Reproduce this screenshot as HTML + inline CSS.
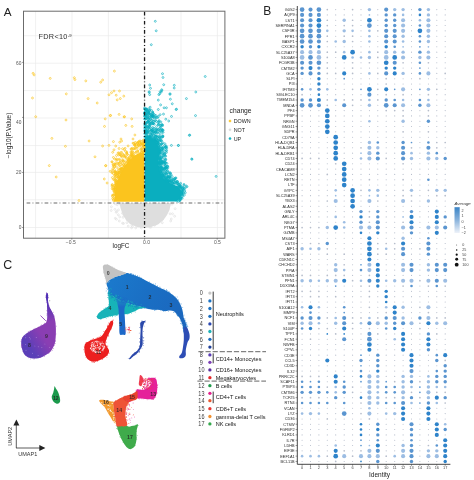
<!DOCTYPE html>
<html><head><meta charset="utf-8"><style>
html,body{margin:0;padding:0;background:#fff;width:474px;height:480px;overflow:hidden}
svg{display:block;filter:blur(0.3px)}
text{font-family:"Liberation Sans", sans-serif}
</style></head><body>
<svg width="474" height="480" viewBox="0 0 474 480" font-family='"Liberation Sans", sans-serif'><g id="A">
<line x1="35.6" y1="11.2" x2="35.6" y2="238.2" stroke="#ebebeb" stroke-width="0.7"/>
<line x1="72.0" y1="11.2" x2="72.0" y2="238.2" stroke="#ebebeb" stroke-width="0.7"/>
<line x1="108.4" y1="11.2" x2="108.4" y2="238.2" stroke="#ebebeb" stroke-width="0.7"/>
<line x1="144.5" y1="11.2" x2="144.5" y2="238.2" stroke="#ebebeb" stroke-width="0.7"/>
<line x1="181.0" y1="11.2" x2="181.0" y2="238.2" stroke="#ebebeb" stroke-width="0.7"/>
<line x1="217.4" y1="11.2" x2="217.4" y2="238.2" stroke="#ebebeb" stroke-width="0.7"/>
<line x1="23.5" y1="35.7" x2="224.9" y2="35.7" stroke="#ebebeb" stroke-width="0.7"/>
<line x1="23.5" y1="63.2" x2="224.9" y2="63.2" stroke="#ebebeb" stroke-width="0.7"/>
<line x1="23.5" y1="90.6" x2="224.9" y2="90.6" stroke="#ebebeb" stroke-width="0.7"/>
<line x1="23.5" y1="118.0" x2="224.9" y2="118.0" stroke="#ebebeb" stroke-width="0.7"/>
<line x1="23.5" y1="145.6" x2="224.9" y2="145.6" stroke="#ebebeb" stroke-width="0.7"/>
<line x1="23.5" y1="172.4" x2="224.9" y2="172.4" stroke="#ebebeb" stroke-width="0.7"/>
<line x1="23.5" y1="199.8" x2="224.9" y2="199.8" stroke="#ebebeb" stroke-width="0.7"/>
<line x1="23.5" y1="227.5" x2="224.9" y2="227.5" stroke="#ebebeb" stroke-width="0.7"/>
<path d="M119.5,203.0 L171.0,203.0 L169.5,210.0 L167.0,215.0 L163.5,220.0 L158.0,224.5 L151.0,227.0 L144.0,227.8 L137.0,227.0 L130.0,224.0 L126.0,220.0 L122.5,214.0 L120.5,208.0 Z" fill="#dedede"/>
<path d="M114.0,201.8 L115.0,192.0 L117.0,182.0 L120.0,174.0 L124.0,167.0 L128.5,161.0 L133.0,156.5 L138.0,153.5 L144.2,152.0 L144.2,201.8 Z" fill="#fbc41e"/>
<path d="M144.6,201.6 L144.6,136.0 L148.0,136.5 L152.5,139.0 L156.0,142.0 L159.0,148.0 L159.0,156.0 L158.5,163.0 L159.5,170.0 L162.0,176.0 L166.0,181.0 L172.0,184.0 L177.0,186.0 L180.5,189.0 L181.5,194.0 L180.0,199.0 L176.0,201.6 Z" fill="#0aaebf"/>
<circle cx="142.1" cy="218.7" r="0.95" fill="none" stroke="#dedede" stroke-width="0.65"/>
<circle cx="146.1" cy="219.4" r="0.95" fill="none" stroke="#dedede" stroke-width="0.65"/>
<circle cx="123.1" cy="217.3" r="0.95" fill="none" stroke="#dedede" stroke-width="0.65"/>
<circle cx="154.7" cy="225.2" r="0.95" fill="none" stroke="#dedede" stroke-width="0.65"/>
<circle cx="116.7" cy="211.5" r="0.95" fill="none" stroke="#dedede" stroke-width="0.65"/>
<circle cx="159.2" cy="204.2" r="0.95" fill="none" stroke="#dedede" stroke-width="0.65"/>
<circle cx="156.4" cy="220.2" r="0.95" fill="none" stroke="#dedede" stroke-width="0.65"/>
<circle cx="121.2" cy="203.4" r="0.95" fill="none" stroke="#dedede" stroke-width="0.65"/>
<circle cx="147.5" cy="204.7" r="0.95" fill="none" stroke="#dedede" stroke-width="0.65"/>
<circle cx="123.5" cy="209.8" r="0.95" fill="none" stroke="#dedede" stroke-width="0.65"/>
<circle cx="141.3" cy="226.6" r="0.95" fill="none" stroke="#dedede" stroke-width="0.65"/>
<circle cx="146.9" cy="220.9" r="0.95" fill="none" stroke="#dedede" stroke-width="0.65"/>
<circle cx="145.5" cy="221.5" r="0.95" fill="none" stroke="#dedede" stroke-width="0.65"/>
<circle cx="142.5" cy="210.8" r="0.95" fill="none" stroke="#dedede" stroke-width="0.65"/>
<circle cx="132.4" cy="209.4" r="0.95" fill="none" stroke="#dedede" stroke-width="0.65"/>
<circle cx="130.5" cy="205.0" r="0.95" fill="none" stroke="#dedede" stroke-width="0.65"/>
<circle cx="164.4" cy="214.2" r="0.95" fill="none" stroke="#dedede" stroke-width="0.65"/>
<circle cx="170.1" cy="213.8" r="0.95" fill="none" stroke="#dedede" stroke-width="0.65"/>
<circle cx="174.6" cy="216.2" r="0.95" fill="none" stroke="#dedede" stroke-width="0.65"/>
<circle cx="165.3" cy="210.6" r="0.95" fill="none" stroke="#dedede" stroke-width="0.65"/>
<circle cx="116.2" cy="212.3" r="0.95" fill="none" stroke="#dedede" stroke-width="0.65"/>
<circle cx="118.4" cy="209.9" r="0.95" fill="none" stroke="#dedede" stroke-width="0.65"/>
<circle cx="117.2" cy="204.7" r="0.95" fill="none" stroke="#dedede" stroke-width="0.65"/>
<circle cx="166.6" cy="208.0" r="0.95" fill="none" stroke="#dedede" stroke-width="0.65"/>
<circle cx="149.7" cy="215.5" r="0.95" fill="none" stroke="#dedede" stroke-width="0.65"/>
<circle cx="123.5" cy="223.5" r="0.95" fill="none" stroke="#dedede" stroke-width="0.65"/>
<circle cx="119.3" cy="221.0" r="0.95" fill="none" stroke="#dedede" stroke-width="0.65"/>
<circle cx="118.3" cy="214.8" r="0.95" fill="none" stroke="#dedede" stroke-width="0.65"/>
<circle cx="125.1" cy="210.6" r="0.95" fill="none" stroke="#dedede" stroke-width="0.65"/>
<circle cx="131.6" cy="227.8" r="0.95" fill="none" stroke="#dedede" stroke-width="0.65"/>
<circle cx="125.0" cy="214.0" r="0.95" fill="none" stroke="#dedede" stroke-width="0.65"/>
<circle cx="170.7" cy="221.0" r="0.95" fill="none" stroke="#dedede" stroke-width="0.65"/>
<circle cx="125.1" cy="210.2" r="0.95" fill="none" stroke="#dedede" stroke-width="0.65"/>
<circle cx="164.9" cy="212.2" r="0.95" fill="none" stroke="#dedede" stroke-width="0.65"/>
<circle cx="131.0" cy="205.1" r="0.95" fill="none" stroke="#dedede" stroke-width="0.65"/>
<circle cx="116.4" cy="219.3" r="0.95" fill="none" stroke="#dedede" stroke-width="0.65"/>
<circle cx="127.3" cy="219.8" r="0.95" fill="none" stroke="#dedede" stroke-width="0.65"/>
<circle cx="136.4" cy="215.7" r="0.95" fill="none" stroke="#dedede" stroke-width="0.65"/>
<circle cx="150.8" cy="227.3" r="0.95" fill="none" stroke="#dedede" stroke-width="0.65"/>
<circle cx="123.0" cy="207.3" r="0.95" fill="none" stroke="#dedede" stroke-width="0.65"/>
<circle cx="127.7" cy="208.3" r="0.95" fill="none" stroke="#dedede" stroke-width="0.65"/>
<circle cx="139.9" cy="205.9" r="0.95" fill="none" stroke="#dedede" stroke-width="0.65"/>
<circle cx="126.9" cy="222.7" r="0.95" fill="none" stroke="#dedede" stroke-width="0.65"/>
<circle cx="128.2" cy="226.1" r="0.95" fill="none" stroke="#dedede" stroke-width="0.65"/>
<circle cx="152.3" cy="211.2" r="0.95" fill="none" stroke="#dedede" stroke-width="0.65"/>
<circle cx="122.5" cy="223.2" r="0.95" fill="none" stroke="#dedede" stroke-width="0.65"/>
<circle cx="114.9" cy="209.4" r="0.95" fill="none" stroke="#dedede" stroke-width="0.65"/>
<circle cx="149.7" cy="226.9" r="0.95" fill="none" stroke="#dedede" stroke-width="0.65"/>
<circle cx="153.6" cy="210.8" r="0.95" fill="none" stroke="#dedede" stroke-width="0.65"/>
<circle cx="175.1" cy="208.7" r="0.95" fill="none" stroke="#dedede" stroke-width="0.65"/>
<circle cx="111.2" cy="210.5" r="0.95" fill="none" stroke="#dedede" stroke-width="0.65"/>
<circle cx="141.6" cy="204.7" r="0.95" fill="none" stroke="#dedede" stroke-width="0.65"/>
<circle cx="122.5" cy="213.3" r="0.95" fill="none" stroke="#dedede" stroke-width="0.65"/>
<circle cx="150.6" cy="206.7" r="0.95" fill="none" stroke="#dedede" stroke-width="0.65"/>
<circle cx="135.7" cy="227.9" r="0.95" fill="none" stroke="#dedede" stroke-width="0.65"/>
<circle cx="159.1" cy="219.4" r="0.95" fill="none" stroke="#dedede" stroke-width="0.65"/>
<circle cx="120.0" cy="204.0" r="0.95" fill="none" stroke="#dedede" stroke-width="0.65"/>
<circle cx="144.2" cy="223.5" r="0.95" fill="none" stroke="#dedede" stroke-width="0.65"/>
<circle cx="115.3" cy="218.3" r="0.95" fill="none" stroke="#dedede" stroke-width="0.65"/>
<circle cx="162.3" cy="222.7" r="0.95" fill="none" stroke="#dedede" stroke-width="0.65"/>
<circle cx="135.0" cy="222.2" r="0.95" fill="none" stroke="#dedede" stroke-width="0.65"/>
<circle cx="139.6" cy="225.1" r="0.95" fill="none" stroke="#dedede" stroke-width="0.65"/>
<circle cx="171.3" cy="219.0" r="0.95" fill="none" stroke="#dedede" stroke-width="0.65"/>
<circle cx="154.4" cy="213.7" r="0.95" fill="none" stroke="#dedede" stroke-width="0.65"/>
<circle cx="151.4" cy="220.0" r="0.95" fill="none" stroke="#dedede" stroke-width="0.65"/>
<circle cx="161.7" cy="213.9" r="0.95" fill="none" stroke="#dedede" stroke-width="0.65"/>
<circle cx="162.2" cy="219.3" r="0.95" fill="none" stroke="#dedede" stroke-width="0.65"/>
<circle cx="141.3" cy="226.5" r="0.95" fill="none" stroke="#dedede" stroke-width="0.65"/>
<circle cx="144.1" cy="209.4" r="0.95" fill="none" stroke="#dedede" stroke-width="0.65"/>
<circle cx="159.6" cy="216.9" r="0.95" fill="none" stroke="#dedede" stroke-width="0.65"/>
<circle cx="128.2" cy="203.3" r="0.95" fill="none" stroke="#dedede" stroke-width="0.65"/>
<circle cx="131.4" cy="222.0" r="0.95" fill="none" stroke="#dedede" stroke-width="0.65"/>
<circle cx="124.4" cy="207.7" r="0.95" fill="none" stroke="#dedede" stroke-width="0.65"/>
<circle cx="141.4" cy="228.0" r="0.95" fill="none" stroke="#dedede" stroke-width="0.65"/>
<circle cx="133.2" cy="221.6" r="0.95" fill="none" stroke="#dedede" stroke-width="0.65"/>
<circle cx="124.1" cy="215.1" r="0.95" fill="none" stroke="#dedede" stroke-width="0.65"/>
<circle cx="172.5" cy="213.8" r="0.95" fill="none" stroke="#dedede" stroke-width="0.65"/>
<circle cx="151.4" cy="211.9" r="0.95" fill="none" stroke="#dedede" stroke-width="0.65"/>
<circle cx="119.7" cy="216.9" r="0.95" fill="none" stroke="#dedede" stroke-width="0.65"/>
<circle cx="129.7" cy="207.7" r="0.95" fill="none" stroke="#dedede" stroke-width="0.65"/>
<circle cx="142.0" cy="210.7" r="0.95" fill="none" stroke="#dedede" stroke-width="0.65"/>
<circle cx="125.2" cy="214.6" r="0.95" fill="none" stroke="#dedede" stroke-width="0.65"/>
<circle cx="154.4" cy="216.8" r="0.95" fill="none" stroke="#dedede" stroke-width="0.65"/>
<circle cx="132.4" cy="226.5" r="0.95" fill="none" stroke="#dedede" stroke-width="0.65"/>
<circle cx="115.3" cy="203.9" r="0.95" fill="none" stroke="#dedede" stroke-width="0.65"/>
<circle cx="172.0" cy="204.2" r="0.95" fill="none" stroke="#dedede" stroke-width="0.65"/>
<circle cx="160.3" cy="219.0" r="0.95" fill="none" stroke="#dedede" stroke-width="0.65"/>
<circle cx="131.9" cy="225.2" r="0.95" fill="none" stroke="#dedede" stroke-width="0.65"/>
<circle cx="111.4" cy="206.8" r="0.95" fill="none" stroke="#dedede" stroke-width="0.65"/>
<circle cx="142.3" cy="203.7" r="0.95" fill="none" stroke="#dedede" stroke-width="0.65"/>
<circle cx="115.1" cy="191.0" r="0.95" fill="none" stroke="#fbc41e" stroke-width="0.65"/>
<circle cx="141.4" cy="142.9" r="0.95" fill="none" stroke="#fbc41e" stroke-width="0.65"/>
<circle cx="115.5" cy="182.1" r="0.95" fill="none" stroke="#fbc41e" stroke-width="0.65"/>
<circle cx="137.7" cy="151.0" r="0.95" fill="none" stroke="#fbc41e" stroke-width="0.65"/>
<circle cx="116.1" cy="183.9" r="0.95" fill="none" stroke="#fbc41e" stroke-width="0.65"/>
<circle cx="123.6" cy="161.3" r="0.95" fill="none" stroke="#fbc41e" stroke-width="0.65"/>
<circle cx="114.9" cy="164.2" r="0.95" fill="none" stroke="#fbc41e" stroke-width="0.65"/>
<circle cx="134.9" cy="145.4" r="0.95" fill="none" stroke="#fbc41e" stroke-width="0.65"/>
<circle cx="135.2" cy="148.0" r="0.95" fill="none" stroke="#fbc41e" stroke-width="0.65"/>
<circle cx="122.5" cy="168.5" r="0.95" fill="none" stroke="#fbc41e" stroke-width="0.65"/>
<circle cx="118.0" cy="153.1" r="0.95" fill="none" stroke="#fbc41e" stroke-width="0.65"/>
<circle cx="112.2" cy="188.6" r="0.95" fill="none" stroke="#fbc41e" stroke-width="0.65"/>
<circle cx="138.6" cy="145.1" r="0.95" fill="none" stroke="#fbc41e" stroke-width="0.65"/>
<circle cx="143.6" cy="143.9" r="0.95" fill="none" stroke="#fbc41e" stroke-width="0.65"/>
<circle cx="128.4" cy="160.6" r="0.95" fill="none" stroke="#fbc41e" stroke-width="0.65"/>
<circle cx="131.4" cy="149.1" r="0.95" fill="none" stroke="#fbc41e" stroke-width="0.65"/>
<circle cx="114.2" cy="198.4" r="0.95" fill="none" stroke="#fbc41e" stroke-width="0.65"/>
<circle cx="115.9" cy="172.4" r="0.95" fill="none" stroke="#fbc41e" stroke-width="0.65"/>
<circle cx="113.3" cy="179.3" r="0.95" fill="none" stroke="#fbc41e" stroke-width="0.65"/>
<circle cx="118.4" cy="174.4" r="0.95" fill="none" stroke="#fbc41e" stroke-width="0.65"/>
<circle cx="118.8" cy="152.8" r="0.95" fill="none" stroke="#fbc41e" stroke-width="0.65"/>
<circle cx="120.5" cy="172.2" r="0.95" fill="none" stroke="#fbc41e" stroke-width="0.65"/>
<circle cx="117.1" cy="173.0" r="0.95" fill="none" stroke="#fbc41e" stroke-width="0.65"/>
<circle cx="115.2" cy="171.7" r="0.95" fill="none" stroke="#fbc41e" stroke-width="0.65"/>
<circle cx="115.8" cy="174.6" r="0.95" fill="none" stroke="#fbc41e" stroke-width="0.65"/>
<circle cx="141.3" cy="144.1" r="0.95" fill="none" stroke="#fbc41e" stroke-width="0.65"/>
<circle cx="132.5" cy="156.6" r="0.95" fill="none" stroke="#fbc41e" stroke-width="0.65"/>
<circle cx="114.5" cy="166.7" r="0.95" fill="none" stroke="#fbc41e" stroke-width="0.65"/>
<circle cx="122.2" cy="169.3" r="0.95" fill="none" stroke="#fbc41e" stroke-width="0.65"/>
<circle cx="144.2" cy="148.0" r="0.95" fill="none" stroke="#fbc41e" stroke-width="0.65"/>
<circle cx="130.9" cy="151.9" r="0.95" fill="none" stroke="#fbc41e" stroke-width="0.65"/>
<circle cx="123.0" cy="159.8" r="0.95" fill="none" stroke="#fbc41e" stroke-width="0.65"/>
<circle cx="143.8" cy="146.5" r="0.95" fill="none" stroke="#fbc41e" stroke-width="0.65"/>
<circle cx="121.0" cy="171.4" r="0.95" fill="none" stroke="#fbc41e" stroke-width="0.65"/>
<circle cx="119.3" cy="172.6" r="0.95" fill="none" stroke="#fbc41e" stroke-width="0.65"/>
<circle cx="124.7" cy="165.4" r="0.95" fill="none" stroke="#fbc41e" stroke-width="0.65"/>
<circle cx="131.1" cy="152.6" r="0.95" fill="none" stroke="#fbc41e" stroke-width="0.65"/>
<circle cx="123.0" cy="154.3" r="0.95" fill="none" stroke="#fbc41e" stroke-width="0.65"/>
<circle cx="129.1" cy="159.4" r="0.95" fill="none" stroke="#fbc41e" stroke-width="0.65"/>
<circle cx="132.2" cy="148.2" r="0.95" fill="none" stroke="#fbc41e" stroke-width="0.65"/>
<circle cx="121.2" cy="156.0" r="0.95" fill="none" stroke="#fbc41e" stroke-width="0.65"/>
<circle cx="124.5" cy="165.9" r="0.95" fill="none" stroke="#fbc41e" stroke-width="0.65"/>
<circle cx="125.7" cy="164.8" r="0.95" fill="none" stroke="#fbc41e" stroke-width="0.65"/>
<circle cx="121.6" cy="152.4" r="0.95" fill="none" stroke="#fbc41e" stroke-width="0.65"/>
<circle cx="113.5" cy="199.6" r="0.95" fill="none" stroke="#fbc41e" stroke-width="0.65"/>
<circle cx="116.9" cy="182.2" r="0.95" fill="none" stroke="#fbc41e" stroke-width="0.65"/>
<circle cx="137.8" cy="146.5" r="0.95" fill="none" stroke="#fbc41e" stroke-width="0.65"/>
<circle cx="121.0" cy="171.7" r="0.95" fill="none" stroke="#fbc41e" stroke-width="0.65"/>
<circle cx="125.5" cy="151.3" r="0.95" fill="none" stroke="#fbc41e" stroke-width="0.65"/>
<circle cx="128.1" cy="145.9" r="0.95" fill="none" stroke="#fbc41e" stroke-width="0.65"/>
<circle cx="121.7" cy="168.4" r="0.95" fill="none" stroke="#fbc41e" stroke-width="0.65"/>
<circle cx="120.7" cy="168.7" r="0.95" fill="none" stroke="#fbc41e" stroke-width="0.65"/>
<circle cx="115.2" cy="177.0" r="0.95" fill="none" stroke="#fbc41e" stroke-width="0.65"/>
<circle cx="114.2" cy="191.9" r="0.95" fill="none" stroke="#fbc41e" stroke-width="0.65"/>
<circle cx="136.3" cy="152.0" r="0.95" fill="none" stroke="#fbc41e" stroke-width="0.65"/>
<circle cx="121.8" cy="164.9" r="0.95" fill="none" stroke="#fbc41e" stroke-width="0.65"/>
<circle cx="123.6" cy="155.9" r="0.95" fill="none" stroke="#fbc41e" stroke-width="0.65"/>
<circle cx="115.3" cy="164.9" r="0.95" fill="none" stroke="#fbc41e" stroke-width="0.65"/>
<circle cx="115.8" cy="184.4" r="0.95" fill="none" stroke="#fbc41e" stroke-width="0.65"/>
<circle cx="121.3" cy="168.8" r="0.95" fill="none" stroke="#fbc41e" stroke-width="0.65"/>
<circle cx="127.1" cy="154.3" r="0.95" fill="none" stroke="#fbc41e" stroke-width="0.65"/>
<circle cx="123.1" cy="160.8" r="0.95" fill="none" stroke="#fbc41e" stroke-width="0.65"/>
<circle cx="112.1" cy="172.8" r="0.95" fill="none" stroke="#fbc41e" stroke-width="0.65"/>
<circle cx="139.0" cy="141.4" r="0.95" fill="none" stroke="#fbc41e" stroke-width="0.65"/>
<circle cx="134.1" cy="155.8" r="0.95" fill="none" stroke="#fbc41e" stroke-width="0.65"/>
<circle cx="143.7" cy="152.0" r="0.95" fill="none" stroke="#fbc41e" stroke-width="0.65"/>
<circle cx="128.5" cy="155.4" r="0.95" fill="none" stroke="#fbc41e" stroke-width="0.65"/>
<circle cx="134.7" cy="144.7" r="0.95" fill="none" stroke="#fbc41e" stroke-width="0.65"/>
<circle cx="143.8" cy="142.8" r="0.95" fill="none" stroke="#fbc41e" stroke-width="0.65"/>
<circle cx="119.9" cy="169.0" r="0.95" fill="none" stroke="#fbc41e" stroke-width="0.65"/>
<circle cx="112.4" cy="177.6" r="0.95" fill="none" stroke="#fbc41e" stroke-width="0.65"/>
<circle cx="120.0" cy="165.9" r="0.95" fill="none" stroke="#fbc41e" stroke-width="0.65"/>
<circle cx="120.6" cy="162.5" r="0.95" fill="none" stroke="#fbc41e" stroke-width="0.65"/>
<circle cx="115.5" cy="174.5" r="0.95" fill="none" stroke="#fbc41e" stroke-width="0.65"/>
<circle cx="130.0" cy="158.2" r="0.95" fill="none" stroke="#fbc41e" stroke-width="0.65"/>
<circle cx="137.3" cy="142.6" r="0.95" fill="none" stroke="#fbc41e" stroke-width="0.65"/>
<circle cx="118.2" cy="164.0" r="0.95" fill="none" stroke="#fbc41e" stroke-width="0.65"/>
<circle cx="133.0" cy="143.1" r="0.95" fill="none" stroke="#fbc41e" stroke-width="0.65"/>
<circle cx="140.9" cy="144.5" r="0.95" fill="none" stroke="#fbc41e" stroke-width="0.65"/>
<circle cx="118.6" cy="155.0" r="0.95" fill="none" stroke="#fbc41e" stroke-width="0.65"/>
<circle cx="115.8" cy="177.1" r="0.95" fill="none" stroke="#fbc41e" stroke-width="0.65"/>
<circle cx="123.4" cy="168.0" r="0.95" fill="none" stroke="#fbc41e" stroke-width="0.65"/>
<circle cx="118.8" cy="172.5" r="0.95" fill="none" stroke="#fbc41e" stroke-width="0.65"/>
<circle cx="116.8" cy="181.1" r="0.95" fill="none" stroke="#fbc41e" stroke-width="0.65"/>
<circle cx="114.6" cy="175.8" r="0.95" fill="none" stroke="#fbc41e" stroke-width="0.65"/>
<circle cx="120.2" cy="154.7" r="0.95" fill="none" stroke="#fbc41e" stroke-width="0.65"/>
<circle cx="120.2" cy="162.1" r="0.95" fill="none" stroke="#fbc41e" stroke-width="0.65"/>
<circle cx="116.3" cy="174.7" r="0.95" fill="none" stroke="#fbc41e" stroke-width="0.65"/>
<circle cx="115.8" cy="186.3" r="0.95" fill="none" stroke="#fbc41e" stroke-width="0.65"/>
<circle cx="114.8" cy="194.0" r="0.95" fill="none" stroke="#fbc41e" stroke-width="0.65"/>
<circle cx="125.6" cy="156.7" r="0.95" fill="none" stroke="#fbc41e" stroke-width="0.65"/>
<circle cx="144.0" cy="146.3" r="0.95" fill="none" stroke="#fbc41e" stroke-width="0.65"/>
<circle cx="138.5" cy="145.3" r="0.95" fill="none" stroke="#fbc41e" stroke-width="0.65"/>
<circle cx="116.5" cy="178.8" r="0.95" fill="none" stroke="#fbc41e" stroke-width="0.65"/>
<circle cx="126.8" cy="153.0" r="0.95" fill="none" stroke="#fbc41e" stroke-width="0.65"/>
<circle cx="115.0" cy="191.6" r="0.95" fill="none" stroke="#fbc41e" stroke-width="0.65"/>
<circle cx="115.0" cy="187.3" r="0.95" fill="none" stroke="#fbc41e" stroke-width="0.65"/>
<circle cx="131.1" cy="155.9" r="0.95" fill="none" stroke="#fbc41e" stroke-width="0.65"/>
<circle cx="120.1" cy="160.0" r="0.95" fill="none" stroke="#fbc41e" stroke-width="0.65"/>
<circle cx="115.9" cy="162.7" r="0.95" fill="none" stroke="#fbc41e" stroke-width="0.65"/>
<circle cx="138.5" cy="144.8" r="0.95" fill="none" stroke="#fbc41e" stroke-width="0.65"/>
<circle cx="121.2" cy="169.8" r="0.95" fill="none" stroke="#fbc41e" stroke-width="0.65"/>
<circle cx="115.6" cy="187.7" r="0.95" fill="none" stroke="#fbc41e" stroke-width="0.65"/>
<circle cx="116.8" cy="180.7" r="0.95" fill="none" stroke="#fbc41e" stroke-width="0.65"/>
<circle cx="129.5" cy="157.4" r="0.95" fill="none" stroke="#fbc41e" stroke-width="0.65"/>
<circle cx="116.4" cy="184.6" r="0.95" fill="none" stroke="#fbc41e" stroke-width="0.65"/>
<circle cx="115.0" cy="189.4" r="0.95" fill="none" stroke="#fbc41e" stroke-width="0.65"/>
<circle cx="115.1" cy="164.6" r="0.95" fill="none" stroke="#fbc41e" stroke-width="0.65"/>
<circle cx="132.0" cy="155.3" r="0.95" fill="none" stroke="#fbc41e" stroke-width="0.65"/>
<circle cx="124.8" cy="162.3" r="0.95" fill="none" stroke="#fbc41e" stroke-width="0.65"/>
<circle cx="126.8" cy="152.0" r="0.95" fill="none" stroke="#fbc41e" stroke-width="0.65"/>
<circle cx="115.0" cy="174.6" r="0.95" fill="none" stroke="#fbc41e" stroke-width="0.65"/>
<circle cx="141.2" cy="141.4" r="0.95" fill="none" stroke="#fbc41e" stroke-width="0.65"/>
<circle cx="135.0" cy="143.9" r="0.95" fill="none" stroke="#fbc41e" stroke-width="0.65"/>
<circle cx="134.7" cy="145.2" r="0.95" fill="none" stroke="#fbc41e" stroke-width="0.65"/>
<circle cx="113.3" cy="195.3" r="0.95" fill="none" stroke="#fbc41e" stroke-width="0.65"/>
<circle cx="133.9" cy="148.8" r="0.95" fill="none" stroke="#fbc41e" stroke-width="0.65"/>
<circle cx="123.7" cy="155.1" r="0.95" fill="none" stroke="#fbc41e" stroke-width="0.65"/>
<circle cx="113.5" cy="164.3" r="0.95" fill="none" stroke="#fbc41e" stroke-width="0.65"/>
<circle cx="119.2" cy="165.3" r="0.95" fill="none" stroke="#fbc41e" stroke-width="0.65"/>
<circle cx="115.0" cy="172.2" r="0.95" fill="none" stroke="#fbc41e" stroke-width="0.65"/>
<circle cx="124.4" cy="165.9" r="0.95" fill="none" stroke="#fbc41e" stroke-width="0.65"/>
<circle cx="126.1" cy="163.1" r="0.95" fill="none" stroke="#fbc41e" stroke-width="0.65"/>
<circle cx="113.2" cy="166.1" r="0.95" fill="none" stroke="#fbc41e" stroke-width="0.65"/>
<circle cx="143.9" cy="143.6" r="0.95" fill="none" stroke="#fbc41e" stroke-width="0.65"/>
<circle cx="138.0" cy="151.0" r="0.95" fill="none" stroke="#fbc41e" stroke-width="0.65"/>
<circle cx="143.7" cy="142.2" r="0.95" fill="none" stroke="#fbc41e" stroke-width="0.65"/>
<circle cx="126.7" cy="153.4" r="0.95" fill="none" stroke="#fbc41e" stroke-width="0.65"/>
<circle cx="118.7" cy="176.6" r="0.95" fill="none" stroke="#fbc41e" stroke-width="0.65"/>
<circle cx="122.1" cy="157.3" r="0.95" fill="none" stroke="#fbc41e" stroke-width="0.65"/>
<circle cx="119.1" cy="159.2" r="0.95" fill="none" stroke="#fbc41e" stroke-width="0.65"/>
<circle cx="114.3" cy="169.5" r="0.95" fill="none" stroke="#fbc41e" stroke-width="0.65"/>
<circle cx="122.4" cy="169.7" r="0.95" fill="none" stroke="#fbc41e" stroke-width="0.65"/>
<circle cx="122.3" cy="163.7" r="0.95" fill="none" stroke="#fbc41e" stroke-width="0.65"/>
<circle cx="124.7" cy="156.9" r="0.95" fill="none" stroke="#fbc41e" stroke-width="0.65"/>
<circle cx="131.1" cy="154.6" r="0.95" fill="none" stroke="#fbc41e" stroke-width="0.65"/>
<circle cx="119.3" cy="162.9" r="0.95" fill="none" stroke="#fbc41e" stroke-width="0.65"/>
<circle cx="118.5" cy="177.3" r="0.95" fill="none" stroke="#fbc41e" stroke-width="0.65"/>
<circle cx="117.4" cy="159.8" r="0.95" fill="none" stroke="#fbc41e" stroke-width="0.65"/>
<circle cx="112.3" cy="171.7" r="0.95" fill="none" stroke="#fbc41e" stroke-width="0.65"/>
<circle cx="132.6" cy="156.4" r="0.95" fill="none" stroke="#fbc41e" stroke-width="0.65"/>
<circle cx="112.8" cy="187.4" r="0.95" fill="none" stroke="#fbc41e" stroke-width="0.65"/>
<circle cx="135.2" cy="145.1" r="0.95" fill="none" stroke="#fbc41e" stroke-width="0.65"/>
<circle cx="139.7" cy="146.0" r="0.95" fill="none" stroke="#fbc41e" stroke-width="0.65"/>
<circle cx="112.5" cy="196.4" r="0.95" fill="none" stroke="#fbc41e" stroke-width="0.65"/>
<circle cx="133.5" cy="152.8" r="0.95" fill="none" stroke="#fbc41e" stroke-width="0.65"/>
<circle cx="141.3" cy="149.7" r="0.95" fill="none" stroke="#fbc41e" stroke-width="0.65"/>
<circle cx="128.5" cy="159.1" r="0.95" fill="none" stroke="#fbc41e" stroke-width="0.65"/>
<circle cx="121.3" cy="168.7" r="0.95" fill="none" stroke="#fbc41e" stroke-width="0.65"/>
<circle cx="115.9" cy="182.3" r="0.95" fill="none" stroke="#fbc41e" stroke-width="0.65"/>
<circle cx="140.0" cy="140.8" r="0.95" fill="none" stroke="#fbc41e" stroke-width="0.65"/>
<circle cx="131.4" cy="154.6" r="0.95" fill="none" stroke="#fbc41e" stroke-width="0.65"/>
<circle cx="113.9" cy="189.2" r="0.95" fill="none" stroke="#fbc41e" stroke-width="0.65"/>
<circle cx="126.2" cy="157.9" r="0.95" fill="none" stroke="#fbc41e" stroke-width="0.65"/>
<circle cx="128.1" cy="158.3" r="0.95" fill="none" stroke="#fbc41e" stroke-width="0.65"/>
<circle cx="117.1" cy="181.0" r="0.95" fill="none" stroke="#fbc41e" stroke-width="0.65"/>
<circle cx="112.0" cy="185.0" r="0.95" fill="none" stroke="#fbc41e" stroke-width="0.65"/>
<circle cx="128.9" cy="160.4" r="0.95" fill="none" stroke="#fbc41e" stroke-width="0.65"/>
<circle cx="133.3" cy="148.7" r="0.95" fill="none" stroke="#fbc41e" stroke-width="0.65"/>
<circle cx="115.7" cy="183.6" r="0.95" fill="none" stroke="#fbc41e" stroke-width="0.65"/>
<circle cx="143.6" cy="145.5" r="0.95" fill="none" stroke="#fbc41e" stroke-width="0.65"/>
<circle cx="144.0" cy="147.6" r="0.95" fill="none" stroke="#fbc41e" stroke-width="0.65"/>
<circle cx="115.7" cy="171.5" r="0.95" fill="none" stroke="#fbc41e" stroke-width="0.65"/>
<circle cx="129.1" cy="160.4" r="0.95" fill="none" stroke="#fbc41e" stroke-width="0.65"/>
<circle cx="113.1" cy="164.6" r="0.95" fill="none" stroke="#fbc41e" stroke-width="0.65"/>
<circle cx="117.8" cy="177.4" r="0.95" fill="none" stroke="#fbc41e" stroke-width="0.65"/>
<circle cx="128.2" cy="161.0" r="0.95" fill="none" stroke="#fbc41e" stroke-width="0.65"/>
<circle cx="117.7" cy="163.2" r="0.95" fill="none" stroke="#fbc41e" stroke-width="0.65"/>
<circle cx="124.4" cy="149.7" r="0.95" fill="none" stroke="#fbc41e" stroke-width="0.65"/>
<circle cx="117.8" cy="173.7" r="0.95" fill="none" stroke="#fbc41e" stroke-width="0.65"/>
<circle cx="122.6" cy="148.7" r="0.95" fill="none" stroke="#fbc41e" stroke-width="0.65"/>
<circle cx="114.7" cy="171.7" r="0.95" fill="none" stroke="#fbc41e" stroke-width="0.65"/>
<circle cx="132.6" cy="152.1" r="0.95" fill="none" stroke="#fbc41e" stroke-width="0.65"/>
<circle cx="141.5" cy="152.2" r="0.95" fill="none" stroke="#fbc41e" stroke-width="0.65"/>
<circle cx="126.7" cy="160.2" r="0.95" fill="none" stroke="#fbc41e" stroke-width="0.65"/>
<circle cx="112.9" cy="168.5" r="0.95" fill="none" stroke="#fbc41e" stroke-width="0.65"/>
<circle cx="137.0" cy="148.3" r="0.95" fill="none" stroke="#fbc41e" stroke-width="0.65"/>
<circle cx="119.1" cy="174.5" r="0.95" fill="none" stroke="#fbc41e" stroke-width="0.65"/>
<circle cx="142.0" cy="147.5" r="0.95" fill="none" stroke="#fbc41e" stroke-width="0.65"/>
<circle cx="113.6" cy="195.2" r="0.95" fill="none" stroke="#fbc41e" stroke-width="0.65"/>
<circle cx="113.9" cy="191.1" r="0.95" fill="none" stroke="#fbc41e" stroke-width="0.65"/>
<circle cx="143.5" cy="144.7" r="0.95" fill="none" stroke="#fbc41e" stroke-width="0.65"/>
<circle cx="114.7" cy="180.5" r="0.95" fill="none" stroke="#fbc41e" stroke-width="0.65"/>
<circle cx="114.4" cy="185.4" r="0.95" fill="none" stroke="#fbc41e" stroke-width="0.65"/>
<circle cx="115.3" cy="189.4" r="0.95" fill="none" stroke="#fbc41e" stroke-width="0.65"/>
<circle cx="121.1" cy="168.8" r="0.95" fill="none" stroke="#fbc41e" stroke-width="0.65"/>
<circle cx="117.3" cy="175.0" r="0.95" fill="none" stroke="#fbc41e" stroke-width="0.65"/>
<circle cx="131.1" cy="156.2" r="0.95" fill="none" stroke="#fbc41e" stroke-width="0.65"/>
<circle cx="114.9" cy="179.5" r="0.95" fill="none" stroke="#fbc41e" stroke-width="0.65"/>
<circle cx="135.2" cy="148.9" r="0.95" fill="none" stroke="#fbc41e" stroke-width="0.65"/>
<circle cx="118.4" cy="168.9" r="0.95" fill="none" stroke="#fbc41e" stroke-width="0.65"/>
<circle cx="114.4" cy="166.7" r="0.95" fill="none" stroke="#fbc41e" stroke-width="0.65"/>
<circle cx="119.0" cy="172.3" r="0.95" fill="none" stroke="#fbc41e" stroke-width="0.65"/>
<circle cx="133.5" cy="143.4" r="0.95" fill="none" stroke="#fbc41e" stroke-width="0.65"/>
<circle cx="114.3" cy="186.2" r="0.95" fill="none" stroke="#fbc41e" stroke-width="0.65"/>
<circle cx="140.7" cy="144.3" r="0.95" fill="none" stroke="#fbc41e" stroke-width="0.65"/>
<circle cx="121.7" cy="170.9" r="0.95" fill="none" stroke="#fbc41e" stroke-width="0.65"/>
<circle cx="132.3" cy="154.7" r="0.95" fill="none" stroke="#fbc41e" stroke-width="0.65"/>
<circle cx="119.7" cy="154.5" r="0.95" fill="none" stroke="#fbc41e" stroke-width="0.65"/>
<circle cx="113.1" cy="189.5" r="0.95" fill="none" stroke="#fbc41e" stroke-width="0.65"/>
<circle cx="143.8" cy="146.1" r="0.95" fill="none" stroke="#fbc41e" stroke-width="0.65"/>
<circle cx="143.5" cy="140.0" r="0.95" fill="none" stroke="#fbc41e" stroke-width="0.65"/>
<circle cx="116.5" cy="160.0" r="0.95" fill="none" stroke="#fbc41e" stroke-width="0.65"/>
<circle cx="127.7" cy="161.9" r="0.95" fill="none" stroke="#fbc41e" stroke-width="0.65"/>
<circle cx="116.3" cy="158.9" r="0.95" fill="none" stroke="#fbc41e" stroke-width="0.65"/>
<circle cx="120.7" cy="152.7" r="0.95" fill="none" stroke="#fbc41e" stroke-width="0.65"/>
<circle cx="112.5" cy="195.2" r="0.95" fill="none" stroke="#fbc41e" stroke-width="0.65"/>
<circle cx="127.3" cy="161.8" r="0.95" fill="none" stroke="#fbc41e" stroke-width="0.65"/>
<circle cx="141.2" cy="152.4" r="0.95" fill="none" stroke="#fbc41e" stroke-width="0.65"/>
<circle cx="114.7" cy="194.1" r="0.95" fill="none" stroke="#fbc41e" stroke-width="0.65"/>
<circle cx="112.4" cy="184.6" r="0.95" fill="none" stroke="#fbc41e" stroke-width="0.65"/>
<circle cx="125.1" cy="148.3" r="0.95" fill="none" stroke="#fbc41e" stroke-width="0.65"/>
<circle cx="123.0" cy="167.4" r="0.95" fill="none" stroke="#fbc41e" stroke-width="0.65"/>
<circle cx="129.7" cy="158.9" r="0.95" fill="none" stroke="#fbc41e" stroke-width="0.65"/>
<circle cx="132.1" cy="151.1" r="0.95" fill="none" stroke="#fbc41e" stroke-width="0.65"/>
<circle cx="118.3" cy="176.3" r="0.95" fill="none" stroke="#fbc41e" stroke-width="0.65"/>
<circle cx="132.3" cy="157.0" r="0.95" fill="none" stroke="#fbc41e" stroke-width="0.65"/>
<circle cx="120.8" cy="172.5" r="0.95" fill="none" stroke="#fbc41e" stroke-width="0.65"/>
<circle cx="118.3" cy="176.9" r="0.95" fill="none" stroke="#fbc41e" stroke-width="0.65"/>
<circle cx="115.1" cy="189.4" r="0.95" fill="none" stroke="#fbc41e" stroke-width="0.65"/>
<circle cx="115.6" cy="186.5" r="0.95" fill="none" stroke="#fbc41e" stroke-width="0.65"/>
<circle cx="113.5" cy="173.7" r="0.95" fill="none" stroke="#fbc41e" stroke-width="0.65"/>
<circle cx="113.6" cy="200.7" r="0.95" fill="none" stroke="#fbc41e" stroke-width="0.65"/>
<circle cx="112.1" cy="186.2" r="0.95" fill="none" stroke="#fbc41e" stroke-width="0.65"/>
<circle cx="118.5" cy="170.7" r="0.95" fill="none" stroke="#fbc41e" stroke-width="0.65"/>
<circle cx="114.9" cy="179.7" r="0.95" fill="none" stroke="#fbc41e" stroke-width="0.65"/>
<circle cx="112.7" cy="198.5" r="0.95" fill="none" stroke="#fbc41e" stroke-width="0.65"/>
<circle cx="142.4" cy="150.2" r="0.95" fill="none" stroke="#fbc41e" stroke-width="0.65"/>
<circle cx="116.5" cy="167.1" r="0.95" fill="none" stroke="#fbc41e" stroke-width="0.65"/>
<circle cx="114.5" cy="188.7" r="0.95" fill="none" stroke="#fbc41e" stroke-width="0.65"/>
<circle cx="131.9" cy="153.6" r="0.95" fill="none" stroke="#fbc41e" stroke-width="0.65"/>
<circle cx="138.4" cy="142.2" r="0.95" fill="none" stroke="#fbc41e" stroke-width="0.65"/>
<circle cx="144.2" cy="151.1" r="0.95" fill="none" stroke="#fbc41e" stroke-width="0.65"/>
<circle cx="119.8" cy="170.5" r="0.95" fill="none" stroke="#fbc41e" stroke-width="0.65"/>
<circle cx="133.4" cy="156.2" r="0.95" fill="none" stroke="#fbc41e" stroke-width="0.65"/>
<circle cx="133.7" cy="154.6" r="0.95" fill="none" stroke="#fbc41e" stroke-width="0.65"/>
<circle cx="139.4" cy="142.6" r="0.95" fill="none" stroke="#fbc41e" stroke-width="0.65"/>
<circle cx="117.6" cy="172.3" r="0.95" fill="none" stroke="#fbc41e" stroke-width="0.65"/>
<circle cx="143.5" cy="145.4" r="0.95" fill="none" stroke="#fbc41e" stroke-width="0.65"/>
<circle cx="125.1" cy="155.7" r="0.95" fill="none" stroke="#fbc41e" stroke-width="0.65"/>
<circle cx="142.0" cy="143.8" r="0.95" fill="none" stroke="#fbc41e" stroke-width="0.65"/>
<circle cx="138.7" cy="153.3" r="0.95" fill="none" stroke="#fbc41e" stroke-width="0.65"/>
<circle cx="112.5" cy="170.1" r="0.95" fill="none" stroke="#fbc41e" stroke-width="0.65"/>
<circle cx="131.0" cy="148.9" r="0.95" fill="none" stroke="#fbc41e" stroke-width="0.65"/>
<circle cx="135.3" cy="142.4" r="0.95" fill="none" stroke="#fbc41e" stroke-width="0.65"/>
<circle cx="141.7" cy="148.7" r="0.95" fill="none" stroke="#fbc41e" stroke-width="0.65"/>
<circle cx="124.6" cy="166.1" r="0.95" fill="none" stroke="#fbc41e" stroke-width="0.65"/>
<circle cx="116.0" cy="185.1" r="0.95" fill="none" stroke="#fbc41e" stroke-width="0.65"/>
<circle cx="118.0" cy="173.9" r="0.95" fill="none" stroke="#fbc41e" stroke-width="0.65"/>
<circle cx="122.4" cy="160.7" r="0.95" fill="none" stroke="#fbc41e" stroke-width="0.65"/>
<circle cx="139.1" cy="142.4" r="0.95" fill="none" stroke="#fbc41e" stroke-width="0.65"/>
<circle cx="137.2" cy="143.6" r="0.95" fill="none" stroke="#fbc41e" stroke-width="0.65"/>
<circle cx="123.8" cy="164.2" r="0.95" fill="none" stroke="#fbc41e" stroke-width="0.65"/>
<circle cx="115.1" cy="188.1" r="0.95" fill="none" stroke="#fbc41e" stroke-width="0.65"/>
<circle cx="143.2" cy="151.3" r="0.95" fill="none" stroke="#fbc41e" stroke-width="0.65"/>
<circle cx="135.8" cy="152.5" r="0.95" fill="none" stroke="#fbc41e" stroke-width="0.65"/>
<circle cx="114.5" cy="159.0" r="0.95" fill="none" stroke="#fbc41e" stroke-width="0.65"/>
<circle cx="141.6" cy="152.6" r="0.95" fill="none" stroke="#fbc41e" stroke-width="0.65"/>
<circle cx="116.4" cy="182.5" r="0.95" fill="none" stroke="#fbc41e" stroke-width="0.65"/>
<circle cx="143.4" cy="141.1" r="0.95" fill="none" stroke="#fbc41e" stroke-width="0.65"/>
<circle cx="171.4" cy="182.8" r="0.95" fill="none" stroke="#0aaebf" stroke-width="0.65"/>
<circle cx="150.2" cy="137.3" r="0.95" fill="none" stroke="#0aaebf" stroke-width="0.65"/>
<circle cx="161.3" cy="170.0" r="0.95" fill="none" stroke="#0aaebf" stroke-width="0.65"/>
<circle cx="159.3" cy="151.6" r="0.95" fill="none" stroke="#0aaebf" stroke-width="0.65"/>
<circle cx="162.8" cy="175.0" r="0.95" fill="none" stroke="#0aaebf" stroke-width="0.65"/>
<circle cx="158.8" cy="163.8" r="0.95" fill="none" stroke="#0aaebf" stroke-width="0.65"/>
<circle cx="174.5" cy="182.3" r="0.95" fill="none" stroke="#0aaebf" stroke-width="0.65"/>
<circle cx="165.5" cy="179.6" r="0.95" fill="none" stroke="#0aaebf" stroke-width="0.65"/>
<circle cx="165.0" cy="162.5" r="0.95" fill="none" stroke="#0aaebf" stroke-width="0.65"/>
<circle cx="160.1" cy="150.8" r="0.95" fill="none" stroke="#0aaebf" stroke-width="0.65"/>
<circle cx="159.0" cy="150.1" r="0.95" fill="none" stroke="#0aaebf" stroke-width="0.65"/>
<circle cx="170.0" cy="177.3" r="0.95" fill="none" stroke="#0aaebf" stroke-width="0.65"/>
<circle cx="183.1" cy="192.9" r="0.95" fill="none" stroke="#0aaebf" stroke-width="0.65"/>
<circle cx="157.5" cy="141.9" r="0.95" fill="none" stroke="#0aaebf" stroke-width="0.65"/>
<circle cx="153.8" cy="139.9" r="0.95" fill="none" stroke="#0aaebf" stroke-width="0.65"/>
<circle cx="159.6" cy="168.6" r="0.95" fill="none" stroke="#0aaebf" stroke-width="0.65"/>
<circle cx="158.9" cy="162.4" r="0.95" fill="none" stroke="#0aaebf" stroke-width="0.65"/>
<circle cx="165.0" cy="179.6" r="0.95" fill="none" stroke="#0aaebf" stroke-width="0.65"/>
<circle cx="159.1" cy="158.4" r="0.95" fill="none" stroke="#0aaebf" stroke-width="0.65"/>
<circle cx="164.6" cy="174.2" r="0.95" fill="none" stroke="#0aaebf" stroke-width="0.65"/>
<circle cx="169.7" cy="181.9" r="0.95" fill="none" stroke="#0aaebf" stroke-width="0.65"/>
<circle cx="160.3" cy="159.9" r="0.95" fill="none" stroke="#0aaebf" stroke-width="0.65"/>
<circle cx="156.4" cy="139.6" r="0.95" fill="none" stroke="#0aaebf" stroke-width="0.65"/>
<circle cx="159.8" cy="166.7" r="0.95" fill="none" stroke="#0aaebf" stroke-width="0.65"/>
<circle cx="161.1" cy="137.5" r="0.95" fill="none" stroke="#0aaebf" stroke-width="0.65"/>
<circle cx="165.5" cy="173.1" r="0.95" fill="none" stroke="#0aaebf" stroke-width="0.65"/>
<circle cx="162.3" cy="148.2" r="0.95" fill="none" stroke="#0aaebf" stroke-width="0.65"/>
<circle cx="180.9" cy="186.5" r="0.95" fill="none" stroke="#0aaebf" stroke-width="0.65"/>
<circle cx="159.3" cy="162.9" r="0.95" fill="none" stroke="#0aaebf" stroke-width="0.65"/>
<circle cx="153.8" cy="138.5" r="0.95" fill="none" stroke="#0aaebf" stroke-width="0.65"/>
<circle cx="165.7" cy="156.2" r="0.95" fill="none" stroke="#0aaebf" stroke-width="0.65"/>
<circle cx="158.5" cy="145.8" r="0.95" fill="none" stroke="#0aaebf" stroke-width="0.65"/>
<circle cx="165.6" cy="180.6" r="0.95" fill="none" stroke="#0aaebf" stroke-width="0.65"/>
<circle cx="160.9" cy="171.6" r="0.95" fill="none" stroke="#0aaebf" stroke-width="0.65"/>
<circle cx="162.4" cy="168.3" r="0.95" fill="none" stroke="#0aaebf" stroke-width="0.65"/>
<circle cx="170.0" cy="176.9" r="0.95" fill="none" stroke="#0aaebf" stroke-width="0.65"/>
<circle cx="177.2" cy="181.5" r="0.95" fill="none" stroke="#0aaebf" stroke-width="0.65"/>
<circle cx="183.0" cy="190.0" r="0.95" fill="none" stroke="#0aaebf" stroke-width="0.65"/>
<circle cx="160.8" cy="168.1" r="0.95" fill="none" stroke="#0aaebf" stroke-width="0.65"/>
<circle cx="160.7" cy="171.0" r="0.95" fill="none" stroke="#0aaebf" stroke-width="0.65"/>
<circle cx="161.1" cy="157.3" r="0.95" fill="none" stroke="#0aaebf" stroke-width="0.65"/>
<circle cx="157.2" cy="144.3" r="0.95" fill="none" stroke="#0aaebf" stroke-width="0.65"/>
<circle cx="156.5" cy="142.7" r="0.95" fill="none" stroke="#0aaebf" stroke-width="0.65"/>
<circle cx="166.2" cy="167.5" r="0.95" fill="none" stroke="#0aaebf" stroke-width="0.65"/>
<circle cx="181.6" cy="193.0" r="0.95" fill="none" stroke="#0aaebf" stroke-width="0.65"/>
<circle cx="163.3" cy="157.4" r="0.95" fill="none" stroke="#0aaebf" stroke-width="0.65"/>
<circle cx="166.1" cy="173.2" r="0.95" fill="none" stroke="#0aaebf" stroke-width="0.65"/>
<circle cx="169.5" cy="176.8" r="0.95" fill="none" stroke="#0aaebf" stroke-width="0.65"/>
<circle cx="161.3" cy="144.2" r="0.95" fill="none" stroke="#0aaebf" stroke-width="0.65"/>
<circle cx="159.0" cy="151.1" r="0.95" fill="none" stroke="#0aaebf" stroke-width="0.65"/>
<circle cx="180.2" cy="199.6" r="0.95" fill="none" stroke="#0aaebf" stroke-width="0.65"/>
<circle cx="160.2" cy="163.5" r="0.95" fill="none" stroke="#0aaebf" stroke-width="0.65"/>
<circle cx="151.0" cy="139.2" r="0.95" fill="none" stroke="#0aaebf" stroke-width="0.65"/>
<circle cx="158.2" cy="138.8" r="0.95" fill="none" stroke="#0aaebf" stroke-width="0.65"/>
<circle cx="177.1" cy="201.1" r="0.95" fill="none" stroke="#0aaebf" stroke-width="0.65"/>
<circle cx="152.3" cy="137.7" r="0.95" fill="none" stroke="#0aaebf" stroke-width="0.65"/>
<circle cx="164.0" cy="160.5" r="0.95" fill="none" stroke="#0aaebf" stroke-width="0.65"/>
<circle cx="181.8" cy="190.9" r="0.95" fill="none" stroke="#0aaebf" stroke-width="0.65"/>
<circle cx="172.1" cy="176.5" r="0.95" fill="none" stroke="#0aaebf" stroke-width="0.65"/>
<circle cx="160.5" cy="171.8" r="0.95" fill="none" stroke="#0aaebf" stroke-width="0.65"/>
<circle cx="165.9" cy="147.5" r="0.95" fill="none" stroke="#0aaebf" stroke-width="0.65"/>
<circle cx="159.2" cy="152.5" r="0.95" fill="none" stroke="#0aaebf" stroke-width="0.65"/>
<circle cx="161.5" cy="157.2" r="0.95" fill="none" stroke="#0aaebf" stroke-width="0.65"/>
<circle cx="158.5" cy="145.4" r="0.95" fill="none" stroke="#0aaebf" stroke-width="0.65"/>
<circle cx="160.2" cy="150.9" r="0.95" fill="none" stroke="#0aaebf" stroke-width="0.65"/>
<circle cx="159.1" cy="153.0" r="0.95" fill="none" stroke="#0aaebf" stroke-width="0.65"/>
<circle cx="157.2" cy="141.1" r="0.95" fill="none" stroke="#0aaebf" stroke-width="0.65"/>
<circle cx="178.6" cy="201.3" r="0.95" fill="none" stroke="#0aaebf" stroke-width="0.65"/>
<circle cx="165.4" cy="167.7" r="0.95" fill="none" stroke="#0aaebf" stroke-width="0.65"/>
<circle cx="161.4" cy="161.9" r="0.95" fill="none" stroke="#0aaebf" stroke-width="0.65"/>
<circle cx="165.5" cy="179.0" r="0.95" fill="none" stroke="#0aaebf" stroke-width="0.65"/>
<circle cx="159.1" cy="147.5" r="0.95" fill="none" stroke="#0aaebf" stroke-width="0.65"/>
<circle cx="158.3" cy="143.8" r="0.95" fill="none" stroke="#0aaebf" stroke-width="0.65"/>
<circle cx="178.0" cy="185.4" r="0.95" fill="none" stroke="#0aaebf" stroke-width="0.65"/>
<circle cx="162.8" cy="136.7" r="0.95" fill="none" stroke="#0aaebf" stroke-width="0.65"/>
<circle cx="158.4" cy="136.7" r="0.95" fill="none" stroke="#0aaebf" stroke-width="0.65"/>
<circle cx="179.9" cy="200.6" r="0.95" fill="none" stroke="#0aaebf" stroke-width="0.65"/>
<circle cx="148.7" cy="137.5" r="0.95" fill="none" stroke="#0aaebf" stroke-width="0.65"/>
<circle cx="162.4" cy="161.4" r="0.95" fill="none" stroke="#0aaebf" stroke-width="0.65"/>
<circle cx="183.2" cy="189.1" r="0.95" fill="none" stroke="#0aaebf" stroke-width="0.65"/>
<circle cx="165.2" cy="159.2" r="0.95" fill="none" stroke="#0aaebf" stroke-width="0.65"/>
<circle cx="159.9" cy="157.1" r="0.95" fill="none" stroke="#0aaebf" stroke-width="0.65"/>
<circle cx="179.0" cy="184.6" r="0.95" fill="none" stroke="#0aaebf" stroke-width="0.65"/>
<circle cx="160.7" cy="171.8" r="0.95" fill="none" stroke="#0aaebf" stroke-width="0.65"/>
<circle cx="157.8" cy="142.9" r="0.95" fill="none" stroke="#0aaebf" stroke-width="0.65"/>
<circle cx="161.2" cy="164.2" r="0.95" fill="none" stroke="#0aaebf" stroke-width="0.65"/>
<circle cx="161.3" cy="162.4" r="0.95" fill="none" stroke="#0aaebf" stroke-width="0.65"/>
<circle cx="183.9" cy="185.4" r="0.95" fill="none" stroke="#0aaebf" stroke-width="0.65"/>
<circle cx="163.1" cy="150.4" r="0.95" fill="none" stroke="#0aaebf" stroke-width="0.65"/>
<circle cx="162.8" cy="147.6" r="0.95" fill="none" stroke="#0aaebf" stroke-width="0.65"/>
<circle cx="166.8" cy="148.0" r="0.95" fill="none" stroke="#0aaebf" stroke-width="0.65"/>
<circle cx="159.3" cy="145.7" r="0.95" fill="none" stroke="#0aaebf" stroke-width="0.65"/>
<circle cx="168.1" cy="178.2" r="0.95" fill="none" stroke="#0aaebf" stroke-width="0.65"/>
<circle cx="166.6" cy="177.2" r="0.95" fill="none" stroke="#0aaebf" stroke-width="0.65"/>
<circle cx="171.6" cy="181.2" r="0.95" fill="none" stroke="#0aaebf" stroke-width="0.65"/>
<circle cx="159.2" cy="163.5" r="0.95" fill="none" stroke="#0aaebf" stroke-width="0.65"/>
<circle cx="164.7" cy="175.3" r="0.95" fill="none" stroke="#0aaebf" stroke-width="0.65"/>
<circle cx="152.3" cy="138.1" r="0.95" fill="none" stroke="#0aaebf" stroke-width="0.65"/>
<circle cx="170.2" cy="174.9" r="0.95" fill="none" stroke="#0aaebf" stroke-width="0.65"/>
<circle cx="166.2" cy="146.0" r="0.95" fill="none" stroke="#0aaebf" stroke-width="0.65"/>
<circle cx="178.4" cy="184.3" r="0.95" fill="none" stroke="#0aaebf" stroke-width="0.65"/>
<circle cx="185.3" cy="192.8" r="0.95" fill="none" stroke="#0aaebf" stroke-width="0.65"/>
<circle cx="166.0" cy="168.2" r="0.95" fill="none" stroke="#0aaebf" stroke-width="0.65"/>
<circle cx="159.2" cy="140.2" r="0.95" fill="none" stroke="#0aaebf" stroke-width="0.65"/>
<circle cx="165.7" cy="165.7" r="0.95" fill="none" stroke="#0aaebf" stroke-width="0.65"/>
<circle cx="162.6" cy="148.8" r="0.95" fill="none" stroke="#0aaebf" stroke-width="0.65"/>
<circle cx="160.9" cy="140.8" r="0.95" fill="none" stroke="#0aaebf" stroke-width="0.65"/>
<circle cx="165.4" cy="168.1" r="0.95" fill="none" stroke="#0aaebf" stroke-width="0.65"/>
<circle cx="180.6" cy="188.2" r="0.95" fill="none" stroke="#0aaebf" stroke-width="0.65"/>
<circle cx="157.6" cy="142.6" r="0.95" fill="none" stroke="#0aaebf" stroke-width="0.65"/>
<circle cx="158.4" cy="143.7" r="0.95" fill="none" stroke="#0aaebf" stroke-width="0.65"/>
<circle cx="184.3" cy="195.1" r="0.95" fill="none" stroke="#0aaebf" stroke-width="0.65"/>
<circle cx="165.2" cy="149.5" r="0.95" fill="none" stroke="#0aaebf" stroke-width="0.65"/>
<circle cx="176.2" cy="183.7" r="0.95" fill="none" stroke="#0aaebf" stroke-width="0.65"/>
<circle cx="159.9" cy="164.2" r="0.95" fill="none" stroke="#0aaebf" stroke-width="0.65"/>
<circle cx="167.3" cy="181.5" r="0.95" fill="none" stroke="#0aaebf" stroke-width="0.65"/>
<circle cx="167.2" cy="181.4" r="0.95" fill="none" stroke="#0aaebf" stroke-width="0.65"/>
<circle cx="162.5" cy="176.0" r="0.95" fill="none" stroke="#0aaebf" stroke-width="0.65"/>
<circle cx="173.8" cy="184.2" r="0.95" fill="none" stroke="#0aaebf" stroke-width="0.65"/>
<circle cx="162.2" cy="162.7" r="0.95" fill="none" stroke="#0aaebf" stroke-width="0.65"/>
<circle cx="161.0" cy="162.8" r="0.95" fill="none" stroke="#0aaebf" stroke-width="0.65"/>
<circle cx="172.2" cy="182.1" r="0.95" fill="none" stroke="#0aaebf" stroke-width="0.65"/>
<circle cx="175.1" cy="180.3" r="0.95" fill="none" stroke="#0aaebf" stroke-width="0.65"/>
<circle cx="161.8" cy="175.4" r="0.95" fill="none" stroke="#0aaebf" stroke-width="0.65"/>
<circle cx="160.5" cy="163.5" r="0.95" fill="none" stroke="#0aaebf" stroke-width="0.65"/>
<circle cx="167.9" cy="181.5" r="0.95" fill="none" stroke="#0aaebf" stroke-width="0.65"/>
<circle cx="165.5" cy="163.0" r="0.95" fill="none" stroke="#0aaebf" stroke-width="0.65"/>
<circle cx="160.1" cy="152.5" r="0.95" fill="none" stroke="#0aaebf" stroke-width="0.65"/>
<circle cx="161.6" cy="174.7" r="0.95" fill="none" stroke="#0aaebf" stroke-width="0.65"/>
<circle cx="181.8" cy="194.7" r="0.95" fill="none" stroke="#0aaebf" stroke-width="0.65"/>
<circle cx="173.9" cy="179.8" r="0.95" fill="none" stroke="#0aaebf" stroke-width="0.65"/>
<circle cx="181.2" cy="198.2" r="0.95" fill="none" stroke="#0aaebf" stroke-width="0.65"/>
<circle cx="161.3" cy="166.7" r="0.95" fill="none" stroke="#0aaebf" stroke-width="0.65"/>
<circle cx="174.5" cy="178.6" r="0.95" fill="none" stroke="#0aaebf" stroke-width="0.65"/>
<circle cx="155.2" cy="140.4" r="0.95" fill="none" stroke="#0aaebf" stroke-width="0.65"/>
<circle cx="174.8" cy="179.0" r="0.95" fill="none" stroke="#0aaebf" stroke-width="0.65"/>
<circle cx="159.2" cy="149.7" r="0.95" fill="none" stroke="#0aaebf" stroke-width="0.65"/>
<circle cx="159.5" cy="141.5" r="0.95" fill="none" stroke="#0aaebf" stroke-width="0.65"/>
<circle cx="163.5" cy="176.8" r="0.95" fill="none" stroke="#0aaebf" stroke-width="0.65"/>
<circle cx="179.9" cy="186.8" r="0.95" fill="none" stroke="#0aaebf" stroke-width="0.65"/>
<circle cx="162.5" cy="137.0" r="0.95" fill="none" stroke="#0aaebf" stroke-width="0.65"/>
<circle cx="181.8" cy="194.7" r="0.95" fill="none" stroke="#0aaebf" stroke-width="0.65"/>
<circle cx="160.1" cy="171.1" r="0.95" fill="none" stroke="#0aaebf" stroke-width="0.65"/>
<circle cx="181.0" cy="187.7" r="0.95" fill="none" stroke="#0aaebf" stroke-width="0.65"/>
<circle cx="157.3" cy="144.2" r="0.95" fill="none" stroke="#0aaebf" stroke-width="0.65"/>
<circle cx="156.6" cy="141.8" r="0.95" fill="none" stroke="#0aaebf" stroke-width="0.65"/>
<circle cx="179.6" cy="186.9" r="0.95" fill="none" stroke="#0aaebf" stroke-width="0.65"/>
<circle cx="154.5" cy="139.6" r="0.95" fill="none" stroke="#0aaebf" stroke-width="0.65"/>
<circle cx="167.8" cy="172.6" r="0.95" fill="none" stroke="#0aaebf" stroke-width="0.65"/>
<circle cx="163.6" cy="170.4" r="0.95" fill="none" stroke="#0aaebf" stroke-width="0.65"/>
<circle cx="158.8" cy="163.1" r="0.95" fill="none" stroke="#0aaebf" stroke-width="0.65"/>
<circle cx="172.7" cy="182.7" r="0.95" fill="none" stroke="#0aaebf" stroke-width="0.65"/>
<circle cx="150.0" cy="137.9" r="0.95" fill="none" stroke="#0aaebf" stroke-width="0.65"/>
<circle cx="182.0" cy="191.5" r="0.95" fill="none" stroke="#0aaebf" stroke-width="0.65"/>
<circle cx="154.6" cy="141.1" r="0.95" fill="none" stroke="#0aaebf" stroke-width="0.65"/>
<circle cx="166.6" cy="168.0" r="0.95" fill="none" stroke="#0aaebf" stroke-width="0.65"/>
<circle cx="163.4" cy="161.8" r="0.95" fill="none" stroke="#0aaebf" stroke-width="0.65"/>
<circle cx="160.6" cy="152.9" r="0.95" fill="none" stroke="#0aaebf" stroke-width="0.65"/>
<circle cx="161.1" cy="167.2" r="0.95" fill="none" stroke="#0aaebf" stroke-width="0.65"/>
<circle cx="165.3" cy="165.5" r="0.95" fill="none" stroke="#0aaebf" stroke-width="0.65"/>
<circle cx="156.5" cy="140.0" r="0.95" fill="none" stroke="#0aaebf" stroke-width="0.65"/>
<circle cx="158.7" cy="162.2" r="0.95" fill="none" stroke="#0aaebf" stroke-width="0.65"/>
<circle cx="160.8" cy="160.4" r="0.95" fill="none" stroke="#0aaebf" stroke-width="0.65"/>
<circle cx="161.0" cy="167.9" r="0.95" fill="none" stroke="#0aaebf" stroke-width="0.65"/>
<circle cx="180.4" cy="199.3" r="0.95" fill="none" stroke="#0aaebf" stroke-width="0.65"/>
<circle cx="162.8" cy="175.2" r="0.95" fill="none" stroke="#0aaebf" stroke-width="0.65"/>
<circle cx="163.2" cy="175.9" r="0.95" fill="none" stroke="#0aaebf" stroke-width="0.65"/>
<circle cx="164.9" cy="168.6" r="0.95" fill="none" stroke="#0aaebf" stroke-width="0.65"/>
<circle cx="152.3" cy="139.5" r="0.95" fill="none" stroke="#0aaebf" stroke-width="0.65"/>
<circle cx="162.7" cy="162.4" r="0.95" fill="none" stroke="#0aaebf" stroke-width="0.65"/>
<circle cx="181.5" cy="190.5" r="0.95" fill="none" stroke="#0aaebf" stroke-width="0.65"/>
<circle cx="170.1" cy="178.1" r="0.95" fill="none" stroke="#0aaebf" stroke-width="0.65"/>
<circle cx="155.4" cy="139.1" r="0.95" fill="none" stroke="#0aaebf" stroke-width="0.65"/>
<circle cx="157.5" cy="137.5" r="0.95" fill="none" stroke="#0aaebf" stroke-width="0.65"/>
<circle cx="166.8" cy="174.0" r="0.95" fill="none" stroke="#0aaebf" stroke-width="0.65"/>
<circle cx="166.9" cy="163.4" r="0.95" fill="none" stroke="#0aaebf" stroke-width="0.65"/>
<circle cx="182.7" cy="196.0" r="0.95" fill="none" stroke="#0aaebf" stroke-width="0.65"/>
<circle cx="160.5" cy="160.7" r="0.95" fill="none" stroke="#0aaebf" stroke-width="0.65"/>
<circle cx="161.9" cy="143.7" r="0.95" fill="none" stroke="#0aaebf" stroke-width="0.65"/>
<circle cx="161.6" cy="140.7" r="0.95" fill="none" stroke="#0aaebf" stroke-width="0.65"/>
<circle cx="165.1" cy="179.6" r="0.95" fill="none" stroke="#0aaebf" stroke-width="0.65"/>
<circle cx="164.9" cy="143.8" r="0.95" fill="none" stroke="#0aaebf" stroke-width="0.65"/>
<circle cx="161.5" cy="149.8" r="0.95" fill="none" stroke="#0aaebf" stroke-width="0.65"/>
<circle cx="184.8" cy="191.0" r="0.95" fill="none" stroke="#0aaebf" stroke-width="0.65"/>
<circle cx="161.1" cy="166.9" r="0.95" fill="none" stroke="#0aaebf" stroke-width="0.65"/>
<circle cx="173.3" cy="181.2" r="0.95" fill="none" stroke="#0aaebf" stroke-width="0.65"/>
<circle cx="158.9" cy="146.9" r="0.95" fill="none" stroke="#0aaebf" stroke-width="0.65"/>
<circle cx="160.0" cy="158.7" r="0.95" fill="none" stroke="#0aaebf" stroke-width="0.65"/>
<circle cx="163.3" cy="174.7" r="0.95" fill="none" stroke="#0aaebf" stroke-width="0.65"/>
<circle cx="160.8" cy="159.5" r="0.95" fill="none" stroke="#0aaebf" stroke-width="0.65"/>
<circle cx="168.3" cy="181.7" r="0.95" fill="none" stroke="#0aaebf" stroke-width="0.65"/>
<circle cx="172.6" cy="183.8" r="0.95" fill="none" stroke="#0aaebf" stroke-width="0.65"/>
<circle cx="154.7" cy="140.2" r="0.95" fill="none" stroke="#0aaebf" stroke-width="0.65"/>
<circle cx="174.2" cy="182.9" r="0.95" fill="none" stroke="#0aaebf" stroke-width="0.65"/>
<circle cx="164.7" cy="167.9" r="0.95" fill="none" stroke="#0aaebf" stroke-width="0.65"/>
<circle cx="162.9" cy="142.7" r="0.95" fill="none" stroke="#0aaebf" stroke-width="0.65"/>
<circle cx="154.5" cy="138.3" r="0.95" fill="none" stroke="#0aaebf" stroke-width="0.65"/>
<circle cx="160.7" cy="172.1" r="0.95" fill="none" stroke="#0aaebf" stroke-width="0.65"/>
<circle cx="184.2" cy="188.8" r="0.95" fill="none" stroke="#0aaebf" stroke-width="0.65"/>
<circle cx="161.5" cy="150.3" r="0.95" fill="none" stroke="#0aaebf" stroke-width="0.65"/>
<circle cx="168.1" cy="175.9" r="0.95" fill="none" stroke="#0aaebf" stroke-width="0.65"/>
<circle cx="178.0" cy="183.1" r="0.95" fill="none" stroke="#0aaebf" stroke-width="0.65"/>
<circle cx="172.1" cy="183.6" r="0.95" fill="none" stroke="#0aaebf" stroke-width="0.65"/>
<circle cx="148.6" cy="137.3" r="0.95" fill="none" stroke="#0aaebf" stroke-width="0.65"/>
<circle cx="159.2" cy="155.2" r="0.95" fill="none" stroke="#0aaebf" stroke-width="0.65"/>
<circle cx="160.1" cy="167.8" r="0.95" fill="none" stroke="#0aaebf" stroke-width="0.65"/>
<circle cx="164.7" cy="154.2" r="0.95" fill="none" stroke="#0aaebf" stroke-width="0.65"/>
<circle cx="163.3" cy="171.6" r="0.95" fill="none" stroke="#0aaebf" stroke-width="0.65"/>
<circle cx="177.9" cy="186.8" r="0.95" fill="none" stroke="#0aaebf" stroke-width="0.65"/>
<circle cx="180.5" cy="187.6" r="0.95" fill="none" stroke="#0aaebf" stroke-width="0.65"/>
<circle cx="161.5" cy="173.1" r="0.95" fill="none" stroke="#0aaebf" stroke-width="0.65"/>
<circle cx="182.2" cy="198.2" r="0.95" fill="none" stroke="#0aaebf" stroke-width="0.65"/>
<circle cx="173.2" cy="179.0" r="0.95" fill="none" stroke="#0aaebf" stroke-width="0.65"/>
<circle cx="156.5" cy="142.7" r="0.95" fill="none" stroke="#0aaebf" stroke-width="0.65"/>
<circle cx="183.2" cy="193.1" r="0.95" fill="none" stroke="#0aaebf" stroke-width="0.65"/>
<circle cx="157.3" cy="140.4" r="0.95" fill="none" stroke="#0aaebf" stroke-width="0.65"/>
<circle cx="162.6" cy="170.1" r="0.95" fill="none" stroke="#0aaebf" stroke-width="0.65"/>
<circle cx="160.2" cy="148.1" r="0.95" fill="none" stroke="#0aaebf" stroke-width="0.65"/>
<circle cx="164.3" cy="168.7" r="0.95" fill="none" stroke="#0aaebf" stroke-width="0.65"/>
<circle cx="158.6" cy="163.3" r="0.95" fill="none" stroke="#0aaebf" stroke-width="0.65"/>
<circle cx="167.9" cy="167.9" r="0.95" fill="none" stroke="#0aaebf" stroke-width="0.65"/>
<circle cx="161.8" cy="172.8" r="0.95" fill="none" stroke="#0aaebf" stroke-width="0.65"/>
<circle cx="153.7" cy="137.3" r="0.95" fill="none" stroke="#0aaebf" stroke-width="0.65"/>
<circle cx="170.5" cy="180.9" r="0.95" fill="none" stroke="#0aaebf" stroke-width="0.65"/>
<circle cx="181.3" cy="197.1" r="0.95" fill="none" stroke="#0aaebf" stroke-width="0.65"/>
<circle cx="180.1" cy="198.8" r="0.95" fill="none" stroke="#0aaebf" stroke-width="0.65"/>
<circle cx="159.5" cy="137.6" r="0.95" fill="none" stroke="#0aaebf" stroke-width="0.65"/>
<circle cx="170.3" cy="181.1" r="0.95" fill="none" stroke="#0aaebf" stroke-width="0.65"/>
<circle cx="157.4" cy="136.0" r="0.95" fill="none" stroke="#0aaebf" stroke-width="0.65"/>
<circle cx="159.8" cy="162.7" r="0.95" fill="none" stroke="#0aaebf" stroke-width="0.65"/>
<circle cx="148.1" cy="137.0" r="0.95" fill="none" stroke="#0aaebf" stroke-width="0.65"/>
<circle cx="162.7" cy="174.4" r="0.95" fill="none" stroke="#0aaebf" stroke-width="0.65"/>
<circle cx="166.2" cy="180.2" r="0.95" fill="none" stroke="#0aaebf" stroke-width="0.65"/>
<circle cx="181.6" cy="193.8" r="0.95" fill="none" stroke="#0aaebf" stroke-width="0.65"/>
<circle cx="163.8" cy="152.6" r="0.95" fill="none" stroke="#0aaebf" stroke-width="0.65"/>
<circle cx="162.3" cy="157.8" r="0.95" fill="none" stroke="#0aaebf" stroke-width="0.65"/>
<circle cx="159.6" cy="153.0" r="0.95" fill="none" stroke="#0aaebf" stroke-width="0.65"/>
<circle cx="181.7" cy="193.4" r="0.95" fill="none" stroke="#0aaebf" stroke-width="0.65"/>
<circle cx="163.0" cy="155.7" r="0.95" fill="none" stroke="#0aaebf" stroke-width="0.65"/>
<circle cx="168.9" cy="180.2" r="0.95" fill="none" stroke="#0aaebf" stroke-width="0.65"/>
<circle cx="155.2" cy="141.1" r="0.95" fill="none" stroke="#0aaebf" stroke-width="0.65"/>
<circle cx="166.6" cy="150.3" r="0.95" fill="none" stroke="#0aaebf" stroke-width="0.65"/>
<circle cx="165.4" cy="160.3" r="0.95" fill="none" stroke="#0aaebf" stroke-width="0.65"/>
<circle cx="183.1" cy="187.2" r="0.95" fill="none" stroke="#0aaebf" stroke-width="0.65"/>
<circle cx="161.8" cy="160.9" r="0.95" fill="none" stroke="#0aaebf" stroke-width="0.65"/>
<circle cx="180.0" cy="184.6" r="0.95" fill="none" stroke="#0aaebf" stroke-width="0.65"/>
<circle cx="149.5" cy="136.9" r="0.95" fill="none" stroke="#0aaebf" stroke-width="0.65"/>
<circle cx="153.1" cy="140.3" r="0.95" fill="none" stroke="#0aaebf" stroke-width="0.65"/>
<circle cx="180.4" cy="197.9" r="0.95" fill="none" stroke="#0aaebf" stroke-width="0.65"/>
<circle cx="171.7" cy="180.4" r="0.95" fill="none" stroke="#0aaebf" stroke-width="0.65"/>
<circle cx="159.5" cy="160.4" r="0.95" fill="none" stroke="#0aaebf" stroke-width="0.65"/>
<circle cx="180.6" cy="197.5" r="0.95" fill="none" stroke="#0aaebf" stroke-width="0.65"/>
<circle cx="159.7" cy="158.8" r="0.95" fill="none" stroke="#0aaebf" stroke-width="0.65"/>
<circle cx="161.5" cy="148.0" r="0.95" fill="none" stroke="#0aaebf" stroke-width="0.65"/>
<circle cx="166.0" cy="171.4" r="0.95" fill="none" stroke="#0aaebf" stroke-width="0.65"/>
<circle cx="154.8" cy="141.3" r="0.95" fill="none" stroke="#0aaebf" stroke-width="0.65"/>
<circle cx="161.2" cy="146.5" r="0.95" fill="none" stroke="#0aaebf" stroke-width="0.65"/>
<circle cx="167.1" cy="166.5" r="0.95" fill="none" stroke="#0aaebf" stroke-width="0.65"/>
<circle cx="179.8" cy="200.1" r="0.95" fill="none" stroke="#0aaebf" stroke-width="0.65"/>
<circle cx="158.9" cy="162.2" r="0.95" fill="none" stroke="#0aaebf" stroke-width="0.65"/>
<circle cx="159.5" cy="149.9" r="0.95" fill="none" stroke="#0aaebf" stroke-width="0.65"/>
<circle cx="182.7" cy="188.3" r="0.95" fill="none" stroke="#0aaebf" stroke-width="0.65"/>
<circle cx="159.0" cy="166.5" r="0.95" fill="none" stroke="#0aaebf" stroke-width="0.65"/>
<circle cx="159.6" cy="155.9" r="0.95" fill="none" stroke="#0aaebf" stroke-width="0.65"/>
<circle cx="165.0" cy="176.5" r="0.95" fill="none" stroke="#0aaebf" stroke-width="0.65"/>
<circle cx="164.3" cy="176.9" r="0.95" fill="none" stroke="#0aaebf" stroke-width="0.65"/>
<circle cx="160.7" cy="163.3" r="0.95" fill="none" stroke="#0aaebf" stroke-width="0.65"/>
<circle cx="166.3" cy="146.7" r="0.95" fill="none" stroke="#0aaebf" stroke-width="0.65"/>
<circle cx="163.0" cy="154.9" r="0.95" fill="none" stroke="#0aaebf" stroke-width="0.65"/>
<circle cx="159.3" cy="151.4" r="0.95" fill="none" stroke="#0aaebf" stroke-width="0.65"/>
<circle cx="157.5" cy="142.3" r="0.95" fill="none" stroke="#0aaebf" stroke-width="0.65"/>
<circle cx="169.0" cy="172.6" r="0.95" fill="none" stroke="#0aaebf" stroke-width="0.65"/>
<circle cx="159.5" cy="169.7" r="0.95" fill="none" stroke="#0aaebf" stroke-width="0.65"/>
<circle cx="162.7" cy="168.5" r="0.95" fill="none" stroke="#0aaebf" stroke-width="0.65"/>
<circle cx="163.2" cy="177.4" r="0.95" fill="none" stroke="#0aaebf" stroke-width="0.65"/>
<circle cx="163.5" cy="168.6" r="0.95" fill="none" stroke="#0aaebf" stroke-width="0.65"/>
<circle cx="164.7" cy="165.0" r="0.95" fill="none" stroke="#0aaebf" stroke-width="0.65"/>
<circle cx="185.0" cy="188.3" r="0.95" fill="none" stroke="#0aaebf" stroke-width="0.65"/>
<circle cx="162.6" cy="169.0" r="0.95" fill="none" stroke="#0aaebf" stroke-width="0.65"/>
<circle cx="165.9" cy="167.6" r="0.95" fill="none" stroke="#0aaebf" stroke-width="0.65"/>
<circle cx="159.8" cy="168.9" r="0.95" fill="none" stroke="#0aaebf" stroke-width="0.65"/>
<circle cx="165.0" cy="155.9" r="0.95" fill="none" stroke="#0aaebf" stroke-width="0.65"/>
<circle cx="149.9" cy="137.5" r="0.95" fill="none" stroke="#0aaebf" stroke-width="0.65"/>
<circle cx="168.8" cy="178.2" r="0.95" fill="none" stroke="#0aaebf" stroke-width="0.65"/>
<circle cx="181.5" cy="193.1" r="0.95" fill="none" stroke="#0aaebf" stroke-width="0.65"/>
<circle cx="177.5" cy="181.5" r="0.95" fill="none" stroke="#0aaebf" stroke-width="0.65"/>
<circle cx="168.4" cy="176.8" r="0.95" fill="none" stroke="#0aaebf" stroke-width="0.65"/>
<circle cx="159.8" cy="139.8" r="0.95" fill="none" stroke="#0aaebf" stroke-width="0.65"/>
<circle cx="165.3" cy="177.9" r="0.95" fill="none" stroke="#0aaebf" stroke-width="0.65"/>
<circle cx="159.1" cy="159.1" r="0.95" fill="none" stroke="#0aaebf" stroke-width="0.65"/>
<circle cx="182.5" cy="188.1" r="0.95" fill="none" stroke="#0aaebf" stroke-width="0.65"/>
<circle cx="160.4" cy="169.8" r="0.95" fill="none" stroke="#0aaebf" stroke-width="0.65"/>
<circle cx="163.0" cy="148.3" r="0.95" fill="none" stroke="#0aaebf" stroke-width="0.65"/>
<circle cx="178.6" cy="186.7" r="0.95" fill="none" stroke="#0aaebf" stroke-width="0.65"/>
<circle cx="159.6" cy="170.2" r="0.95" fill="none" stroke="#0aaebf" stroke-width="0.65"/>
<circle cx="159.8" cy="167.0" r="0.95" fill="none" stroke="#0aaebf" stroke-width="0.65"/>
<circle cx="159.6" cy="149.1" r="0.95" fill="none" stroke="#0aaebf" stroke-width="0.65"/>
<circle cx="158.9" cy="157.5" r="0.95" fill="none" stroke="#0aaebf" stroke-width="0.65"/>
<circle cx="165.8" cy="159.3" r="0.95" fill="none" stroke="#0aaebf" stroke-width="0.65"/>
<circle cx="165.6" cy="177.9" r="0.95" fill="none" stroke="#0aaebf" stroke-width="0.65"/>
<circle cx="166.0" cy="151.4" r="0.95" fill="none" stroke="#0aaebf" stroke-width="0.65"/>
<circle cx="161.4" cy="144.0" r="0.95" fill="none" stroke="#0aaebf" stroke-width="0.65"/>
<circle cx="180.5" cy="185.9" r="0.95" fill="none" stroke="#0aaebf" stroke-width="0.65"/>
<circle cx="166.4" cy="152.5" r="0.95" fill="none" stroke="#0aaebf" stroke-width="0.65"/>
<circle cx="165.6" cy="170.6" r="0.95" fill="none" stroke="#0aaebf" stroke-width="0.65"/>
<circle cx="156.1" cy="139.7" r="0.95" fill="none" stroke="#0aaebf" stroke-width="0.65"/>
<circle cx="177.5" cy="183.6" r="0.95" fill="none" stroke="#0aaebf" stroke-width="0.65"/>
<circle cx="166.5" cy="178.4" r="0.95" fill="none" stroke="#0aaebf" stroke-width="0.65"/>
<circle cx="161.0" cy="164.3" r="0.95" fill="none" stroke="#0aaebf" stroke-width="0.65"/>
<circle cx="152.8" cy="139.7" r="0.95" fill="none" stroke="#0aaebf" stroke-width="0.65"/>
<circle cx="167.2" cy="181.5" r="0.95" fill="none" stroke="#0aaebf" stroke-width="0.65"/>
<circle cx="163.7" cy="163.9" r="0.95" fill="none" stroke="#0aaebf" stroke-width="0.65"/>
<circle cx="162.7" cy="162.4" r="0.95" fill="none" stroke="#0aaebf" stroke-width="0.65"/>
<circle cx="167.7" cy="176.3" r="0.95" fill="none" stroke="#0aaebf" stroke-width="0.65"/>
<circle cx="159.5" cy="144.4" r="0.95" fill="none" stroke="#0aaebf" stroke-width="0.65"/>
<circle cx="149.9" cy="137.1" r="0.95" fill="none" stroke="#0aaebf" stroke-width="0.65"/>
<circle cx="167.3" cy="166.7" r="0.95" fill="none" stroke="#0aaebf" stroke-width="0.65"/>
<circle cx="171.0" cy="174.5" r="0.95" fill="none" stroke="#0aaebf" stroke-width="0.65"/>
<circle cx="157.5" cy="143.9" r="0.95" fill="none" stroke="#0aaebf" stroke-width="0.65"/>
<circle cx="165.3" cy="162.9" r="0.95" fill="none" stroke="#0aaebf" stroke-width="0.65"/>
<circle cx="170.5" cy="182.4" r="0.95" fill="none" stroke="#0aaebf" stroke-width="0.65"/>
<circle cx="159.8" cy="164.6" r="0.95" fill="none" stroke="#0aaebf" stroke-width="0.65"/>
<circle cx="163.9" cy="176.9" r="0.95" fill="none" stroke="#0aaebf" stroke-width="0.65"/>
<circle cx="179.7" cy="186.6" r="0.95" fill="none" stroke="#0aaebf" stroke-width="0.65"/>
<circle cx="163.4" cy="162.3" r="0.95" fill="none" stroke="#0aaebf" stroke-width="0.65"/>
<circle cx="170.0" cy="179.8" r="0.95" fill="none" stroke="#0aaebf" stroke-width="0.65"/>
<circle cx="157.5" cy="137.1" r="0.95" fill="none" stroke="#0aaebf" stroke-width="0.65"/>
<circle cx="159.5" cy="153.0" r="0.95" fill="none" stroke="#0aaebf" stroke-width="0.65"/>
<circle cx="160.9" cy="139.9" r="0.95" fill="none" stroke="#0aaebf" stroke-width="0.65"/>
<circle cx="182.8" cy="190.8" r="0.95" fill="none" stroke="#0aaebf" stroke-width="0.65"/>
<circle cx="175.5" cy="182.6" r="0.95" fill="none" stroke="#0aaebf" stroke-width="0.65"/>
<circle cx="166.4" cy="173.9" r="0.95" fill="none" stroke="#0aaebf" stroke-width="0.65"/>
<circle cx="170.2" cy="172.8" r="0.95" fill="none" stroke="#0aaebf" stroke-width="0.65"/>
<circle cx="163.6" cy="173.1" r="0.95" fill="none" stroke="#0aaebf" stroke-width="0.65"/>
<circle cx="165.1" cy="146.9" r="0.95" fill="none" stroke="#0aaebf" stroke-width="0.65"/>
<circle cx="172.0" cy="179.4" r="0.95" fill="none" stroke="#0aaebf" stroke-width="0.65"/>
<circle cx="162.1" cy="163.5" r="0.95" fill="none" stroke="#0aaebf" stroke-width="0.65"/>
<circle cx="167.8" cy="166.2" r="0.95" fill="none" stroke="#0aaebf" stroke-width="0.65"/>
<circle cx="159.6" cy="140.9" r="0.95" fill="none" stroke="#0aaebf" stroke-width="0.65"/>
<circle cx="168.3" cy="181.2" r="0.95" fill="none" stroke="#0aaebf" stroke-width="0.65"/>
<circle cx="161.4" cy="153.9" r="0.95" fill="none" stroke="#0aaebf" stroke-width="0.65"/>
<circle cx="155.4" cy="137.6" r="0.95" fill="none" stroke="#0aaebf" stroke-width="0.65"/>
<circle cx="164.4" cy="145.7" r="0.95" fill="none" stroke="#0aaebf" stroke-width="0.65"/>
<circle cx="158.9" cy="147.7" r="0.95" fill="none" stroke="#0aaebf" stroke-width="0.65"/>
<circle cx="162.8" cy="153.3" r="0.95" fill="none" stroke="#0aaebf" stroke-width="0.65"/>
<circle cx="160.4" cy="137.8" r="0.95" fill="none" stroke="#0aaebf" stroke-width="0.65"/>
<circle cx="176.1" cy="181.8" r="0.95" fill="none" stroke="#0aaebf" stroke-width="0.65"/>
<circle cx="160.0" cy="150.3" r="0.95" fill="none" stroke="#0aaebf" stroke-width="0.65"/>
<circle cx="170.4" cy="173.3" r="0.95" fill="none" stroke="#0aaebf" stroke-width="0.65"/>
<circle cx="162.2" cy="150.6" r="0.95" fill="none" stroke="#0aaebf" stroke-width="0.65"/>
<circle cx="160.5" cy="158.4" r="0.95" fill="none" stroke="#0aaebf" stroke-width="0.65"/>
<circle cx="167.2" cy="180.3" r="0.95" fill="none" stroke="#0aaebf" stroke-width="0.65"/>
<circle cx="177.0" cy="182.3" r="0.95" fill="none" stroke="#0aaebf" stroke-width="0.65"/>
<circle cx="182.0" cy="193.1" r="0.95" fill="none" stroke="#0aaebf" stroke-width="0.65"/>
<circle cx="150.6" cy="139.1" r="0.95" fill="none" stroke="#0aaebf" stroke-width="0.65"/>
<circle cx="161.3" cy="174.2" r="0.95" fill="none" stroke="#0aaebf" stroke-width="0.65"/>
<circle cx="152.4" cy="140.1" r="0.95" fill="none" stroke="#0aaebf" stroke-width="0.65"/>
<circle cx="168.3" cy="181.7" r="0.95" fill="none" stroke="#0aaebf" stroke-width="0.65"/>
<circle cx="166.4" cy="179.7" r="0.95" fill="none" stroke="#0aaebf" stroke-width="0.65"/>
<circle cx="162.2" cy="166.6" r="0.95" fill="none" stroke="#0aaebf" stroke-width="0.65"/>
<circle cx="159.4" cy="159.3" r="0.95" fill="none" stroke="#0aaebf" stroke-width="0.65"/>
<circle cx="159.0" cy="155.1" r="0.95" fill="none" stroke="#0aaebf" stroke-width="0.65"/>
<circle cx="164.4" cy="153.6" r="0.95" fill="none" stroke="#0aaebf" stroke-width="0.65"/>
<circle cx="160.1" cy="166.7" r="0.95" fill="none" stroke="#0aaebf" stroke-width="0.65"/>
<circle cx="167.9" cy="176.8" r="0.95" fill="none" stroke="#0aaebf" stroke-width="0.65"/>
<circle cx="161.0" cy="168.8" r="0.95" fill="none" stroke="#0aaebf" stroke-width="0.65"/>
<circle cx="162.3" cy="169.0" r="0.95" fill="none" stroke="#0aaebf" stroke-width="0.65"/>
<circle cx="167.7" cy="170.9" r="0.95" fill="none" stroke="#0aaebf" stroke-width="0.65"/>
<circle cx="159.9" cy="150.7" r="0.95" fill="none" stroke="#0aaebf" stroke-width="0.65"/>
<circle cx="155.2" cy="138.1" r="0.95" fill="none" stroke="#0aaebf" stroke-width="0.65"/>
<circle cx="164.6" cy="154.7" r="0.95" fill="none" stroke="#0aaebf" stroke-width="0.65"/>
<circle cx="169.3" cy="181.3" r="0.95" fill="none" stroke="#0aaebf" stroke-width="0.65"/>
<circle cx="165.2" cy="162.0" r="0.95" fill="none" stroke="#0aaebf" stroke-width="0.65"/>
<circle cx="181.3" cy="190.7" r="0.95" fill="none" stroke="#0aaebf" stroke-width="0.65"/>
<circle cx="166.7" cy="169.7" r="0.95" fill="none" stroke="#0aaebf" stroke-width="0.65"/>
<circle cx="149.5" cy="136.9" r="0.95" fill="none" stroke="#0aaebf" stroke-width="0.65"/>
<circle cx="167.2" cy="177.9" r="0.95" fill="none" stroke="#0aaebf" stroke-width="0.65"/>
<circle cx="179.9" cy="185.9" r="0.95" fill="none" stroke="#0aaebf" stroke-width="0.65"/>
<circle cx="165.4" cy="147.3" r="0.95" fill="none" stroke="#0aaebf" stroke-width="0.65"/>
<circle cx="167.9" cy="180.2" r="0.95" fill="none" stroke="#0aaebf" stroke-width="0.65"/>
<circle cx="153.1" cy="123.8" r="0.95" fill="none" stroke="#0aaebf" stroke-width="0.65"/>
<circle cx="147.2" cy="126.3" r="0.95" fill="none" stroke="#0aaebf" stroke-width="0.65"/>
<circle cx="145.2" cy="127.0" r="0.95" fill="none" stroke="#0aaebf" stroke-width="0.65"/>
<circle cx="162.6" cy="130.1" r="0.95" fill="none" stroke="#0aaebf" stroke-width="0.65"/>
<circle cx="154.3" cy="124.2" r="0.95" fill="none" stroke="#0aaebf" stroke-width="0.65"/>
<circle cx="152.3" cy="115.6" r="0.95" fill="none" stroke="#0aaebf" stroke-width="0.65"/>
<circle cx="144.8" cy="130.0" r="0.95" fill="none" stroke="#0aaebf" stroke-width="0.65"/>
<circle cx="147.0" cy="131.1" r="0.95" fill="none" stroke="#0aaebf" stroke-width="0.65"/>
<circle cx="146.9" cy="108.9" r="0.95" fill="none" stroke="#0aaebf" stroke-width="0.65"/>
<circle cx="148.1" cy="135.8" r="0.95" fill="none" stroke="#0aaebf" stroke-width="0.65"/>
<circle cx="155.4" cy="132.0" r="0.95" fill="none" stroke="#0aaebf" stroke-width="0.65"/>
<circle cx="144.9" cy="125.8" r="0.95" fill="none" stroke="#0aaebf" stroke-width="0.65"/>
<circle cx="158.3" cy="124.3" r="0.95" fill="none" stroke="#0aaebf" stroke-width="0.65"/>
<circle cx="145.9" cy="115.3" r="0.95" fill="none" stroke="#0aaebf" stroke-width="0.65"/>
<circle cx="147.2" cy="122.4" r="0.95" fill="none" stroke="#0aaebf" stroke-width="0.65"/>
<circle cx="151.9" cy="116.1" r="0.95" fill="none" stroke="#0aaebf" stroke-width="0.65"/>
<circle cx="145.7" cy="109.9" r="0.95" fill="none" stroke="#0aaebf" stroke-width="0.65"/>
<circle cx="152.4" cy="116.4" r="0.95" fill="none" stroke="#0aaebf" stroke-width="0.65"/>
<circle cx="155.7" cy="136.4" r="0.95" fill="none" stroke="#0aaebf" stroke-width="0.65"/>
<circle cx="150.5" cy="119.1" r="0.95" fill="none" stroke="#0aaebf" stroke-width="0.65"/>
<circle cx="146.6" cy="109.7" r="0.95" fill="none" stroke="#0aaebf" stroke-width="0.65"/>
<circle cx="144.8" cy="123.4" r="0.95" fill="none" stroke="#0aaebf" stroke-width="0.65"/>
<circle cx="149.4" cy="136.5" r="0.95" fill="none" stroke="#0aaebf" stroke-width="0.65"/>
<circle cx="152.6" cy="112.3" r="0.95" fill="none" stroke="#0aaebf" stroke-width="0.65"/>
<circle cx="148.6" cy="113.2" r="0.95" fill="none" stroke="#0aaebf" stroke-width="0.65"/>
<circle cx="147.6" cy="130.2" r="0.95" fill="none" stroke="#0aaebf" stroke-width="0.65"/>
<circle cx="145.0" cy="113.5" r="0.95" fill="none" stroke="#0aaebf" stroke-width="0.65"/>
<circle cx="146.9" cy="133.1" r="0.95" fill="none" stroke="#0aaebf" stroke-width="0.65"/>
<circle cx="153.3" cy="121.6" r="0.95" fill="none" stroke="#0aaebf" stroke-width="0.65"/>
<circle cx="157.1" cy="129.6" r="0.95" fill="none" stroke="#0aaebf" stroke-width="0.65"/>
<circle cx="144.7" cy="112.3" r="0.95" fill="none" stroke="#0aaebf" stroke-width="0.65"/>
<circle cx="144.9" cy="119.0" r="0.95" fill="none" stroke="#0aaebf" stroke-width="0.65"/>
<circle cx="162.0" cy="132.5" r="0.95" fill="none" stroke="#0aaebf" stroke-width="0.65"/>
<circle cx="145.8" cy="109.1" r="0.95" fill="none" stroke="#0aaebf" stroke-width="0.65"/>
<circle cx="145.8" cy="113.5" r="0.95" fill="none" stroke="#0aaebf" stroke-width="0.65"/>
<circle cx="146.4" cy="126.6" r="0.95" fill="none" stroke="#0aaebf" stroke-width="0.65"/>
<circle cx="146.1" cy="123.5" r="0.95" fill="none" stroke="#0aaebf" stroke-width="0.65"/>
<circle cx="149.8" cy="124.5" r="0.95" fill="none" stroke="#0aaebf" stroke-width="0.65"/>
<circle cx="153.3" cy="121.8" r="0.95" fill="none" stroke="#0aaebf" stroke-width="0.65"/>
<circle cx="144.6" cy="113.6" r="0.95" fill="none" stroke="#0aaebf" stroke-width="0.65"/>
<circle cx="150.4" cy="133.7" r="0.95" fill="none" stroke="#0aaebf" stroke-width="0.65"/>
<circle cx="145.8" cy="123.7" r="0.95" fill="none" stroke="#0aaebf" stroke-width="0.65"/>
<circle cx="148.7" cy="119.1" r="0.95" fill="none" stroke="#0aaebf" stroke-width="0.65"/>
<circle cx="144.9" cy="128.5" r="0.95" fill="none" stroke="#0aaebf" stroke-width="0.65"/>
<circle cx="153.0" cy="116.3" r="0.95" fill="none" stroke="#0aaebf" stroke-width="0.65"/>
<circle cx="161.9" cy="130.7" r="0.95" fill="none" stroke="#0aaebf" stroke-width="0.65"/>
<circle cx="152.6" cy="113.4" r="0.95" fill="none" stroke="#0aaebf" stroke-width="0.65"/>
<circle cx="163.2" cy="130.2" r="0.95" fill="none" stroke="#0aaebf" stroke-width="0.65"/>
<circle cx="149.7" cy="129.5" r="0.95" fill="none" stroke="#0aaebf" stroke-width="0.65"/>
<circle cx="160.4" cy="125.6" r="0.95" fill="none" stroke="#0aaebf" stroke-width="0.65"/>
<circle cx="162.3" cy="124.7" r="0.95" fill="none" stroke="#0aaebf" stroke-width="0.65"/>
<circle cx="163.1" cy="132.3" r="0.95" fill="none" stroke="#0aaebf" stroke-width="0.65"/>
<circle cx="148.8" cy="112.2" r="0.95" fill="none" stroke="#0aaebf" stroke-width="0.65"/>
<circle cx="151.0" cy="116.1" r="0.95" fill="none" stroke="#0aaebf" stroke-width="0.65"/>
<circle cx="152.8" cy="113.6" r="0.95" fill="none" stroke="#0aaebf" stroke-width="0.65"/>
<circle cx="150.1" cy="136.6" r="0.95" fill="none" stroke="#0aaebf" stroke-width="0.65"/>
<circle cx="159.8" cy="128.1" r="0.95" fill="none" stroke="#0aaebf" stroke-width="0.65"/>
<circle cx="147.1" cy="113.8" r="0.95" fill="none" stroke="#0aaebf" stroke-width="0.65"/>
<circle cx="144.6" cy="108.0" r="0.95" fill="none" stroke="#0aaebf" stroke-width="0.65"/>
<circle cx="157.8" cy="117.5" r="0.95" fill="none" stroke="#0aaebf" stroke-width="0.65"/>
<circle cx="156.6" cy="126.5" r="0.95" fill="none" stroke="#0aaebf" stroke-width="0.65"/>
<circle cx="151.8" cy="114.7" r="0.95" fill="none" stroke="#0aaebf" stroke-width="0.65"/>
<circle cx="151.0" cy="132.8" r="0.95" fill="none" stroke="#0aaebf" stroke-width="0.65"/>
<circle cx="147.5" cy="117.2" r="0.95" fill="none" stroke="#0aaebf" stroke-width="0.65"/>
<circle cx="156.2" cy="129.5" r="0.95" fill="none" stroke="#0aaebf" stroke-width="0.65"/>
<circle cx="155.4" cy="136.0" r="0.95" fill="none" stroke="#0aaebf" stroke-width="0.65"/>
<circle cx="147.6" cy="112.7" r="0.95" fill="none" stroke="#0aaebf" stroke-width="0.65"/>
<circle cx="149.4" cy="113.3" r="0.95" fill="none" stroke="#0aaebf" stroke-width="0.65"/>
<circle cx="145.1" cy="127.6" r="0.95" fill="none" stroke="#0aaebf" stroke-width="0.65"/>
<circle cx="147.4" cy="110.9" r="0.95" fill="none" stroke="#0aaebf" stroke-width="0.65"/>
<circle cx="153.5" cy="131.9" r="0.95" fill="none" stroke="#0aaebf" stroke-width="0.65"/>
<circle cx="145.7" cy="132.8" r="0.95" fill="none" stroke="#0aaebf" stroke-width="0.65"/>
<circle cx="147.3" cy="126.6" r="0.95" fill="none" stroke="#0aaebf" stroke-width="0.65"/>
<circle cx="144.8" cy="108.9" r="0.95" fill="none" stroke="#0aaebf" stroke-width="0.65"/>
<circle cx="153.5" cy="123.4" r="0.95" fill="none" stroke="#0aaebf" stroke-width="0.65"/>
<circle cx="145.8" cy="131.9" r="0.95" fill="none" stroke="#0aaebf" stroke-width="0.65"/>
<circle cx="160.5" cy="127.5" r="0.95" fill="none" stroke="#0aaebf" stroke-width="0.65"/>
<circle cx="159.0" cy="124.1" r="0.95" fill="none" stroke="#0aaebf" stroke-width="0.65"/>
<circle cx="148.3" cy="127.6" r="0.95" fill="none" stroke="#0aaebf" stroke-width="0.65"/>
<circle cx="151.7" cy="130.5" r="0.95" fill="none" stroke="#0aaebf" stroke-width="0.65"/>
<circle cx="149.5" cy="115.6" r="0.95" fill="none" stroke="#0aaebf" stroke-width="0.65"/>
<circle cx="145.8" cy="122.8" r="0.95" fill="none" stroke="#0aaebf" stroke-width="0.65"/>
<circle cx="162.6" cy="125.6" r="0.95" fill="none" stroke="#0aaebf" stroke-width="0.65"/>
<circle cx="151.5" cy="131.0" r="0.95" fill="none" stroke="#0aaebf" stroke-width="0.65"/>
<circle cx="149.6" cy="122.7" r="0.95" fill="none" stroke="#0aaebf" stroke-width="0.65"/>
<circle cx="150.6" cy="134.7" r="0.95" fill="none" stroke="#0aaebf" stroke-width="0.65"/>
<circle cx="160.9" cy="121.9" r="0.95" fill="none" stroke="#0aaebf" stroke-width="0.65"/>
<circle cx="144.8" cy="109.3" r="0.95" fill="none" stroke="#0aaebf" stroke-width="0.65"/>
<circle cx="146.2" cy="127.7" r="0.95" fill="none" stroke="#0aaebf" stroke-width="0.65"/>
<circle cx="155.5" cy="120.3" r="0.95" fill="none" stroke="#0aaebf" stroke-width="0.65"/>
<circle cx="148.9" cy="120.9" r="0.95" fill="none" stroke="#0aaebf" stroke-width="0.65"/>
<circle cx="144.7" cy="133.8" r="0.95" fill="none" stroke="#0aaebf" stroke-width="0.65"/>
<circle cx="146.0" cy="133.7" r="0.95" fill="none" stroke="#0aaebf" stroke-width="0.65"/>
<circle cx="156.0" cy="129.7" r="0.95" fill="none" stroke="#0aaebf" stroke-width="0.65"/>
<circle cx="150.1" cy="114.2" r="0.95" fill="none" stroke="#0aaebf" stroke-width="0.65"/>
<circle cx="154.4" cy="117.7" r="0.95" fill="none" stroke="#0aaebf" stroke-width="0.65"/>
<circle cx="149.2" cy="111.2" r="0.95" fill="none" stroke="#0aaebf" stroke-width="0.65"/>
<circle cx="156.5" cy="121.6" r="0.95" fill="none" stroke="#0aaebf" stroke-width="0.65"/>
<circle cx="150.0" cy="114.0" r="0.95" fill="none" stroke="#0aaebf" stroke-width="0.65"/>
<circle cx="159.1" cy="121.6" r="0.95" fill="none" stroke="#0aaebf" stroke-width="0.65"/>
<circle cx="145.0" cy="114.0" r="0.95" fill="none" stroke="#0aaebf" stroke-width="0.65"/>
<circle cx="155.3" cy="134.8" r="0.95" fill="none" stroke="#0aaebf" stroke-width="0.65"/>
<circle cx="156.1" cy="117.3" r="0.95" fill="none" stroke="#0aaebf" stroke-width="0.65"/>
<circle cx="152.5" cy="131.1" r="0.95" fill="none" stroke="#0aaebf" stroke-width="0.65"/>
<circle cx="152.8" cy="112.1" r="0.95" fill="none" stroke="#0aaebf" stroke-width="0.65"/>
<circle cx="153.7" cy="133.1" r="0.95" fill="none" stroke="#0aaebf" stroke-width="0.65"/>
<circle cx="153.5" cy="117.2" r="0.95" fill="none" stroke="#0aaebf" stroke-width="0.65"/>
<circle cx="150.8" cy="130.0" r="0.95" fill="none" stroke="#0aaebf" stroke-width="0.65"/>
<circle cx="151.5" cy="128.2" r="0.95" fill="none" stroke="#0aaebf" stroke-width="0.65"/>
<circle cx="145.4" cy="111.4" r="0.95" fill="none" stroke="#0aaebf" stroke-width="0.65"/>
<circle cx="155.6" cy="132.0" r="0.95" fill="none" stroke="#0aaebf" stroke-width="0.65"/>
<circle cx="146.1" cy="118.6" r="0.95" fill="none" stroke="#0aaebf" stroke-width="0.65"/>
<circle cx="146.0" cy="136.3" r="0.95" fill="none" stroke="#0aaebf" stroke-width="0.65"/>
<circle cx="154.6" cy="128.4" r="0.95" fill="none" stroke="#0aaebf" stroke-width="0.65"/>
<circle cx="160.7" cy="130.3" r="0.95" fill="none" stroke="#0aaebf" stroke-width="0.65"/>
<circle cx="156.1" cy="136.1" r="0.95" fill="none" stroke="#0aaebf" stroke-width="0.65"/>
<circle cx="148.5" cy="118.9" r="0.95" fill="none" stroke="#0aaebf" stroke-width="0.65"/>
<circle cx="149.4" cy="126.8" r="0.95" fill="none" stroke="#0aaebf" stroke-width="0.65"/>
<circle cx="156.3" cy="132.6" r="0.95" fill="none" stroke="#0aaebf" stroke-width="0.65"/>
<circle cx="155.6" cy="132.5" r="0.95" fill="none" stroke="#0aaebf" stroke-width="0.65"/>
<circle cx="145.2" cy="115.3" r="0.95" fill="none" stroke="#0aaebf" stroke-width="0.65"/>
<circle cx="148.7" cy="131.2" r="0.95" fill="none" stroke="#0aaebf" stroke-width="0.65"/>
<circle cx="145.8" cy="119.0" r="0.95" fill="none" stroke="#0aaebf" stroke-width="0.65"/>
<circle cx="145.3" cy="126.5" r="0.95" fill="none" stroke="#0aaebf" stroke-width="0.65"/>
<circle cx="146.3" cy="115.4" r="0.95" fill="none" stroke="#0aaebf" stroke-width="0.65"/>
<circle cx="152.0" cy="133.5" r="0.95" fill="none" stroke="#0aaebf" stroke-width="0.65"/>
<circle cx="148.0" cy="113.8" r="0.95" fill="none" stroke="#0aaebf" stroke-width="0.65"/>
<circle cx="144.7" cy="116.1" r="0.95" fill="none" stroke="#0aaebf" stroke-width="0.65"/>
<circle cx="148.9" cy="126.5" r="0.95" fill="none" stroke="#0aaebf" stroke-width="0.65"/>
<circle cx="145.0" cy="113.6" r="0.95" fill="none" stroke="#0aaebf" stroke-width="0.65"/>
<circle cx="144.7" cy="131.0" r="0.95" fill="none" stroke="#0aaebf" stroke-width="0.65"/>
<circle cx="148.2" cy="121.1" r="0.95" fill="none" stroke="#0aaebf" stroke-width="0.65"/>
<circle cx="146.2" cy="109.0" r="0.95" fill="none" stroke="#0aaebf" stroke-width="0.65"/>
<circle cx="162.8" cy="136.2" r="0.95" fill="none" stroke="#0aaebf" stroke-width="0.65"/>
<circle cx="145.9" cy="133.2" r="0.95" fill="none" stroke="#0aaebf" stroke-width="0.65"/>
<circle cx="153.6" cy="131.4" r="0.95" fill="none" stroke="#0aaebf" stroke-width="0.65"/>
<circle cx="147.0" cy="110.8" r="0.95" fill="none" stroke="#0aaebf" stroke-width="0.65"/>
<circle cx="161.4" cy="124.8" r="0.95" fill="none" stroke="#0aaebf" stroke-width="0.65"/>
<circle cx="151.8" cy="130.0" r="0.95" fill="none" stroke="#0aaebf" stroke-width="0.65"/>
<circle cx="146.3" cy="130.6" r="0.95" fill="none" stroke="#0aaebf" stroke-width="0.65"/>
<circle cx="151.8" cy="123.4" r="0.95" fill="none" stroke="#0aaebf" stroke-width="0.65"/>
<circle cx="153.7" cy="128.7" r="0.95" fill="none" stroke="#0aaebf" stroke-width="0.65"/>
<circle cx="145.5" cy="130.9" r="0.95" fill="none" stroke="#0aaebf" stroke-width="0.65"/>
<circle cx="145.4" cy="112.2" r="0.95" fill="none" stroke="#0aaebf" stroke-width="0.65"/>
<circle cx="151.5" cy="135.8" r="0.95" fill="none" stroke="#0aaebf" stroke-width="0.65"/>
<circle cx="147.7" cy="121.5" r="0.95" fill="none" stroke="#0aaebf" stroke-width="0.65"/>
<circle cx="160.0" cy="130.6" r="0.95" fill="none" stroke="#0aaebf" stroke-width="0.65"/>
<circle cx="153.4" cy="131.3" r="0.95" fill="none" stroke="#0aaebf" stroke-width="0.65"/>
<circle cx="149.6" cy="110.0" r="0.95" fill="none" stroke="#0aaebf" stroke-width="0.65"/>
<circle cx="150.3" cy="125.1" r="0.95" fill="none" stroke="#0aaebf" stroke-width="0.65"/>
<circle cx="150.8" cy="123.1" r="0.95" fill="none" stroke="#0aaebf" stroke-width="0.65"/>
<circle cx="145.2" cy="115.5" r="0.95" fill="none" stroke="#0aaebf" stroke-width="0.65"/>
<circle cx="148.4" cy="112.0" r="0.95" fill="none" stroke="#0aaebf" stroke-width="0.65"/>
<circle cx="162.1" cy="124.9" r="0.95" fill="none" stroke="#0aaebf" stroke-width="0.65"/>
<circle cx="146.4" cy="132.2" r="0.95" fill="none" stroke="#0aaebf" stroke-width="0.65"/>
<circle cx="146.7" cy="132.0" r="0.95" fill="none" stroke="#0aaebf" stroke-width="0.65"/>
<circle cx="162.1" cy="129.9" r="0.95" fill="none" stroke="#0aaebf" stroke-width="0.65"/>
<circle cx="145.6" cy="114.1" r="0.95" fill="none" stroke="#0aaebf" stroke-width="0.65"/>
<circle cx="154.3" cy="114.7" r="0.95" fill="none" stroke="#0aaebf" stroke-width="0.65"/>
<circle cx="148.8" cy="121.7" r="0.95" fill="none" stroke="#0aaebf" stroke-width="0.65"/>
<circle cx="151.9" cy="115.0" r="0.95" fill="none" stroke="#0aaebf" stroke-width="0.65"/>
<circle cx="151.5" cy="130.5" r="0.95" fill="none" stroke="#0aaebf" stroke-width="0.65"/>
<circle cx="150.4" cy="121.6" r="0.95" fill="none" stroke="#0aaebf" stroke-width="0.65"/>
<circle cx="149.0" cy="127.9" r="0.95" fill="none" stroke="#0aaebf" stroke-width="0.65"/>
<circle cx="144.9" cy="124.4" r="0.95" fill="none" stroke="#0aaebf" stroke-width="0.65"/>
<circle cx="144.8" cy="119.2" r="0.95" fill="none" stroke="#0aaebf" stroke-width="0.65"/>
<circle cx="151.4" cy="110.3" r="0.95" fill="none" stroke="#0aaebf" stroke-width="0.65"/>
<circle cx="149.0" cy="132.3" r="0.95" fill="none" stroke="#0aaebf" stroke-width="0.65"/>
<circle cx="145.7" cy="118.7" r="0.95" fill="none" stroke="#0aaebf" stroke-width="0.65"/>
<circle cx="149.7" cy="125.1" r="0.95" fill="none" stroke="#0aaebf" stroke-width="0.65"/>
<circle cx="144.6" cy="113.1" r="0.95" fill="none" stroke="#0aaebf" stroke-width="0.65"/>
<circle cx="157.2" cy="130.2" r="0.95" fill="none" stroke="#0aaebf" stroke-width="0.65"/>
<circle cx="146.8" cy="130.9" r="0.95" fill="none" stroke="#0aaebf" stroke-width="0.65"/>
<circle cx="153.4" cy="117.1" r="0.95" fill="none" stroke="#0aaebf" stroke-width="0.65"/>
<circle cx="147.9" cy="116.8" r="0.95" fill="none" stroke="#0aaebf" stroke-width="0.65"/>
<circle cx="147.4" cy="121.7" r="0.95" fill="none" stroke="#0aaebf" stroke-width="0.65"/>
<circle cx="154.6" cy="131.5" r="0.95" fill="none" stroke="#0aaebf" stroke-width="0.65"/>
<circle cx="146.6" cy="135.8" r="0.95" fill="none" stroke="#0aaebf" stroke-width="0.65"/>
<circle cx="159.9" cy="136.8" r="0.95" fill="none" stroke="#0aaebf" stroke-width="0.65"/>
<circle cx="147.5" cy="111.5" r="0.95" fill="none" stroke="#0aaebf" stroke-width="0.65"/>
<circle cx="147.1" cy="132.3" r="0.95" fill="none" stroke="#0aaebf" stroke-width="0.65"/>
<circle cx="152.9" cy="134.0" r="0.95" fill="none" stroke="#0aaebf" stroke-width="0.65"/>
<circle cx="145.9" cy="109.5" r="0.95" fill="none" stroke="#0aaebf" stroke-width="0.65"/>
<circle cx="152.5" cy="120.1" r="0.95" fill="none" stroke="#0aaebf" stroke-width="0.65"/>
<circle cx="147.7" cy="131.8" r="0.95" fill="none" stroke="#0aaebf" stroke-width="0.65"/>
<circle cx="147.4" cy="129.2" r="0.95" fill="none" stroke="#0aaebf" stroke-width="0.65"/>
<circle cx="146.8" cy="109.8" r="0.95" fill="none" stroke="#0aaebf" stroke-width="0.65"/>
<circle cx="152.8" cy="123.8" r="0.95" fill="none" stroke="#0aaebf" stroke-width="0.65"/>
<circle cx="152.0" cy="116.4" r="0.95" fill="none" stroke="#0aaebf" stroke-width="0.65"/>
<circle cx="148.4" cy="117.7" r="0.95" fill="none" stroke="#0aaebf" stroke-width="0.65"/>
<circle cx="147.1" cy="115.8" r="0.95" fill="none" stroke="#0aaebf" stroke-width="0.65"/>
<circle cx="144.7" cy="116.6" r="0.95" fill="none" stroke="#0aaebf" stroke-width="0.65"/>
<circle cx="158.4" cy="121.9" r="0.95" fill="none" stroke="#0aaebf" stroke-width="0.65"/>
<circle cx="150.7" cy="118.4" r="0.95" fill="none" stroke="#0aaebf" stroke-width="0.65"/>
<circle cx="149.0" cy="108.7" r="0.95" fill="none" stroke="#0aaebf" stroke-width="0.65"/>
<circle cx="149.0" cy="124.1" r="0.95" fill="none" stroke="#0aaebf" stroke-width="0.65"/>
<circle cx="158.7" cy="129.8" r="0.95" fill="none" stroke="#0aaebf" stroke-width="0.65"/>
<circle cx="157.4" cy="132.2" r="0.95" fill="none" stroke="#0aaebf" stroke-width="0.65"/>
<circle cx="152.8" cy="127.5" r="0.95" fill="none" stroke="#0aaebf" stroke-width="0.65"/>
<circle cx="158.3" cy="124.8" r="0.95" fill="none" stroke="#0aaebf" stroke-width="0.65"/>
<circle cx="158.1" cy="132.9" r="0.95" fill="none" stroke="#0aaebf" stroke-width="0.65"/>
<circle cx="160.8" cy="125.9" r="0.95" fill="none" stroke="#0aaebf" stroke-width="0.65"/>
<circle cx="146.4" cy="109.4" r="0.95" fill="none" stroke="#0aaebf" stroke-width="0.65"/>
<circle cx="154.1" cy="135.5" r="0.95" fill="none" stroke="#0aaebf" stroke-width="0.65"/>
<circle cx="148.2" cy="122.2" r="0.95" fill="none" stroke="#0aaebf" stroke-width="0.65"/>
<circle cx="147.4" cy="133.6" r="0.95" fill="none" stroke="#0aaebf" stroke-width="0.65"/>
<circle cx="158.3" cy="129.3" r="0.95" fill="none" stroke="#0aaebf" stroke-width="0.65"/>
<circle cx="152.3" cy="116.0" r="0.95" fill="none" stroke="#0aaebf" stroke-width="0.65"/>
<circle cx="161.9" cy="129.2" r="0.95" fill="none" stroke="#0aaebf" stroke-width="0.65"/>
<circle cx="151.2" cy="123.3" r="0.95" fill="none" stroke="#0aaebf" stroke-width="0.65"/>
<circle cx="156.2" cy="117.8" r="0.95" fill="none" stroke="#0aaebf" stroke-width="0.65"/>
<circle cx="151.6" cy="135.1" r="0.95" fill="none" stroke="#0aaebf" stroke-width="0.65"/>
<circle cx="145.3" cy="115.9" r="0.95" fill="none" stroke="#0aaebf" stroke-width="0.65"/>
<circle cx="149.7" cy="117.7" r="0.95" fill="none" stroke="#0aaebf" stroke-width="0.65"/>
<circle cx="159.1" cy="120.6" r="0.95" fill="none" stroke="#0aaebf" stroke-width="0.65"/>
<circle cx="160.3" cy="135.0" r="0.95" fill="none" stroke="#0aaebf" stroke-width="0.65"/>
<circle cx="148.6" cy="114.6" r="0.95" fill="none" stroke="#0aaebf" stroke-width="0.65"/>
<circle cx="149.3" cy="126.7" r="0.95" fill="none" stroke="#0aaebf" stroke-width="0.65"/>
<circle cx="144.7" cy="136.8" r="0.95" fill="none" stroke="#0aaebf" stroke-width="0.65"/>
<circle cx="149.7" cy="110.6" r="0.95" fill="none" stroke="#0aaebf" stroke-width="0.65"/>
<circle cx="147.6" cy="132.4" r="0.95" fill="none" stroke="#0aaebf" stroke-width="0.65"/>
<circle cx="154.4" cy="115.0" r="0.95" fill="none" stroke="#0aaebf" stroke-width="0.65"/>
<circle cx="155.9" cy="115.6" r="0.95" fill="none" stroke="#0aaebf" stroke-width="0.65"/>
<circle cx="152.2" cy="136.2" r="0.95" fill="none" stroke="#0aaebf" stroke-width="0.65"/>
<circle cx="152.5" cy="129.7" r="0.95" fill="none" stroke="#0aaebf" stroke-width="0.65"/>
<circle cx="151.6" cy="115.9" r="0.95" fill="none" stroke="#0aaebf" stroke-width="0.65"/>
<circle cx="145.7" cy="117.4" r="0.95" fill="none" stroke="#0aaebf" stroke-width="0.65"/>
<circle cx="147.5" cy="136.2" r="0.95" fill="none" stroke="#0aaebf" stroke-width="0.65"/>
<circle cx="162.8" cy="135.8" r="0.95" fill="none" stroke="#0aaebf" stroke-width="0.65"/>
<circle cx="159.7" cy="132.4" r="0.95" fill="none" stroke="#0aaebf" stroke-width="0.65"/>
<circle cx="33.1" cy="73.3" r="0.95" fill="none" stroke="#fbc41e" stroke-width="0.65"/>
<circle cx="34.1" cy="74.9" r="0.95" fill="none" stroke="#fbc41e" stroke-width="0.65"/>
<circle cx="50.2" cy="78.4" r="0.95" fill="none" stroke="#fbc41e" stroke-width="0.65"/>
<circle cx="74.3" cy="77.7" r="0.95" fill="none" stroke="#fbc41e" stroke-width="0.65"/>
<circle cx="74.9" cy="79.6" r="0.95" fill="none" stroke="#fbc41e" stroke-width="0.65"/>
<circle cx="66.3" cy="93.9" r="0.95" fill="none" stroke="#fbc41e" stroke-width="0.65"/>
<circle cx="32.5" cy="98.0" r="0.95" fill="none" stroke="#fbc41e" stroke-width="0.65"/>
<circle cx="35.7" cy="116.7" r="0.95" fill="none" stroke="#fbc41e" stroke-width="0.65"/>
<circle cx="66.0" cy="120.0" r="0.95" fill="none" stroke="#fbc41e" stroke-width="0.65"/>
<circle cx="114.4" cy="71.1" r="0.95" fill="none" stroke="#fbc41e" stroke-width="0.65"/>
<circle cx="85.8" cy="80.9" r="0.95" fill="none" stroke="#fbc41e" stroke-width="0.65"/>
<circle cx="100.7" cy="82.2" r="0.95" fill="none" stroke="#fbc41e" stroke-width="0.65"/>
<circle cx="102.6" cy="80.0" r="0.95" fill="none" stroke="#fbc41e" stroke-width="0.65"/>
<circle cx="109.0" cy="94.8" r="0.95" fill="none" stroke="#fbc41e" stroke-width="0.65"/>
<circle cx="111.5" cy="92.7" r="0.95" fill="none" stroke="#fbc41e" stroke-width="0.65"/>
<circle cx="114.0" cy="91.0" r="0.95" fill="none" stroke="#fbc41e" stroke-width="0.65"/>
<circle cx="119.5" cy="91.0" r="0.95" fill="none" stroke="#fbc41e" stroke-width="0.65"/>
<circle cx="116.2" cy="95.2" r="0.95" fill="none" stroke="#fbc41e" stroke-width="0.65"/>
<circle cx="117.2" cy="99.9" r="0.95" fill="none" stroke="#fbc41e" stroke-width="0.65"/>
<circle cx="120.3" cy="98.6" r="0.95" fill="none" stroke="#fbc41e" stroke-width="0.65"/>
<circle cx="123.8" cy="96.1" r="0.95" fill="none" stroke="#fbc41e" stroke-width="0.65"/>
<circle cx="88.1" cy="98.6" r="0.95" fill="none" stroke="#fbc41e" stroke-width="0.65"/>
<circle cx="97.2" cy="103.0" r="0.95" fill="none" stroke="#fbc41e" stroke-width="0.65"/>
<circle cx="110.6" cy="115.4" r="0.95" fill="none" stroke="#fbc41e" stroke-width="0.65"/>
<circle cx="119.1" cy="114.4" r="0.95" fill="none" stroke="#fbc41e" stroke-width="0.65"/>
<circle cx="124.5" cy="116.7" r="0.95" fill="none" stroke="#fbc41e" stroke-width="0.65"/>
<circle cx="131.7" cy="118.9" r="0.95" fill="none" stroke="#fbc41e" stroke-width="0.65"/>
<circle cx="105.2" cy="118.9" r="0.95" fill="none" stroke="#fbc41e" stroke-width="0.65"/>
<circle cx="51.9" cy="138.4" r="0.95" fill="none" stroke="#fbc41e" stroke-width="0.65"/>
<circle cx="65.4" cy="146.3" r="0.95" fill="none" stroke="#fbc41e" stroke-width="0.65"/>
<circle cx="49.3" cy="165.6" r="0.95" fill="none" stroke="#fbc41e" stroke-width="0.65"/>
<circle cx="56.2" cy="177.0" r="0.95" fill="none" stroke="#fbc41e" stroke-width="0.65"/>
<circle cx="110.2" cy="115.6" r="0.95" fill="none" stroke="#fbc41e" stroke-width="0.65"/>
<circle cx="124.1" cy="116.9" r="0.95" fill="none" stroke="#fbc41e" stroke-width="0.65"/>
<circle cx="104.5" cy="126.4" r="0.95" fill="none" stroke="#fbc41e" stroke-width="0.65"/>
<circle cx="125.8" cy="125.4" r="0.95" fill="none" stroke="#fbc41e" stroke-width="0.65"/>
<circle cx="132.1" cy="126.4" r="0.95" fill="none" stroke="#fbc41e" stroke-width="0.65"/>
<circle cx="134.9" cy="135.0" r="0.95" fill="none" stroke="#fbc41e" stroke-width="0.65"/>
<circle cx="89.1" cy="141.0" r="0.95" fill="none" stroke="#fbc41e" stroke-width="0.65"/>
<circle cx="121.0" cy="139.0" r="0.95" fill="none" stroke="#fbc41e" stroke-width="0.65"/>
<circle cx="121.6" cy="141.0" r="0.95" fill="none" stroke="#fbc41e" stroke-width="0.65"/>
<circle cx="119.7" cy="142.2" r="0.95" fill="none" stroke="#fbc41e" stroke-width="0.65"/>
<circle cx="133.0" cy="139.0" r="0.95" fill="none" stroke="#fbc41e" stroke-width="0.65"/>
<circle cx="113.4" cy="141.6" r="0.95" fill="none" stroke="#fbc41e" stroke-width="0.65"/>
<circle cx="102.6" cy="146.0" r="0.95" fill="none" stroke="#fbc41e" stroke-width="0.65"/>
<circle cx="109.0" cy="145.4" r="0.95" fill="none" stroke="#fbc41e" stroke-width="0.65"/>
<circle cx="115.7" cy="146.0" r="0.95" fill="none" stroke="#fbc41e" stroke-width="0.65"/>
<circle cx="137.4" cy="143.5" r="0.95" fill="none" stroke="#fbc41e" stroke-width="0.65"/>
<circle cx="140.6" cy="149.2" r="0.95" fill="none" stroke="#fbc41e" stroke-width="0.65"/>
<circle cx="136.2" cy="146.6" r="0.95" fill="none" stroke="#fbc41e" stroke-width="0.65"/>
<circle cx="119.1" cy="148.5" r="0.95" fill="none" stroke="#fbc41e" stroke-width="0.65"/>
<circle cx="114.0" cy="149.8" r="0.95" fill="none" stroke="#fbc41e" stroke-width="0.65"/>
<circle cx="112.7" cy="152.3" r="0.95" fill="none" stroke="#fbc41e" stroke-width="0.65"/>
<circle cx="95.0" cy="156.8" r="0.95" fill="none" stroke="#fbc41e" stroke-width="0.65"/>
<circle cx="113.4" cy="157.4" r="0.95" fill="none" stroke="#fbc41e" stroke-width="0.65"/>
<circle cx="116.5" cy="155.5" r="0.95" fill="none" stroke="#fbc41e" stroke-width="0.65"/>
<circle cx="121.0" cy="155.5" r="0.95" fill="none" stroke="#fbc41e" stroke-width="0.65"/>
<circle cx="112.1" cy="161.8" r="0.95" fill="none" stroke="#fbc41e" stroke-width="0.65"/>
<circle cx="105.8" cy="165.6" r="0.95" fill="none" stroke="#fbc41e" stroke-width="0.65"/>
<circle cx="110.2" cy="171.3" r="0.95" fill="none" stroke="#fbc41e" stroke-width="0.65"/>
<circle cx="111.9" cy="161.9" r="0.95" fill="none" stroke="#fbc41e" stroke-width="0.65"/>
<circle cx="105.6" cy="165.7" r="0.95" fill="none" stroke="#fbc41e" stroke-width="0.65"/>
<circle cx="104.3" cy="179.0" r="0.95" fill="none" stroke="#fbc41e" stroke-width="0.65"/>
<circle cx="107.1" cy="183.0" r="0.95" fill="none" stroke="#fbc41e" stroke-width="0.65"/>
<circle cx="79.0" cy="200.5" r="0.95" fill="none" stroke="#fbc41e" stroke-width="0.65"/>
<circle cx="205.2" cy="76.5" r="0.95" fill="none" stroke="#0aaebf" stroke-width="0.65"/>
<circle cx="155.3" cy="21.3" r="0.95" fill="none" stroke="#0aaebf" stroke-width="0.65"/>
<circle cx="156.2" cy="30.8" r="0.95" fill="none" stroke="#0aaebf" stroke-width="0.65"/>
<circle cx="151.3" cy="44.7" r="0.95" fill="none" stroke="#0aaebf" stroke-width="0.65"/>
<circle cx="162.5" cy="73.7" r="0.95" fill="none" stroke="#0aaebf" stroke-width="0.65"/>
<circle cx="163.0" cy="77.5" r="0.95" fill="none" stroke="#0aaebf" stroke-width="0.65"/>
<circle cx="163.7" cy="84.7" r="0.95" fill="none" stroke="#0aaebf" stroke-width="0.65"/>
<circle cx="174.3" cy="85.3" r="0.95" fill="none" stroke="#0aaebf" stroke-width="0.65"/>
<circle cx="174.2" cy="88.0" r="0.95" fill="none" stroke="#0aaebf" stroke-width="0.65"/>
<circle cx="149.7" cy="85.0" r="0.95" fill="none" stroke="#0aaebf" stroke-width="0.65"/>
<circle cx="150.5" cy="88.3" r="0.95" fill="none" stroke="#0aaebf" stroke-width="0.65"/>
<circle cx="161.7" cy="89.7" r="0.95" fill="none" stroke="#0aaebf" stroke-width="0.65"/>
<circle cx="161.2" cy="92.0" r="0.95" fill="none" stroke="#0aaebf" stroke-width="0.65"/>
<circle cx="159.7" cy="93.7" r="0.95" fill="none" stroke="#0aaebf" stroke-width="0.65"/>
<circle cx="170.0" cy="93.7" r="0.95" fill="none" stroke="#0aaebf" stroke-width="0.65"/>
<circle cx="195.8" cy="92.0" r="0.95" fill="none" stroke="#0aaebf" stroke-width="0.65"/>
<circle cx="149.2" cy="92.5" r="0.95" fill="none" stroke="#0aaebf" stroke-width="0.65"/>
<circle cx="149.2" cy="91.7" r="0.95" fill="none" stroke="#0aaebf" stroke-width="0.65"/>
<circle cx="149.7" cy="94.6" r="0.95" fill="none" stroke="#0aaebf" stroke-width="0.65"/>
<circle cx="160.1" cy="91.7" r="0.95" fill="none" stroke="#0aaebf" stroke-width="0.65"/>
<circle cx="161.8" cy="90.6" r="0.95" fill="none" stroke="#0aaebf" stroke-width="0.65"/>
<circle cx="158.9" cy="94.6" r="0.95" fill="none" stroke="#0aaebf" stroke-width="0.65"/>
<circle cx="170.0" cy="94.4" r="0.95" fill="none" stroke="#0aaebf" stroke-width="0.65"/>
<circle cx="170.4" cy="99.2" r="0.95" fill="none" stroke="#0aaebf" stroke-width="0.65"/>
<circle cx="158.3" cy="100.1" r="0.95" fill="none" stroke="#0aaebf" stroke-width="0.65"/>
<circle cx="172.3" cy="103.8" r="0.95" fill="none" stroke="#0aaebf" stroke-width="0.65"/>
<circle cx="186.4" cy="98.6" r="0.95" fill="none" stroke="#0aaebf" stroke-width="0.65"/>
<circle cx="160.6" cy="104.9" r="0.95" fill="none" stroke="#0aaebf" stroke-width="0.65"/>
<circle cx="150.1" cy="107.2" r="0.95" fill="none" stroke="#0aaebf" stroke-width="0.65"/>
<circle cx="164.1" cy="107.8" r="0.95" fill="none" stroke="#0aaebf" stroke-width="0.65"/>
<circle cx="166.4" cy="107.8" r="0.95" fill="none" stroke="#0aaebf" stroke-width="0.65"/>
<circle cx="158.3" cy="109.5" r="0.95" fill="none" stroke="#0aaebf" stroke-width="0.65"/>
<circle cx="176.1" cy="109.5" r="0.95" fill="none" stroke="#0aaebf" stroke-width="0.65"/>
<circle cx="163.5" cy="114.1" r="0.95" fill="none" stroke="#0aaebf" stroke-width="0.65"/>
<circle cx="171.5" cy="116.4" r="0.95" fill="none" stroke="#0aaebf" stroke-width="0.65"/>
<circle cx="158.3" cy="116.4" r="0.95" fill="none" stroke="#0aaebf" stroke-width="0.65"/>
<circle cx="160.1" cy="114.7" r="0.95" fill="none" stroke="#0aaebf" stroke-width="0.65"/>
<circle cx="147.5" cy="118.1" r="0.95" fill="none" stroke="#0aaebf" stroke-width="0.65"/>
<circle cx="151.5" cy="120.4" r="0.95" fill="none" stroke="#0aaebf" stroke-width="0.65"/>
<circle cx="154.9" cy="121.0" r="0.95" fill="none" stroke="#0aaebf" stroke-width="0.65"/>
<circle cx="165.8" cy="119.2" r="0.95" fill="none" stroke="#0aaebf" stroke-width="0.65"/>
<circle cx="168.7" cy="121.0" r="0.95" fill="none" stroke="#0aaebf" stroke-width="0.65"/>
<circle cx="189.3" cy="135.3" r="0.95" fill="none" stroke="#0aaebf" stroke-width="0.65"/>
<circle cx="176.5" cy="109.2" r="0.95" fill="none" stroke="#0aaebf" stroke-width="0.65"/>
<circle cx="195.5" cy="115.6" r="0.95" fill="none" stroke="#0aaebf" stroke-width="0.65"/>
<circle cx="189.8" cy="135.1" r="0.95" fill="none" stroke="#0aaebf" stroke-width="0.65"/>
<circle cx="178.3" cy="145.5" r="0.95" fill="none" stroke="#0aaebf" stroke-width="0.65"/>
<circle cx="192.0" cy="159.2" r="0.95" fill="none" stroke="#0aaebf" stroke-width="0.65"/>
<circle cx="216.1" cy="176.4" r="0.95" fill="none" stroke="#0aaebf" stroke-width="0.65"/>
<circle cx="176.0" cy="178.0" r="0.95" fill="none" stroke="#0aaebf" stroke-width="0.65"/>
<circle cx="187.0" cy="186.7" r="0.95" fill="none" stroke="#0aaebf" stroke-width="0.65"/>
<circle cx="184.0" cy="184.4" r="0.95" fill="none" stroke="#0aaebf" stroke-width="0.65"/>
<circle cx="180.6" cy="183.3" r="0.95" fill="none" stroke="#0aaebf" stroke-width="0.65"/>
<circle cx="171.4" cy="145.4" r="0.95" fill="none" stroke="#0aaebf" stroke-width="0.65"/>
<circle cx="178.5" cy="145.4" r="0.95" fill="none" stroke="#0aaebf" stroke-width="0.65"/>
<circle cx="186.3" cy="186.0" r="0.95" fill="none" stroke="#0aaebf" stroke-width="0.65"/>
<circle cx="191.7" cy="159.0" r="0.95" fill="none" stroke="#0aaebf" stroke-width="0.65"/>
<circle cx="175.5" cy="178.0" r="0.95" fill="none" stroke="#0aaebf" stroke-width="0.65"/>
<line x1="26.6" y1="203" x2="224.9" y2="203" stroke="#6a6a6a" stroke-width="1.1" stroke-dasharray="3.7,2.2,0.9,2.2"/>
<line x1="144.55" y1="11.8" x2="144.55" y2="238.2" stroke="#1a1a1a" stroke-width="1.3" stroke-dasharray="3.7,2.3,0.8,2.3"/>
<rect x="23.5" y="11.2" width="201.4" height="227.0" fill="none" stroke="#6b6b6b" stroke-width="1"/>
<line x1="22.0" y1="227.5" x2="23.5" y2="227.5" stroke="#444" stroke-width="0.5"/>
<line x1="22.0" y1="172.46" x2="23.5" y2="172.46" stroke="#444" stroke-width="0.5"/>
<line x1="22.0" y1="117.42000000000002" x2="23.5" y2="117.42000000000002" stroke="#444" stroke-width="0.5"/>
<line x1="22.0" y1="62.380000000000024" x2="23.5" y2="62.380000000000024" stroke="#444" stroke-width="0.5"/>
<text x="21.4" y="65.3" font-size="4.8" fill="#555" text-anchor="end">60</text>
<text x="21.4" y="124.10000000000001" font-size="4.8" fill="#555" text-anchor="end">40</text>
<text x="21.4" y="173.89999999999998" font-size="4.8" fill="#555" text-anchor="end">20</text>
<text x="21.4" y="229.2" font-size="4.8" fill="#555" text-anchor="end">0</text>
<line x1="71.8" y1="238.2" x2="71.8" y2="239.7" stroke="#444" stroke-width="0.5"/>
<text x="70.8" y="243.5" font-size="5.0" fill="#555" text-anchor="middle">−0.5</text>
<line x1="144.6" y1="238.2" x2="144.6" y2="239.7" stroke="#444" stroke-width="0.5"/>
<text x="146.6" y="243.5" font-size="5.0" fill="#555" text-anchor="middle">0.0</text>
<line x1="217.2" y1="238.2" x2="217.2" y2="239.7" stroke="#444" stroke-width="0.5"/>
<text x="217.4" y="243.5" font-size="5.0" fill="#555" text-anchor="middle">0.5</text>
<text x="121" y="248.2" font-size="6.3" fill="#222" text-anchor="middle">logFC</text>
<text transform="translate(10.9,135.4) rotate(-90)" font-size="6.5" fill="#222" text-anchor="middle">−log10(P.Value)</text>
<text x="38.4" y="39.3" font-size="7.3" fill="#333" textLength="29" lengthAdjust="spacing">FDR&lt;10</text>
<text x="67.9" y="36.6" font-size="4.2" fill="#333">-9</text>
<text x="229.6" y="112.6" font-size="6.7" fill="#222">change</text>
<circle cx="230" cy="121" r="1.0" fill="#fbc41e" stroke="#fbc41e" stroke-width="0.6"/>
<text x="233.7" y="122.9" font-size="5.4" fill="#222">DOWN</text>
<circle cx="230" cy="129.8" r="1.0" fill="#d8d8d8" stroke="#d8d8d8" stroke-width="0.6"/>
<text x="233.7" y="131.70000000000002" font-size="5.4" fill="#222">NOT</text>
<circle cx="230" cy="138.6" r="1.0" fill="#0aaebf" stroke="#0aaebf" stroke-width="0.6"/>
<text x="233.7" y="140.5" font-size="5.4" fill="#222">UP</text>
</g>
<text x="3.8" y="15.6" font-size="11.7" fill="#222">A</text>
<text x="263.2" y="14.8" font-size="12" fill="#222">B</text>
<text x="3.3" y="268.6" font-size="12.4" fill="#222">C</text>
<g id="B">
<text transform="translate(294.6,11.05) scale(0.92,1)" font-size="4.2" fill="#262626" text-anchor="end">G0S2</text>
<line x1="295.6" y1="9.60" x2="297.3" y2="9.60" stroke="#333" stroke-width="0.5"/>
<circle cx="302.1" cy="9.60" r="2.35" fill="#5a95d0"/>
<circle cx="310.5" cy="9.60" r="2.05" fill="#5a95d0"/>
<circle cx="318.9" cy="9.60" r="2.35" fill="#5a95d0"/>
<circle cx="327.3" cy="9.60" r="0.85" fill="#b6bdcb"/>
<circle cx="335.7" cy="9.60" r="0.55" fill="#b6bdcb"/>
<circle cx="344.2" cy="9.60" r="0.55" fill="#b6bdcb"/>
<circle cx="352.6" cy="9.60" r="0.85" fill="#b6bdcb"/>
<circle cx="361.0" cy="9.60" r="0.55" fill="#b6bdcb"/>
<circle cx="369.4" cy="9.60" r="1.7" fill="#9cbde3"/>
<circle cx="377.8" cy="9.60" r="0.55" fill="#b6bdcb"/>
<circle cx="386.2" cy="9.60" r="2.05" fill="#5a95d0"/>
<circle cx="394.7" cy="9.60" r="1.7" fill="#9cbde3"/>
<circle cx="403.1" cy="9.60" r="1.7" fill="#9cbde3"/>
<circle cx="411.5" cy="9.60" r="0.55" fill="#b6bdcb"/>
<circle cx="419.9" cy="9.60" r="1.7" fill="#5a95d0"/>
<circle cx="428.4" cy="9.60" r="1.7" fill="#9cbde3"/>
<circle cx="436.8" cy="9.60" r="0.55" fill="#b6bdcb"/>
<circle cx="445.2" cy="9.60" r="0.55" fill="#b6bdcb"/>
<text transform="translate(294.6,16.37) scale(0.92,1)" font-size="4.2" fill="#262626" text-anchor="end">AQP9</text>
<line x1="295.6" y1="14.92" x2="297.3" y2="14.92" stroke="#333" stroke-width="0.5"/>
<circle cx="302.1" cy="14.92" r="2.05" fill="#5a95d0"/>
<circle cx="310.5" cy="14.92" r="2.05" fill="#5a95d0"/>
<circle cx="318.9" cy="14.92" r="2.05" fill="#5a95d0"/>
<circle cx="327.3" cy="14.92" r="0.55" fill="#b6bdcb"/>
<circle cx="335.7" cy="14.92" r="0.55" fill="#b6bdcb"/>
<circle cx="344.2" cy="14.92" r="0.55" fill="#b6bdcb"/>
<circle cx="352.6" cy="14.92" r="0.55" fill="#b6bdcb"/>
<circle cx="361.0" cy="14.92" r="0.55" fill="#b6bdcb"/>
<circle cx="369.4" cy="14.92" r="0.85" fill="#9cbde3"/>
<circle cx="377.8" cy="14.92" r="0.55" fill="#b6bdcb"/>
<circle cx="386.2" cy="14.92" r="1.7" fill="#5a95d0"/>
<circle cx="394.7" cy="14.92" r="1.7" fill="#5a95d0"/>
<circle cx="403.1" cy="14.92" r="1.3" fill="#9cbde3"/>
<circle cx="411.5" cy="14.92" r="0.55" fill="#b6bdcb"/>
<circle cx="419.9" cy="14.92" r="1.3" fill="#2e83ca"/>
<circle cx="428.4" cy="14.92" r="1.7" fill="#9cbde3"/>
<circle cx="436.8" cy="14.92" r="0.55" fill="#b6bdcb"/>
<circle cx="445.2" cy="14.92" r="0.55" fill="#b6bdcb"/>
<text transform="translate(294.6,21.68) scale(0.92,1)" font-size="4.2" fill="#262626" text-anchor="end">LST1</text>
<line x1="295.6" y1="20.23" x2="297.3" y2="20.23" stroke="#333" stroke-width="0.5"/>
<circle cx="302.1" cy="20.23" r="2.05" fill="#5a95d0"/>
<circle cx="310.5" cy="20.23" r="2.05" fill="#5a95d0"/>
<circle cx="318.9" cy="20.23" r="2.35" fill="#2e83ca"/>
<circle cx="327.3" cy="20.23" r="0.85" fill="#b6bdcb"/>
<circle cx="335.7" cy="20.23" r="0.55" fill="#b6bdcb"/>
<circle cx="344.2" cy="20.23" r="1.7" fill="#9cbde3"/>
<circle cx="352.6" cy="20.23" r="0.85" fill="#b6bdcb"/>
<circle cx="361.0" cy="20.23" r="0.55" fill="#b6bdcb"/>
<circle cx="369.4" cy="20.23" r="2.35" fill="#2e83ca"/>
<circle cx="377.8" cy="20.23" r="0.55" fill="#b6bdcb"/>
<circle cx="386.2" cy="20.23" r="1.7" fill="#5a95d0"/>
<circle cx="394.7" cy="20.23" r="1.7" fill="#5a95d0"/>
<circle cx="403.1" cy="20.23" r="2.05" fill="#9cbde3"/>
<circle cx="411.5" cy="20.23" r="0.55" fill="#b6bdcb"/>
<circle cx="419.9" cy="20.23" r="1.3" fill="#9cbde3"/>
<circle cx="428.4" cy="20.23" r="2.05" fill="#9cbde3"/>
<circle cx="436.8" cy="20.23" r="0.55" fill="#b6bdcb"/>
<circle cx="445.2" cy="20.23" r="0.55" fill="#b6bdcb"/>
<text transform="translate(294.6,27.00) scale(0.92,1)" font-size="4.2" fill="#262626" text-anchor="end">SERPINA1</text>
<line x1="295.6" y1="25.55" x2="297.3" y2="25.55" stroke="#333" stroke-width="0.5"/>
<circle cx="302.1" cy="25.55" r="2.05" fill="#5a95d0"/>
<circle cx="310.5" cy="25.55" r="2.05" fill="#5a95d0"/>
<circle cx="318.9" cy="25.55" r="2.35" fill="#2e83ca"/>
<circle cx="327.3" cy="25.55" r="0.85" fill="#b6bdcb"/>
<circle cx="335.7" cy="25.55" r="0.55" fill="#b6bdcb"/>
<circle cx="344.2" cy="25.55" r="0.85" fill="#b6bdcb"/>
<circle cx="352.6" cy="25.55" r="0.85" fill="#b6bdcb"/>
<circle cx="361.0" cy="25.55" r="0.55" fill="#b6bdcb"/>
<circle cx="369.4" cy="25.55" r="2.35" fill="#5a95d0"/>
<circle cx="377.8" cy="25.55" r="0.55" fill="#b6bdcb"/>
<circle cx="386.2" cy="25.55" r="1.7" fill="#5a95d0"/>
<circle cx="394.7" cy="25.55" r="1.7" fill="#5a95d0"/>
<circle cx="403.1" cy="25.55" r="2.05" fill="#9cbde3"/>
<circle cx="411.5" cy="25.55" r="0.55" fill="#b6bdcb"/>
<circle cx="419.9" cy="25.55" r="1.3" fill="#5a95d0"/>
<circle cx="428.4" cy="25.55" r="2.05" fill="#9cbde3"/>
<circle cx="436.8" cy="25.55" r="0.55" fill="#b6bdcb"/>
<circle cx="445.2" cy="25.55" r="0.55" fill="#b6bdcb"/>
<text transform="translate(294.6,32.31) scale(0.92,1)" font-size="4.2" fill="#262626" text-anchor="end">CSF3R</text>
<line x1="295.6" y1="30.86" x2="297.3" y2="30.86" stroke="#333" stroke-width="0.5"/>
<circle cx="302.1" cy="30.86" r="2.35" fill="#5a95d0"/>
<circle cx="310.5" cy="30.86" r="2.35" fill="#5a95d0"/>
<circle cx="318.9" cy="30.86" r="2.35" fill="#5a95d0"/>
<circle cx="327.3" cy="30.86" r="1.3" fill="#9cbde3"/>
<circle cx="335.7" cy="30.86" r="0.55" fill="#b6bdcb"/>
<circle cx="344.2" cy="30.86" r="1.7" fill="#9cbde3"/>
<circle cx="352.6" cy="30.86" r="1.3" fill="#9cbde3"/>
<circle cx="361.0" cy="30.86" r="0.55" fill="#b6bdcb"/>
<circle cx="369.4" cy="30.86" r="1.3" fill="#9cbde3"/>
<circle cx="377.8" cy="30.86" r="0.85" fill="#b6bdcb"/>
<circle cx="386.2" cy="30.86" r="2.05" fill="#5a95d0"/>
<circle cx="394.7" cy="30.86" r="2.05" fill="#5a95d0"/>
<circle cx="403.1" cy="30.86" r="2.05" fill="#9cbde3"/>
<circle cx="411.5" cy="30.86" r="0.55" fill="#b6bdcb"/>
<circle cx="419.9" cy="30.86" r="2.35" fill="#2e83ca"/>
<circle cx="428.4" cy="30.86" r="2.05" fill="#9cbde3"/>
<circle cx="436.8" cy="30.86" r="0.55" fill="#b6bdcb"/>
<circle cx="445.2" cy="30.86" r="0.55" fill="#b6bdcb"/>
<text transform="translate(294.6,37.63) scale(0.92,1)" font-size="4.2" fill="#262626" text-anchor="end">FPR1</text>
<line x1="295.6" y1="36.18" x2="297.3" y2="36.18" stroke="#333" stroke-width="0.5"/>
<circle cx="302.1" cy="36.18" r="2.35" fill="#5a95d0"/>
<circle cx="310.5" cy="36.18" r="2.35" fill="#5a95d0"/>
<circle cx="318.9" cy="36.18" r="2.35" fill="#5a95d0"/>
<circle cx="327.3" cy="36.18" r="0.85" fill="#b6bdcb"/>
<circle cx="335.7" cy="36.18" r="0.55" fill="#b6bdcb"/>
<circle cx="344.2" cy="36.18" r="0.85" fill="#b6bdcb"/>
<circle cx="352.6" cy="36.18" r="0.85" fill="#b6bdcb"/>
<circle cx="361.0" cy="36.18" r="0.55" fill="#b6bdcb"/>
<circle cx="369.4" cy="36.18" r="1.3" fill="#9cbde3"/>
<circle cx="377.8" cy="36.18" r="0.55" fill="#b6bdcb"/>
<circle cx="386.2" cy="36.18" r="2.05" fill="#5a95d0"/>
<circle cx="394.7" cy="36.18" r="2.05" fill="#5a95d0"/>
<circle cx="403.1" cy="36.18" r="1.7" fill="#9cbde3"/>
<circle cx="411.5" cy="36.18" r="0.55" fill="#b6bdcb"/>
<circle cx="419.9" cy="36.18" r="1.3" fill="#5a95d0"/>
<circle cx="428.4" cy="36.18" r="1.7" fill="#9cbde3"/>
<circle cx="436.8" cy="36.18" r="0.55" fill="#b6bdcb"/>
<circle cx="445.2" cy="36.18" r="0.55" fill="#b6bdcb"/>
<text transform="translate(294.6,42.95) scale(0.92,1)" font-size="4.2" fill="#262626" text-anchor="end">BASP1</text>
<line x1="295.6" y1="41.50" x2="297.3" y2="41.50" stroke="#333" stroke-width="0.5"/>
<circle cx="302.1" cy="41.50" r="2.35" fill="#5a95d0"/>
<circle cx="310.5" cy="41.50" r="2.35" fill="#5a95d0"/>
<circle cx="318.9" cy="41.50" r="2.05" fill="#5a95d0"/>
<circle cx="327.3" cy="41.50" r="0.85" fill="#b6bdcb"/>
<circle cx="335.7" cy="41.50" r="1.3" fill="#9cbde3"/>
<circle cx="344.2" cy="41.50" r="1.7" fill="#9cbde3"/>
<circle cx="352.6" cy="41.50" r="0.85" fill="#b6bdcb"/>
<circle cx="361.0" cy="41.50" r="0.55" fill="#b6bdcb"/>
<circle cx="369.4" cy="41.50" r="1.3" fill="#9cbde3"/>
<circle cx="377.8" cy="41.50" r="0.55" fill="#b6bdcb"/>
<circle cx="386.2" cy="41.50" r="2.05" fill="#5a95d0"/>
<circle cx="394.7" cy="41.50" r="2.05" fill="#5a95d0"/>
<circle cx="403.1" cy="41.50" r="1.3" fill="#9cbde3"/>
<circle cx="411.5" cy="41.50" r="0.55" fill="#b6bdcb"/>
<circle cx="419.9" cy="41.50" r="1.3" fill="#5a95d0"/>
<circle cx="428.4" cy="41.50" r="1.7" fill="#9cbde3"/>
<circle cx="436.8" cy="41.50" r="0.55" fill="#b6bdcb"/>
<circle cx="445.2" cy="41.50" r="0.55" fill="#b6bdcb"/>
<text transform="translate(294.6,48.26) scale(0.92,1)" font-size="4.2" fill="#262626" text-anchor="end">CXCR2</text>
<line x1="295.6" y1="46.81" x2="297.3" y2="46.81" stroke="#333" stroke-width="0.5"/>
<circle cx="302.1" cy="46.81" r="1.7" fill="#2e83ca"/>
<circle cx="310.5" cy="46.81" r="1.7" fill="#5a95d0"/>
<circle cx="318.9" cy="46.81" r="1.7" fill="#2e83ca"/>
<circle cx="327.3" cy="46.81" r="0.55" fill="#b6bdcb"/>
<circle cx="335.7" cy="46.81" r="0.55" fill="#b6bdcb"/>
<circle cx="344.2" cy="46.81" r="0.55" fill="#b6bdcb"/>
<circle cx="352.6" cy="46.81" r="0.55" fill="#b6bdcb"/>
<circle cx="361.0" cy="46.81" r="0.55" fill="#b6bdcb"/>
<circle cx="369.4" cy="46.81" r="0.55" fill="#b6bdcb"/>
<circle cx="377.8" cy="46.81" r="0.55" fill="#b6bdcb"/>
<circle cx="386.2" cy="46.81" r="1.7" fill="#2e83ca"/>
<circle cx="394.7" cy="46.81" r="1.3" fill="#5a95d0"/>
<circle cx="403.1" cy="46.81" r="0.85" fill="#9cbde3"/>
<circle cx="411.5" cy="46.81" r="0.55" fill="#b6bdcb"/>
<circle cx="419.9" cy="46.81" r="0.85" fill="#5a95d0"/>
<circle cx="428.4" cy="46.81" r="0.85" fill="#9cbde3"/>
<circle cx="436.8" cy="46.81" r="0.55" fill="#b6bdcb"/>
<circle cx="445.2" cy="46.81" r="0.55" fill="#b6bdcb"/>
<text transform="translate(294.6,53.58) scale(0.92,1)" font-size="4.2" fill="#262626" text-anchor="end">SLC25A37</text>
<line x1="295.6" y1="52.13" x2="297.3" y2="52.13" stroke="#333" stroke-width="0.5"/>
<circle cx="302.1" cy="52.13" r="2.05" fill="#9cbde3"/>
<circle cx="310.5" cy="52.13" r="2.05" fill="#9cbde3"/>
<circle cx="318.9" cy="52.13" r="2.05" fill="#9cbde3"/>
<circle cx="327.3" cy="52.13" r="0.85" fill="#b6bdcb"/>
<circle cx="335.7" cy="52.13" r="0.85" fill="#b6bdcb"/>
<circle cx="344.2" cy="52.13" r="1.3" fill="#9cbde3"/>
<circle cx="352.6" cy="52.13" r="2.35" fill="#2e83ca"/>
<circle cx="361.0" cy="52.13" r="0.55" fill="#b6bdcb"/>
<circle cx="369.4" cy="52.13" r="1.3" fill="#9cbde3"/>
<circle cx="377.8" cy="52.13" r="0.85" fill="#b6bdcb"/>
<circle cx="386.2" cy="52.13" r="2.05" fill="#9cbde3"/>
<circle cx="394.7" cy="52.13" r="1.7" fill="#9cbde3"/>
<circle cx="403.1" cy="52.13" r="1.7" fill="#9cbde3"/>
<circle cx="411.5" cy="52.13" r="0.55" fill="#b6bdcb"/>
<circle cx="419.9" cy="52.13" r="1.7" fill="#5a95d0"/>
<circle cx="428.4" cy="52.13" r="1.7" fill="#9cbde3"/>
<circle cx="436.8" cy="52.13" r="0.55" fill="#b6bdcb"/>
<circle cx="445.2" cy="52.13" r="0.55" fill="#b6bdcb"/>
<text transform="translate(294.6,58.89) scale(0.92,1)" font-size="4.2" fill="#262626" text-anchor="end">S100A8</text>
<line x1="295.6" y1="57.44" x2="297.3" y2="57.44" stroke="#333" stroke-width="0.5"/>
<circle cx="302.1" cy="57.44" r="2.35" fill="#9cbde3"/>
<circle cx="310.5" cy="57.44" r="2.35" fill="#5a95d0"/>
<circle cx="318.9" cy="57.44" r="2.35" fill="#9cbde3"/>
<circle cx="327.3" cy="57.44" r="0.85" fill="#b6bdcb"/>
<circle cx="335.7" cy="57.44" r="0.55" fill="#b6bdcb"/>
<circle cx="344.2" cy="57.44" r="2.35" fill="#2e83ca"/>
<circle cx="352.6" cy="57.44" r="1.3" fill="#9cbde3"/>
<circle cx="361.0" cy="57.44" r="1.3" fill="#9cbde3"/>
<circle cx="369.4" cy="57.44" r="1.7" fill="#9cbde3"/>
<circle cx="377.8" cy="57.44" r="0.85" fill="#b6bdcb"/>
<circle cx="386.2" cy="57.44" r="2.35" fill="#9cbde3"/>
<circle cx="394.7" cy="57.44" r="2.35" fill="#2e83ca"/>
<circle cx="403.1" cy="57.44" r="2.05" fill="#9cbde3"/>
<circle cx="411.5" cy="57.44" r="0.55" fill="#b6bdcb"/>
<circle cx="419.9" cy="57.44" r="1.7" fill="#9cbde3"/>
<circle cx="428.4" cy="57.44" r="2.05" fill="#9cbde3"/>
<circle cx="436.8" cy="57.44" r="0.55" fill="#b6bdcb"/>
<circle cx="445.2" cy="57.44" r="0.55" fill="#b6bdcb"/>
<text transform="translate(294.6,64.21) scale(0.92,1)" font-size="4.2" fill="#262626" text-anchor="end">FCGR3B</text>
<line x1="295.6" y1="62.76" x2="297.3" y2="62.76" stroke="#333" stroke-width="0.5"/>
<circle cx="302.1" cy="62.76" r="2.05" fill="#5a95d0"/>
<circle cx="310.5" cy="62.76" r="2.05" fill="#5a95d0"/>
<circle cx="318.9" cy="62.76" r="2.35" fill="#5a95d0"/>
<circle cx="327.3" cy="62.76" r="0.85" fill="#b6bdcb"/>
<circle cx="335.7" cy="62.76" r="0.55" fill="#b6bdcb"/>
<circle cx="344.2" cy="62.76" r="0.55" fill="#b6bdcb"/>
<circle cx="352.6" cy="62.76" r="0.85" fill="#b6bdcb"/>
<circle cx="361.0" cy="62.76" r="0.55" fill="#b6bdcb"/>
<circle cx="369.4" cy="62.76" r="0.85" fill="#b6bdcb"/>
<circle cx="377.8" cy="62.76" r="0.55" fill="#b6bdcb"/>
<circle cx="386.2" cy="62.76" r="2.35" fill="#2e83ca"/>
<circle cx="394.7" cy="62.76" r="2.05" fill="#5a95d0"/>
<circle cx="403.1" cy="62.76" r="0.85" fill="#b6bdcb"/>
<circle cx="411.5" cy="62.76" r="0.55" fill="#b6bdcb"/>
<circle cx="419.9" cy="62.76" r="1.3" fill="#5a95d0"/>
<circle cx="428.4" cy="62.76" r="0.85" fill="#b6bdcb"/>
<circle cx="436.8" cy="62.76" r="0.55" fill="#b6bdcb"/>
<circle cx="445.2" cy="62.76" r="0.55" fill="#b6bdcb"/>
<text transform="translate(294.6,69.53) scale(0.92,1)" font-size="4.2" fill="#262626" text-anchor="end">CMTM2</text>
<line x1="295.6" y1="68.08" x2="297.3" y2="68.08" stroke="#333" stroke-width="0.5"/>
<circle cx="302.1" cy="68.08" r="1.7" fill="#5a95d0"/>
<circle cx="310.5" cy="68.08" r="2.05" fill="#2e83ca"/>
<circle cx="318.9" cy="68.08" r="1.7" fill="#5a95d0"/>
<circle cx="327.3" cy="68.08" r="0.85" fill="#b6bdcb"/>
<circle cx="335.7" cy="68.08" r="0.55" fill="#b6bdcb"/>
<circle cx="344.2" cy="68.08" r="0.55" fill="#b6bdcb"/>
<circle cx="352.6" cy="68.08" r="0.85" fill="#b6bdcb"/>
<circle cx="361.0" cy="68.08" r="0.55" fill="#b6bdcb"/>
<circle cx="369.4" cy="68.08" r="0.55" fill="#b6bdcb"/>
<circle cx="377.8" cy="68.08" r="0.55" fill="#b6bdcb"/>
<circle cx="386.2" cy="68.08" r="1.7" fill="#2e83ca"/>
<circle cx="394.7" cy="68.08" r="1.7" fill="#2e83ca"/>
<circle cx="403.1" cy="68.08" r="0.55" fill="#b6bdcb"/>
<circle cx="411.5" cy="68.08" r="0.55" fill="#b6bdcb"/>
<circle cx="419.9" cy="68.08" r="0.85" fill="#5a95d0"/>
<circle cx="428.4" cy="68.08" r="0.55" fill="#b6bdcb"/>
<circle cx="436.8" cy="68.08" r="0.55" fill="#b6bdcb"/>
<circle cx="445.2" cy="68.08" r="0.55" fill="#b6bdcb"/>
<text transform="translate(294.6,74.84) scale(0.92,1)" font-size="4.2" fill="#262626" text-anchor="end">GCA</text>
<line x1="295.6" y1="73.39" x2="297.3" y2="73.39" stroke="#333" stroke-width="0.5"/>
<circle cx="302.1" cy="73.39" r="1.7" fill="#5a95d0"/>
<circle cx="310.5" cy="73.39" r="2.05" fill="#5a95d0"/>
<circle cx="318.9" cy="73.39" r="1.7" fill="#5a95d0"/>
<circle cx="327.3" cy="73.39" r="0.85" fill="#b6bdcb"/>
<circle cx="335.7" cy="73.39" r="0.85" fill="#b6bdcb"/>
<circle cx="344.2" cy="73.39" r="2.05" fill="#2e83ca"/>
<circle cx="352.6" cy="73.39" r="0.85" fill="#b6bdcb"/>
<circle cx="361.0" cy="73.39" r="0.55" fill="#b6bdcb"/>
<circle cx="369.4" cy="73.39" r="1.3" fill="#9cbde3"/>
<circle cx="377.8" cy="73.39" r="0.85" fill="#b6bdcb"/>
<circle cx="386.2" cy="73.39" r="2.05" fill="#5a95d0"/>
<circle cx="394.7" cy="73.39" r="2.05" fill="#2e83ca"/>
<circle cx="403.1" cy="73.39" r="1.7" fill="#9cbde3"/>
<circle cx="411.5" cy="73.39" r="0.55" fill="#b6bdcb"/>
<circle cx="419.9" cy="73.39" r="1.3" fill="#5a95d0"/>
<circle cx="428.4" cy="73.39" r="2.05" fill="#9cbde3"/>
<circle cx="436.8" cy="73.39" r="0.55" fill="#b6bdcb"/>
<circle cx="445.2" cy="73.39" r="0.85" fill="#b6bdcb"/>
<text transform="translate(294.6,80.16) scale(0.92,1)" font-size="4.2" fill="#262626" text-anchor="end">SLPI</text>
<line x1="295.6" y1="78.71" x2="297.3" y2="78.71" stroke="#333" stroke-width="0.5"/>
<circle cx="302.1" cy="78.71" r="0.55" fill="#b6bdcb"/>
<circle cx="310.5" cy="78.71" r="0.55" fill="#b6bdcb"/>
<circle cx="318.9" cy="78.71" r="1.7" fill="#2e83ca"/>
<circle cx="327.3" cy="78.71" r="0.55" fill="#b6bdcb"/>
<circle cx="335.7" cy="78.71" r="0.55" fill="#b6bdcb"/>
<circle cx="344.2" cy="78.71" r="0.85" fill="#5a95d0"/>
<circle cx="352.6" cy="78.71" r="0.55" fill="#b6bdcb"/>
<circle cx="361.0" cy="78.71" r="0.55" fill="#b6bdcb"/>
<circle cx="369.4" cy="78.71" r="0.55" fill="#b6bdcb"/>
<circle cx="377.8" cy="78.71" r="0.55" fill="#b6bdcb"/>
<circle cx="386.2" cy="78.71" r="0.85" fill="#b6bdcb"/>
<circle cx="394.7" cy="78.71" r="0.55" fill="#b6bdcb"/>
<circle cx="403.1" cy="78.71" r="0.55" fill="#b6bdcb"/>
<circle cx="411.5" cy="78.71" r="0.55" fill="#b6bdcb"/>
<circle cx="419.9" cy="78.71" r="0.85" fill="#b6bdcb"/>
<circle cx="428.4" cy="78.71" r="0.55" fill="#b6bdcb"/>
<circle cx="436.8" cy="78.71" r="0.55" fill="#b6bdcb"/>
<circle cx="445.2" cy="78.71" r="0.55" fill="#b6bdcb"/>
<text transform="translate(294.6,85.47) scale(0.92,1)" font-size="4.2" fill="#262626" text-anchor="end">PI3</text>
<line x1="295.6" y1="84.02" x2="297.3" y2="84.02" stroke="#333" stroke-width="0.5"/>
<circle cx="302.1" cy="84.02" r="0.55" fill="#b6bdcb"/>
<circle cx="310.5" cy="84.02" r="0.55" fill="#b6bdcb"/>
<circle cx="318.9" cy="84.02" r="1.7" fill="#2e83ca"/>
<circle cx="327.3" cy="84.02" r="0.55" fill="#b6bdcb"/>
<circle cx="335.7" cy="84.02" r="0.55" fill="#b6bdcb"/>
<circle cx="344.2" cy="84.02" r="0.55" fill="#b6bdcb"/>
<circle cx="352.6" cy="84.02" r="0.55" fill="#b6bdcb"/>
<circle cx="361.0" cy="84.02" r="0.55" fill="#b6bdcb"/>
<circle cx="369.4" cy="84.02" r="0.55" fill="#b6bdcb"/>
<circle cx="377.8" cy="84.02" r="0.55" fill="#b6bdcb"/>
<circle cx="386.2" cy="84.02" r="0.85" fill="#b6bdcb"/>
<circle cx="394.7" cy="84.02" r="0.55" fill="#b6bdcb"/>
<circle cx="403.1" cy="84.02" r="0.55" fill="#b6bdcb"/>
<circle cx="411.5" cy="84.02" r="0.55" fill="#b6bdcb"/>
<circle cx="419.9" cy="84.02" r="0.55" fill="#b6bdcb"/>
<circle cx="428.4" cy="84.02" r="0.55" fill="#b6bdcb"/>
<circle cx="436.8" cy="84.02" r="0.55" fill="#b6bdcb"/>
<circle cx="445.2" cy="84.02" r="0.55" fill="#b6bdcb"/>
<text transform="translate(294.6,90.79) scale(0.92,1)" font-size="4.2" fill="#262626" text-anchor="end">IFITM3</text>
<line x1="295.6" y1="89.34" x2="297.3" y2="89.34" stroke="#333" stroke-width="0.5"/>
<circle cx="302.1" cy="89.34" r="1.3" fill="#5a95d0"/>
<circle cx="310.5" cy="89.34" r="1.3" fill="#9cbde3"/>
<circle cx="318.9" cy="89.34" r="1.7" fill="#5a95d0"/>
<circle cx="327.3" cy="89.34" r="1.3" fill="#9cbde3"/>
<circle cx="335.7" cy="89.34" r="0.55" fill="#b6bdcb"/>
<circle cx="344.2" cy="89.34" r="0.55" fill="#b6bdcb"/>
<circle cx="352.6" cy="89.34" r="0.85" fill="#b6bdcb"/>
<circle cx="361.0" cy="89.34" r="0.85" fill="#5a95d0"/>
<circle cx="369.4" cy="89.34" r="2.35" fill="#2e83ca"/>
<circle cx="377.8" cy="89.34" r="0.85" fill="#b6bdcb"/>
<circle cx="386.2" cy="89.34" r="2.05" fill="#2e83ca"/>
<circle cx="394.7" cy="89.34" r="0.85" fill="#5a95d0"/>
<circle cx="403.1" cy="89.34" r="2.05" fill="#9cbde3"/>
<circle cx="411.5" cy="89.34" r="0.55" fill="#b6bdcb"/>
<circle cx="419.9" cy="89.34" r="0.85" fill="#5a95d0"/>
<circle cx="428.4" cy="89.34" r="1.7" fill="#9cbde3"/>
<circle cx="436.8" cy="89.34" r="0.85" fill="#b6bdcb"/>
<circle cx="445.2" cy="89.34" r="0.55" fill="#b6bdcb"/>
<text transform="translate(294.6,96.11) scale(0.92,1)" font-size="4.2" fill="#262626" text-anchor="end">SIGLEC10</text>
<line x1="295.6" y1="94.66" x2="297.3" y2="94.66" stroke="#333" stroke-width="0.5"/>
<circle cx="302.1" cy="94.66" r="0.85" fill="#b6bdcb"/>
<circle cx="310.5" cy="94.66" r="0.55" fill="#b6bdcb"/>
<circle cx="318.9" cy="94.66" r="1.3" fill="#2e83ca"/>
<circle cx="327.3" cy="94.66" r="0.55" fill="#b6bdcb"/>
<circle cx="335.7" cy="94.66" r="0.55" fill="#b6bdcb"/>
<circle cx="344.2" cy="94.66" r="0.55" fill="#b6bdcb"/>
<circle cx="352.6" cy="94.66" r="0.55" fill="#b6bdcb"/>
<circle cx="361.0" cy="94.66" r="0.55" fill="#b6bdcb"/>
<circle cx="369.4" cy="94.66" r="2.05" fill="#5a95d0"/>
<circle cx="377.8" cy="94.66" r="0.55" fill="#b6bdcb"/>
<circle cx="386.2" cy="94.66" r="0.85" fill="#b6bdcb"/>
<circle cx="394.7" cy="94.66" r="0.55" fill="#b6bdcb"/>
<circle cx="403.1" cy="94.66" r="0.85" fill="#b6bdcb"/>
<circle cx="411.5" cy="94.66" r="0.55" fill="#b6bdcb"/>
<circle cx="419.9" cy="94.66" r="0.55" fill="#b6bdcb"/>
<circle cx="428.4" cy="94.66" r="0.85" fill="#b6bdcb"/>
<circle cx="436.8" cy="94.66" r="0.55" fill="#b6bdcb"/>
<circle cx="445.2" cy="94.66" r="0.55" fill="#b6bdcb"/>
<text transform="translate(294.6,101.42) scale(0.92,1)" font-size="4.2" fill="#262626" text-anchor="end">TMEM154</text>
<line x1="295.6" y1="99.97" x2="297.3" y2="99.97" stroke="#333" stroke-width="0.5"/>
<circle cx="302.1" cy="99.97" r="1.7" fill="#5a95d0"/>
<circle cx="310.5" cy="99.97" r="1.7" fill="#5a95d0"/>
<circle cx="318.9" cy="99.97" r="2.05" fill="#2e83ca"/>
<circle cx="327.3" cy="99.97" r="0.85" fill="#b6bdcb"/>
<circle cx="335.7" cy="99.97" r="1.3" fill="#9cbde3"/>
<circle cx="344.2" cy="99.97" r="0.85" fill="#b6bdcb"/>
<circle cx="352.6" cy="99.97" r="0.85" fill="#b6bdcb"/>
<circle cx="361.0" cy="99.97" r="0.85" fill="#b6bdcb"/>
<circle cx="369.4" cy="99.97" r="1.3" fill="#9cbde3"/>
<circle cx="377.8" cy="99.97" r="0.85" fill="#b6bdcb"/>
<circle cx="386.2" cy="99.97" r="1.7" fill="#5a95d0"/>
<circle cx="394.7" cy="99.97" r="1.3" fill="#5a95d0"/>
<circle cx="403.1" cy="99.97" r="1.3" fill="#9cbde3"/>
<circle cx="411.5" cy="99.97" r="0.55" fill="#b6bdcb"/>
<circle cx="419.9" cy="99.97" r="1.3" fill="#5a95d0"/>
<circle cx="428.4" cy="99.97" r="1.3" fill="#9cbde3"/>
<circle cx="436.8" cy="99.97" r="0.55" fill="#b6bdcb"/>
<circle cx="445.2" cy="99.97" r="0.55" fill="#b6bdcb"/>
<text transform="translate(294.6,106.74) scale(0.92,1)" font-size="4.2" fill="#262626" text-anchor="end">MNDA</text>
<line x1="295.6" y1="105.29" x2="297.3" y2="105.29" stroke="#333" stroke-width="0.5"/>
<circle cx="302.1" cy="105.29" r="2.35" fill="#5a95d0"/>
<circle cx="310.5" cy="105.29" r="2.35" fill="#5a95d0"/>
<circle cx="318.9" cy="105.29" r="2.05" fill="#5a95d0"/>
<circle cx="327.3" cy="105.29" r="0.85" fill="#b6bdcb"/>
<circle cx="335.7" cy="105.29" r="0.55" fill="#b6bdcb"/>
<circle cx="344.2" cy="105.29" r="2.05" fill="#5a95d0"/>
<circle cx="352.6" cy="105.29" r="0.85" fill="#b6bdcb"/>
<circle cx="361.0" cy="105.29" r="0.55" fill="#b6bdcb"/>
<circle cx="369.4" cy="105.29" r="1.7" fill="#9cbde3"/>
<circle cx="377.8" cy="105.29" r="0.55" fill="#b6bdcb"/>
<circle cx="386.2" cy="105.29" r="2.35" fill="#5a95d0"/>
<circle cx="394.7" cy="105.29" r="2.05" fill="#5a95d0"/>
<circle cx="403.1" cy="105.29" r="2.05" fill="#9cbde3"/>
<circle cx="411.5" cy="105.29" r="0.55" fill="#b6bdcb"/>
<circle cx="419.9" cy="105.29" r="1.7" fill="#5a95d0"/>
<circle cx="428.4" cy="105.29" r="2.05" fill="#9cbde3"/>
<circle cx="436.8" cy="105.29" r="0.55" fill="#b6bdcb"/>
<circle cx="445.2" cy="105.29" r="0.55" fill="#b6bdcb"/>
<text transform="translate(294.6,112.05) scale(0.92,1)" font-size="4.2" fill="#262626" text-anchor="end">PF4</text>
<line x1="295.6" y1="110.60" x2="297.3" y2="110.60" stroke="#333" stroke-width="0.5"/>
<circle cx="302.1" cy="110.60" r="0.55" fill="#b6bdcb"/>
<circle cx="310.5" cy="110.60" r="0.55" fill="#b6bdcb"/>
<circle cx="318.9" cy="110.60" r="0.55" fill="#b6bdcb"/>
<circle cx="327.3" cy="110.60" r="2.35" fill="#2e83ca"/>
<circle cx="335.7" cy="110.60" r="0.55" fill="#b6bdcb"/>
<circle cx="344.2" cy="110.60" r="0.55" fill="#b6bdcb"/>
<circle cx="352.6" cy="110.60" r="0.55" fill="#b6bdcb"/>
<circle cx="361.0" cy="110.60" r="0.55" fill="#b6bdcb"/>
<circle cx="369.4" cy="110.60" r="0.55" fill="#b6bdcb"/>
<circle cx="377.8" cy="110.60" r="0.55" fill="#b6bdcb"/>
<circle cx="386.2" cy="110.60" r="0.85" fill="#b6bdcb"/>
<circle cx="394.7" cy="110.60" r="0.85" fill="#b6bdcb"/>
<circle cx="403.1" cy="110.60" r="0.85" fill="#b6bdcb"/>
<circle cx="411.5" cy="110.60" r="0.55" fill="#b6bdcb"/>
<circle cx="419.9" cy="110.60" r="0.55" fill="#b6bdcb"/>
<circle cx="428.4" cy="110.60" r="0.85" fill="#b6bdcb"/>
<circle cx="436.8" cy="110.60" r="0.55" fill="#b6bdcb"/>
<circle cx="445.2" cy="110.60" r="0.55" fill="#b6bdcb"/>
<text transform="translate(294.6,117.37) scale(0.92,1)" font-size="4.2" fill="#262626" text-anchor="end">PPBP</text>
<line x1="295.6" y1="115.92" x2="297.3" y2="115.92" stroke="#333" stroke-width="0.5"/>
<circle cx="302.1" cy="115.92" r="0.55" fill="#b6bdcb"/>
<circle cx="310.5" cy="115.92" r="0.55" fill="#b6bdcb"/>
<circle cx="318.9" cy="115.92" r="0.55" fill="#b6bdcb"/>
<circle cx="327.3" cy="115.92" r="2.35" fill="#2e83ca"/>
<circle cx="335.7" cy="115.92" r="0.55" fill="#b6bdcb"/>
<circle cx="344.2" cy="115.92" r="0.55" fill="#b6bdcb"/>
<circle cx="352.6" cy="115.92" r="0.55" fill="#b6bdcb"/>
<circle cx="361.0" cy="115.92" r="0.55" fill="#b6bdcb"/>
<circle cx="369.4" cy="115.92" r="0.55" fill="#b6bdcb"/>
<circle cx="377.8" cy="115.92" r="0.55" fill="#b6bdcb"/>
<circle cx="386.2" cy="115.92" r="0.55" fill="#b6bdcb"/>
<circle cx="394.7" cy="115.92" r="0.55" fill="#b6bdcb"/>
<circle cx="403.1" cy="115.92" r="0.85" fill="#b6bdcb"/>
<circle cx="411.5" cy="115.92" r="0.55" fill="#b6bdcb"/>
<circle cx="419.9" cy="115.92" r="0.55" fill="#b6bdcb"/>
<circle cx="428.4" cy="115.92" r="0.85" fill="#b6bdcb"/>
<circle cx="436.8" cy="115.92" r="0.55" fill="#b6bdcb"/>
<circle cx="445.2" cy="115.92" r="0.55" fill="#b6bdcb"/>
<text transform="translate(294.6,122.69) scale(0.92,1)" font-size="4.2" fill="#262626" text-anchor="end">NRGN</text>
<line x1="295.6" y1="121.24" x2="297.3" y2="121.24" stroke="#333" stroke-width="0.5"/>
<circle cx="302.1" cy="121.24" r="0.55" fill="#b6bdcb"/>
<circle cx="310.5" cy="121.24" r="0.55" fill="#b6bdcb"/>
<circle cx="318.9" cy="121.24" r="0.55" fill="#b6bdcb"/>
<circle cx="327.3" cy="121.24" r="2.35" fill="#2e83ca"/>
<circle cx="335.7" cy="121.24" r="0.55" fill="#b6bdcb"/>
<circle cx="344.2" cy="121.24" r="0.55" fill="#b6bdcb"/>
<circle cx="352.6" cy="121.24" r="0.55" fill="#b6bdcb"/>
<circle cx="361.0" cy="121.24" r="0.55" fill="#b6bdcb"/>
<circle cx="369.4" cy="121.24" r="1.3" fill="#9cbde3"/>
<circle cx="377.8" cy="121.24" r="0.55" fill="#b6bdcb"/>
<circle cx="386.2" cy="121.24" r="0.55" fill="#b6bdcb"/>
<circle cx="394.7" cy="121.24" r="0.55" fill="#b6bdcb"/>
<circle cx="403.1" cy="121.24" r="1.7" fill="#9cbde3"/>
<circle cx="411.5" cy="121.24" r="0.55" fill="#b6bdcb"/>
<circle cx="419.9" cy="121.24" r="0.55" fill="#b6bdcb"/>
<circle cx="428.4" cy="121.24" r="1.7" fill="#5a95d0"/>
<circle cx="436.8" cy="121.24" r="0.55" fill="#b6bdcb"/>
<circle cx="445.2" cy="121.24" r="0.55" fill="#b6bdcb"/>
<text transform="translate(294.6,128.00) scale(0.92,1)" font-size="4.2" fill="#262626" text-anchor="end">GNG11</text>
<line x1="295.6" y1="126.55" x2="297.3" y2="126.55" stroke="#333" stroke-width="0.5"/>
<circle cx="302.1" cy="126.55" r="0.55" fill="#b6bdcb"/>
<circle cx="310.5" cy="126.55" r="0.55" fill="#b6bdcb"/>
<circle cx="318.9" cy="126.55" r="0.55" fill="#b6bdcb"/>
<circle cx="327.3" cy="126.55" r="2.35" fill="#2e83ca"/>
<circle cx="335.7" cy="126.55" r="0.55" fill="#b6bdcb"/>
<circle cx="344.2" cy="126.55" r="0.55" fill="#b6bdcb"/>
<circle cx="352.6" cy="126.55" r="0.55" fill="#b6bdcb"/>
<circle cx="361.0" cy="126.55" r="0.55" fill="#b6bdcb"/>
<circle cx="369.4" cy="126.55" r="0.55" fill="#b6bdcb"/>
<circle cx="377.8" cy="126.55" r="0.55" fill="#b6bdcb"/>
<circle cx="386.2" cy="126.55" r="0.55" fill="#b6bdcb"/>
<circle cx="394.7" cy="126.55" r="0.55" fill="#b6bdcb"/>
<circle cx="403.1" cy="126.55" r="0.55" fill="#b6bdcb"/>
<circle cx="411.5" cy="126.55" r="0.55" fill="#b6bdcb"/>
<circle cx="419.9" cy="126.55" r="0.55" fill="#b6bdcb"/>
<circle cx="428.4" cy="126.55" r="0.55" fill="#b6bdcb"/>
<circle cx="436.8" cy="126.55" r="0.55" fill="#b6bdcb"/>
<circle cx="445.2" cy="126.55" r="0.55" fill="#b6bdcb"/>
<text transform="translate(294.6,133.32) scale(0.92,1)" font-size="4.2" fill="#262626" text-anchor="end">SDPR</text>
<line x1="295.6" y1="131.87" x2="297.3" y2="131.87" stroke="#333" stroke-width="0.5"/>
<circle cx="302.1" cy="131.87" r="0.55" fill="#b6bdcb"/>
<circle cx="310.5" cy="131.87" r="0.55" fill="#b6bdcb"/>
<circle cx="318.9" cy="131.87" r="0.55" fill="#b6bdcb"/>
<circle cx="327.3" cy="131.87" r="2.35" fill="#2e83ca"/>
<circle cx="335.7" cy="131.87" r="0.55" fill="#b6bdcb"/>
<circle cx="344.2" cy="131.87" r="0.55" fill="#b6bdcb"/>
<circle cx="352.6" cy="131.87" r="0.55" fill="#b6bdcb"/>
<circle cx="361.0" cy="131.87" r="0.55" fill="#b6bdcb"/>
<circle cx="369.4" cy="131.87" r="0.55" fill="#b6bdcb"/>
<circle cx="377.8" cy="131.87" r="0.55" fill="#b6bdcb"/>
<circle cx="386.2" cy="131.87" r="0.55" fill="#b6bdcb"/>
<circle cx="394.7" cy="131.87" r="0.55" fill="#b6bdcb"/>
<circle cx="403.1" cy="131.87" r="0.85" fill="#b6bdcb"/>
<circle cx="411.5" cy="131.87" r="0.55" fill="#b6bdcb"/>
<circle cx="419.9" cy="131.87" r="0.55" fill="#b6bdcb"/>
<circle cx="428.4" cy="131.87" r="0.85" fill="#b6bdcb"/>
<circle cx="436.8" cy="131.87" r="0.55" fill="#b6bdcb"/>
<circle cx="445.2" cy="131.87" r="0.55" fill="#b6bdcb"/>
<text transform="translate(294.6,138.63) scale(0.92,1)" font-size="4.2" fill="#262626" text-anchor="end">CD79A</text>
<line x1="295.6" y1="137.18" x2="297.3" y2="137.18" stroke="#333" stroke-width="0.5"/>
<circle cx="302.1" cy="137.18" r="0.55" fill="#b6bdcb"/>
<circle cx="310.5" cy="137.18" r="0.55" fill="#b6bdcb"/>
<circle cx="318.9" cy="137.18" r="0.55" fill="#b6bdcb"/>
<circle cx="327.3" cy="137.18" r="0.55" fill="#b6bdcb"/>
<circle cx="335.7" cy="137.18" r="2.35" fill="#2e83ca"/>
<circle cx="344.2" cy="137.18" r="0.55" fill="#b6bdcb"/>
<circle cx="352.6" cy="137.18" r="0.55" fill="#b6bdcb"/>
<circle cx="361.0" cy="137.18" r="0.55" fill="#b6bdcb"/>
<circle cx="369.4" cy="137.18" r="0.55" fill="#b6bdcb"/>
<circle cx="377.8" cy="137.18" r="0.55" fill="#b6bdcb"/>
<circle cx="386.2" cy="137.18" r="0.55" fill="#b6bdcb"/>
<circle cx="394.7" cy="137.18" r="0.55" fill="#b6bdcb"/>
<circle cx="403.1" cy="137.18" r="0.55" fill="#b6bdcb"/>
<circle cx="411.5" cy="137.18" r="0.55" fill="#b6bdcb"/>
<circle cx="419.9" cy="137.18" r="0.55" fill="#b6bdcb"/>
<circle cx="428.4" cy="137.18" r="0.55" fill="#b6bdcb"/>
<circle cx="436.8" cy="137.18" r="0.55" fill="#b6bdcb"/>
<circle cx="445.2" cy="137.18" r="0.55" fill="#b6bdcb"/>
<text transform="translate(294.6,143.95) scale(0.92,1)" font-size="4.2" fill="#262626" text-anchor="end">HLA-DQB1</text>
<line x1="295.6" y1="142.50" x2="297.3" y2="142.50" stroke="#333" stroke-width="0.5"/>
<circle cx="302.1" cy="142.50" r="0.55" fill="#b6bdcb"/>
<circle cx="310.5" cy="142.50" r="0.55" fill="#b6bdcb"/>
<circle cx="318.9" cy="142.50" r="0.55" fill="#b6bdcb"/>
<circle cx="327.3" cy="142.50" r="0.55" fill="#b6bdcb"/>
<circle cx="335.7" cy="142.50" r="2.35" fill="#2e83ca"/>
<circle cx="344.2" cy="142.50" r="0.55" fill="#b6bdcb"/>
<circle cx="352.6" cy="142.50" r="0.55" fill="#b6bdcb"/>
<circle cx="361.0" cy="142.50" r="0.55" fill="#b6bdcb"/>
<circle cx="369.4" cy="142.50" r="1.7" fill="#9cbde3"/>
<circle cx="377.8" cy="142.50" r="1.3" fill="#5a95d0"/>
<circle cx="386.2" cy="142.50" r="0.55" fill="#b6bdcb"/>
<circle cx="394.7" cy="142.50" r="0.55" fill="#b6bdcb"/>
<circle cx="403.1" cy="142.50" r="1.7" fill="#5a95d0"/>
<circle cx="411.5" cy="142.50" r="0.85" fill="#5a95d0"/>
<circle cx="419.9" cy="142.50" r="0.55" fill="#b6bdcb"/>
<circle cx="428.4" cy="142.50" r="1.3" fill="#5a95d0"/>
<circle cx="436.8" cy="142.50" r="0.85" fill="#b6bdcb"/>
<circle cx="445.2" cy="142.50" r="0.85" fill="#b6bdcb"/>
<text transform="translate(294.6,149.27) scale(0.92,1)" font-size="4.2" fill="#262626" text-anchor="end">HLA-DRA</text>
<line x1="295.6" y1="147.82" x2="297.3" y2="147.82" stroke="#333" stroke-width="0.5"/>
<circle cx="302.1" cy="147.82" r="0.55" fill="#b6bdcb"/>
<circle cx="310.5" cy="147.82" r="0.55" fill="#b6bdcb"/>
<circle cx="318.9" cy="147.82" r="0.55" fill="#b6bdcb"/>
<circle cx="327.3" cy="147.82" r="0.55" fill="#b6bdcb"/>
<circle cx="335.7" cy="147.82" r="2.35" fill="#2e83ca"/>
<circle cx="344.2" cy="147.82" r="0.55" fill="#b6bdcb"/>
<circle cx="352.6" cy="147.82" r="0.55" fill="#b6bdcb"/>
<circle cx="361.0" cy="147.82" r="0.85" fill="#b6bdcb"/>
<circle cx="369.4" cy="147.82" r="2.05" fill="#9cbde3"/>
<circle cx="377.8" cy="147.82" r="1.7" fill="#9cbde3"/>
<circle cx="386.2" cy="147.82" r="0.55" fill="#b6bdcb"/>
<circle cx="394.7" cy="147.82" r="0.55" fill="#b6bdcb"/>
<circle cx="403.1" cy="147.82" r="2.05" fill="#5a95d0"/>
<circle cx="411.5" cy="147.82" r="0.85" fill="#b6bdcb"/>
<circle cx="419.9" cy="147.82" r="0.55" fill="#b6bdcb"/>
<circle cx="428.4" cy="147.82" r="2.05" fill="#5a95d0"/>
<circle cx="436.8" cy="147.82" r="0.85" fill="#b6bdcb"/>
<circle cx="445.2" cy="147.82" r="0.55" fill="#b6bdcb"/>
<text transform="translate(294.6,154.58) scale(0.92,1)" font-size="4.2" fill="#262626" text-anchor="end">HLA-DRB1</text>
<line x1="295.6" y1="153.13" x2="297.3" y2="153.13" stroke="#333" stroke-width="0.5"/>
<circle cx="302.1" cy="153.13" r="0.55" fill="#b6bdcb"/>
<circle cx="310.5" cy="153.13" r="0.55" fill="#b6bdcb"/>
<circle cx="318.9" cy="153.13" r="0.55" fill="#b6bdcb"/>
<circle cx="327.3" cy="153.13" r="0.55" fill="#b6bdcb"/>
<circle cx="335.7" cy="153.13" r="2.35" fill="#2e83ca"/>
<circle cx="344.2" cy="153.13" r="0.55" fill="#b6bdcb"/>
<circle cx="352.6" cy="153.13" r="0.55" fill="#b6bdcb"/>
<circle cx="361.0" cy="153.13" r="0.85" fill="#9cbde3"/>
<circle cx="369.4" cy="153.13" r="2.05" fill="#9cbde3"/>
<circle cx="377.8" cy="153.13" r="1.7" fill="#5a95d0"/>
<circle cx="386.2" cy="153.13" r="0.55" fill="#b6bdcb"/>
<circle cx="394.7" cy="153.13" r="0.55" fill="#b6bdcb"/>
<circle cx="403.1" cy="153.13" r="2.05" fill="#5a95d0"/>
<circle cx="411.5" cy="153.13" r="1.3" fill="#9cbde3"/>
<circle cx="419.9" cy="153.13" r="0.55" fill="#b6bdcb"/>
<circle cx="428.4" cy="153.13" r="1.7" fill="#9cbde3"/>
<circle cx="436.8" cy="153.13" r="1.3" fill="#5a95d0"/>
<circle cx="445.2" cy="153.13" r="0.55" fill="#b6bdcb"/>
<text transform="translate(294.6,159.90) scale(0.92,1)" font-size="4.2" fill="#262626" text-anchor="end">CD74</text>
<line x1="295.6" y1="158.45" x2="297.3" y2="158.45" stroke="#333" stroke-width="0.5"/>
<circle cx="302.1" cy="158.45" r="0.85" fill="#b6bdcb"/>
<circle cx="310.5" cy="158.45" r="0.85" fill="#b6bdcb"/>
<circle cx="318.9" cy="158.45" r="0.85" fill="#b6bdcb"/>
<circle cx="327.3" cy="158.45" r="0.55" fill="#b6bdcb"/>
<circle cx="335.7" cy="158.45" r="2.35" fill="#2e83ca"/>
<circle cx="344.2" cy="158.45" r="0.55" fill="#b6bdcb"/>
<circle cx="352.6" cy="158.45" r="0.55" fill="#b6bdcb"/>
<circle cx="361.0" cy="158.45" r="1.3" fill="#9cbde3"/>
<circle cx="369.4" cy="158.45" r="2.05" fill="#9cbde3"/>
<circle cx="377.8" cy="158.45" r="2.05" fill="#5a95d0"/>
<circle cx="386.2" cy="158.45" r="0.85" fill="#b6bdcb"/>
<circle cx="394.7" cy="158.45" r="0.55" fill="#b6bdcb"/>
<circle cx="403.1" cy="158.45" r="2.05" fill="#5a95d0"/>
<circle cx="411.5" cy="158.45" r="1.7" fill="#9cbde3"/>
<circle cx="419.9" cy="158.45" r="0.55" fill="#b6bdcb"/>
<circle cx="428.4" cy="158.45" r="2.05" fill="#9cbde3"/>
<circle cx="436.8" cy="158.45" r="1.7" fill="#9cbde3"/>
<circle cx="445.2" cy="158.45" r="1.7" fill="#5a95d0"/>
<text transform="translate(294.6,165.21) scale(0.92,1)" font-size="4.2" fill="#262626" text-anchor="end">CD24</text>
<line x1="295.6" y1="163.76" x2="297.3" y2="163.76" stroke="#333" stroke-width="0.5"/>
<circle cx="302.1" cy="163.76" r="0.55" fill="#b6bdcb"/>
<circle cx="310.5" cy="163.76" r="0.55" fill="#b6bdcb"/>
<circle cx="318.9" cy="163.76" r="0.55" fill="#b6bdcb"/>
<circle cx="327.3" cy="163.76" r="0.55" fill="#b6bdcb"/>
<circle cx="335.7" cy="163.76" r="0.85" fill="#b6bdcb"/>
<circle cx="344.2" cy="163.76" r="2.35" fill="#2e83ca"/>
<circle cx="352.6" cy="163.76" r="0.55" fill="#b6bdcb"/>
<circle cx="361.0" cy="163.76" r="0.55" fill="#b6bdcb"/>
<circle cx="369.4" cy="163.76" r="0.55" fill="#b6bdcb"/>
<circle cx="377.8" cy="163.76" r="0.55" fill="#b6bdcb"/>
<circle cx="386.2" cy="163.76" r="0.55" fill="#b6bdcb"/>
<circle cx="394.7" cy="163.76" r="0.55" fill="#b6bdcb"/>
<circle cx="403.1" cy="163.76" r="0.85" fill="#b6bdcb"/>
<circle cx="411.5" cy="163.76" r="0.55" fill="#b6bdcb"/>
<circle cx="419.9" cy="163.76" r="0.55" fill="#b6bdcb"/>
<circle cx="428.4" cy="163.76" r="0.55" fill="#b6bdcb"/>
<circle cx="436.8" cy="163.76" r="0.55" fill="#b6bdcb"/>
<circle cx="445.2" cy="163.76" r="0.55" fill="#b6bdcb"/>
<text transform="translate(294.6,170.53) scale(0.92,1)" font-size="4.2" fill="#262626" text-anchor="end">CEACAM8</text>
<line x1="295.6" y1="169.08" x2="297.3" y2="169.08" stroke="#333" stroke-width="0.5"/>
<circle cx="302.1" cy="169.08" r="0.55" fill="#b6bdcb"/>
<circle cx="310.5" cy="169.08" r="0.55" fill="#b6bdcb"/>
<circle cx="318.9" cy="169.08" r="0.55" fill="#b6bdcb"/>
<circle cx="327.3" cy="169.08" r="0.55" fill="#b6bdcb"/>
<circle cx="335.7" cy="169.08" r="0.55" fill="#b6bdcb"/>
<circle cx="344.2" cy="169.08" r="2.35" fill="#2e83ca"/>
<circle cx="352.6" cy="169.08" r="0.55" fill="#b6bdcb"/>
<circle cx="361.0" cy="169.08" r="0.55" fill="#b6bdcb"/>
<circle cx="369.4" cy="169.08" r="0.55" fill="#b6bdcb"/>
<circle cx="377.8" cy="169.08" r="0.55" fill="#b6bdcb"/>
<circle cx="386.2" cy="169.08" r="0.55" fill="#b6bdcb"/>
<circle cx="394.7" cy="169.08" r="0.55" fill="#b6bdcb"/>
<circle cx="403.1" cy="169.08" r="0.55" fill="#b6bdcb"/>
<circle cx="411.5" cy="169.08" r="0.55" fill="#b6bdcb"/>
<circle cx="419.9" cy="169.08" r="0.55" fill="#b6bdcb"/>
<circle cx="428.4" cy="169.08" r="0.55" fill="#b6bdcb"/>
<circle cx="436.8" cy="169.08" r="0.55" fill="#b6bdcb"/>
<circle cx="445.2" cy="169.08" r="0.55" fill="#b6bdcb"/>
<text transform="translate(294.6,175.85) scale(0.92,1)" font-size="4.2" fill="#262626" text-anchor="end">LCN2</text>
<line x1="295.6" y1="174.40" x2="297.3" y2="174.40" stroke="#333" stroke-width="0.5"/>
<circle cx="302.1" cy="174.40" r="0.55" fill="#b6bdcb"/>
<circle cx="310.5" cy="174.40" r="0.55" fill="#b6bdcb"/>
<circle cx="318.9" cy="174.40" r="0.55" fill="#b6bdcb"/>
<circle cx="327.3" cy="174.40" r="0.85" fill="#b6bdcb"/>
<circle cx="335.7" cy="174.40" r="0.55" fill="#b6bdcb"/>
<circle cx="344.2" cy="174.40" r="2.35" fill="#2e83ca"/>
<circle cx="352.6" cy="174.40" r="0.55" fill="#b6bdcb"/>
<circle cx="361.0" cy="174.40" r="0.55" fill="#b6bdcb"/>
<circle cx="369.4" cy="174.40" r="0.55" fill="#b6bdcb"/>
<circle cx="377.8" cy="174.40" r="0.55" fill="#b6bdcb"/>
<circle cx="386.2" cy="174.40" r="0.55" fill="#b6bdcb"/>
<circle cx="394.7" cy="174.40" r="0.55" fill="#b6bdcb"/>
<circle cx="403.1" cy="174.40" r="0.55" fill="#b6bdcb"/>
<circle cx="411.5" cy="174.40" r="0.55" fill="#b6bdcb"/>
<circle cx="419.9" cy="174.40" r="0.55" fill="#b6bdcb"/>
<circle cx="428.4" cy="174.40" r="0.55" fill="#b6bdcb"/>
<circle cx="436.8" cy="174.40" r="0.55" fill="#b6bdcb"/>
<circle cx="445.2" cy="174.40" r="0.55" fill="#b6bdcb"/>
<text transform="translate(294.6,181.16) scale(0.92,1)" font-size="4.2" fill="#262626" text-anchor="end">RETN</text>
<line x1="295.6" y1="179.71" x2="297.3" y2="179.71" stroke="#333" stroke-width="0.5"/>
<circle cx="302.1" cy="179.71" r="0.55" fill="#b6bdcb"/>
<circle cx="310.5" cy="179.71" r="0.55" fill="#b6bdcb"/>
<circle cx="318.9" cy="179.71" r="0.55" fill="#b6bdcb"/>
<circle cx="327.3" cy="179.71" r="0.55" fill="#b6bdcb"/>
<circle cx="335.7" cy="179.71" r="0.55" fill="#b6bdcb"/>
<circle cx="344.2" cy="179.71" r="2.35" fill="#2e83ca"/>
<circle cx="352.6" cy="179.71" r="0.55" fill="#b6bdcb"/>
<circle cx="361.0" cy="179.71" r="0.55" fill="#b6bdcb"/>
<circle cx="369.4" cy="179.71" r="0.85" fill="#b6bdcb"/>
<circle cx="377.8" cy="179.71" r="0.55" fill="#b6bdcb"/>
<circle cx="386.2" cy="179.71" r="0.55" fill="#b6bdcb"/>
<circle cx="394.7" cy="179.71" r="0.55" fill="#b6bdcb"/>
<circle cx="403.1" cy="179.71" r="0.85" fill="#b6bdcb"/>
<circle cx="411.5" cy="179.71" r="0.55" fill="#b6bdcb"/>
<circle cx="419.9" cy="179.71" r="0.55" fill="#b6bdcb"/>
<circle cx="428.4" cy="179.71" r="1.3" fill="#5a95d0"/>
<circle cx="436.8" cy="179.71" r="0.55" fill="#b6bdcb"/>
<circle cx="445.2" cy="179.71" r="0.55" fill="#b6bdcb"/>
<text transform="translate(294.6,186.48) scale(0.92,1)" font-size="4.2" fill="#262626" text-anchor="end">LTF</text>
<line x1="295.6" y1="185.03" x2="297.3" y2="185.03" stroke="#333" stroke-width="0.5"/>
<circle cx="302.1" cy="185.03" r="0.55" fill="#b6bdcb"/>
<circle cx="310.5" cy="185.03" r="0.55" fill="#b6bdcb"/>
<circle cx="318.9" cy="185.03" r="0.55" fill="#b6bdcb"/>
<circle cx="327.3" cy="185.03" r="0.55" fill="#b6bdcb"/>
<circle cx="335.7" cy="185.03" r="0.55" fill="#b6bdcb"/>
<circle cx="344.2" cy="185.03" r="2.35" fill="#2e83ca"/>
<circle cx="352.6" cy="185.03" r="0.55" fill="#b6bdcb"/>
<circle cx="361.0" cy="185.03" r="0.55" fill="#b6bdcb"/>
<circle cx="369.4" cy="185.03" r="0.55" fill="#b6bdcb"/>
<circle cx="377.8" cy="185.03" r="0.55" fill="#b6bdcb"/>
<circle cx="386.2" cy="185.03" r="0.55" fill="#b6bdcb"/>
<circle cx="394.7" cy="185.03" r="0.55" fill="#b6bdcb"/>
<circle cx="403.1" cy="185.03" r="0.55" fill="#b6bdcb"/>
<circle cx="411.5" cy="185.03" r="0.55" fill="#b6bdcb"/>
<circle cx="419.9" cy="185.03" r="0.55" fill="#b6bdcb"/>
<circle cx="428.4" cy="185.03" r="0.55" fill="#b6bdcb"/>
<circle cx="436.8" cy="185.03" r="0.55" fill="#b6bdcb"/>
<circle cx="445.2" cy="185.03" r="0.55" fill="#b6bdcb"/>
<text transform="translate(294.6,191.79) scale(0.92,1)" font-size="4.2" fill="#262626" text-anchor="end">GYPC</text>
<line x1="295.6" y1="190.34" x2="297.3" y2="190.34" stroke="#333" stroke-width="0.5"/>
<circle cx="302.1" cy="190.34" r="0.55" fill="#b6bdcb"/>
<circle cx="310.5" cy="190.34" r="0.55" fill="#b6bdcb"/>
<circle cx="318.9" cy="190.34" r="0.55" fill="#b6bdcb"/>
<circle cx="327.3" cy="190.34" r="0.55" fill="#b6bdcb"/>
<circle cx="335.7" cy="190.34" r="1.3" fill="#9cbde3"/>
<circle cx="344.2" cy="190.34" r="0.55" fill="#b6bdcb"/>
<circle cx="352.6" cy="190.34" r="2.35" fill="#2e83ca"/>
<circle cx="361.0" cy="190.34" r="0.85" fill="#b6bdcb"/>
<circle cx="369.4" cy="190.34" r="1.3" fill="#9cbde3"/>
<circle cx="377.8" cy="190.34" r="1.7" fill="#9cbde3"/>
<circle cx="386.2" cy="190.34" r="0.55" fill="#b6bdcb"/>
<circle cx="394.7" cy="190.34" r="0.55" fill="#b6bdcb"/>
<circle cx="403.1" cy="190.34" r="0.85" fill="#b6bdcb"/>
<circle cx="411.5" cy="190.34" r="1.7" fill="#9cbde3"/>
<circle cx="419.9" cy="190.34" r="0.55" fill="#b6bdcb"/>
<circle cx="428.4" cy="190.34" r="0.85" fill="#b6bdcb"/>
<circle cx="436.8" cy="190.34" r="1.7" fill="#9cbde3"/>
<circle cx="445.2" cy="190.34" r="1.7" fill="#9cbde3"/>
<text transform="translate(294.6,197.11) scale(0.92,1)" font-size="4.2" fill="#262626" text-anchor="end">SLC25A39</text>
<line x1="295.6" y1="195.66" x2="297.3" y2="195.66" stroke="#333" stroke-width="0.5"/>
<circle cx="302.1" cy="195.66" r="0.55" fill="#b6bdcb"/>
<circle cx="310.5" cy="195.66" r="0.55" fill="#b6bdcb"/>
<circle cx="318.9" cy="195.66" r="0.55" fill="#b6bdcb"/>
<circle cx="327.3" cy="195.66" r="0.55" fill="#b6bdcb"/>
<circle cx="335.7" cy="195.66" r="0.85" fill="#9cbde3"/>
<circle cx="344.2" cy="195.66" r="0.55" fill="#b6bdcb"/>
<circle cx="352.6" cy="195.66" r="2.35" fill="#2e83ca"/>
<circle cx="361.0" cy="195.66" r="0.55" fill="#b6bdcb"/>
<circle cx="369.4" cy="195.66" r="0.85" fill="#9cbde3"/>
<circle cx="377.8" cy="195.66" r="1.3" fill="#9cbde3"/>
<circle cx="386.2" cy="195.66" r="0.55" fill="#b6bdcb"/>
<circle cx="394.7" cy="195.66" r="0.55" fill="#b6bdcb"/>
<circle cx="403.1" cy="195.66" r="0.85" fill="#b6bdcb"/>
<circle cx="411.5" cy="195.66" r="0.85" fill="#b6bdcb"/>
<circle cx="419.9" cy="195.66" r="0.55" fill="#b6bdcb"/>
<circle cx="428.4" cy="195.66" r="0.55" fill="#b6bdcb"/>
<circle cx="436.8" cy="195.66" r="0.85" fill="#b6bdcb"/>
<circle cx="445.2" cy="195.66" r="0.85" fill="#b6bdcb"/>
<text transform="translate(294.6,202.43) scale(0.92,1)" font-size="4.2" fill="#262626" text-anchor="end">YBX3</text>
<line x1="295.6" y1="200.98" x2="297.3" y2="200.98" stroke="#333" stroke-width="0.5"/>
<circle cx="302.1" cy="200.98" r="0.55" fill="#b6bdcb"/>
<circle cx="310.5" cy="200.98" r="0.55" fill="#b6bdcb"/>
<circle cx="318.9" cy="200.98" r="0.55" fill="#b6bdcb"/>
<circle cx="327.3" cy="200.98" r="0.85" fill="#b6bdcb"/>
<circle cx="335.7" cy="200.98" r="2.05" fill="#9cbde3"/>
<circle cx="344.2" cy="200.98" r="0.55" fill="#b6bdcb"/>
<circle cx="352.6" cy="200.98" r="2.35" fill="#2e83ca"/>
<circle cx="361.0" cy="200.98" r="0.55" fill="#b6bdcb"/>
<circle cx="369.4" cy="200.98" r="2.05" fill="#9cbde3"/>
<circle cx="377.8" cy="200.98" r="0.85" fill="#b6bdcb"/>
<circle cx="386.2" cy="200.98" r="0.55" fill="#b6bdcb"/>
<circle cx="394.7" cy="200.98" r="0.55" fill="#b6bdcb"/>
<circle cx="403.1" cy="200.98" r="2.05" fill="#9cbde3"/>
<circle cx="411.5" cy="200.98" r="0.85" fill="#b6bdcb"/>
<circle cx="419.9" cy="200.98" r="0.55" fill="#b6bdcb"/>
<circle cx="428.4" cy="200.98" r="1.7" fill="#9cbde3"/>
<circle cx="436.8" cy="200.98" r="0.55" fill="#b6bdcb"/>
<circle cx="445.2" cy="200.98" r="0.55" fill="#b6bdcb"/>
<text transform="translate(294.6,207.74) scale(0.92,1)" font-size="4.2" fill="#262626" text-anchor="end">ALAS2</text>
<line x1="295.6" y1="206.29" x2="297.3" y2="206.29" stroke="#333" stroke-width="0.5"/>
<circle cx="302.1" cy="206.29" r="0.55" fill="#b6bdcb"/>
<circle cx="310.5" cy="206.29" r="0.55" fill="#b6bdcb"/>
<circle cx="318.9" cy="206.29" r="0.55" fill="#b6bdcb"/>
<circle cx="327.3" cy="206.29" r="0.55" fill="#b6bdcb"/>
<circle cx="335.7" cy="206.29" r="0.55" fill="#b6bdcb"/>
<circle cx="344.2" cy="206.29" r="0.55" fill="#b6bdcb"/>
<circle cx="352.6" cy="206.29" r="2.35" fill="#2e83ca"/>
<circle cx="361.0" cy="206.29" r="0.55" fill="#b6bdcb"/>
<circle cx="369.4" cy="206.29" r="0.55" fill="#b6bdcb"/>
<circle cx="377.8" cy="206.29" r="0.55" fill="#b6bdcb"/>
<circle cx="386.2" cy="206.29" r="0.55" fill="#b6bdcb"/>
<circle cx="394.7" cy="206.29" r="0.55" fill="#b6bdcb"/>
<circle cx="403.1" cy="206.29" r="0.55" fill="#b6bdcb"/>
<circle cx="411.5" cy="206.29" r="0.55" fill="#b6bdcb"/>
<circle cx="419.9" cy="206.29" r="0.55" fill="#b6bdcb"/>
<circle cx="428.4" cy="206.29" r="0.55" fill="#b6bdcb"/>
<circle cx="436.8" cy="206.29" r="0.55" fill="#b6bdcb"/>
<circle cx="445.2" cy="206.29" r="0.55" fill="#b6bdcb"/>
<text transform="translate(294.6,213.06) scale(0.92,1)" font-size="4.2" fill="#262626" text-anchor="end">GNLY</text>
<line x1="295.6" y1="211.61" x2="297.3" y2="211.61" stroke="#333" stroke-width="0.5"/>
<circle cx="302.1" cy="211.61" r="0.55" fill="#b6bdcb"/>
<circle cx="310.5" cy="211.61" r="0.55" fill="#b6bdcb"/>
<circle cx="318.9" cy="211.61" r="0.55" fill="#b6bdcb"/>
<circle cx="327.3" cy="211.61" r="0.55" fill="#b6bdcb"/>
<circle cx="335.7" cy="211.61" r="0.55" fill="#b6bdcb"/>
<circle cx="344.2" cy="211.61" r="0.55" fill="#b6bdcb"/>
<circle cx="352.6" cy="211.61" r="0.55" fill="#b6bdcb"/>
<circle cx="361.0" cy="211.61" r="1.7" fill="#5a95d0"/>
<circle cx="369.4" cy="211.61" r="0.85" fill="#b6bdcb"/>
<circle cx="377.8" cy="211.61" r="1.7" fill="#5a95d0"/>
<circle cx="386.2" cy="211.61" r="0.55" fill="#b6bdcb"/>
<circle cx="394.7" cy="211.61" r="0.55" fill="#b6bdcb"/>
<circle cx="403.1" cy="211.61" r="0.55" fill="#b6bdcb"/>
<circle cx="411.5" cy="211.61" r="1.7" fill="#5a95d0"/>
<circle cx="419.9" cy="211.61" r="0.55" fill="#b6bdcb"/>
<circle cx="428.4" cy="211.61" r="0.55" fill="#b6bdcb"/>
<circle cx="436.8" cy="211.61" r="2.05" fill="#2e83ca"/>
<circle cx="445.2" cy="211.61" r="0.55" fill="#b6bdcb"/>
<text transform="translate(294.6,218.37) scale(0.92,1)" font-size="4.2" fill="#262626" text-anchor="end">ARL4C</text>
<line x1="295.6" y1="216.92" x2="297.3" y2="216.92" stroke="#333" stroke-width="0.5"/>
<circle cx="302.1" cy="216.92" r="0.55" fill="#b6bdcb"/>
<circle cx="310.5" cy="216.92" r="0.55" fill="#b6bdcb"/>
<circle cx="318.9" cy="216.92" r="0.55" fill="#b6bdcb"/>
<circle cx="327.3" cy="216.92" r="0.55" fill="#b6bdcb"/>
<circle cx="335.7" cy="216.92" r="1.3" fill="#9cbde3"/>
<circle cx="344.2" cy="216.92" r="0.55" fill="#b6bdcb"/>
<circle cx="352.6" cy="216.92" r="0.55" fill="#b6bdcb"/>
<circle cx="361.0" cy="216.92" r="1.7" fill="#2e83ca"/>
<circle cx="369.4" cy="216.92" r="0.85" fill="#b6bdcb"/>
<circle cx="377.8" cy="216.92" r="1.7" fill="#5a95d0"/>
<circle cx="386.2" cy="216.92" r="0.55" fill="#b6bdcb"/>
<circle cx="394.7" cy="216.92" r="0.55" fill="#b6bdcb"/>
<circle cx="403.1" cy="216.92" r="0.85" fill="#9cbde3"/>
<circle cx="411.5" cy="216.92" r="2.05" fill="#2e83ca"/>
<circle cx="419.9" cy="216.92" r="0.55" fill="#b6bdcb"/>
<circle cx="428.4" cy="216.92" r="0.55" fill="#b6bdcb"/>
<circle cx="436.8" cy="216.92" r="2.05" fill="#2e83ca"/>
<circle cx="445.2" cy="216.92" r="1.7" fill="#5a95d0"/>
<text transform="translate(294.6,223.69) scale(0.92,1)" font-size="4.2" fill="#262626" text-anchor="end">NKG7</text>
<line x1="295.6" y1="222.24" x2="297.3" y2="222.24" stroke="#333" stroke-width="0.5"/>
<circle cx="302.1" cy="222.24" r="0.55" fill="#b6bdcb"/>
<circle cx="310.5" cy="222.24" r="0.55" fill="#b6bdcb"/>
<circle cx="318.9" cy="222.24" r="0.55" fill="#b6bdcb"/>
<circle cx="327.3" cy="222.24" r="0.55" fill="#b6bdcb"/>
<circle cx="335.7" cy="222.24" r="0.55" fill="#b6bdcb"/>
<circle cx="344.2" cy="222.24" r="1.3" fill="#9cbde3"/>
<circle cx="352.6" cy="222.24" r="0.55" fill="#b6bdcb"/>
<circle cx="361.0" cy="222.24" r="1.7" fill="#5a95d0"/>
<circle cx="369.4" cy="222.24" r="0.85" fill="#b6bdcb"/>
<circle cx="377.8" cy="222.24" r="2.05" fill="#5a95d0"/>
<circle cx="386.2" cy="222.24" r="0.55" fill="#b6bdcb"/>
<circle cx="394.7" cy="222.24" r="0.55" fill="#b6bdcb"/>
<circle cx="403.1" cy="222.24" r="0.85" fill="#b6bdcb"/>
<circle cx="411.5" cy="222.24" r="2.05" fill="#2e83ca"/>
<circle cx="419.9" cy="222.24" r="0.55" fill="#b6bdcb"/>
<circle cx="428.4" cy="222.24" r="0.55" fill="#b6bdcb"/>
<circle cx="436.8" cy="222.24" r="2.05" fill="#2e83ca"/>
<circle cx="445.2" cy="222.24" r="0.85" fill="#b6bdcb"/>
<text transform="translate(294.6,229.01) scale(0.92,1)" font-size="4.2" fill="#262626" text-anchor="end">PTMA</text>
<line x1="295.6" y1="227.56" x2="297.3" y2="227.56" stroke="#333" stroke-width="0.5"/>
<circle cx="302.1" cy="227.56" r="0.85" fill="#b6bdcb"/>
<circle cx="310.5" cy="227.56" r="0.85" fill="#b6bdcb"/>
<circle cx="318.9" cy="227.56" r="0.85" fill="#b6bdcb"/>
<circle cx="327.3" cy="227.56" r="1.7" fill="#9cbde3"/>
<circle cx="335.7" cy="227.56" r="2.35" fill="#2e83ca"/>
<circle cx="344.2" cy="227.56" r="1.3" fill="#9cbde3"/>
<circle cx="352.6" cy="227.56" r="0.55" fill="#b6bdcb"/>
<circle cx="361.0" cy="227.56" r="2.05" fill="#9cbde3"/>
<circle cx="369.4" cy="227.56" r="2.05" fill="#9cbde3"/>
<circle cx="377.8" cy="227.56" r="2.05" fill="#5a95d0"/>
<circle cx="386.2" cy="227.56" r="0.55" fill="#b6bdcb"/>
<circle cx="394.7" cy="227.56" r="0.55" fill="#b6bdcb"/>
<circle cx="403.1" cy="227.56" r="2.05" fill="#9cbde3"/>
<circle cx="411.5" cy="227.56" r="2.05" fill="#5a95d0"/>
<circle cx="419.9" cy="227.56" r="0.55" fill="#b6bdcb"/>
<circle cx="428.4" cy="227.56" r="2.05" fill="#9cbde3"/>
<circle cx="436.8" cy="227.56" r="2.05" fill="#9cbde3"/>
<circle cx="445.2" cy="227.56" r="2.05" fill="#5a95d0"/>
<text transform="translate(294.6,234.32) scale(0.92,1)" font-size="4.2" fill="#262626" text-anchor="end">GZMB</text>
<line x1="295.6" y1="232.87" x2="297.3" y2="232.87" stroke="#333" stroke-width="0.5"/>
<circle cx="302.1" cy="232.87" r="0.55" fill="#b6bdcb"/>
<circle cx="310.5" cy="232.87" r="0.55" fill="#b6bdcb"/>
<circle cx="318.9" cy="232.87" r="0.55" fill="#b6bdcb"/>
<circle cx="327.3" cy="232.87" r="0.55" fill="#b6bdcb"/>
<circle cx="335.7" cy="232.87" r="0.55" fill="#b6bdcb"/>
<circle cx="344.2" cy="232.87" r="0.55" fill="#b6bdcb"/>
<circle cx="352.6" cy="232.87" r="0.55" fill="#b6bdcb"/>
<circle cx="361.0" cy="232.87" r="1.3" fill="#2e83ca"/>
<circle cx="369.4" cy="232.87" r="0.55" fill="#b6bdcb"/>
<circle cx="377.8" cy="232.87" r="1.7" fill="#2e83ca"/>
<circle cx="386.2" cy="232.87" r="0.55" fill="#b6bdcb"/>
<circle cx="394.7" cy="232.87" r="0.55" fill="#b6bdcb"/>
<circle cx="403.1" cy="232.87" r="0.55" fill="#b6bdcb"/>
<circle cx="411.5" cy="232.87" r="1.7" fill="#5a95d0"/>
<circle cx="419.9" cy="232.87" r="0.55" fill="#b6bdcb"/>
<circle cx="428.4" cy="232.87" r="0.55" fill="#b6bdcb"/>
<circle cx="436.8" cy="232.87" r="2.05" fill="#2e83ca"/>
<circle cx="445.2" cy="232.87" r="0.55" fill="#b6bdcb"/>
<text transform="translate(294.6,239.64) scale(0.92,1)" font-size="4.2" fill="#262626" text-anchor="end">MS4A7</text>
<line x1="295.6" y1="238.19" x2="297.3" y2="238.19" stroke="#333" stroke-width="0.5"/>
<circle cx="302.1" cy="238.19" r="0.55" fill="#b6bdcb"/>
<circle cx="310.5" cy="238.19" r="0.55" fill="#b6bdcb"/>
<circle cx="318.9" cy="238.19" r="0.55" fill="#b6bdcb"/>
<circle cx="327.3" cy="238.19" r="0.55" fill="#b6bdcb"/>
<circle cx="335.7" cy="238.19" r="0.55" fill="#b6bdcb"/>
<circle cx="344.2" cy="238.19" r="0.55" fill="#b6bdcb"/>
<circle cx="352.6" cy="238.19" r="0.55" fill="#b6bdcb"/>
<circle cx="361.0" cy="238.19" r="0.55" fill="#b6bdcb"/>
<circle cx="369.4" cy="238.19" r="2.05" fill="#2e83ca"/>
<circle cx="377.8" cy="238.19" r="0.55" fill="#b6bdcb"/>
<circle cx="386.2" cy="238.19" r="0.55" fill="#b6bdcb"/>
<circle cx="394.7" cy="238.19" r="0.55" fill="#b6bdcb"/>
<circle cx="403.1" cy="238.19" r="1.7" fill="#9cbde3"/>
<circle cx="411.5" cy="238.19" r="0.55" fill="#b6bdcb"/>
<circle cx="419.9" cy="238.19" r="0.55" fill="#b6bdcb"/>
<circle cx="428.4" cy="238.19" r="1.3" fill="#5a95d0"/>
<circle cx="436.8" cy="238.19" r="0.55" fill="#b6bdcb"/>
<circle cx="445.2" cy="238.19" r="0.55" fill="#b6bdcb"/>
<text transform="translate(294.6,244.95) scale(0.92,1)" font-size="4.2" fill="#262626" text-anchor="end">CST3</text>
<line x1="295.6" y1="243.50" x2="297.3" y2="243.50" stroke="#333" stroke-width="0.5"/>
<circle cx="302.1" cy="243.50" r="0.55" fill="#b6bdcb"/>
<circle cx="310.5" cy="243.50" r="0.85" fill="#b6bdcb"/>
<circle cx="318.9" cy="243.50" r="0.85" fill="#b6bdcb"/>
<circle cx="327.3" cy="243.50" r="1.7" fill="#5a95d0"/>
<circle cx="335.7" cy="243.50" r="0.55" fill="#b6bdcb"/>
<circle cx="344.2" cy="243.50" r="0.55" fill="#b6bdcb"/>
<circle cx="352.6" cy="243.50" r="0.55" fill="#b6bdcb"/>
<circle cx="361.0" cy="243.50" r="0.55" fill="#b6bdcb"/>
<circle cx="369.4" cy="243.50" r="2.35" fill="#2e83ca"/>
<circle cx="377.8" cy="243.50" r="0.85" fill="#b6bdcb"/>
<circle cx="386.2" cy="243.50" r="0.85" fill="#b6bdcb"/>
<circle cx="394.7" cy="243.50" r="0.85" fill="#b6bdcb"/>
<circle cx="403.1" cy="243.50" r="2.05" fill="#2e83ca"/>
<circle cx="411.5" cy="243.50" r="0.55" fill="#b6bdcb"/>
<circle cx="419.9" cy="243.50" r="0.55" fill="#b6bdcb"/>
<circle cx="428.4" cy="243.50" r="2.05" fill="#5a95d0"/>
<circle cx="436.8" cy="243.50" r="0.55" fill="#b6bdcb"/>
<circle cx="445.2" cy="243.50" r="0.55" fill="#b6bdcb"/>
<text transform="translate(294.6,250.27) scale(0.92,1)" font-size="4.2" fill="#262626" text-anchor="end">AIF1</text>
<line x1="295.6" y1="248.82" x2="297.3" y2="248.82" stroke="#333" stroke-width="0.5"/>
<circle cx="302.1" cy="248.82" r="1.7" fill="#9cbde3"/>
<circle cx="310.5" cy="248.82" r="1.3" fill="#9cbde3"/>
<circle cx="318.9" cy="248.82" r="1.7" fill="#9cbde3"/>
<circle cx="327.3" cy="248.82" r="0.85" fill="#b6bdcb"/>
<circle cx="335.7" cy="248.82" r="0.55" fill="#b6bdcb"/>
<circle cx="344.2" cy="248.82" r="0.55" fill="#b6bdcb"/>
<circle cx="352.6" cy="248.82" r="0.55" fill="#b6bdcb"/>
<circle cx="361.0" cy="248.82" r="0.55" fill="#b6bdcb"/>
<circle cx="369.4" cy="248.82" r="2.35" fill="#2e83ca"/>
<circle cx="377.8" cy="248.82" r="0.85" fill="#b6bdcb"/>
<circle cx="386.2" cy="248.82" r="1.3" fill="#9cbde3"/>
<circle cx="394.7" cy="248.82" r="0.85" fill="#b6bdcb"/>
<circle cx="403.1" cy="248.82" r="2.05" fill="#5a95d0"/>
<circle cx="411.5" cy="248.82" r="0.55" fill="#b6bdcb"/>
<circle cx="419.9" cy="248.82" r="0.85" fill="#b6bdcb"/>
<circle cx="428.4" cy="248.82" r="2.05" fill="#5a95d0"/>
<circle cx="436.8" cy="248.82" r="0.55" fill="#b6bdcb"/>
<circle cx="445.2" cy="248.82" r="0.55" fill="#b6bdcb"/>
<text transform="translate(294.6,255.59) scale(0.92,1)" font-size="4.2" fill="#262626" text-anchor="end">WARS</text>
<line x1="295.6" y1="254.14" x2="297.3" y2="254.14" stroke="#333" stroke-width="0.5"/>
<circle cx="302.1" cy="254.14" r="0.55" fill="#b6bdcb"/>
<circle cx="310.5" cy="254.14" r="0.55" fill="#b6bdcb"/>
<circle cx="318.9" cy="254.14" r="0.55" fill="#b6bdcb"/>
<circle cx="327.3" cy="254.14" r="0.85" fill="#b6bdcb"/>
<circle cx="335.7" cy="254.14" r="0.55" fill="#b6bdcb"/>
<circle cx="344.2" cy="254.14" r="0.85" fill="#b6bdcb"/>
<circle cx="352.6" cy="254.14" r="0.55" fill="#b6bdcb"/>
<circle cx="361.0" cy="254.14" r="0.55" fill="#b6bdcb"/>
<circle cx="369.4" cy="254.14" r="2.35" fill="#2e83ca"/>
<circle cx="377.8" cy="254.14" r="0.85" fill="#b6bdcb"/>
<circle cx="386.2" cy="254.14" r="0.85" fill="#b6bdcb"/>
<circle cx="394.7" cy="254.14" r="0.55" fill="#b6bdcb"/>
<circle cx="403.1" cy="254.14" r="2.05" fill="#5a95d0"/>
<circle cx="411.5" cy="254.14" r="0.55" fill="#b6bdcb"/>
<circle cx="419.9" cy="254.14" r="0.55" fill="#b6bdcb"/>
<circle cx="428.4" cy="254.14" r="1.7" fill="#5a95d0"/>
<circle cx="436.8" cy="254.14" r="0.55" fill="#b6bdcb"/>
<circle cx="445.2" cy="254.14" r="0.55" fill="#b6bdcb"/>
<text transform="translate(294.6,260.90) scale(0.92,1)" font-size="4.2" fill="#262626" text-anchor="end">CDKN1C</text>
<line x1="295.6" y1="259.45" x2="297.3" y2="259.45" stroke="#333" stroke-width="0.5"/>
<circle cx="302.1" cy="259.45" r="0.55" fill="#b6bdcb"/>
<circle cx="310.5" cy="259.45" r="0.55" fill="#b6bdcb"/>
<circle cx="318.9" cy="259.45" r="0.55" fill="#b6bdcb"/>
<circle cx="327.3" cy="259.45" r="0.55" fill="#b6bdcb"/>
<circle cx="335.7" cy="259.45" r="0.55" fill="#b6bdcb"/>
<circle cx="344.2" cy="259.45" r="0.55" fill="#b6bdcb"/>
<circle cx="352.6" cy="259.45" r="0.55" fill="#b6bdcb"/>
<circle cx="361.0" cy="259.45" r="0.55" fill="#b6bdcb"/>
<circle cx="369.4" cy="259.45" r="2.05" fill="#2e83ca"/>
<circle cx="377.8" cy="259.45" r="0.55" fill="#b6bdcb"/>
<circle cx="386.2" cy="259.45" r="0.55" fill="#b6bdcb"/>
<circle cx="394.7" cy="259.45" r="0.55" fill="#b6bdcb"/>
<circle cx="403.1" cy="259.45" r="0.55" fill="#b6bdcb"/>
<circle cx="411.5" cy="259.45" r="0.55" fill="#b6bdcb"/>
<circle cx="419.9" cy="259.45" r="0.55" fill="#b6bdcb"/>
<circle cx="428.4" cy="259.45" r="0.55" fill="#b6bdcb"/>
<circle cx="436.8" cy="259.45" r="0.55" fill="#b6bdcb"/>
<circle cx="445.2" cy="259.45" r="0.55" fill="#b6bdcb"/>
<text transform="translate(294.6,266.22) scale(0.92,1)" font-size="4.2" fill="#262626" text-anchor="end">CHCHD2</text>
<line x1="295.6" y1="264.77" x2="297.3" y2="264.77" stroke="#333" stroke-width="0.5"/>
<circle cx="302.1" cy="264.77" r="0.55" fill="#b6bdcb"/>
<circle cx="310.5" cy="264.77" r="0.55" fill="#b6bdcb"/>
<circle cx="318.9" cy="264.77" r="0.55" fill="#b6bdcb"/>
<circle cx="327.3" cy="264.77" r="0.55" fill="#b6bdcb"/>
<circle cx="335.7" cy="264.77" r="1.7" fill="#9cbde3"/>
<circle cx="344.2" cy="264.77" r="0.85" fill="#b6bdcb"/>
<circle cx="352.6" cy="264.77" r="0.55" fill="#b6bdcb"/>
<circle cx="361.0" cy="264.77" r="0.85" fill="#5a95d0"/>
<circle cx="369.4" cy="264.77" r="2.05" fill="#9cbde3"/>
<circle cx="377.8" cy="264.77" r="2.05" fill="#2e83ca"/>
<circle cx="386.2" cy="264.77" r="0.55" fill="#b6bdcb"/>
<circle cx="394.7" cy="264.77" r="0.55" fill="#b6bdcb"/>
<circle cx="403.1" cy="264.77" r="2.05" fill="#9cbde3"/>
<circle cx="411.5" cy="264.77" r="2.05" fill="#5a95d0"/>
<circle cx="419.9" cy="264.77" r="0.55" fill="#b6bdcb"/>
<circle cx="428.4" cy="264.77" r="1.7" fill="#9cbde3"/>
<circle cx="436.8" cy="264.77" r="2.05" fill="#5a95d0"/>
<circle cx="445.2" cy="264.77" r="2.05" fill="#5a95d0"/>
<text transform="translate(294.6,271.53) scale(0.92,1)" font-size="4.2" fill="#262626" text-anchor="end">PPIA</text>
<line x1="295.6" y1="270.08" x2="297.3" y2="270.08" stroke="#333" stroke-width="0.5"/>
<circle cx="302.1" cy="270.08" r="0.55" fill="#b6bdcb"/>
<circle cx="310.5" cy="270.08" r="0.55" fill="#b6bdcb"/>
<circle cx="318.9" cy="270.08" r="0.55" fill="#b6bdcb"/>
<circle cx="327.3" cy="270.08" r="0.55" fill="#b6bdcb"/>
<circle cx="335.7" cy="270.08" r="2.05" fill="#9cbde3"/>
<circle cx="344.2" cy="270.08" r="1.3" fill="#9cbde3"/>
<circle cx="352.6" cy="270.08" r="0.55" fill="#b6bdcb"/>
<circle cx="361.0" cy="270.08" r="1.3" fill="#5a95d0"/>
<circle cx="369.4" cy="270.08" r="2.05" fill="#9cbde3"/>
<circle cx="377.8" cy="270.08" r="2.05" fill="#2e83ca"/>
<circle cx="386.2" cy="270.08" r="0.55" fill="#b6bdcb"/>
<circle cx="394.7" cy="270.08" r="0.55" fill="#b6bdcb"/>
<circle cx="403.1" cy="270.08" r="2.05" fill="#9cbde3"/>
<circle cx="411.5" cy="270.08" r="2.05" fill="#5a95d0"/>
<circle cx="419.9" cy="270.08" r="0.55" fill="#b6bdcb"/>
<circle cx="428.4" cy="270.08" r="1.7" fill="#9cbde3"/>
<circle cx="436.8" cy="270.08" r="2.05" fill="#5a95d0"/>
<circle cx="445.2" cy="270.08" r="2.05" fill="#5a95d0"/>
<text transform="translate(294.6,276.85) scale(0.92,1)" font-size="4.2" fill="#262626" text-anchor="end">STMN1</text>
<line x1="295.6" y1="275.40" x2="297.3" y2="275.40" stroke="#333" stroke-width="0.5"/>
<circle cx="302.1" cy="275.40" r="0.85" fill="#b6bdcb"/>
<circle cx="310.5" cy="275.40" r="0.85" fill="#b6bdcb"/>
<circle cx="318.9" cy="275.40" r="0.55" fill="#b6bdcb"/>
<circle cx="327.3" cy="275.40" r="0.85" fill="#b6bdcb"/>
<circle cx="335.7" cy="275.40" r="0.85" fill="#b6bdcb"/>
<circle cx="344.2" cy="275.40" r="0.85" fill="#b6bdcb"/>
<circle cx="352.6" cy="275.40" r="0.55" fill="#b6bdcb"/>
<circle cx="361.0" cy="275.40" r="0.55" fill="#b6bdcb"/>
<circle cx="369.4" cy="275.40" r="0.85" fill="#b6bdcb"/>
<circle cx="377.8" cy="275.40" r="2.05" fill="#2e83ca"/>
<circle cx="386.2" cy="275.40" r="0.55" fill="#b6bdcb"/>
<circle cx="394.7" cy="275.40" r="0.55" fill="#b6bdcb"/>
<circle cx="403.1" cy="275.40" r="0.55" fill="#b6bdcb"/>
<circle cx="411.5" cy="275.40" r="0.55" fill="#b6bdcb"/>
<circle cx="419.9" cy="275.40" r="0.55" fill="#b6bdcb"/>
<circle cx="428.4" cy="275.40" r="0.55" fill="#b6bdcb"/>
<circle cx="436.8" cy="275.40" r="0.55" fill="#b6bdcb"/>
<circle cx="445.2" cy="275.40" r="0.55" fill="#b6bdcb"/>
<text transform="translate(294.6,282.17) scale(0.92,1)" font-size="4.2" fill="#262626" text-anchor="end">PFN1</text>
<line x1="295.6" y1="280.72" x2="297.3" y2="280.72" stroke="#333" stroke-width="0.5"/>
<circle cx="302.1" cy="280.72" r="1.7" fill="#9cbde3"/>
<circle cx="310.5" cy="280.72" r="1.7" fill="#9cbde3"/>
<circle cx="318.9" cy="280.72" r="1.3" fill="#9cbde3"/>
<circle cx="327.3" cy="280.72" r="1.7" fill="#9cbde3"/>
<circle cx="335.7" cy="280.72" r="2.05" fill="#9cbde3"/>
<circle cx="344.2" cy="280.72" r="2.05" fill="#2e83ca"/>
<circle cx="352.6" cy="280.72" r="0.85" fill="#b6bdcb"/>
<circle cx="361.0" cy="280.72" r="1.3" fill="#9cbde3"/>
<circle cx="369.4" cy="280.72" r="2.05" fill="#5a95d0"/>
<circle cx="377.8" cy="280.72" r="2.05" fill="#2e83ca"/>
<circle cx="386.2" cy="280.72" r="1.3" fill="#9cbde3"/>
<circle cx="394.7" cy="280.72" r="1.7" fill="#9cbde3"/>
<circle cx="403.1" cy="280.72" r="2.05" fill="#9cbde3"/>
<circle cx="411.5" cy="280.72" r="2.05" fill="#9cbde3"/>
<circle cx="419.9" cy="280.72" r="0.85" fill="#b6bdcb"/>
<circle cx="428.4" cy="280.72" r="2.05" fill="#9cbde3"/>
<circle cx="436.8" cy="280.72" r="2.05" fill="#5a95d0"/>
<circle cx="445.2" cy="280.72" r="2.05" fill="#9cbde3"/>
<text transform="translate(294.6,287.48) scale(0.92,1)" font-size="4.2" fill="#262626" text-anchor="end">DDX39A</text>
<line x1="295.6" y1="286.03" x2="297.3" y2="286.03" stroke="#333" stroke-width="0.5"/>
<circle cx="302.1" cy="286.03" r="0.55" fill="#b6bdcb"/>
<circle cx="310.5" cy="286.03" r="0.55" fill="#b6bdcb"/>
<circle cx="318.9" cy="286.03" r="0.55" fill="#b6bdcb"/>
<circle cx="327.3" cy="286.03" r="0.55" fill="#b6bdcb"/>
<circle cx="335.7" cy="286.03" r="0.85" fill="#5a95d0"/>
<circle cx="344.2" cy="286.03" r="0.55" fill="#b6bdcb"/>
<circle cx="352.6" cy="286.03" r="0.55" fill="#b6bdcb"/>
<circle cx="361.0" cy="286.03" r="0.85" fill="#b6bdcb"/>
<circle cx="369.4" cy="286.03" r="0.85" fill="#b6bdcb"/>
<circle cx="377.8" cy="286.03" r="1.7" fill="#2e83ca"/>
<circle cx="386.2" cy="286.03" r="0.55" fill="#b6bdcb"/>
<circle cx="394.7" cy="286.03" r="0.55" fill="#b6bdcb"/>
<circle cx="403.1" cy="286.03" r="0.85" fill="#b6bdcb"/>
<circle cx="411.5" cy="286.03" r="1.3" fill="#5a95d0"/>
<circle cx="419.9" cy="286.03" r="0.55" fill="#b6bdcb"/>
<circle cx="428.4" cy="286.03" r="0.85" fill="#b6bdcb"/>
<circle cx="436.8" cy="286.03" r="1.3" fill="#5a95d0"/>
<circle cx="445.2" cy="286.03" r="0.85" fill="#b6bdcb"/>
<text transform="translate(294.6,292.80) scale(0.92,1)" font-size="4.2" fill="#262626" text-anchor="end">IFIT2</text>
<line x1="295.6" y1="291.35" x2="297.3" y2="291.35" stroke="#333" stroke-width="0.5"/>
<circle cx="302.1" cy="291.35" r="0.85" fill="#b6bdcb"/>
<circle cx="310.5" cy="291.35" r="0.85" fill="#b6bdcb"/>
<circle cx="318.9" cy="291.35" r="0.85" fill="#b6bdcb"/>
<circle cx="327.3" cy="291.35" r="0.55" fill="#b6bdcb"/>
<circle cx="335.7" cy="291.35" r="0.55" fill="#b6bdcb"/>
<circle cx="344.2" cy="291.35" r="0.55" fill="#b6bdcb"/>
<circle cx="352.6" cy="291.35" r="0.55" fill="#b6bdcb"/>
<circle cx="361.0" cy="291.35" r="0.55" fill="#b6bdcb"/>
<circle cx="369.4" cy="291.35" r="0.85" fill="#b6bdcb"/>
<circle cx="377.8" cy="291.35" r="0.55" fill="#b6bdcb"/>
<circle cx="386.2" cy="291.35" r="1.7" fill="#2e83ca"/>
<circle cx="394.7" cy="291.35" r="0.55" fill="#b6bdcb"/>
<circle cx="403.1" cy="291.35" r="0.55" fill="#b6bdcb"/>
<circle cx="411.5" cy="291.35" r="0.55" fill="#b6bdcb"/>
<circle cx="419.9" cy="291.35" r="0.55" fill="#b6bdcb"/>
<circle cx="428.4" cy="291.35" r="0.55" fill="#b6bdcb"/>
<circle cx="436.8" cy="291.35" r="0.55" fill="#b6bdcb"/>
<circle cx="445.2" cy="291.35" r="0.55" fill="#b6bdcb"/>
<text transform="translate(294.6,298.11) scale(0.92,1)" font-size="4.2" fill="#262626" text-anchor="end">IFIT3</text>
<line x1="295.6" y1="296.66" x2="297.3" y2="296.66" stroke="#333" stroke-width="0.5"/>
<circle cx="302.1" cy="296.66" r="0.55" fill="#b6bdcb"/>
<circle cx="310.5" cy="296.66" r="0.85" fill="#b6bdcb"/>
<circle cx="318.9" cy="296.66" r="0.85" fill="#b6bdcb"/>
<circle cx="327.3" cy="296.66" r="0.55" fill="#b6bdcb"/>
<circle cx="335.7" cy="296.66" r="0.85" fill="#b6bdcb"/>
<circle cx="344.2" cy="296.66" r="0.55" fill="#b6bdcb"/>
<circle cx="352.6" cy="296.66" r="0.55" fill="#b6bdcb"/>
<circle cx="361.0" cy="296.66" r="0.55" fill="#b6bdcb"/>
<circle cx="369.4" cy="296.66" r="0.85" fill="#b6bdcb"/>
<circle cx="377.8" cy="296.66" r="0.55" fill="#b6bdcb"/>
<circle cx="386.2" cy="296.66" r="1.7" fill="#2e83ca"/>
<circle cx="394.7" cy="296.66" r="0.55" fill="#b6bdcb"/>
<circle cx="403.1" cy="296.66" r="0.55" fill="#b6bdcb"/>
<circle cx="411.5" cy="296.66" r="0.55" fill="#b6bdcb"/>
<circle cx="419.9" cy="296.66" r="0.55" fill="#b6bdcb"/>
<circle cx="428.4" cy="296.66" r="0.55" fill="#b6bdcb"/>
<circle cx="436.8" cy="296.66" r="0.55" fill="#b6bdcb"/>
<circle cx="445.2" cy="296.66" r="0.55" fill="#b6bdcb"/>
<text transform="translate(294.6,303.43) scale(0.92,1)" font-size="4.2" fill="#262626" text-anchor="end">IFIT1</text>
<line x1="295.6" y1="301.98" x2="297.3" y2="301.98" stroke="#333" stroke-width="0.5"/>
<circle cx="302.1" cy="301.98" r="0.55" fill="#b6bdcb"/>
<circle cx="310.5" cy="301.98" r="0.55" fill="#b6bdcb"/>
<circle cx="318.9" cy="301.98" r="0.55" fill="#b6bdcb"/>
<circle cx="327.3" cy="301.98" r="0.55" fill="#b6bdcb"/>
<circle cx="335.7" cy="301.98" r="0.55" fill="#b6bdcb"/>
<circle cx="344.2" cy="301.98" r="0.55" fill="#b6bdcb"/>
<circle cx="352.6" cy="301.98" r="0.55" fill="#b6bdcb"/>
<circle cx="361.0" cy="301.98" r="0.55" fill="#b6bdcb"/>
<circle cx="369.4" cy="301.98" r="0.55" fill="#b6bdcb"/>
<circle cx="377.8" cy="301.98" r="0.55" fill="#b6bdcb"/>
<circle cx="386.2" cy="301.98" r="1.3" fill="#2e83ca"/>
<circle cx="394.7" cy="301.98" r="0.55" fill="#b6bdcb"/>
<circle cx="403.1" cy="301.98" r="0.55" fill="#b6bdcb"/>
<circle cx="411.5" cy="301.98" r="0.55" fill="#b6bdcb"/>
<circle cx="419.9" cy="301.98" r="0.55" fill="#b6bdcb"/>
<circle cx="428.4" cy="301.98" r="0.55" fill="#b6bdcb"/>
<circle cx="436.8" cy="301.98" r="0.55" fill="#b6bdcb"/>
<circle cx="445.2" cy="301.98" r="0.55" fill="#b6bdcb"/>
<text transform="translate(294.6,308.75) scale(0.92,1)" font-size="4.2" fill="#262626" text-anchor="end">S100A12</text>
<line x1="295.6" y1="307.30" x2="297.3" y2="307.30" stroke="#333" stroke-width="0.5"/>
<circle cx="302.1" cy="307.30" r="1.3" fill="#9cbde3"/>
<circle cx="310.5" cy="307.30" r="2.05" fill="#2e83ca"/>
<circle cx="318.9" cy="307.30" r="1.3" fill="#9cbde3"/>
<circle cx="327.3" cy="307.30" r="0.55" fill="#b6bdcb"/>
<circle cx="335.7" cy="307.30" r="0.55" fill="#b6bdcb"/>
<circle cx="344.2" cy="307.30" r="1.3" fill="#5a95d0"/>
<circle cx="352.6" cy="307.30" r="0.55" fill="#b6bdcb"/>
<circle cx="361.0" cy="307.30" r="0.55" fill="#b6bdcb"/>
<circle cx="369.4" cy="307.30" r="0.85" fill="#b6bdcb"/>
<circle cx="377.8" cy="307.30" r="0.55" fill="#b6bdcb"/>
<circle cx="386.2" cy="307.30" r="1.3" fill="#9cbde3"/>
<circle cx="394.7" cy="307.30" r="2.05" fill="#2e83ca"/>
<circle cx="403.1" cy="307.30" r="1.7" fill="#9cbde3"/>
<circle cx="411.5" cy="307.30" r="0.55" fill="#b6bdcb"/>
<circle cx="419.9" cy="307.30" r="0.85" fill="#b6bdcb"/>
<circle cx="428.4" cy="307.30" r="2.05" fill="#9cbde3"/>
<circle cx="436.8" cy="307.30" r="0.55" fill="#b6bdcb"/>
<circle cx="445.2" cy="307.30" r="0.55" fill="#b6bdcb"/>
<text transform="translate(294.6,314.06) scale(0.92,1)" font-size="4.2" fill="#262626" text-anchor="end">MMP9</text>
<line x1="295.6" y1="312.61" x2="297.3" y2="312.61" stroke="#333" stroke-width="0.5"/>
<circle cx="302.1" cy="312.61" r="0.55" fill="#b6bdcb"/>
<circle cx="310.5" cy="312.61" r="1.3" fill="#5a95d0"/>
<circle cx="318.9" cy="312.61" r="0.55" fill="#b6bdcb"/>
<circle cx="327.3" cy="312.61" r="0.55" fill="#b6bdcb"/>
<circle cx="335.7" cy="312.61" r="0.55" fill="#b6bdcb"/>
<circle cx="344.2" cy="312.61" r="0.85" fill="#5a95d0"/>
<circle cx="352.6" cy="312.61" r="0.55" fill="#b6bdcb"/>
<circle cx="361.0" cy="312.61" r="0.55" fill="#b6bdcb"/>
<circle cx="369.4" cy="312.61" r="0.55" fill="#b6bdcb"/>
<circle cx="377.8" cy="312.61" r="0.55" fill="#b6bdcb"/>
<circle cx="386.2" cy="312.61" r="0.85" fill="#b6bdcb"/>
<circle cx="394.7" cy="312.61" r="2.05" fill="#2e83ca"/>
<circle cx="403.1" cy="312.61" r="0.55" fill="#b6bdcb"/>
<circle cx="411.5" cy="312.61" r="0.55" fill="#b6bdcb"/>
<circle cx="419.9" cy="312.61" r="0.55" fill="#b6bdcb"/>
<circle cx="428.4" cy="312.61" r="0.85" fill="#b6bdcb"/>
<circle cx="436.8" cy="312.61" r="0.55" fill="#b6bdcb"/>
<circle cx="445.2" cy="312.61" r="0.55" fill="#b6bdcb"/>
<text transform="translate(294.6,319.38) scale(0.92,1)" font-size="4.2" fill="#262626" text-anchor="end">NCF1</text>
<line x1="295.6" y1="317.93" x2="297.3" y2="317.93" stroke="#333" stroke-width="0.5"/>
<circle cx="302.1" cy="317.93" r="1.7" fill="#5a95d0"/>
<circle cx="310.5" cy="317.93" r="2.05" fill="#5a95d0"/>
<circle cx="318.9" cy="317.93" r="1.7" fill="#5a95d0"/>
<circle cx="327.3" cy="317.93" r="0.85" fill="#b6bdcb"/>
<circle cx="335.7" cy="317.93" r="1.3" fill="#9cbde3"/>
<circle cx="344.2" cy="317.93" r="2.05" fill="#5a95d0"/>
<circle cx="352.6" cy="317.93" r="0.85" fill="#b6bdcb"/>
<circle cx="361.0" cy="317.93" r="0.85" fill="#b6bdcb"/>
<circle cx="369.4" cy="317.93" r="1.3" fill="#9cbde3"/>
<circle cx="377.8" cy="317.93" r="0.85" fill="#b6bdcb"/>
<circle cx="386.2" cy="317.93" r="1.7" fill="#5a95d0"/>
<circle cx="394.7" cy="317.93" r="2.05" fill="#5a95d0"/>
<circle cx="403.1" cy="317.93" r="1.7" fill="#9cbde3"/>
<circle cx="411.5" cy="317.93" r="0.55" fill="#b6bdcb"/>
<circle cx="419.9" cy="317.93" r="1.7" fill="#5a95d0"/>
<circle cx="428.4" cy="317.93" r="2.05" fill="#9cbde3"/>
<circle cx="436.8" cy="317.93" r="0.85" fill="#b6bdcb"/>
<circle cx="445.2" cy="317.93" r="0.85" fill="#b6bdcb"/>
<text transform="translate(294.6,324.69) scale(0.92,1)" font-size="4.2" fill="#262626" text-anchor="end">VIM</text>
<line x1="295.6" y1="323.24" x2="297.3" y2="323.24" stroke="#333" stroke-width="0.5"/>
<circle cx="302.1" cy="323.24" r="1.7" fill="#9cbde3"/>
<circle cx="310.5" cy="323.24" r="2.05" fill="#9cbde3"/>
<circle cx="318.9" cy="323.24" r="1.3" fill="#9cbde3"/>
<circle cx="327.3" cy="323.24" r="0.55" fill="#b6bdcb"/>
<circle cx="335.7" cy="323.24" r="1.7" fill="#9cbde3"/>
<circle cx="344.2" cy="323.24" r="2.05" fill="#5a95d0"/>
<circle cx="352.6" cy="323.24" r="0.85" fill="#b6bdcb"/>
<circle cx="361.0" cy="323.24" r="1.3" fill="#9cbde3"/>
<circle cx="369.4" cy="323.24" r="2.05" fill="#5a95d0"/>
<circle cx="377.8" cy="323.24" r="2.05" fill="#9cbde3"/>
<circle cx="386.2" cy="323.24" r="1.7" fill="#9cbde3"/>
<circle cx="394.7" cy="323.24" r="1.7" fill="#5a95d0"/>
<circle cx="403.1" cy="323.24" r="2.05" fill="#5a95d0"/>
<circle cx="411.5" cy="323.24" r="2.05" fill="#9cbde3"/>
<circle cx="419.9" cy="323.24" r="0.85" fill="#b6bdcb"/>
<circle cx="428.4" cy="323.24" r="2.05" fill="#2e83ca"/>
<circle cx="436.8" cy="323.24" r="1.7" fill="#9cbde3"/>
<circle cx="445.2" cy="323.24" r="2.05" fill="#9cbde3"/>
<text transform="translate(294.6,330.01) scale(0.92,1)" font-size="4.2" fill="#262626" text-anchor="end">S100P</text>
<line x1="295.6" y1="328.56" x2="297.3" y2="328.56" stroke="#333" stroke-width="0.5"/>
<circle cx="302.1" cy="328.56" r="1.3" fill="#5a95d0"/>
<circle cx="310.5" cy="328.56" r="1.7" fill="#2e83ca"/>
<circle cx="318.9" cy="328.56" r="0.85" fill="#b6bdcb"/>
<circle cx="327.3" cy="328.56" r="0.85" fill="#b6bdcb"/>
<circle cx="335.7" cy="328.56" r="0.55" fill="#b6bdcb"/>
<circle cx="344.2" cy="328.56" r="2.05" fill="#2e83ca"/>
<circle cx="352.6" cy="328.56" r="0.85" fill="#b6bdcb"/>
<circle cx="361.0" cy="328.56" r="0.55" fill="#b6bdcb"/>
<circle cx="369.4" cy="328.56" r="0.85" fill="#b6bdcb"/>
<circle cx="377.8" cy="328.56" r="0.55" fill="#b6bdcb"/>
<circle cx="386.2" cy="328.56" r="1.3" fill="#5a95d0"/>
<circle cx="394.7" cy="328.56" r="1.7" fill="#2e83ca"/>
<circle cx="403.1" cy="328.56" r="0.55" fill="#b6bdcb"/>
<circle cx="411.5" cy="328.56" r="0.55" fill="#b6bdcb"/>
<circle cx="419.9" cy="328.56" r="0.85" fill="#b6bdcb"/>
<circle cx="428.4" cy="328.56" r="0.55" fill="#b6bdcb"/>
<circle cx="436.8" cy="328.56" r="0.55" fill="#b6bdcb"/>
<circle cx="445.2" cy="328.56" r="0.55" fill="#b6bdcb"/>
<text transform="translate(294.6,335.33) scale(0.92,1)" font-size="4.2" fill="#262626" text-anchor="end">TPP1</text>
<line x1="295.6" y1="333.88" x2="297.3" y2="333.88" stroke="#333" stroke-width="0.5"/>
<circle cx="302.1" cy="333.88" r="0.55" fill="#b6bdcb"/>
<circle cx="310.5" cy="333.88" r="0.55" fill="#b6bdcb"/>
<circle cx="318.9" cy="333.88" r="0.55" fill="#b6bdcb"/>
<circle cx="327.3" cy="333.88" r="0.85" fill="#2e83ca"/>
<circle cx="335.7" cy="333.88" r="0.85" fill="#b6bdcb"/>
<circle cx="344.2" cy="333.88" r="0.85" fill="#2e83ca"/>
<circle cx="352.6" cy="333.88" r="0.55" fill="#b6bdcb"/>
<circle cx="361.0" cy="333.88" r="0.55" fill="#b6bdcb"/>
<circle cx="369.4" cy="333.88" r="2.05" fill="#5a95d0"/>
<circle cx="377.8" cy="333.88" r="0.85" fill="#b6bdcb"/>
<circle cx="386.2" cy="333.88" r="0.55" fill="#b6bdcb"/>
<circle cx="394.7" cy="333.88" r="0.55" fill="#b6bdcb"/>
<circle cx="403.1" cy="333.88" r="2.05" fill="#2e83ca"/>
<circle cx="411.5" cy="333.88" r="0.55" fill="#b6bdcb"/>
<circle cx="419.9" cy="333.88" r="0.55" fill="#b6bdcb"/>
<circle cx="428.4" cy="333.88" r="1.7" fill="#5a95d0"/>
<circle cx="436.8" cy="333.88" r="0.85" fill="#b6bdcb"/>
<circle cx="445.2" cy="333.88" r="0.55" fill="#b6bdcb"/>
<text transform="translate(294.6,340.64) scale(0.92,1)" font-size="4.2" fill="#262626" text-anchor="end">FCN1</text>
<line x1="295.6" y1="339.19" x2="297.3" y2="339.19" stroke="#333" stroke-width="0.5"/>
<circle cx="302.1" cy="339.19" r="0.55" fill="#b6bdcb"/>
<circle cx="310.5" cy="339.19" r="0.85" fill="#b6bdcb"/>
<circle cx="318.9" cy="339.19" r="0.55" fill="#b6bdcb"/>
<circle cx="327.3" cy="339.19" r="0.55" fill="#b6bdcb"/>
<circle cx="335.7" cy="339.19" r="0.55" fill="#b6bdcb"/>
<circle cx="344.2" cy="339.19" r="2.05" fill="#5a95d0"/>
<circle cx="352.6" cy="339.19" r="0.55" fill="#b6bdcb"/>
<circle cx="361.0" cy="339.19" r="0.55" fill="#b6bdcb"/>
<circle cx="369.4" cy="339.19" r="2.35" fill="#5a95d0"/>
<circle cx="377.8" cy="339.19" r="0.55" fill="#b6bdcb"/>
<circle cx="386.2" cy="339.19" r="0.55" fill="#b6bdcb"/>
<circle cx="394.7" cy="339.19" r="1.3" fill="#9cbde3"/>
<circle cx="403.1" cy="339.19" r="2.05" fill="#2e83ca"/>
<circle cx="411.5" cy="339.19" r="0.55" fill="#b6bdcb"/>
<circle cx="419.9" cy="339.19" r="0.55" fill="#b6bdcb"/>
<circle cx="428.4" cy="339.19" r="2.05" fill="#2e83ca"/>
<circle cx="436.8" cy="339.19" r="0.55" fill="#b6bdcb"/>
<circle cx="445.2" cy="339.19" r="0.55" fill="#b6bdcb"/>
<text transform="translate(294.6,345.96) scale(0.92,1)" font-size="4.2" fill="#262626" text-anchor="end">NWFB</text>
<line x1="295.6" y1="344.51" x2="297.3" y2="344.51" stroke="#333" stroke-width="0.5"/>
<circle cx="302.1" cy="344.51" r="0.55" fill="#b6bdcb"/>
<circle cx="310.5" cy="344.51" r="0.55" fill="#b6bdcb"/>
<circle cx="318.9" cy="344.51" r="0.55" fill="#b6bdcb"/>
<circle cx="327.3" cy="344.51" r="0.55" fill="#b6bdcb"/>
<circle cx="335.7" cy="344.51" r="0.55" fill="#b6bdcb"/>
<circle cx="344.2" cy="344.51" r="0.55" fill="#b6bdcb"/>
<circle cx="352.6" cy="344.51" r="0.55" fill="#b6bdcb"/>
<circle cx="361.0" cy="344.51" r="0.55" fill="#b6bdcb"/>
<circle cx="369.4" cy="344.51" r="2.35" fill="#2e83ca"/>
<circle cx="377.8" cy="344.51" r="0.55" fill="#b6bdcb"/>
<circle cx="386.2" cy="344.51" r="0.55" fill="#b6bdcb"/>
<circle cx="394.7" cy="344.51" r="0.55" fill="#b6bdcb"/>
<circle cx="403.1" cy="344.51" r="2.05" fill="#2e83ca"/>
<circle cx="411.5" cy="344.51" r="0.55" fill="#b6bdcb"/>
<circle cx="419.9" cy="344.51" r="0.55" fill="#b6bdcb"/>
<circle cx="428.4" cy="344.51" r="2.05" fill="#2e83ca"/>
<circle cx="436.8" cy="344.51" r="0.55" fill="#b6bdcb"/>
<circle cx="445.2" cy="344.51" r="0.55" fill="#b6bdcb"/>
<text transform="translate(294.6,351.27) scale(0.92,1)" font-size="4.2" fill="#262626" text-anchor="end">CPVL</text>
<line x1="295.6" y1="349.82" x2="297.3" y2="349.82" stroke="#333" stroke-width="0.5"/>
<circle cx="302.1" cy="349.82" r="0.55" fill="#b6bdcb"/>
<circle cx="310.5" cy="349.82" r="0.55" fill="#b6bdcb"/>
<circle cx="318.9" cy="349.82" r="0.55" fill="#b6bdcb"/>
<circle cx="327.3" cy="349.82" r="0.55" fill="#b6bdcb"/>
<circle cx="335.7" cy="349.82" r="0.55" fill="#b6bdcb"/>
<circle cx="344.2" cy="349.82" r="0.55" fill="#b6bdcb"/>
<circle cx="352.6" cy="349.82" r="0.55" fill="#b6bdcb"/>
<circle cx="361.0" cy="349.82" r="0.55" fill="#b6bdcb"/>
<circle cx="369.4" cy="349.82" r="2.05" fill="#2e83ca"/>
<circle cx="377.8" cy="349.82" r="0.55" fill="#b6bdcb"/>
<circle cx="386.2" cy="349.82" r="0.55" fill="#b6bdcb"/>
<circle cx="394.7" cy="349.82" r="0.55" fill="#b6bdcb"/>
<circle cx="403.1" cy="349.82" r="2.05" fill="#2e83ca"/>
<circle cx="411.5" cy="349.82" r="0.55" fill="#b6bdcb"/>
<circle cx="419.9" cy="349.82" r="0.55" fill="#b6bdcb"/>
<circle cx="428.4" cy="349.82" r="1.7" fill="#5a95d0"/>
<circle cx="436.8" cy="349.82" r="0.55" fill="#b6bdcb"/>
<circle cx="445.2" cy="349.82" r="0.55" fill="#b6bdcb"/>
<text transform="translate(294.6,356.59) scale(0.92,1)" font-size="4.2" fill="#262626" text-anchor="end">CD3E</text>
<line x1="295.6" y1="355.14" x2="297.3" y2="355.14" stroke="#333" stroke-width="0.5"/>
<circle cx="302.1" cy="355.14" r="0.55" fill="#b6bdcb"/>
<circle cx="310.5" cy="355.14" r="0.55" fill="#b6bdcb"/>
<circle cx="318.9" cy="355.14" r="0.55" fill="#b6bdcb"/>
<circle cx="327.3" cy="355.14" r="0.55" fill="#b6bdcb"/>
<circle cx="335.7" cy="355.14" r="0.55" fill="#b6bdcb"/>
<circle cx="344.2" cy="355.14" r="0.55" fill="#b6bdcb"/>
<circle cx="352.6" cy="355.14" r="0.55" fill="#b6bdcb"/>
<circle cx="361.0" cy="355.14" r="0.85" fill="#5a95d0"/>
<circle cx="369.4" cy="355.14" r="0.55" fill="#b6bdcb"/>
<circle cx="377.8" cy="355.14" r="1.7" fill="#5a95d0"/>
<circle cx="386.2" cy="355.14" r="0.55" fill="#b6bdcb"/>
<circle cx="394.7" cy="355.14" r="0.55" fill="#b6bdcb"/>
<circle cx="403.1" cy="355.14" r="0.55" fill="#b6bdcb"/>
<circle cx="411.5" cy="355.14" r="2.05" fill="#2e83ca"/>
<circle cx="419.9" cy="355.14" r="0.55" fill="#b6bdcb"/>
<circle cx="428.4" cy="355.14" r="0.55" fill="#b6bdcb"/>
<circle cx="436.8" cy="355.14" r="1.3" fill="#5a95d0"/>
<circle cx="445.2" cy="355.14" r="2.05" fill="#2e83ca"/>
<text transform="translate(294.6,361.91) scale(0.92,1)" font-size="4.2" fill="#262626" text-anchor="end">CCL5</text>
<line x1="295.6" y1="360.46" x2="297.3" y2="360.46" stroke="#333" stroke-width="0.5"/>
<circle cx="302.1" cy="360.46" r="0.55" fill="#b6bdcb"/>
<circle cx="310.5" cy="360.46" r="0.55" fill="#b6bdcb"/>
<circle cx="318.9" cy="360.46" r="0.55" fill="#b6bdcb"/>
<circle cx="327.3" cy="360.46" r="2.05" fill="#2e83ca"/>
<circle cx="335.7" cy="360.46" r="0.55" fill="#b6bdcb"/>
<circle cx="344.2" cy="360.46" r="0.55" fill="#b6bdcb"/>
<circle cx="352.6" cy="360.46" r="0.55" fill="#b6bdcb"/>
<circle cx="361.0" cy="360.46" r="1.7" fill="#5a95d0"/>
<circle cx="369.4" cy="360.46" r="0.55" fill="#b6bdcb"/>
<circle cx="377.8" cy="360.46" r="1.7" fill="#5a95d0"/>
<circle cx="386.2" cy="360.46" r="0.55" fill="#b6bdcb"/>
<circle cx="394.7" cy="360.46" r="0.55" fill="#b6bdcb"/>
<circle cx="403.1" cy="360.46" r="0.55" fill="#b6bdcb"/>
<circle cx="411.5" cy="360.46" r="2.05" fill="#2e83ca"/>
<circle cx="419.9" cy="360.46" r="0.55" fill="#b6bdcb"/>
<circle cx="428.4" cy="360.46" r="0.55" fill="#b6bdcb"/>
<circle cx="436.8" cy="360.46" r="1.7" fill="#5a95d0"/>
<circle cx="445.2" cy="360.46" r="0.85" fill="#b6bdcb"/>
<text transform="translate(294.6,367.22) scale(0.92,1)" font-size="4.2" fill="#262626" text-anchor="end">CD3D</text>
<line x1="295.6" y1="365.77" x2="297.3" y2="365.77" stroke="#333" stroke-width="0.5"/>
<circle cx="302.1" cy="365.77" r="0.55" fill="#b6bdcb"/>
<circle cx="310.5" cy="365.77" r="0.55" fill="#b6bdcb"/>
<circle cx="318.9" cy="365.77" r="0.55" fill="#b6bdcb"/>
<circle cx="327.3" cy="365.77" r="0.55" fill="#b6bdcb"/>
<circle cx="335.7" cy="365.77" r="0.55" fill="#b6bdcb"/>
<circle cx="344.2" cy="365.77" r="0.55" fill="#b6bdcb"/>
<circle cx="352.6" cy="365.77" r="0.55" fill="#b6bdcb"/>
<circle cx="361.0" cy="365.77" r="0.85" fill="#5a95d0"/>
<circle cx="369.4" cy="365.77" r="0.55" fill="#b6bdcb"/>
<circle cx="377.8" cy="365.77" r="1.7" fill="#5a95d0"/>
<circle cx="386.2" cy="365.77" r="0.55" fill="#b6bdcb"/>
<circle cx="394.7" cy="365.77" r="0.55" fill="#b6bdcb"/>
<circle cx="403.1" cy="365.77" r="0.55" fill="#b6bdcb"/>
<circle cx="411.5" cy="365.77" r="2.05" fill="#2e83ca"/>
<circle cx="419.9" cy="365.77" r="0.55" fill="#b6bdcb"/>
<circle cx="428.4" cy="365.77" r="0.55" fill="#b6bdcb"/>
<circle cx="436.8" cy="365.77" r="0.55" fill="#b6bdcb"/>
<circle cx="445.2" cy="365.77" r="1.7" fill="#5a95d0"/>
<text transform="translate(294.6,372.54) scale(0.92,1)" font-size="4.2" fill="#262626" text-anchor="end">IL32</text>
<line x1="295.6" y1="371.09" x2="297.3" y2="371.09" stroke="#333" stroke-width="0.5"/>
<circle cx="302.1" cy="371.09" r="0.55" fill="#b6bdcb"/>
<circle cx="310.5" cy="371.09" r="0.55" fill="#b6bdcb"/>
<circle cx="318.9" cy="371.09" r="0.55" fill="#b6bdcb"/>
<circle cx="327.3" cy="371.09" r="0.55" fill="#b6bdcb"/>
<circle cx="335.7" cy="371.09" r="0.55" fill="#b6bdcb"/>
<circle cx="344.2" cy="371.09" r="0.55" fill="#b6bdcb"/>
<circle cx="352.6" cy="371.09" r="0.55" fill="#b6bdcb"/>
<circle cx="361.0" cy="371.09" r="1.3" fill="#5a95d0"/>
<circle cx="369.4" cy="371.09" r="0.55" fill="#b6bdcb"/>
<circle cx="377.8" cy="371.09" r="1.7" fill="#2e83ca"/>
<circle cx="386.2" cy="371.09" r="0.55" fill="#b6bdcb"/>
<circle cx="394.7" cy="371.09" r="0.55" fill="#b6bdcb"/>
<circle cx="403.1" cy="371.09" r="0.55" fill="#b6bdcb"/>
<circle cx="411.5" cy="371.09" r="2.05" fill="#5a95d0"/>
<circle cx="419.9" cy="371.09" r="0.55" fill="#b6bdcb"/>
<circle cx="428.4" cy="371.09" r="0.55" fill="#b6bdcb"/>
<circle cx="436.8" cy="371.09" r="1.3" fill="#5a95d0"/>
<circle cx="445.2" cy="371.09" r="1.7" fill="#5a95d0"/>
<text transform="translate(294.6,377.85) scale(0.92,1)" font-size="4.2" fill="#262626" text-anchor="end">PRRC2C</text>
<line x1="295.6" y1="376.40" x2="297.3" y2="376.40" stroke="#333" stroke-width="0.5"/>
<circle cx="302.1" cy="376.40" r="0.85" fill="#b6bdcb"/>
<circle cx="310.5" cy="376.40" r="0.85" fill="#b6bdcb"/>
<circle cx="318.9" cy="376.40" r="0.85" fill="#b6bdcb"/>
<circle cx="327.3" cy="376.40" r="0.55" fill="#b6bdcb"/>
<circle cx="335.7" cy="376.40" r="2.05" fill="#2e83ca"/>
<circle cx="344.2" cy="376.40" r="0.55" fill="#b6bdcb"/>
<circle cx="352.6" cy="376.40" r="0.55" fill="#b6bdcb"/>
<circle cx="361.0" cy="376.40" r="1.3" fill="#2e83ca"/>
<circle cx="369.4" cy="376.40" r="2.05" fill="#9cbde3"/>
<circle cx="377.8" cy="376.40" r="1.7" fill="#9cbde3"/>
<circle cx="386.2" cy="376.40" r="0.55" fill="#b6bdcb"/>
<circle cx="394.7" cy="376.40" r="0.55" fill="#b6bdcb"/>
<circle cx="403.1" cy="376.40" r="1.7" fill="#9cbde3"/>
<circle cx="411.5" cy="376.40" r="1.7" fill="#9cbde3"/>
<circle cx="419.9" cy="376.40" r="0.55" fill="#b6bdcb"/>
<circle cx="428.4" cy="376.40" r="1.3" fill="#9cbde3"/>
<circle cx="436.8" cy="376.40" r="1.7" fill="#5a95d0"/>
<circle cx="445.2" cy="376.40" r="1.7" fill="#5a95d0"/>
<text transform="translate(294.6,383.17) scale(0.92,1)" font-size="4.2" fill="#262626" text-anchor="end">SCAF11</text>
<line x1="295.6" y1="381.72" x2="297.3" y2="381.72" stroke="#333" stroke-width="0.5"/>
<circle cx="302.1" cy="381.72" r="1.3" fill="#5a95d0"/>
<circle cx="310.5" cy="381.72" r="0.85" fill="#5a95d0"/>
<circle cx="318.9" cy="381.72" r="1.3" fill="#5a95d0"/>
<circle cx="327.3" cy="381.72" r="0.55" fill="#b6bdcb"/>
<circle cx="335.7" cy="381.72" r="2.05" fill="#2e83ca"/>
<circle cx="344.2" cy="381.72" r="1.3" fill="#5a95d0"/>
<circle cx="352.6" cy="381.72" r="0.55" fill="#b6bdcb"/>
<circle cx="361.0" cy="381.72" r="0.85" fill="#5a95d0"/>
<circle cx="369.4" cy="381.72" r="2.05" fill="#9cbde3"/>
<circle cx="377.8" cy="381.72" r="1.7" fill="#9cbde3"/>
<circle cx="386.2" cy="381.72" r="0.85" fill="#5a95d0"/>
<circle cx="394.7" cy="381.72" r="0.85" fill="#b6bdcb"/>
<circle cx="403.1" cy="381.72" r="1.7" fill="#9cbde3"/>
<circle cx="411.5" cy="381.72" r="1.7" fill="#5a95d0"/>
<circle cx="419.9" cy="381.72" r="0.85" fill="#b6bdcb"/>
<circle cx="428.4" cy="381.72" r="1.7" fill="#9cbde3"/>
<circle cx="436.8" cy="381.72" r="1.7" fill="#5a95d0"/>
<circle cx="445.2" cy="381.72" r="1.7" fill="#5a95d0"/>
<text transform="translate(294.6,388.49) scale(0.92,1)" font-size="4.2" fill="#262626" text-anchor="end">PTBP3</text>
<line x1="295.6" y1="387.04" x2="297.3" y2="387.04" stroke="#333" stroke-width="0.5"/>
<circle cx="302.1" cy="387.04" r="1.3" fill="#5a95d0"/>
<circle cx="310.5" cy="387.04" r="1.3" fill="#5a95d0"/>
<circle cx="318.9" cy="387.04" r="1.3" fill="#5a95d0"/>
<circle cx="327.3" cy="387.04" r="0.85" fill="#b6bdcb"/>
<circle cx="335.7" cy="387.04" r="1.3" fill="#9cbde3"/>
<circle cx="344.2" cy="387.04" r="1.7" fill="#5a95d0"/>
<circle cx="352.6" cy="387.04" r="0.85" fill="#b6bdcb"/>
<circle cx="361.0" cy="387.04" r="0.55" fill="#b6bdcb"/>
<circle cx="369.4" cy="387.04" r="2.05" fill="#9cbde3"/>
<circle cx="377.8" cy="387.04" r="1.7" fill="#9cbde3"/>
<circle cx="386.2" cy="387.04" r="1.3" fill="#5a95d0"/>
<circle cx="394.7" cy="387.04" r="1.3" fill="#5a95d0"/>
<circle cx="403.1" cy="387.04" r="1.7" fill="#9cbde3"/>
<circle cx="411.5" cy="387.04" r="1.3" fill="#9cbde3"/>
<circle cx="419.9" cy="387.04" r="0.85" fill="#5a95d0"/>
<circle cx="428.4" cy="387.04" r="1.7" fill="#9cbde3"/>
<circle cx="436.8" cy="387.04" r="1.3" fill="#9cbde3"/>
<circle cx="445.2" cy="387.04" r="1.3" fill="#9cbde3"/>
<text transform="translate(294.6,393.80) scale(0.92,1)" font-size="4.2" fill="#262626" text-anchor="end">CMTM6</text>
<line x1="295.6" y1="392.35" x2="297.3" y2="392.35" stroke="#333" stroke-width="0.5"/>
<circle cx="302.1" cy="392.35" r="1.7" fill="#5a95d0"/>
<circle cx="310.5" cy="392.35" r="1.7" fill="#5a95d0"/>
<circle cx="318.9" cy="392.35" r="1.7" fill="#5a95d0"/>
<circle cx="327.3" cy="392.35" r="1.3" fill="#5a95d0"/>
<circle cx="335.7" cy="392.35" r="1.3" fill="#9cbde3"/>
<circle cx="344.2" cy="392.35" r="1.7" fill="#5a95d0"/>
<circle cx="352.6" cy="392.35" r="0.85" fill="#b6bdcb"/>
<circle cx="361.0" cy="392.35" r="0.55" fill="#b6bdcb"/>
<circle cx="369.4" cy="392.35" r="2.05" fill="#9cbde3"/>
<circle cx="377.8" cy="392.35" r="1.3" fill="#9cbde3"/>
<circle cx="386.2" cy="392.35" r="1.3" fill="#5a95d0"/>
<circle cx="394.7" cy="392.35" r="1.3" fill="#5a95d0"/>
<circle cx="403.1" cy="392.35" r="2.05" fill="#9cbde3"/>
<circle cx="411.5" cy="392.35" r="0.85" fill="#b6bdcb"/>
<circle cx="419.9" cy="392.35" r="0.85" fill="#5a95d0"/>
<circle cx="428.4" cy="392.35" r="2.05" fill="#9cbde3"/>
<circle cx="436.8" cy="392.35" r="0.85" fill="#b6bdcb"/>
<circle cx="445.2" cy="392.35" r="0.85" fill="#b6bdcb"/>
<text transform="translate(294.6,399.12) scale(0.92,1)" font-size="4.2" fill="#262626" text-anchor="end">TCF25</text>
<line x1="295.6" y1="397.67" x2="297.3" y2="397.67" stroke="#333" stroke-width="0.5"/>
<circle cx="302.1" cy="397.67" r="0.85" fill="#b6bdcb"/>
<circle cx="310.5" cy="397.67" r="0.85" fill="#b6bdcb"/>
<circle cx="318.9" cy="397.67" r="0.85" fill="#b6bdcb"/>
<circle cx="327.3" cy="397.67" r="0.55" fill="#b6bdcb"/>
<circle cx="335.7" cy="397.67" r="1.7" fill="#5a95d0"/>
<circle cx="344.2" cy="397.67" r="0.55" fill="#b6bdcb"/>
<circle cx="352.6" cy="397.67" r="0.55" fill="#b6bdcb"/>
<circle cx="361.0" cy="397.67" r="1.3" fill="#2e83ca"/>
<circle cx="369.4" cy="397.67" r="2.05" fill="#9cbde3"/>
<circle cx="377.8" cy="397.67" r="1.7" fill="#9cbde3"/>
<circle cx="386.2" cy="397.67" r="0.85" fill="#b6bdcb"/>
<circle cx="394.7" cy="397.67" r="0.85" fill="#b6bdcb"/>
<circle cx="403.1" cy="397.67" r="1.7" fill="#9cbde3"/>
<circle cx="411.5" cy="397.67" r="1.7" fill="#5a95d0"/>
<circle cx="419.9" cy="397.67" r="0.85" fill="#b6bdcb"/>
<circle cx="428.4" cy="397.67" r="1.7" fill="#9cbde3"/>
<circle cx="436.8" cy="397.67" r="2.05" fill="#2e83ca"/>
<circle cx="445.2" cy="397.67" r="1.7" fill="#5a95d0"/>
<text transform="translate(294.6,404.43) scale(0.92,1)" font-size="4.2" fill="#262626" text-anchor="end">RTN4</text>
<line x1="295.6" y1="402.98" x2="297.3" y2="402.98" stroke="#333" stroke-width="0.5"/>
<circle cx="302.1" cy="402.98" r="1.3" fill="#5a95d0"/>
<circle cx="310.5" cy="402.98" r="1.3" fill="#5a95d0"/>
<circle cx="318.9" cy="402.98" r="1.3" fill="#5a95d0"/>
<circle cx="327.3" cy="402.98" r="1.3" fill="#5a95d0"/>
<circle cx="335.7" cy="402.98" r="0.55" fill="#b6bdcb"/>
<circle cx="344.2" cy="402.98" r="1.3" fill="#5a95d0"/>
<circle cx="352.6" cy="402.98" r="0.55" fill="#b6bdcb"/>
<circle cx="361.0" cy="402.98" r="0.85" fill="#b6bdcb"/>
<circle cx="369.4" cy="402.98" r="2.05" fill="#9cbde3"/>
<circle cx="377.8" cy="402.98" r="1.7" fill="#9cbde3"/>
<circle cx="386.2" cy="402.98" r="1.3" fill="#5a95d0"/>
<circle cx="394.7" cy="402.98" r="1.3" fill="#5a95d0"/>
<circle cx="403.1" cy="402.98" r="2.05" fill="#5a95d0"/>
<circle cx="411.5" cy="402.98" r="1.3" fill="#9cbde3"/>
<circle cx="419.9" cy="402.98" r="0.85" fill="#5a95d0"/>
<circle cx="428.4" cy="402.98" r="1.7" fill="#5a95d0"/>
<circle cx="436.8" cy="402.98" r="1.3" fill="#9cbde3"/>
<circle cx="445.2" cy="402.98" r="0.85" fill="#b6bdcb"/>
<text transform="translate(294.6,409.75) scale(0.92,1)" font-size="4.2" fill="#262626" text-anchor="end">VCAN</text>
<line x1="295.6" y1="408.30" x2="297.3" y2="408.30" stroke="#333" stroke-width="0.5"/>
<circle cx="302.1" cy="408.30" r="0.55" fill="#b6bdcb"/>
<circle cx="310.5" cy="408.30" r="0.55" fill="#b6bdcb"/>
<circle cx="318.9" cy="408.30" r="0.55" fill="#b6bdcb"/>
<circle cx="327.3" cy="408.30" r="0.55" fill="#b6bdcb"/>
<circle cx="335.7" cy="408.30" r="0.55" fill="#b6bdcb"/>
<circle cx="344.2" cy="408.30" r="0.55" fill="#b6bdcb"/>
<circle cx="352.6" cy="408.30" r="0.55" fill="#b6bdcb"/>
<circle cx="361.0" cy="408.30" r="0.55" fill="#b6bdcb"/>
<circle cx="369.4" cy="408.30" r="1.3" fill="#9cbde3"/>
<circle cx="377.8" cy="408.30" r="0.55" fill="#b6bdcb"/>
<circle cx="386.2" cy="408.30" r="0.55" fill="#b6bdcb"/>
<circle cx="394.7" cy="408.30" r="0.55" fill="#b6bdcb"/>
<circle cx="403.1" cy="408.30" r="2.05" fill="#2e83ca"/>
<circle cx="411.5" cy="408.30" r="0.55" fill="#b6bdcb"/>
<circle cx="419.9" cy="408.30" r="0.55" fill="#b6bdcb"/>
<circle cx="428.4" cy="408.30" r="2.05" fill="#2e83ca"/>
<circle cx="436.8" cy="408.30" r="0.55" fill="#b6bdcb"/>
<circle cx="445.2" cy="408.30" r="0.55" fill="#b6bdcb"/>
<text transform="translate(294.6,415.07) scale(0.92,1)" font-size="4.2" fill="#262626" text-anchor="end">LYZ</text>
<line x1="295.6" y1="413.62" x2="297.3" y2="413.62" stroke="#333" stroke-width="0.5"/>
<circle cx="302.1" cy="413.62" r="1.3" fill="#9cbde3"/>
<circle cx="310.5" cy="413.62" r="1.7" fill="#9cbde3"/>
<circle cx="318.9" cy="413.62" r="1.3" fill="#9cbde3"/>
<circle cx="327.3" cy="413.62" r="0.55" fill="#b6bdcb"/>
<circle cx="335.7" cy="413.62" r="0.55" fill="#b6bdcb"/>
<circle cx="344.2" cy="413.62" r="2.35" fill="#5a95d0"/>
<circle cx="352.6" cy="413.62" r="0.55" fill="#b6bdcb"/>
<circle cx="361.0" cy="413.62" r="0.85" fill="#b6bdcb"/>
<circle cx="369.4" cy="413.62" r="2.05" fill="#9cbde3"/>
<circle cx="377.8" cy="413.62" r="0.55" fill="#b6bdcb"/>
<circle cx="386.2" cy="413.62" r="1.3" fill="#9cbde3"/>
<circle cx="394.7" cy="413.62" r="1.7" fill="#9cbde3"/>
<circle cx="403.1" cy="413.62" r="2.05" fill="#2e83ca"/>
<circle cx="411.5" cy="413.62" r="0.55" fill="#b6bdcb"/>
<circle cx="419.9" cy="413.62" r="0.55" fill="#b6bdcb"/>
<circle cx="428.4" cy="413.62" r="2.05" fill="#2e83ca"/>
<circle cx="436.8" cy="413.62" r="0.55" fill="#b6bdcb"/>
<circle cx="445.2" cy="413.62" r="0.55" fill="#b6bdcb"/>
<text transform="translate(294.6,420.38) scale(0.92,1)" font-size="4.2" fill="#262626" text-anchor="end">CD36</text>
<line x1="295.6" y1="418.93" x2="297.3" y2="418.93" stroke="#333" stroke-width="0.5"/>
<circle cx="302.1" cy="418.93" r="0.55" fill="#b6bdcb"/>
<circle cx="310.5" cy="418.93" r="0.55" fill="#b6bdcb"/>
<circle cx="318.9" cy="418.93" r="0.55" fill="#b6bdcb"/>
<circle cx="327.3" cy="418.93" r="0.85" fill="#b6bdcb"/>
<circle cx="335.7" cy="418.93" r="0.55" fill="#b6bdcb"/>
<circle cx="344.2" cy="418.93" r="0.55" fill="#b6bdcb"/>
<circle cx="352.6" cy="418.93" r="0.55" fill="#b6bdcb"/>
<circle cx="361.0" cy="418.93" r="0.55" fill="#b6bdcb"/>
<circle cx="369.4" cy="418.93" r="0.85" fill="#b6bdcb"/>
<circle cx="377.8" cy="418.93" r="0.55" fill="#b6bdcb"/>
<circle cx="386.2" cy="418.93" r="0.55" fill="#b6bdcb"/>
<circle cx="394.7" cy="418.93" r="0.55" fill="#b6bdcb"/>
<circle cx="403.1" cy="418.93" r="2.05" fill="#2e83ca"/>
<circle cx="411.5" cy="418.93" r="0.55" fill="#b6bdcb"/>
<circle cx="419.9" cy="418.93" r="0.55" fill="#b6bdcb"/>
<circle cx="428.4" cy="418.93" r="2.05" fill="#2e83ca"/>
<circle cx="436.8" cy="418.93" r="0.55" fill="#b6bdcb"/>
<circle cx="445.2" cy="418.93" r="0.55" fill="#b6bdcb"/>
<text transform="translate(294.6,425.70) scale(0.92,1)" font-size="4.2" fill="#262626" text-anchor="end">CTSW</text>
<line x1="295.6" y1="424.25" x2="297.3" y2="424.25" stroke="#333" stroke-width="0.5"/>
<circle cx="302.1" cy="424.25" r="0.55" fill="#b6bdcb"/>
<circle cx="310.5" cy="424.25" r="0.55" fill="#b6bdcb"/>
<circle cx="318.9" cy="424.25" r="0.55" fill="#b6bdcb"/>
<circle cx="327.3" cy="424.25" r="0.55" fill="#b6bdcb"/>
<circle cx="335.7" cy="424.25" r="0.55" fill="#b6bdcb"/>
<circle cx="344.2" cy="424.25" r="0.55" fill="#b6bdcb"/>
<circle cx="352.6" cy="424.25" r="0.55" fill="#b6bdcb"/>
<circle cx="361.0" cy="424.25" r="1.3" fill="#2e83ca"/>
<circle cx="369.4" cy="424.25" r="0.55" fill="#b6bdcb"/>
<circle cx="377.8" cy="424.25" r="1.7" fill="#5a95d0"/>
<circle cx="386.2" cy="424.25" r="0.55" fill="#b6bdcb"/>
<circle cx="394.7" cy="424.25" r="0.55" fill="#b6bdcb"/>
<circle cx="403.1" cy="424.25" r="0.55" fill="#b6bdcb"/>
<circle cx="411.5" cy="424.25" r="2.05" fill="#5a95d0"/>
<circle cx="419.9" cy="424.25" r="0.55" fill="#b6bdcb"/>
<circle cx="428.4" cy="424.25" r="0.55" fill="#b6bdcb"/>
<circle cx="436.8" cy="424.25" r="2.05" fill="#2e83ca"/>
<circle cx="445.2" cy="424.25" r="1.3" fill="#9cbde3"/>
<text transform="translate(294.6,431.01) scale(0.92,1)" font-size="4.2" fill="#262626" text-anchor="end">FGFBP2</text>
<line x1="295.6" y1="429.56" x2="297.3" y2="429.56" stroke="#333" stroke-width="0.5"/>
<circle cx="302.1" cy="429.56" r="0.55" fill="#b6bdcb"/>
<circle cx="310.5" cy="429.56" r="0.55" fill="#b6bdcb"/>
<circle cx="318.9" cy="429.56" r="0.55" fill="#b6bdcb"/>
<circle cx="327.3" cy="429.56" r="0.55" fill="#b6bdcb"/>
<circle cx="335.7" cy="429.56" r="0.55" fill="#b6bdcb"/>
<circle cx="344.2" cy="429.56" r="0.55" fill="#b6bdcb"/>
<circle cx="352.6" cy="429.56" r="0.55" fill="#b6bdcb"/>
<circle cx="361.0" cy="429.56" r="1.3" fill="#2e83ca"/>
<circle cx="369.4" cy="429.56" r="0.55" fill="#b6bdcb"/>
<circle cx="377.8" cy="429.56" r="1.7" fill="#2e83ca"/>
<circle cx="386.2" cy="429.56" r="0.55" fill="#b6bdcb"/>
<circle cx="394.7" cy="429.56" r="0.55" fill="#b6bdcb"/>
<circle cx="403.1" cy="429.56" r="0.55" fill="#b6bdcb"/>
<circle cx="411.5" cy="429.56" r="1.7" fill="#5a95d0"/>
<circle cx="419.9" cy="429.56" r="0.55" fill="#b6bdcb"/>
<circle cx="428.4" cy="429.56" r="0.55" fill="#b6bdcb"/>
<circle cx="436.8" cy="429.56" r="2.05" fill="#2e83ca"/>
<circle cx="445.2" cy="429.56" r="1.7" fill="#5a95d0"/>
<text transform="translate(294.6,436.33) scale(0.92,1)" font-size="4.2" fill="#262626" text-anchor="end">KLRD1</text>
<line x1="295.6" y1="434.88" x2="297.3" y2="434.88" stroke="#333" stroke-width="0.5"/>
<circle cx="302.1" cy="434.88" r="0.55" fill="#b6bdcb"/>
<circle cx="310.5" cy="434.88" r="0.55" fill="#b6bdcb"/>
<circle cx="318.9" cy="434.88" r="0.55" fill="#b6bdcb"/>
<circle cx="327.3" cy="434.88" r="0.55" fill="#b6bdcb"/>
<circle cx="335.7" cy="434.88" r="0.55" fill="#b6bdcb"/>
<circle cx="344.2" cy="434.88" r="0.55" fill="#b6bdcb"/>
<circle cx="352.6" cy="434.88" r="0.55" fill="#b6bdcb"/>
<circle cx="361.0" cy="434.88" r="1.3" fill="#2e83ca"/>
<circle cx="369.4" cy="434.88" r="0.55" fill="#b6bdcb"/>
<circle cx="377.8" cy="434.88" r="1.7" fill="#5a95d0"/>
<circle cx="386.2" cy="434.88" r="0.55" fill="#b6bdcb"/>
<circle cx="394.7" cy="434.88" r="0.55" fill="#b6bdcb"/>
<circle cx="403.1" cy="434.88" r="0.55" fill="#b6bdcb"/>
<circle cx="411.5" cy="434.88" r="1.7" fill="#5a95d0"/>
<circle cx="419.9" cy="434.88" r="0.55" fill="#b6bdcb"/>
<circle cx="428.4" cy="434.88" r="0.55" fill="#b6bdcb"/>
<circle cx="436.8" cy="434.88" r="2.05" fill="#2e83ca"/>
<circle cx="445.2" cy="434.88" r="0.55" fill="#b6bdcb"/>
<text transform="translate(294.6,441.65) scale(0.92,1)" font-size="4.2" fill="#262626" text-anchor="end">IL7R</text>
<line x1="295.6" y1="440.20" x2="297.3" y2="440.20" stroke="#333" stroke-width="0.5"/>
<circle cx="302.1" cy="440.20" r="0.55" fill="#b6bdcb"/>
<circle cx="310.5" cy="440.20" r="0.55" fill="#b6bdcb"/>
<circle cx="318.9" cy="440.20" r="0.55" fill="#b6bdcb"/>
<circle cx="327.3" cy="440.20" r="0.55" fill="#b6bdcb"/>
<circle cx="335.7" cy="440.20" r="0.55" fill="#b6bdcb"/>
<circle cx="344.2" cy="440.20" r="0.55" fill="#b6bdcb"/>
<circle cx="352.6" cy="440.20" r="0.55" fill="#b6bdcb"/>
<circle cx="361.0" cy="440.20" r="0.85" fill="#5a95d0"/>
<circle cx="369.4" cy="440.20" r="0.55" fill="#b6bdcb"/>
<circle cx="377.8" cy="440.20" r="1.3" fill="#5a95d0"/>
<circle cx="386.2" cy="440.20" r="0.55" fill="#b6bdcb"/>
<circle cx="394.7" cy="440.20" r="0.55" fill="#b6bdcb"/>
<circle cx="403.1" cy="440.20" r="0.55" fill="#b6bdcb"/>
<circle cx="411.5" cy="440.20" r="1.3" fill="#5a95d0"/>
<circle cx="419.9" cy="440.20" r="0.55" fill="#b6bdcb"/>
<circle cx="428.4" cy="440.20" r="0.55" fill="#b6bdcb"/>
<circle cx="436.8" cy="440.20" r="0.55" fill="#b6bdcb"/>
<circle cx="445.2" cy="440.20" r="2.05" fill="#2e83ca"/>
<text transform="translate(294.6,446.96) scale(0.92,1)" font-size="4.2" fill="#262626" text-anchor="end">LDHB</text>
<line x1="295.6" y1="445.51" x2="297.3" y2="445.51" stroke="#333" stroke-width="0.5"/>
<circle cx="302.1" cy="445.51" r="0.55" fill="#b6bdcb"/>
<circle cx="310.5" cy="445.51" r="0.55" fill="#b6bdcb"/>
<circle cx="318.9" cy="445.51" r="0.55" fill="#b6bdcb"/>
<circle cx="327.3" cy="445.51" r="0.55" fill="#b6bdcb"/>
<circle cx="335.7" cy="445.51" r="1.3" fill="#9cbde3"/>
<circle cx="344.2" cy="445.51" r="0.55" fill="#b6bdcb"/>
<circle cx="352.6" cy="445.51" r="0.55" fill="#b6bdcb"/>
<circle cx="361.0" cy="445.51" r="0.85" fill="#5a95d0"/>
<circle cx="369.4" cy="445.51" r="0.85" fill="#9cbde3"/>
<circle cx="377.8" cy="445.51" r="2.05" fill="#2e83ca"/>
<circle cx="386.2" cy="445.51" r="0.55" fill="#b6bdcb"/>
<circle cx="394.7" cy="445.51" r="0.55" fill="#b6bdcb"/>
<circle cx="403.1" cy="445.51" r="1.7" fill="#9cbde3"/>
<circle cx="411.5" cy="445.51" r="1.7" fill="#5a95d0"/>
<circle cx="419.9" cy="445.51" r="0.55" fill="#b6bdcb"/>
<circle cx="428.4" cy="445.51" r="0.85" fill="#b6bdcb"/>
<circle cx="436.8" cy="445.51" r="1.3" fill="#5a95d0"/>
<circle cx="445.2" cy="445.51" r="2.05" fill="#2e83ca"/>
<text transform="translate(294.6,452.28) scale(0.92,1)" font-size="4.2" fill="#262626" text-anchor="end">EIF3E</text>
<line x1="295.6" y1="450.83" x2="297.3" y2="450.83" stroke="#333" stroke-width="0.5"/>
<circle cx="302.1" cy="450.83" r="0.55" fill="#b6bdcb"/>
<circle cx="310.5" cy="450.83" r="0.55" fill="#b6bdcb"/>
<circle cx="318.9" cy="450.83" r="0.55" fill="#b6bdcb"/>
<circle cx="327.3" cy="450.83" r="0.55" fill="#b6bdcb"/>
<circle cx="335.7" cy="450.83" r="2.05" fill="#2e83ca"/>
<circle cx="344.2" cy="450.83" r="0.85" fill="#b6bdcb"/>
<circle cx="352.6" cy="450.83" r="0.55" fill="#b6bdcb"/>
<circle cx="361.0" cy="450.83" r="0.85" fill="#b6bdcb"/>
<circle cx="369.4" cy="450.83" r="2.05" fill="#9cbde3"/>
<circle cx="377.8" cy="450.83" r="2.05" fill="#5a95d0"/>
<circle cx="386.2" cy="450.83" r="0.55" fill="#b6bdcb"/>
<circle cx="394.7" cy="450.83" r="0.55" fill="#b6bdcb"/>
<circle cx="403.1" cy="450.83" r="2.05" fill="#9cbde3"/>
<circle cx="411.5" cy="450.83" r="2.05" fill="#5a95d0"/>
<circle cx="419.9" cy="450.83" r="0.55" fill="#b6bdcb"/>
<circle cx="428.4" cy="450.83" r="1.7" fill="#9cbde3"/>
<circle cx="436.8" cy="450.83" r="1.7" fill="#9cbde3"/>
<circle cx="445.2" cy="450.83" r="2.05" fill="#2e83ca"/>
<text transform="translate(294.6,457.59) scale(0.92,1)" font-size="4.2" fill="#262626" text-anchor="end">EEF1A1</text>
<line x1="295.6" y1="456.14" x2="297.3" y2="456.14" stroke="#333" stroke-width="0.5"/>
<circle cx="302.1" cy="456.14" r="1.3" fill="#9cbde3"/>
<circle cx="310.5" cy="456.14" r="1.3" fill="#9cbde3"/>
<circle cx="318.9" cy="456.14" r="1.3" fill="#9cbde3"/>
<circle cx="327.3" cy="456.14" r="0.85" fill="#b6bdcb"/>
<circle cx="335.7" cy="456.14" r="2.35" fill="#2e83ca"/>
<circle cx="344.2" cy="456.14" r="2.05" fill="#9cbde3"/>
<circle cx="352.6" cy="456.14" r="0.85" fill="#b6bdcb"/>
<circle cx="361.0" cy="456.14" r="2.05" fill="#9cbde3"/>
<circle cx="369.4" cy="456.14" r="2.05" fill="#9cbde3"/>
<circle cx="377.8" cy="456.14" r="2.05" fill="#9cbde3"/>
<circle cx="386.2" cy="456.14" r="0.85" fill="#b6bdcb"/>
<circle cx="394.7" cy="456.14" r="1.3" fill="#9cbde3"/>
<circle cx="403.1" cy="456.14" r="2.05" fill="#9cbde3"/>
<circle cx="411.5" cy="456.14" r="2.05" fill="#5a95d0"/>
<circle cx="419.9" cy="456.14" r="0.55" fill="#b6bdcb"/>
<circle cx="428.4" cy="456.14" r="2.05" fill="#9cbde3"/>
<circle cx="436.8" cy="456.14" r="2.05" fill="#9cbde3"/>
<circle cx="445.2" cy="456.14" r="2.05" fill="#2e83ca"/>
<text transform="translate(294.6,462.91) scale(0.92,1)" font-size="4.2" fill="#262626" text-anchor="end">BCL11B</text>
<line x1="295.6" y1="461.46" x2="297.3" y2="461.46" stroke="#333" stroke-width="0.5"/>
<circle cx="302.1" cy="461.46" r="0.55" fill="#b6bdcb"/>
<circle cx="310.5" cy="461.46" r="0.55" fill="#b6bdcb"/>
<circle cx="318.9" cy="461.46" r="0.55" fill="#b6bdcb"/>
<circle cx="327.3" cy="461.46" r="0.55" fill="#b6bdcb"/>
<circle cx="335.7" cy="461.46" r="0.85" fill="#b6bdcb"/>
<circle cx="344.2" cy="461.46" r="0.55" fill="#b6bdcb"/>
<circle cx="352.6" cy="461.46" r="0.55" fill="#b6bdcb"/>
<circle cx="361.0" cy="461.46" r="0.85" fill="#2e83ca"/>
<circle cx="369.4" cy="461.46" r="0.55" fill="#b6bdcb"/>
<circle cx="377.8" cy="461.46" r="1.7" fill="#5a95d0"/>
<circle cx="386.2" cy="461.46" r="0.55" fill="#b6bdcb"/>
<circle cx="394.7" cy="461.46" r="0.55" fill="#b6bdcb"/>
<circle cx="403.1" cy="461.46" r="0.55" fill="#b6bdcb"/>
<circle cx="411.5" cy="461.46" r="1.7" fill="#5a95d0"/>
<circle cx="419.9" cy="461.46" r="0.55" fill="#b6bdcb"/>
<circle cx="428.4" cy="461.46" r="0.55" fill="#b6bdcb"/>
<circle cx="436.8" cy="461.46" r="0.55" fill="#b6bdcb"/>
<circle cx="445.2" cy="461.46" r="1.7" fill="#2e83ca"/>
<line x1="297.3" y1="6" x2="297.3" y2="464.3" stroke="#333" stroke-width="0.9"/>
<line x1="297.3" y1="464.3" x2="450.4" y2="464.3" stroke="#333" stroke-width="0.9"/>
<line x1="302.1" y1="464.3" x2="302.1" y2="465.8" stroke="#333" stroke-width="0.5"/>
<text x="302.1" y="469.3" font-size="3.9" fill="#444" text-anchor="middle">0</text>
<line x1="310.5" y1="464.3" x2="310.5" y2="465.8" stroke="#333" stroke-width="0.5"/>
<text x="310.5" y="469.3" font-size="3.9" fill="#444" text-anchor="middle">1</text>
<line x1="318.9" y1="464.3" x2="318.9" y2="465.8" stroke="#333" stroke-width="0.5"/>
<text x="318.9" y="469.3" font-size="3.9" fill="#444" text-anchor="middle">2</text>
<line x1="327.3" y1="464.3" x2="327.3" y2="465.8" stroke="#333" stroke-width="0.5"/>
<text x="327.3" y="469.3" font-size="3.9" fill="#444" text-anchor="middle">3</text>
<line x1="335.7" y1="464.3" x2="335.7" y2="465.8" stroke="#333" stroke-width="0.5"/>
<text x="335.7" y="469.3" font-size="3.9" fill="#444" text-anchor="middle">4</text>
<line x1="344.2" y1="464.3" x2="344.2" y2="465.8" stroke="#333" stroke-width="0.5"/>
<text x="344.2" y="469.3" font-size="3.9" fill="#444" text-anchor="middle">5</text>
<line x1="352.6" y1="464.3" x2="352.6" y2="465.8" stroke="#333" stroke-width="0.5"/>
<text x="352.6" y="469.3" font-size="3.9" fill="#444" text-anchor="middle">6</text>
<line x1="361.0" y1="464.3" x2="361.0" y2="465.8" stroke="#333" stroke-width="0.5"/>
<text x="361.0" y="469.3" font-size="3.9" fill="#444" text-anchor="middle">7</text>
<line x1="369.4" y1="464.3" x2="369.4" y2="465.8" stroke="#333" stroke-width="0.5"/>
<text x="369.4" y="469.3" font-size="3.9" fill="#444" text-anchor="middle">8</text>
<line x1="377.8" y1="464.3" x2="377.8" y2="465.8" stroke="#333" stroke-width="0.5"/>
<text x="377.8" y="469.3" font-size="3.9" fill="#444" text-anchor="middle">9</text>
<line x1="386.2" y1="464.3" x2="386.2" y2="465.8" stroke="#333" stroke-width="0.5"/>
<text x="386.2" y="469.3" font-size="3.9" fill="#444" text-anchor="middle">10</text>
<line x1="394.7" y1="464.3" x2="394.7" y2="465.8" stroke="#333" stroke-width="0.5"/>
<text x="394.7" y="469.3" font-size="3.9" fill="#444" text-anchor="middle">11</text>
<line x1="403.1" y1="464.3" x2="403.1" y2="465.8" stroke="#333" stroke-width="0.5"/>
<text x="403.1" y="469.3" font-size="3.9" fill="#444" text-anchor="middle">12</text>
<line x1="411.5" y1="464.3" x2="411.5" y2="465.8" stroke="#333" stroke-width="0.5"/>
<text x="411.5" y="469.3" font-size="3.9" fill="#444" text-anchor="middle">13</text>
<line x1="419.9" y1="464.3" x2="419.9" y2="465.8" stroke="#333" stroke-width="0.5"/>
<text x="419.9" y="469.3" font-size="3.9" fill="#444" text-anchor="middle">14</text>
<line x1="428.4" y1="464.3" x2="428.4" y2="465.8" stroke="#333" stroke-width="0.5"/>
<text x="428.4" y="469.3" font-size="3.9" fill="#444" text-anchor="middle">15</text>
<line x1="436.8" y1="464.3" x2="436.8" y2="465.8" stroke="#333" stroke-width="0.5"/>
<text x="436.8" y="469.3" font-size="3.9" fill="#444" text-anchor="middle">16</text>
<line x1="445.2" y1="464.3" x2="445.2" y2="465.8" stroke="#333" stroke-width="0.5"/>
<text x="445.2" y="469.3" font-size="3.9" fill="#444" text-anchor="middle">17</text>
<text x="379.5" y="477" font-size="6.5" fill="#222" text-anchor="middle">Identity</text>
<defs><linearGradient id="cg" x1="0" y1="0" x2="0" y2="1"><stop offset="0" stop-color="#3a84c6"/><stop offset="0.5" stop-color="#8ab3dc"/><stop offset="1" stop-color="#eef2f9"/></linearGradient></defs>
<text x="454.5" y="205" font-size="4.4" font-style="italic" fill="#333">Average</text>
<rect x="454.5" y="207.2" width="5.2" height="25.8" fill="url(#cg)"/>
<text x="461.5" y="211.8" font-size="3.7" fill="#444">2</text>
<text x="461.5" y="217.20000000000002" font-size="3.7" fill="#444">1</text>
<text x="461.5" y="223.0" font-size="3.7" fill="#444">0</text>
<text x="461.5" y="228.5" font-size="3.7" fill="#444">−1</text>
<text x="461.5" y="233.9" font-size="3.7" fill="#444">−2</text>
<circle cx="456.7" cy="245" r="0.45" fill="#111"/>
<text x="462.3" y="246.3" font-size="3.7" fill="#444">0</text>
<circle cx="456.7" cy="250" r="0.75" fill="#111"/>
<text x="462.3" y="251.3" font-size="3.7" fill="#444">25</text>
<circle cx="456.7" cy="254.7" r="1.1" fill="#111"/>
<text x="462.3" y="256.0" font-size="3.7" fill="#444">50</text>
<circle cx="456.7" cy="259.3" r="1.45" fill="#111"/>
<text x="462.3" y="260.6" font-size="3.7" fill="#444">75</text>
<circle cx="456.7" cy="264.7" r="1.9" fill="#111"/>
<text x="462.3" y="266.0" font-size="3.7" fill="#444">100</text>
</g>
<g id="C">
<defs><linearGradient id="bg" gradientUnits="userSpaceOnUse" x1="110" y1="280" x2="185" y2="320"><stop offset="0" stop-color="#1b79cc"/><stop offset="0.45" stop-color="#1a6fc4"/><stop offset="1" stop-color="#1b66bd"/></linearGradient></defs>
<path d="M106.6,283.3 C107.0,281.6 109.4,280.2 110.8,279.1 C112.2,278.1 113.4,277.6 115.0,277.0 C116.6,276.4 118.5,276.1 120.3,275.4 C122.1,274.7 124.4,273.3 126.0,273.0 C127.6,272.7 128.3,273.4 129.8,273.8 C131.3,274.2 133.3,274.8 135.1,275.4 C136.9,276.0 138.6,276.6 140.4,277.5 C142.2,278.4 143.9,279.6 145.8,280.6 C147.7,281.6 149.7,282.5 151.6,283.5 C153.5,284.5 155.5,285.4 157.4,286.4 C159.3,287.4 161.3,288.3 163.2,289.3 C165.1,290.3 167.3,291.1 169.0,292.2 C170.7,293.2 172.2,294.5 173.6,295.6 C174.9,296.8 176.0,297.7 177.1,299.1 C178.2,300.5 179.1,302.1 180.0,303.8 C180.9,305.6 181.7,307.4 182.3,309.6 C182.9,311.8 183.1,315.2 183.5,317.0 C183.9,318.8 184.4,318.8 185.0,320.5 C185.6,322.2 186.4,325.4 186.9,327.5 C187.4,329.6 188.6,332.0 188.2,333.0 C187.8,334.0 185.1,334.8 184.2,333.5 C183.2,332.2 183.2,327.4 182.5,325.0 C181.8,322.6 181.0,320.7 180.0,318.8 C179.0,316.9 177.3,315.1 176.3,313.8 C175.3,312.6 174.9,311.8 173.8,311.3 C172.8,310.8 171.5,310.6 170.0,310.6 C168.5,310.6 166.7,311.4 165.0,311.3 C163.3,311.2 161.7,310.2 160.0,310.0 C158.3,309.8 156.7,309.9 155.0,309.8 C153.3,309.7 151.7,309.5 150.0,309.2 C148.3,308.9 146.6,308.6 145.0,308.2 C143.4,307.8 142.1,307.1 140.5,306.7 C138.9,306.3 137.0,306.1 135.2,305.7 C133.4,305.3 131.7,304.7 129.9,304.1 C128.1,303.5 126.3,302.7 124.6,302.0 C122.8,301.3 121.2,300.8 119.4,299.9 C117.6,299.0 115.8,297.6 114.0,296.7 C112.2,295.8 109.8,295.8 108.8,294.6 C107.8,293.4 108.7,291.2 108.3,289.3 C107.9,287.4 106.2,285.0 106.6,283.3Z" fill="url(#bg)" />
<circle cx="177.9" cy="315.9" r="0.38" fill="#1979ca"/><circle cx="110.7" cy="296.1" r="0.38" fill="#1979ca"/><circle cx="111.2" cy="279.9" r="0.38" fill="#1979ca"/><circle cx="174.1" cy="310.3" r="0.38" fill="#1979ca"/><circle cx="185.0" cy="322.7" r="0.38" fill="#1979ca"/><circle cx="181.3" cy="324.1" r="0.38" fill="#1979ca"/><circle cx="164.0" cy="289.8" r="0.38" fill="#1979ca"/><circle cx="139.7" cy="276.1" r="0.38" fill="#1979ca"/><circle cx="177.1" cy="315.0" r="0.38" fill="#1979ca"/><circle cx="123.8" cy="301.3" r="0.38" fill="#1979ca"/><circle cx="108.6" cy="286.6" r="0.38" fill="#1979ca"/><circle cx="108.6" cy="292.1" r="0.38" fill="#1979ca"/><circle cx="149.0" cy="282.1" r="0.38" fill="#1979ca"/><circle cx="109.4" cy="290.1" r="0.38" fill="#1979ca"/><circle cx="176.8" cy="299.1" r="0.38" fill="#1979ca"/><circle cx="118.4" cy="276.1" r="0.38" fill="#1979ca"/><circle cx="107.6" cy="282.4" r="0.38" fill="#1979ca"/><circle cx="169.9" cy="292.2" r="0.38" fill="#1979ca"/><circle cx="170.1" cy="293.5" r="0.38" fill="#1979ca"/><circle cx="118.2" cy="275.2" r="0.38" fill="#1979ca"/><circle cx="151.6" cy="308.1" r="0.38" fill="#1979ca"/><circle cx="142.2" cy="307.5" r="0.38" fill="#1979ca"/><circle cx="107.0" cy="281.1" r="0.38" fill="#1979ca"/><circle cx="107.9" cy="293.7" r="0.38" fill="#1979ca"/><circle cx="113.8" cy="295.8" r="0.38" fill="#1979ca"/><circle cx="176.8" cy="299.4" r="0.38" fill="#1979ca"/><circle cx="128.5" cy="274.1" r="0.38" fill="#1979ca"/><circle cx="125.8" cy="304.0" r="0.38" fill="#1979ca"/><circle cx="123.9" cy="274.0" r="0.38" fill="#1979ca"/><circle cx="114.7" cy="298.4" r="0.38" fill="#1979ca"/><circle cx="183.3" cy="330.7" r="0.38" fill="#1979ca"/><circle cx="141.5" cy="277.9" r="0.38" fill="#1979ca"/><circle cx="165.4" cy="310.3" r="0.38" fill="#1979ca"/><circle cx="116.4" cy="277.0" r="0.38" fill="#1979ca"/><circle cx="181.4" cy="309.2" r="0.38" fill="#1979ca"/><circle cx="134.0" cy="305.2" r="0.38" fill="#1979ca"/><circle cx="117.8" cy="275.3" r="0.38" fill="#1979ca"/><circle cx="187.8" cy="327.1" r="0.38" fill="#1979ca"/><circle cx="155.9" cy="310.1" r="0.38" fill="#1979ca"/><circle cx="141.5" cy="307.2" r="0.38" fill="#1979ca"/><circle cx="137.6" cy="275.6" r="0.38" fill="#1979ca"/><circle cx="185.7" cy="320.1" r="0.38" fill="#1979ca"/><circle cx="108.0" cy="288.5" r="0.38" fill="#1979ca"/><circle cx="155.3" cy="309.3" r="0.38" fill="#1979ca"/><circle cx="181.0" cy="308.2" r="0.38" fill="#1979ca"/><circle cx="108.4" cy="286.1" r="0.38" fill="#1979ca"/><circle cx="186.9" cy="328.2" r="0.38" fill="#1979ca"/><circle cx="162.2" cy="289.3" r="0.38" fill="#1979ca"/><circle cx="178.3" cy="300.6" r="0.38" fill="#1979ca"/><circle cx="163.5" cy="311.4" r="0.38" fill="#1979ca"/><circle cx="178.4" cy="299.8" r="0.38" fill="#1979ca"/><circle cx="187.2" cy="326.7" r="0.38" fill="#1979ca"/><circle cx="166.9" cy="291.0" r="0.38" fill="#1979ca"/><circle cx="180.7" cy="323.5" r="0.38" fill="#1979ca"/><circle cx="157.6" cy="286.2" r="0.38" fill="#1979ca"/><circle cx="136.5" cy="306.6" r="0.38" fill="#1979ca"/><circle cx="176.0" cy="298.2" r="0.38" fill="#1979ca"/><circle cx="133.3" cy="306.1" r="0.38" fill="#1979ca"/><circle cx="125.3" cy="303.2" r="0.38" fill="#1979ca"/><circle cx="108.7" cy="292.9" r="0.38" fill="#1979ca"/><circle cx="141.1" cy="278.5" r="0.38" fill="#1979ca"/><circle cx="186.5" cy="324.9" r="0.38" fill="#1979ca"/><circle cx="154.3" cy="310.5" r="0.38" fill="#1979ca"/><circle cx="182.2" cy="323.2" r="0.38" fill="#1979ca"/><circle cx="177.9" cy="315.3" r="0.38" fill="#1979ca"/><circle cx="156.2" cy="309.1" r="0.38" fill="#1979ca"/><circle cx="183.8" cy="316.0" r="0.38" fill="#1979ca"/><circle cx="165.3" cy="310.2" r="0.38" fill="#1979ca"/><circle cx="185.1" cy="322.1" r="0.38" fill="#1979ca"/><circle cx="133.0" cy="274.1" r="0.38" fill="#1979ca"/><circle cx="144.5" cy="280.4" r="0.38" fill="#1979ca"/><circle cx="180.1" cy="303.8" r="0.38" fill="#1979ca"/><circle cx="155.6" cy="283.8" r="0.38" fill="#1979ca"/><circle cx="181.5" cy="308.6" r="0.38" fill="#1979ca"/><circle cx="130.3" cy="273.4" r="0.38" fill="#1979ca"/><circle cx="113.0" cy="277.2" r="0.38" fill="#1979ca"/><circle cx="183.3" cy="331.3" r="0.38" fill="#1979ca"/><circle cx="109.4" cy="292.2" r="0.38" fill="#1979ca"/><circle cx="137.3" cy="305.7" r="0.38" fill="#1979ca"/><circle cx="135.5" cy="275.6" r="0.38" fill="#1979ca"/><circle cx="109.7" cy="292.9" r="0.38" fill="#1979ca"/><circle cx="177.1" cy="297.0" r="0.38" fill="#1979ca"/><circle cx="128.0" cy="273.7" r="0.38" fill="#1979ca"/><circle cx="135.3" cy="276.3" r="0.38" fill="#1979ca"/><circle cx="179.2" cy="302.1" r="0.38" fill="#1979ca"/><circle cx="166.5" cy="290.1" r="0.38" fill="#1979ca"/><circle cx="109.5" cy="292.0" r="0.38" fill="#1979ca"/><circle cx="160.2" cy="287.2" r="0.38" fill="#1979ca"/><circle cx="182.1" cy="312.2" r="0.38" fill="#1979ca"/><circle cx="186.4" cy="327.5" r="0.38" fill="#1979ca"/><circle cx="131.2" cy="274.0" r="0.38" fill="#1979ca"/><circle cx="166.4" cy="291.3" r="0.38" fill="#1979ca"/><circle cx="108.8" cy="280.7" r="0.38" fill="#1979ca"/><circle cx="112.3" cy="295.1" r="0.38" fill="#1979ca"/><circle cx="159.8" cy="289.2" r="0.38" fill="#1979ca"/><circle cx="166.0" cy="290.5" r="0.38" fill="#1979ca"/><circle cx="174.2" cy="312.1" r="0.38" fill="#1979ca"/><circle cx="130.8" cy="273.4" r="0.38" fill="#1979ca"/><circle cx="184.0" cy="333.0" r="0.38" fill="#1979ca"/><circle cx="185.2" cy="333.0" r="0.38" fill="#1979ca"/><circle cx="152.1" cy="308.3" r="0.38" fill="#1979ca"/><circle cx="157.4" cy="287.5" r="0.38" fill="#1979ca"/><circle cx="121.2" cy="299.4" r="0.38" fill="#1979ca"/><circle cx="144.3" cy="308.2" r="0.38" fill="#1979ca"/><circle cx="160.4" cy="310.0" r="0.38" fill="#1979ca"/><circle cx="116.0" cy="297.8" r="0.38" fill="#1979ca"/><circle cx="127.9" cy="303.1" r="0.38" fill="#1979ca"/><circle cx="132.2" cy="305.9" r="0.38" fill="#1979ca"/><circle cx="162.9" cy="310.3" r="0.38" fill="#1979ca"/><circle cx="145.0" cy="307.0" r="0.38" fill="#1979ca"/><circle cx="186.2" cy="324.6" r="0.38" fill="#1979ca"/><circle cx="172.0" cy="295.3" r="0.38" fill="#1979ca"/><circle cx="136.2" cy="305.4" r="0.38" fill="#1979ca"/><circle cx="136.2" cy="306.2" r="0.38" fill="#1979ca"/><circle cx="111.2" cy="280.4" r="0.38" fill="#1979ca"/><circle cx="107.2" cy="282.6" r="0.38" fill="#1979ca"/><circle cx="130.0" cy="304.7" r="0.38" fill="#1979ca"/><circle cx="109.2" cy="292.9" r="0.38" fill="#1979ca"/><circle cx="166.6" cy="289.7" r="0.38" fill="#1979ca"/><circle cx="178.7" cy="316.6" r="0.38" fill="#1979ca"/><circle cx="176.3" cy="314.3" r="0.38" fill="#1979ca"/><circle cx="178.7" cy="302.3" r="0.38" fill="#1979ca"/><circle cx="182.9" cy="325.5" r="0.38" fill="#1979ca"/><circle cx="133.5" cy="274.5" r="0.38" fill="#1979ca"/><circle cx="180.2" cy="320.4" r="0.38" fill="#1979ca"/><circle cx="178.1" cy="302.9" r="0.38" fill="#1979ca"/><circle cx="137.5" cy="276.2" r="0.38" fill="#1979ca"/><circle cx="116.7" cy="298.5" r="0.38" fill="#1979ca"/><circle cx="159.8" cy="287.0" r="0.38" fill="#1979ca"/><circle cx="150.6" cy="308.4" r="0.38" fill="#1979ca"/><circle cx="153.6" cy="285.2" r="0.38" fill="#1979ca"/><circle cx="143.4" cy="279.3" r="0.38" fill="#1979ca"/><circle cx="123.5" cy="273.2" r="0.38" fill="#1979ca"/><circle cx="131.8" cy="273.7" r="0.38" fill="#1979ca"/><circle cx="123.3" cy="301.1" r="0.38" fill="#1979ca"/><circle cx="139.5" cy="307.3" r="0.38" fill="#1979ca"/><circle cx="115.5" cy="277.7" r="0.38" fill="#1979ca"/><circle cx="165.4" cy="310.2" r="0.38" fill="#1979ca"/><circle cx="108.7" cy="290.0" r="0.38" fill="#1979ca"/><circle cx="135.1" cy="275.0" r="0.38" fill="#1979ca"/><circle cx="153.6" cy="285.0" r="0.38" fill="#1979ca"/><circle cx="175.5" cy="296.9" r="0.38" fill="#1979ca"/><circle cx="133.4" cy="305.8" r="0.38" fill="#1979ca"/><circle cx="184.0" cy="315.0" r="0.38" fill="#1979ca"/><circle cx="181.0" cy="321.5" r="0.38" fill="#1979ca"/><circle cx="180.2" cy="305.6" r="0.38" fill="#1979ca"/><circle cx="146.4" cy="282.4" r="0.38" fill="#1979ca"/><circle cx="186.9" cy="324.0" r="0.38" fill="#1979ca"/><circle cx="186.6" cy="323.1" r="0.38" fill="#1979ca"/><circle cx="182.9" cy="313.0" r="0.38" fill="#1979ca"/><circle cx="137.1" cy="276.2" r="0.38" fill="#1979ca"/><circle cx="181.3" cy="303.9" r="0.38" fill="#1979ca"/><circle cx="157.3" cy="285.8" r="0.38" fill="#1979ca"/><circle cx="163.9" cy="289.9" r="0.38" fill="#1979ca"/><circle cx="113.0" cy="278.2" r="0.38" fill="#1979ca"/><circle cx="111.5" cy="295.9" r="0.38" fill="#1979ca"/><circle cx="186.8" cy="322.3" r="0.38" fill="#1979ca"/><circle cx="168.3" cy="311.2" r="0.38" fill="#1979ca"/><circle cx="154.6" cy="309.1" r="0.38" fill="#1979ca"/><circle cx="109.9" cy="278.3" r="0.38" fill="#1979ca"/><circle cx="182.8" cy="307.6" r="0.38" fill="#1979ca"/><circle cx="169.4" cy="292.0" r="0.38" fill="#1979ca"/><circle cx="155.2" cy="309.0" r="0.38" fill="#1979ca"/><circle cx="155.5" cy="286.3" r="0.38" fill="#1979ca"/><circle cx="173.7" cy="312.5" r="0.38" fill="#1979ca"/><circle cx="106.5" cy="283.0" r="0.38" fill="#1979ca"/><circle cx="181.2" cy="310.0" r="0.38" fill="#1979ca"/><circle cx="107.3" cy="285.2" r="0.38" fill="#1979ca"/><circle cx="123.8" cy="274.4" r="0.38" fill="#1979ca"/><circle cx="187.9" cy="326.3" r="0.38" fill="#1979ca"/><circle cx="154.6" cy="285.3" r="0.38" fill="#1979ca"/><circle cx="117.2" cy="275.9" r="0.38" fill="#1979ca"/><circle cx="167.2" cy="290.7" r="0.38" fill="#1979ca"/><circle cx="107.5" cy="289.5" r="0.38" fill="#1979ca"/><circle cx="181.8" cy="307.2" r="0.38" fill="#1979ca"/><circle cx="168.9" cy="292.9" r="0.38" fill="#1979ca"/><circle cx="114.7" cy="297.8" r="0.38" fill="#1979ca"/><circle cx="148.7" cy="282.7" r="0.38" fill="#1979ca"/><circle cx="186.8" cy="326.1" r="0.38" fill="#1979ca"/><circle cx="177.6" cy="315.8" r="0.38" fill="#1979ca"/><circle cx="168.5" cy="292.8" r="0.38" fill="#1979ca"/><circle cx="150.9" cy="283.1" r="0.38" fill="#1979ca"/><circle cx="124.2" cy="274.8" r="0.38" fill="#1979ca"/><circle cx="168.7" cy="291.7" r="0.38" fill="#1979ca"/><circle cx="155.0" cy="285.5" r="0.38" fill="#1979ca"/><circle cx="181.6" cy="323.1" r="0.38" fill="#1979ca"/><circle cx="160.7" cy="309.7" r="0.38" fill="#1979ca"/><circle cx="164.0" cy="288.9" r="0.38" fill="#1979ca"/><circle cx="182.3" cy="312.8" r="0.38" fill="#1979ca"/><circle cx="184.2" cy="329.1" r="0.38" fill="#1979ca"/><circle cx="148.8" cy="308.8" r="0.38" fill="#1979ca"/><circle cx="136.5" cy="307.0" r="0.38" fill="#1979ca"/><circle cx="156.1" cy="309.3" r="0.38" fill="#1979ca"/><circle cx="136.9" cy="305.2" r="0.38" fill="#1979ca"/><circle cx="118.2" cy="275.2" r="0.38" fill="#1979ca"/><circle cx="166.7" cy="309.9" r="0.38" fill="#1979ca"/><circle cx="147.8" cy="307.6" r="0.38" fill="#1979ca"/><circle cx="114.8" cy="276.4" r="0.38" fill="#1979ca"/><circle cx="128.0" cy="303.2" r="0.38" fill="#1979ca"/><circle cx="153.1" cy="284.0" r="0.38" fill="#1979ca"/><circle cx="171.6" cy="295.2" r="0.38" fill="#1979ca"/><circle cx="134.5" cy="304.3" r="0.38" fill="#1979ca"/><circle cx="184.4" cy="333.9" r="0.38" fill="#1979ca"/><circle cx="184.9" cy="318.5" r="0.38" fill="#1979ca"/><circle cx="129.7" cy="274.9" r="0.38" fill="#1979ca"/><circle cx="184.9" cy="320.7" r="0.38" fill="#1979ca"/><circle cx="147.9" cy="308.7" r="0.38" fill="#1979ca"/><circle cx="108.6" cy="288.9" r="0.38" fill="#1979ca"/><circle cx="136.5" cy="304.9" r="0.38" fill="#1979ca"/><circle cx="106.8" cy="288.2" r="0.38" fill="#1979ca"/><circle cx="187.3" cy="325.2" r="0.38" fill="#1979ca"/><circle cx="149.6" cy="282.0" r="0.38" fill="#1979ca"/><circle cx="182.6" cy="328.0" r="0.38" fill="#1979ca"/><circle cx="155.0" cy="284.8" r="0.38" fill="#1979ca"/><circle cx="108.5" cy="287.9" r="0.38" fill="#1979ca"/><circle cx="177.7" cy="315.2" r="0.38" fill="#1979ca"/><circle cx="132.9" cy="303.9" r="0.38" fill="#1979ca"/><circle cx="140.0" cy="278.4" r="0.38" fill="#1979ca"/><circle cx="117.8" cy="300.1" r="0.38" fill="#1979ca"/><circle cx="172.1" cy="295.0" r="0.38" fill="#1979ca"/>
<path d="M103.4,265.4 C104.2,264.8 106.1,264.3 107.7,264.6 C109.3,264.9 111.2,266.4 112.9,267.3 C114.7,268.2 116.6,269.3 118.2,270.0 C119.8,270.7 121.0,271.1 122.4,271.6 C123.8,272.1 126.8,272.6 126.4,273.2 C126.1,273.8 122.2,274.8 120.3,275.4 C118.4,276.0 116.6,276.4 115.0,277.0 C113.4,277.6 112.0,278.3 110.8,279.1 C109.6,279.9 108.4,280.9 107.7,281.7 C107.0,282.4 107.0,284.0 106.6,283.6 C106.2,283.2 105.9,280.7 105.5,279.1 C105.1,277.5 104.4,275.6 104.0,273.8 C103.6,272.0 103.1,269.9 103.0,268.5 C102.9,267.1 102.6,266.0 103.4,265.4Z" fill="#c3c3c3" />
<circle cx="111.5" cy="278.8" r="0.38" fill="#c3c3c3"/><circle cx="104.1" cy="265.4" r="0.38" fill="#c3c3c3"/><circle cx="114.5" cy="267.9" r="0.38" fill="#c3c3c3"/><circle cx="104.8" cy="264.9" r="0.38" fill="#c3c3c3"/><circle cx="120.4" cy="275.3" r="0.38" fill="#c3c3c3"/><circle cx="103.8" cy="267.3" r="0.38" fill="#c3c3c3"/><circle cx="107.8" cy="282.1" r="0.38" fill="#c3c3c3"/><circle cx="105.1" cy="278.7" r="0.38" fill="#c3c3c3"/><circle cx="108.1" cy="281.0" r="0.38" fill="#c3c3c3"/><circle cx="107.7" cy="264.7" r="0.38" fill="#c3c3c3"/><circle cx="114.0" cy="278.1" r="0.38" fill="#c3c3c3"/><circle cx="122.9" cy="271.1" r="0.38" fill="#c3c3c3"/><circle cx="106.0" cy="283.8" r="0.38" fill="#c3c3c3"/><circle cx="109.4" cy="281.7" r="0.38" fill="#c3c3c3"/><circle cx="108.3" cy="282.2" r="0.38" fill="#c3c3c3"/><circle cx="111.2" cy="278.7" r="0.38" fill="#c3c3c3"/><circle cx="103.2" cy="273.1" r="0.38" fill="#c3c3c3"/><circle cx="115.6" cy="275.9" r="0.38" fill="#c3c3c3"/><circle cx="124.9" cy="273.8" r="0.38" fill="#c3c3c3"/><circle cx="104.4" cy="272.2" r="0.38" fill="#c3c3c3"/><circle cx="125.0" cy="273.8" r="0.38" fill="#c3c3c3"/><circle cx="115.5" cy="276.7" r="0.38" fill="#c3c3c3"/><circle cx="103.3" cy="272.5" r="0.38" fill="#c3c3c3"/><circle cx="120.0" cy="271.3" r="0.38" fill="#c3c3c3"/><circle cx="114.0" cy="268.2" r="0.38" fill="#c3c3c3"/><circle cx="116.3" cy="269.6" r="0.38" fill="#c3c3c3"/><circle cx="105.4" cy="276.9" r="0.38" fill="#c3c3c3"/><circle cx="123.7" cy="274.2" r="0.38" fill="#c3c3c3"/><circle cx="103.2" cy="271.3" r="0.38" fill="#c3c3c3"/><circle cx="112.9" cy="277.9" r="0.38" fill="#c3c3c3"/><circle cx="104.7" cy="265.1" r="0.38" fill="#c3c3c3"/><circle cx="111.6" cy="277.9" r="0.38" fill="#c3c3c3"/><circle cx="112.9" cy="278.5" r="0.38" fill="#c3c3c3"/><circle cx="105.7" cy="283.0" r="0.38" fill="#c3c3c3"/><circle cx="105.5" cy="275.9" r="0.38" fill="#c3c3c3"/><circle cx="104.7" cy="276.0" r="0.38" fill="#c3c3c3"/><circle cx="117.7" cy="270.2" r="0.38" fill="#c3c3c3"/><circle cx="119.3" cy="274.9" r="0.38" fill="#c3c3c3"/><circle cx="112.3" cy="266.8" r="0.38" fill="#c3c3c3"/><circle cx="110.7" cy="279.3" r="0.38" fill="#c3c3c3"/>
<path d="M108.3,291.5 C108.8,291.4 110.0,294.1 111.0,295.0 C112.0,295.9 112.6,295.9 114.0,296.7 C115.4,297.5 117.6,299.0 119.4,299.9 C121.2,300.8 122.8,301.3 124.6,302.0 C126.3,302.7 128.1,303.5 129.9,304.1 C131.7,304.7 133.4,305.3 135.2,305.7 C137.0,306.1 138.8,306.4 140.5,306.7 C142.2,307.0 144.9,307.3 145.5,307.6 C146.1,307.9 144.7,308.1 143.8,308.3 C143.0,308.5 141.4,308.4 140.4,308.6 C139.4,308.8 138.7,309.1 137.8,309.5 C137.0,309.9 136.4,310.5 135.3,311.0 C134.2,311.5 132.8,312.1 131.1,312.7 C129.4,313.2 127.3,314.0 125.2,314.3 C123.1,314.6 119.7,314.4 118.4,314.5 C117.1,314.6 118.4,315.0 117.3,315.2 C116.2,315.4 113.8,315.5 112.0,315.9 C110.2,316.2 108.5,316.8 106.7,317.3 C104.9,317.8 102.9,318.7 101.4,318.9 C99.9,319.1 98.4,319.0 97.7,318.5 C97.0,318.0 96.7,317.0 97.0,316.0 C97.3,315.0 98.2,313.6 99.3,312.5 C100.4,311.4 102.1,310.4 103.5,309.4 C104.9,308.4 106.9,307.4 107.8,306.7 C108.7,306.0 108.6,306.2 108.8,305.2 C109.0,304.2 108.9,302.5 108.8,300.9 C108.7,299.3 108.4,297.3 108.3,295.7 C108.2,294.1 107.8,291.6 108.3,291.5Z" fill="#17b3b8" />
<circle cx="132.0" cy="301.6" r="0.45" fill="#17b3b8"/><circle cx="132.7" cy="302.2" r="0.45" fill="#17b3b8"/><circle cx="128.0" cy="303.0" r="0.45" fill="#17b3b8"/><circle cx="111.5" cy="295.3" r="0.45" fill="#17b3b8"/><circle cx="117.8" cy="300.5" r="0.45" fill="#17b3b8"/><circle cx="132.4" cy="305.5" r="0.45" fill="#17b3b8"/><circle cx="124.5" cy="302.7" r="0.45" fill="#17b3b8"/><circle cx="125.6" cy="304.7" r="0.45" fill="#17b3b8"/><circle cx="125.6" cy="300.4" r="0.45" fill="#17b3b8"/><circle cx="110.3" cy="291.1" r="0.45" fill="#17b3b8"/><circle cx="117.7" cy="299.7" r="0.45" fill="#17b3b8"/><circle cx="118.4" cy="295.4" r="0.45" fill="#17b3b8"/><circle cx="119.2" cy="302.0" r="0.45" fill="#17b3b8"/><circle cx="130.3" cy="301.8" r="0.45" fill="#17b3b8"/><circle cx="115.8" cy="301.3" r="0.45" fill="#17b3b8"/><circle cx="125.0" cy="302.4" r="0.45" fill="#17b3b8"/><circle cx="114.8" cy="296.7" r="0.45" fill="#17b3b8"/><circle cx="117.0" cy="299.1" r="0.45" fill="#17b3b8"/><circle cx="139.0" cy="306.1" r="0.45" fill="#17b3b8"/><circle cx="139.0" cy="307.2" r="0.45" fill="#17b3b8"/><circle cx="135.6" cy="305.4" r="0.45" fill="#17b3b8"/><circle cx="119.6" cy="299.7" r="0.45" fill="#17b3b8"/><circle cx="121.1" cy="302.4" r="0.45" fill="#17b3b8"/><circle cx="110.3" cy="298.2" r="0.45" fill="#17b3b8"/><circle cx="121.1" cy="300.9" r="0.45" fill="#17b3b8"/><circle cx="117.8" cy="297.3" r="0.45" fill="#17b3b8"/><circle cx="124.6" cy="302.2" r="0.45" fill="#17b3b8"/><circle cx="131.5" cy="305.9" r="0.45" fill="#17b3b8"/><circle cx="136.2" cy="304.0" r="0.45" fill="#17b3b8"/><circle cx="111.0" cy="293.5" r="0.45" fill="#17b3b8"/><circle cx="121.8" cy="298.0" r="0.45" fill="#17b3b8"/><circle cx="134.8" cy="310.8" r="0.45" fill="#17b3b8"/><circle cx="132.4" cy="304.1" r="0.45" fill="#17b3b8"/><circle cx="130.5" cy="307.3" r="0.45" fill="#17b3b8"/><circle cx="140.5" cy="308.5" r="0.45" fill="#17b3b8"/><circle cx="115.2" cy="298.2" r="0.45" fill="#17b3b8"/><circle cx="129.4" cy="304.5" r="0.45" fill="#17b3b8"/><circle cx="122.9" cy="301.7" r="0.45" fill="#17b3b8"/><circle cx="137.4" cy="305.2" r="0.45" fill="#17b3b8"/><circle cx="110.1" cy="288.5" r="0.45" fill="#17b3b8"/><circle cx="127.2" cy="303.8" r="0.45" fill="#17b3b8"/><circle cx="137.9" cy="306.0" r="0.45" fill="#17b3b8"/><circle cx="112.7" cy="297.0" r="0.45" fill="#17b3b8"/><circle cx="130.7" cy="306.9" r="0.45" fill="#17b3b8"/><circle cx="109.6" cy="295.2" r="0.45" fill="#17b3b8"/><circle cx="130.5" cy="304.6" r="0.45" fill="#17b3b8"/><circle cx="127.5" cy="304.6" r="0.45" fill="#17b3b8"/><circle cx="120.4" cy="298.9" r="0.45" fill="#17b3b8"/><circle cx="114.4" cy="296.8" r="0.45" fill="#17b3b8"/><circle cx="124.8" cy="301.2" r="0.45" fill="#17b3b8"/><circle cx="122.7" cy="301.0" r="0.45" fill="#17b3b8"/><circle cx="131.5" cy="305.9" r="0.45" fill="#17b3b8"/><circle cx="127.2" cy="302.4" r="0.45" fill="#17b3b8"/><circle cx="124.4" cy="301.9" r="0.45" fill="#17b3b8"/><circle cx="119.2" cy="299.5" r="0.45" fill="#17b3b8"/><circle cx="120.4" cy="297.5" r="0.45" fill="#17b3b8"/><circle cx="117.6" cy="299.2" r="0.45" fill="#17b3b8"/><circle cx="141.1" cy="304.6" r="0.45" fill="#17b3b8"/><circle cx="118.1" cy="302.1" r="0.45" fill="#17b3b8"/><circle cx="108.7" cy="295.1" r="0.45" fill="#17b3b8"/><circle cx="122.6" cy="304.5" r="0.45" fill="#17b3b8"/><circle cx="115.1" cy="297.3" r="0.45" fill="#17b3b8"/><circle cx="111.2" cy="297.2" r="0.45" fill="#17b3b8"/><circle cx="125.9" cy="304.3" r="0.45" fill="#17b3b8"/><circle cx="110.7" cy="294.5" r="0.45" fill="#17b3b8"/><circle cx="112.9" cy="295.3" r="0.45" fill="#17b3b8"/><circle cx="116.5" cy="295.1" r="0.45" fill="#17b3b8"/><circle cx="116.4" cy="295.5" r="0.45" fill="#17b3b8"/><circle cx="119.2" cy="299.0" r="0.45" fill="#17b3b8"/><circle cx="116.6" cy="296.4" r="0.45" fill="#17b3b8"/><circle cx="137.1" cy="306.9" r="0.45" fill="#17b3b8"/><circle cx="109.6" cy="291.1" r="0.45" fill="#17b3b8"/><circle cx="110.5" cy="293.2" r="0.45" fill="#17b3b8"/><circle cx="123.4" cy="301.1" r="0.45" fill="#17b3b8"/><circle cx="127.5" cy="304.6" r="0.45" fill="#17b3b8"/><circle cx="126.6" cy="302.2" r="0.45" fill="#17b3b8"/><circle cx="139.0" cy="306.8" r="0.45" fill="#17b3b8"/><circle cx="129.8" cy="304.3" r="0.45" fill="#17b3b8"/><circle cx="120.8" cy="297.9" r="0.45" fill="#17b3b8"/><circle cx="132.1" cy="305.5" r="0.45" fill="#17b3b8"/><circle cx="136.2" cy="307.7" r="0.45" fill="#17b3b8"/><circle cx="115.6" cy="297.8" r="0.45" fill="#17b3b8"/><circle cx="129.9" cy="304.4" r="0.45" fill="#17b3b8"/><circle cx="122.6" cy="302.1" r="0.45" fill="#17b3b8"/><circle cx="116.4" cy="297.4" r="0.45" fill="#17b3b8"/><circle cx="110.3" cy="295.0" r="0.45" fill="#17b3b8"/><circle cx="119.9" cy="298.7" r="0.45" fill="#17b3b8"/><circle cx="113.8" cy="297.8" r="0.45" fill="#17b3b8"/><circle cx="128.4" cy="304.8" r="0.45" fill="#17b3b8"/><circle cx="137.9" cy="307.2" r="0.45" fill="#17b3b8"/><circle cx="121.1" cy="300.6" r="0.45" fill="#17b3b8"/><circle cx="124.7" cy="300.7" r="0.45" fill="#17b3b8"/><circle cx="133.4" cy="303.7" r="0.45" fill="#17b3b8"/><circle cx="110.9" cy="296.7" r="0.45" fill="#17b3b8"/><circle cx="136.5" cy="308.5" r="0.45" fill="#17b3b8"/><circle cx="128.6" cy="303.1" r="0.45" fill="#17b3b8"/><circle cx="132.2" cy="305.6" r="0.45" fill="#17b3b8"/><circle cx="128.5" cy="301.3" r="0.45" fill="#17b3b8"/><circle cx="110.6" cy="293.1" r="0.45" fill="#17b3b8"/><circle cx="127.8" cy="301.9" r="0.45" fill="#17b3b8"/><circle cx="120.1" cy="301.0" r="0.45" fill="#17b3b8"/><circle cx="109.8" cy="292.0" r="0.45" fill="#17b3b8"/><circle cx="136.7" cy="306.4" r="0.45" fill="#17b3b8"/><circle cx="114.9" cy="295.2" r="0.45" fill="#17b3b8"/><circle cx="136.4" cy="306.0" r="0.45" fill="#17b3b8"/><circle cx="120.6" cy="300.8" r="0.45" fill="#17b3b8"/><circle cx="125.4" cy="303.2" r="0.45" fill="#17b3b8"/><circle cx="126.0" cy="299.9" r="0.45" fill="#17b3b8"/><circle cx="123.6" cy="302.9" r="0.45" fill="#17b3b8"/><circle cx="110.8" cy="294.9" r="0.45" fill="#17b3b8"/><circle cx="139.0" cy="306.1" r="0.45" fill="#17b3b8"/><circle cx="113.5" cy="296.4" r="0.45" fill="#17b3b8"/><circle cx="121.3" cy="302.6" r="0.45" fill="#17b3b8"/><circle cx="136.6" cy="307.9" r="0.45" fill="#17b3b8"/><circle cx="136.8" cy="309.1" r="0.45" fill="#17b3b8"/><circle cx="124.6" cy="302.4" r="0.45" fill="#17b3b8"/><circle cx="137.3" cy="306.7" r="0.45" fill="#17b3b8"/><circle cx="136.5" cy="305.2" r="0.45" fill="#17b3b8"/><circle cx="116.4" cy="296.8" r="0.45" fill="#17b3b8"/><circle cx="122.5" cy="298.7" r="0.45" fill="#17b3b8"/><circle cx="112.2" cy="298.1" r="0.45" fill="#17b3b8"/><circle cx="133.8" cy="308.2" r="0.45" fill="#17b3b8"/><circle cx="112.0" cy="296.1" r="0.45" fill="#17b3b8"/><circle cx="120.2" cy="298.4" r="0.45" fill="#17b3b8"/><circle cx="112.5" cy="295.2" r="0.45" fill="#17b3b8"/><circle cx="126.1" cy="304.3" r="0.45" fill="#17b3b8"/><circle cx="109.6" cy="292.5" r="0.45" fill="#17b3b8"/><circle cx="131.6" cy="306.9" r="0.45" fill="#17b3b8"/><circle cx="126.0" cy="303.6" r="0.45" fill="#17b3b8"/><circle cx="137.5" cy="307.8" r="0.45" fill="#17b3b8"/><circle cx="136.9" cy="307.3" r="0.45" fill="#17b3b8"/><circle cx="121.1" cy="300.2" r="0.45" fill="#17b3b8"/><circle cx="128.6" cy="300.7" r="0.45" fill="#17b3b8"/><circle cx="109.3" cy="291.5" r="0.45" fill="#17b3b8"/><circle cx="134.8" cy="304.1" r="0.45" fill="#17b3b8"/><circle cx="134.4" cy="304.1" r="0.45" fill="#17b3b8"/><circle cx="129.6" cy="304.4" r="0.45" fill="#17b3b8"/><circle cx="127.4" cy="302.0" r="0.45" fill="#17b3b8"/><circle cx="125.0" cy="301.5" r="0.45" fill="#17b3b8"/><circle cx="132.7" cy="304.4" r="0.45" fill="#17b3b8"/><circle cx="124.1" cy="302.1" r="0.45" fill="#17b3b8"/><circle cx="115.9" cy="296.1" r="0.45" fill="#17b3b8"/><circle cx="115.7" cy="295.0" r="0.45" fill="#17b3b8"/><circle cx="119.1" cy="298.9" r="0.45" fill="#17b3b8"/><circle cx="117.6" cy="298.1" r="0.45" fill="#17b3b8"/><circle cx="126.1" cy="300.5" r="0.45" fill="#17b3b8"/><circle cx="120.7" cy="303.4" r="0.45" fill="#17b3b8"/><circle cx="117.8" cy="298.0" r="0.45" fill="#17b3b8"/><circle cx="121.4" cy="300.2" r="0.45" fill="#17b3b8"/><circle cx="116.0" cy="296.9" r="0.45" fill="#17b3b8"/><circle cx="111.5" cy="293.8" r="0.45" fill="#17b3b8"/><circle cx="109.9" cy="295.4" r="0.45" fill="#17b3b8"/><circle cx="132.4" cy="305.5" r="0.45" fill="#17b3b8"/><circle cx="109.5" cy="289.7" r="0.45" fill="#17b3b8"/><circle cx="128.2" cy="301.0" r="0.45" fill="#17b3b8"/><circle cx="131.4" cy="302.3" r="0.45" fill="#17b3b8"/><circle cx="111.2" cy="289.0" r="0.45" fill="#17b3b8"/><circle cx="114.7" cy="297.3" r="0.45" fill="#17b3b8"/><circle cx="110.5" cy="295.3" r="0.45" fill="#17b3b8"/><circle cx="115.5" cy="297.0" r="0.45" fill="#17b3b8"/>
<circle cx="116.8" cy="296.9" r="0.45" fill="#1a6fc4"/><circle cx="114.8" cy="295.0" r="0.45" fill="#1a6fc4"/><circle cx="129.9" cy="305.6" r="0.45" fill="#1a6fc4"/><circle cx="121.6" cy="301.1" r="0.45" fill="#1a6fc4"/><circle cx="122.1" cy="298.5" r="0.45" fill="#1a6fc4"/><circle cx="134.9" cy="303.3" r="0.45" fill="#1a6fc4"/><circle cx="137.5" cy="304.4" r="0.45" fill="#1a6fc4"/><circle cx="119.8" cy="298.4" r="0.45" fill="#1a6fc4"/><circle cx="136.1" cy="304.2" r="0.45" fill="#1a6fc4"/><circle cx="113.2" cy="297.5" r="0.45" fill="#1a6fc4"/><circle cx="129.5" cy="302.9" r="0.45" fill="#1a6fc4"/><circle cx="125.0" cy="300.7" r="0.45" fill="#1a6fc4"/><circle cx="109.9" cy="293.7" r="0.45" fill="#1a6fc4"/><circle cx="112.1" cy="295.8" r="0.45" fill="#1a6fc4"/><circle cx="111.8" cy="296.0" r="0.45" fill="#1a6fc4"/><circle cx="106.2" cy="290.9" r="0.45" fill="#1a6fc4"/><circle cx="133.6" cy="308.8" r="0.45" fill="#1a6fc4"/><circle cx="110.4" cy="294.4" r="0.45" fill="#1a6fc4"/><circle cx="108.5" cy="292.0" r="0.45" fill="#1a6fc4"/><circle cx="123.0" cy="299.6" r="0.45" fill="#1a6fc4"/><circle cx="136.7" cy="304.9" r="0.45" fill="#1a6fc4"/><circle cx="112.0" cy="296.9" r="0.45" fill="#1a6fc4"/><circle cx="134.4" cy="306.7" r="0.45" fill="#1a6fc4"/><circle cx="135.2" cy="306.2" r="0.45" fill="#1a6fc4"/><circle cx="113.8" cy="295.1" r="0.45" fill="#1a6fc4"/><circle cx="110.5" cy="293.0" r="0.45" fill="#1a6fc4"/><circle cx="118.6" cy="296.6" r="0.45" fill="#1a6fc4"/><circle cx="117.0" cy="297.9" r="0.45" fill="#1a6fc4"/><circle cx="125.3" cy="302.9" r="0.45" fill="#1a6fc4"/><circle cx="137.4" cy="305.8" r="0.45" fill="#1a6fc4"/><circle cx="122.8" cy="302.0" r="0.45" fill="#1a6fc4"/><circle cx="112.1" cy="297.5" r="0.45" fill="#1a6fc4"/><circle cx="109.8" cy="292.9" r="0.45" fill="#1a6fc4"/><circle cx="117.3" cy="299.0" r="0.45" fill="#1a6fc4"/><circle cx="138.0" cy="306.9" r="0.45" fill="#1a6fc4"/><circle cx="118.7" cy="299.0" r="0.45" fill="#1a6fc4"/><circle cx="118.6" cy="301.6" r="0.45" fill="#1a6fc4"/><circle cx="123.7" cy="302.8" r="0.45" fill="#1a6fc4"/><circle cx="117.4" cy="297.3" r="0.45" fill="#1a6fc4"/><circle cx="136.7" cy="306.3" r="0.45" fill="#1a6fc4"/><circle cx="116.3" cy="301.1" r="0.45" fill="#1a6fc4"/><circle cx="122.8" cy="303.1" r="0.45" fill="#1a6fc4"/><circle cx="134.1" cy="304.9" r="0.45" fill="#1a6fc4"/><circle cx="127.9" cy="302.5" r="0.45" fill="#1a6fc4"/><circle cx="121.7" cy="301.8" r="0.45" fill="#1a6fc4"/><circle cx="135.9" cy="307.3" r="0.45" fill="#1a6fc4"/><circle cx="126.3" cy="302.3" r="0.45" fill="#1a6fc4"/><circle cx="121.6" cy="300.3" r="0.45" fill="#1a6fc4"/><circle cx="111.1" cy="291.5" r="0.45" fill="#1a6fc4"/><circle cx="111.3" cy="295.0" r="0.45" fill="#1a6fc4"/><circle cx="116.3" cy="297.8" r="0.45" fill="#1a6fc4"/><circle cx="122.4" cy="302.2" r="0.45" fill="#1a6fc4"/><circle cx="127.9" cy="303.9" r="0.45" fill="#1a6fc4"/><circle cx="133.5" cy="303.5" r="0.45" fill="#1a6fc4"/><circle cx="112.3" cy="296.4" r="0.45" fill="#1a6fc4"/><circle cx="129.1" cy="305.3" r="0.45" fill="#1a6fc4"/><circle cx="119.6" cy="296.0" r="0.45" fill="#1a6fc4"/><circle cx="136.9" cy="308.3" r="0.45" fill="#1a6fc4"/><circle cx="141.5" cy="308.6" r="0.45" fill="#1a6fc4"/><circle cx="130.2" cy="304.8" r="0.45" fill="#1a6fc4"/><circle cx="111.0" cy="298.1" r="0.45" fill="#1a6fc4"/><circle cx="120.1" cy="302.4" r="0.45" fill="#1a6fc4"/><circle cx="120.5" cy="299.5" r="0.45" fill="#1a6fc4"/><circle cx="118.3" cy="298.8" r="0.45" fill="#1a6fc4"/><circle cx="128.7" cy="305.5" r="0.45" fill="#1a6fc4"/><circle cx="123.9" cy="302.5" r="0.45" fill="#1a6fc4"/><circle cx="132.4" cy="306.3" r="0.45" fill="#1a6fc4"/><circle cx="128.3" cy="306.2" r="0.45" fill="#1a6fc4"/><circle cx="108.7" cy="293.3" r="0.45" fill="#1a6fc4"/><circle cx="124.9" cy="302.2" r="0.45" fill="#1a6fc4"/><circle cx="140.3" cy="305.5" r="0.45" fill="#1a6fc4"/><circle cx="122.4" cy="301.1" r="0.45" fill="#1a6fc4"/><circle cx="114.4" cy="296.3" r="0.45" fill="#1a6fc4"/><circle cx="115.8" cy="297.8" r="0.45" fill="#1a6fc4"/><circle cx="140.2" cy="303.1" r="0.45" fill="#1a6fc4"/><circle cx="134.9" cy="304.4" r="0.45" fill="#1a6fc4"/><circle cx="112.8" cy="296.6" r="0.45" fill="#1a6fc4"/><circle cx="112.9" cy="294.4" r="0.45" fill="#1a6fc4"/><circle cx="108.1" cy="295.2" r="0.45" fill="#1a6fc4"/><circle cx="135.0" cy="303.1" r="0.45" fill="#1a6fc4"/><circle cx="136.5" cy="305.6" r="0.45" fill="#1a6fc4"/><circle cx="125.8" cy="302.9" r="0.45" fill="#1a6fc4"/><circle cx="115.2" cy="297.9" r="0.45" fill="#1a6fc4"/><circle cx="110.4" cy="295.8" r="0.45" fill="#1a6fc4"/><circle cx="137.1" cy="306.7" r="0.45" fill="#1a6fc4"/><circle cx="130.8" cy="303.8" r="0.45" fill="#1a6fc4"/><circle cx="119.2" cy="302.1" r="0.45" fill="#1a6fc4"/><circle cx="135.6" cy="304.4" r="0.45" fill="#1a6fc4"/><circle cx="113.6" cy="295.8" r="0.45" fill="#1a6fc4"/><circle cx="115.6" cy="297.2" r="0.45" fill="#1a6fc4"/><circle cx="115.1" cy="299.4" r="0.45" fill="#1a6fc4"/><circle cx="125.9" cy="305.2" r="0.45" fill="#1a6fc4"/><circle cx="114.5" cy="296.3" r="0.45" fill="#1a6fc4"/><circle cx="126.0" cy="300.2" r="0.45" fill="#1a6fc4"/><circle cx="123.9" cy="299.7" r="0.45" fill="#1a6fc4"/><circle cx="130.3" cy="304.5" r="0.45" fill="#1a6fc4"/><circle cx="121.8" cy="300.9" r="0.45" fill="#1a6fc4"/><circle cx="130.8" cy="306.1" r="0.45" fill="#1a6fc4"/><circle cx="124.6" cy="300.7" r="0.45" fill="#1a6fc4"/><circle cx="124.2" cy="300.9" r="0.45" fill="#1a6fc4"/><circle cx="117.1" cy="300.4" r="0.45" fill="#1a6fc4"/><circle cx="126.4" cy="302.2" r="0.45" fill="#1a6fc4"/><circle cx="121.0" cy="300.4" r="0.45" fill="#1a6fc4"/><circle cx="111.0" cy="294.7" r="0.45" fill="#1a6fc4"/><circle cx="123.3" cy="301.9" r="0.45" fill="#1a6fc4"/><circle cx="116.5" cy="299.3" r="0.45" fill="#1a6fc4"/><circle cx="138.1" cy="306.8" r="0.45" fill="#1a6fc4"/><circle cx="129.7" cy="303.9" r="0.45" fill="#1a6fc4"/><circle cx="114.3" cy="300.5" r="0.45" fill="#1a6fc4"/><circle cx="121.4" cy="302.6" r="0.45" fill="#1a6fc4"/>
<circle cx="127.3" cy="313.9" r="0.38" fill="#17b3b8"/><circle cx="99.6" cy="318.8" r="0.38" fill="#17b3b8"/><circle cx="98.8" cy="314.9" r="0.38" fill="#17b3b8"/><circle cx="111.9" cy="295.9" r="0.38" fill="#17b3b8"/><circle cx="145.4" cy="307.2" r="0.38" fill="#17b3b8"/><circle cx="112.4" cy="316.2" r="0.38" fill="#17b3b8"/><circle cx="109.2" cy="301.1" r="0.38" fill="#17b3b8"/><circle cx="101.1" cy="319.0" r="0.38" fill="#17b3b8"/><circle cx="110.8" cy="316.5" r="0.38" fill="#17b3b8"/><circle cx="132.4" cy="304.9" r="0.38" fill="#17b3b8"/><circle cx="100.0" cy="318.6" r="0.38" fill="#17b3b8"/><circle cx="108.5" cy="299.1" r="0.38" fill="#17b3b8"/><circle cx="107.9" cy="293.0" r="0.38" fill="#17b3b8"/><circle cx="107.6" cy="297.5" r="0.38" fill="#17b3b8"/><circle cx="108.0" cy="317.6" r="0.38" fill="#17b3b8"/><circle cx="105.6" cy="307.6" r="0.38" fill="#17b3b8"/><circle cx="112.7" cy="316.8" r="0.38" fill="#17b3b8"/><circle cx="101.1" cy="310.8" r="0.38" fill="#17b3b8"/><circle cx="135.7" cy="312.0" r="0.38" fill="#17b3b8"/><circle cx="96.7" cy="316.7" r="0.38" fill="#17b3b8"/><circle cx="122.7" cy="314.7" r="0.38" fill="#17b3b8"/><circle cx="107.2" cy="308.3" r="0.38" fill="#17b3b8"/><circle cx="127.0" cy="314.1" r="0.38" fill="#17b3b8"/><circle cx="117.8" cy="315.4" r="0.38" fill="#17b3b8"/><circle cx="143.5" cy="306.3" r="0.38" fill="#17b3b8"/><circle cx="129.0" cy="303.0" r="0.38" fill="#17b3b8"/><circle cx="141.7" cy="306.3" r="0.38" fill="#17b3b8"/><circle cx="106.2" cy="318.3" r="0.38" fill="#17b3b8"/><circle cx="128.7" cy="312.8" r="0.38" fill="#17b3b8"/><circle cx="141.1" cy="307.7" r="0.38" fill="#17b3b8"/><circle cx="123.0" cy="302.0" r="0.38" fill="#17b3b8"/><circle cx="108.3" cy="298.2" r="0.38" fill="#17b3b8"/><circle cx="140.7" cy="306.6" r="0.38" fill="#17b3b8"/><circle cx="119.8" cy="299.6" r="0.38" fill="#17b3b8"/><circle cx="123.4" cy="300.5" r="0.38" fill="#17b3b8"/><circle cx="134.0" cy="311.8" r="0.38" fill="#17b3b8"/><circle cx="107.3" cy="307.7" r="0.38" fill="#17b3b8"/><circle cx="112.6" cy="295.3" r="0.38" fill="#17b3b8"/><circle cx="108.1" cy="292.8" r="0.38" fill="#17b3b8"/><circle cx="100.7" cy="319.4" r="0.38" fill="#17b3b8"/><circle cx="108.4" cy="292.1" r="0.38" fill="#17b3b8"/><circle cx="109.6" cy="302.0" r="0.38" fill="#17b3b8"/><circle cx="108.4" cy="292.7" r="0.38" fill="#17b3b8"/><circle cx="115.9" cy="297.9" r="0.38" fill="#17b3b8"/><circle cx="131.4" cy="313.3" r="0.38" fill="#17b3b8"/><circle cx="128.8" cy="313.8" r="0.38" fill="#17b3b8"/><circle cx="134.3" cy="304.7" r="0.38" fill="#17b3b8"/><circle cx="134.7" cy="305.5" r="0.38" fill="#17b3b8"/><circle cx="123.7" cy="314.7" r="0.38" fill="#17b3b8"/><circle cx="123.4" cy="313.6" r="0.38" fill="#17b3b8"/><circle cx="109.8" cy="294.2" r="0.38" fill="#17b3b8"/><circle cx="109.4" cy="292.2" r="0.38" fill="#17b3b8"/><circle cx="132.8" cy="305.1" r="0.38" fill="#17b3b8"/><circle cx="131.1" cy="304.2" r="0.38" fill="#17b3b8"/><circle cx="113.7" cy="297.8" r="0.38" fill="#17b3b8"/><circle cx="116.4" cy="315.7" r="0.38" fill="#17b3b8"/><circle cx="112.9" cy="296.5" r="0.38" fill="#17b3b8"/><circle cx="105.5" cy="317.2" r="0.38" fill="#17b3b8"/><circle cx="104.0" cy="308.6" r="0.38" fill="#17b3b8"/><circle cx="132.5" cy="305.2" r="0.38" fill="#17b3b8"/><circle cx="127.0" cy="303.8" r="0.38" fill="#17b3b8"/><circle cx="108.8" cy="304.3" r="0.38" fill="#17b3b8"/><circle cx="122.6" cy="301.5" r="0.38" fill="#17b3b8"/><circle cx="129.1" cy="313.0" r="0.38" fill="#17b3b8"/><circle cx="107.9" cy="294.8" r="0.38" fill="#17b3b8"/><circle cx="104.7" cy="309.6" r="0.38" fill="#17b3b8"/><circle cx="114.6" cy="297.6" r="0.38" fill="#17b3b8"/><circle cx="109.2" cy="301.9" r="0.38" fill="#17b3b8"/><circle cx="143.7" cy="307.5" r="0.38" fill="#17b3b8"/><circle cx="132.2" cy="304.5" r="0.38" fill="#17b3b8"/><circle cx="137.1" cy="307.0" r="0.38" fill="#17b3b8"/><circle cx="115.1" cy="316.4" r="0.38" fill="#17b3b8"/><circle cx="111.4" cy="293.7" r="0.38" fill="#17b3b8"/><circle cx="129.3" cy="304.2" r="0.38" fill="#17b3b8"/><circle cx="112.3" cy="316.3" r="0.38" fill="#17b3b8"/><circle cx="134.1" cy="310.7" r="0.38" fill="#17b3b8"/><circle cx="118.3" cy="300.7" r="0.38" fill="#17b3b8"/><circle cx="108.2" cy="297.5" r="0.38" fill="#17b3b8"/><circle cx="139.2" cy="306.3" r="0.38" fill="#17b3b8"/><circle cx="126.6" cy="303.4" r="0.38" fill="#17b3b8"/>
<defs><linearGradient id="sg" gradientUnits="userSpaceOnUse" x1="0" y1="297" x2="0" y2="307"><stop offset="0" stop-color="#1c68c8" stop-opacity="0.25"/><stop offset="1" stop-color="#1c68c8" stop-opacity="1"/></linearGradient></defs>
<path d="M116.5,297.5 C116.9,295.5 119.2,296.3 121.0,296.5 C122.8,296.7 126.7,297.2 127.5,298.5 C128.3,299.8 126.5,302.4 126.0,304.0 C125.5,305.6 124.9,306.6 124.6,308.0 C124.3,309.4 124.4,311.2 124.4,312.7 C124.4,314.2 124.7,314.8 124.8,316.9 C124.9,319.0 125.1,322.4 125.2,325.3 C125.3,328.2 126.0,332.4 125.6,334.0 C125.2,335.6 123.7,334.8 122.7,334.8 C121.7,334.8 120.3,335.6 119.7,334.0 C119.1,332.4 119.4,328.2 119.3,325.3 C119.2,322.4 119.1,319.7 118.9,316.9 C118.8,314.1 118.8,311.6 118.4,308.4 C118.0,305.2 116.1,299.5 116.5,297.5Z" fill="url(#sg)" />
<circle cx="125.3" cy="329.5" r="0.41" fill="#f07a40"/>
<circle cx="128.0" cy="332.8" r="0.37" fill="#ee5336"/>
<circle cx="128.6" cy="329.8" r="0.47" fill="#f07a40"/>
<circle cx="126.0" cy="327.8" r="0.45" fill="#e5229a"/>
<circle cx="130.6" cy="330.5" r="0.50" fill="#f07a40"/>
<circle cx="128.6" cy="327.2" r="0.54" fill="#f07a40"/>
<circle cx="125.1" cy="331.0" r="0.43" fill="#e5229a"/>
<circle cx="129.6" cy="332.0" r="0.57" fill="#f07a40"/>
<circle cx="127.1" cy="329.3" r="0.52" fill="#ee5336"/>
<circle cx="129.2" cy="327.9" r="0.60" fill="#ee5336"/>
<circle cx="129.1" cy="332.9" r="0.43" fill="#f07a40"/>
<circle cx="130.3" cy="330.5" r="0.53" fill="#ee5336"/>
<circle cx="128.6" cy="329.6" r="0.60" fill="#e5229a"/>
<circle cx="129.4" cy="328.6" r="0.42" fill="#e5229a"/>
<circle cx="125.2" cy="328.4" r="0.45" fill="#f07a40"/>
<circle cx="128.4" cy="330.8" r="0.42" fill="#ee5336"/>
<circle cx="129.8" cy="327.0" r="0.38" fill="#e5229a"/>
<circle cx="130.9" cy="330.5" r="0.56" fill="#ee5336"/>
<circle cx="128.0" cy="329.2" r="0.47" fill="#e5229a"/>
<circle cx="126.9" cy="330.8" r="0.41" fill="#f07a40"/>
<circle cx="129.7" cy="330.6" r="0.40" fill="#f07a40"/>
<circle cx="129.3" cy="329.7" r="0.58" fill="#ee5336"/>
<path d="M186.9,327.5 C187.8,328.5 189.0,331.9 189.4,333.8 C189.8,335.7 189.7,337.4 189.4,338.8 C189.1,340.2 188.1,340.6 187.5,342.5 C186.9,344.4 186.1,347.9 185.8,350.0 C185.5,352.1 186.1,353.7 185.8,355.0 C185.5,356.3 184.8,357.2 183.8,357.7 C182.8,358.2 180.8,358.4 180.0,358.2 C179.2,358.0 179.0,357.2 179.3,356.3 C179.6,355.4 181.3,354.2 181.9,352.5 C182.5,350.8 182.8,348.4 183.1,346.3 C183.4,344.2 183.7,342.1 183.8,340.0 C183.9,337.9 183.8,335.8 183.8,333.8 C183.8,331.8 183.3,329.1 183.8,328.0 C184.3,326.9 186.0,326.5 186.9,327.5Z" fill="#2d4db5" />
<path d="M145.5,321.2 C145.8,321.6 144.4,322.3 143.9,323.7 C143.4,325.1 142.8,326.9 142.6,329.4 C142.4,331.9 142.6,336.2 142.6,338.7 C142.6,341.2 142.8,342.8 142.5,344.4 C142.2,346.0 141.9,346.7 141.1,348.1 C140.3,349.5 139.0,351.5 137.8,352.8 C136.6,354.1 135.3,354.8 134.1,355.8 C132.8,356.8 131.1,358.6 130.3,359.0 C129.5,359.4 128.7,359.3 129.2,358.4 C129.7,357.5 131.8,354.9 133.1,353.7 C134.4,352.4 135.8,352.1 136.9,350.9 C138.0,349.6 139.1,348.2 139.7,346.2 C140.2,344.2 140.0,341.5 140.2,338.7 C140.3,335.9 140.6,331.9 140.6,329.4 C140.6,326.9 140.0,325.0 140.2,323.7 C140.4,322.4 141.1,321.7 142.0,321.3 C142.9,320.9 145.2,320.8 145.5,321.2Z" fill="#2a48aa" />
<circle cx="138.0" cy="351.9" r="0.38" fill="#2a48aa"/><circle cx="140.8" cy="339.5" r="0.38" fill="#2a48aa"/><circle cx="143.3" cy="331.7" r="0.38" fill="#2a48aa"/><circle cx="139.8" cy="346.3" r="0.38" fill="#2a48aa"/><circle cx="145.6" cy="322.1" r="0.38" fill="#2a48aa"/><circle cx="136.2" cy="351.7" r="0.38" fill="#2a48aa"/><circle cx="139.9" cy="341.5" r="0.38" fill="#2a48aa"/><circle cx="140.6" cy="347.6" r="0.38" fill="#2a48aa"/><circle cx="137.4" cy="351.6" r="0.38" fill="#2a48aa"/><circle cx="129.8" cy="358.4" r="0.38" fill="#2a48aa"/><circle cx="134.8" cy="355.2" r="0.38" fill="#2a48aa"/><circle cx="135.6" cy="352.7" r="0.38" fill="#2a48aa"/><circle cx="139.0" cy="352.2" r="0.38" fill="#2a48aa"/><circle cx="130.4" cy="358.2" r="0.38" fill="#2a48aa"/><circle cx="139.6" cy="351.6" r="0.38" fill="#2a48aa"/><circle cx="135.1" cy="354.6" r="0.38" fill="#2a48aa"/><circle cx="132.5" cy="356.5" r="0.38" fill="#2a48aa"/><circle cx="143.4" cy="338.0" r="0.38" fill="#2a48aa"/><circle cx="140.2" cy="323.6" r="0.38" fill="#2a48aa"/><circle cx="139.4" cy="348.5" r="0.38" fill="#2a48aa"/><circle cx="135.7" cy="354.2" r="0.38" fill="#2a48aa"/><circle cx="144.1" cy="326.1" r="0.38" fill="#2a48aa"/><circle cx="143.8" cy="337.7" r="0.38" fill="#2a48aa"/><circle cx="139.8" cy="338.5" r="0.38" fill="#2a48aa"/><circle cx="139.3" cy="351.7" r="0.38" fill="#2a48aa"/><circle cx="141.3" cy="326.2" r="0.38" fill="#2a48aa"/><circle cx="143.1" cy="345.5" r="0.38" fill="#2a48aa"/><circle cx="134.5" cy="352.4" r="0.38" fill="#2a48aa"/><circle cx="142.0" cy="320.7" r="0.38" fill="#2a48aa"/><circle cx="142.9" cy="337.6" r="0.38" fill="#2a48aa"/><circle cx="145.1" cy="320.7" r="0.38" fill="#2a48aa"/><circle cx="128.2" cy="358.6" r="0.38" fill="#2a48aa"/><circle cx="139.2" cy="346.5" r="0.38" fill="#2a48aa"/><circle cx="131.8" cy="356.4" r="0.38" fill="#2a48aa"/><circle cx="138.1" cy="350.0" r="0.38" fill="#2a48aa"/><circle cx="141.6" cy="330.2" r="0.38" fill="#2a48aa"/><circle cx="139.2" cy="333.1" r="0.38" fill="#2a48aa"/><circle cx="137.3" cy="351.8" r="0.38" fill="#2a48aa"/><circle cx="136.6" cy="353.7" r="0.38" fill="#2a48aa"/><circle cx="139.8" cy="342.6" r="0.38" fill="#2a48aa"/><circle cx="139.4" cy="352.1" r="0.38" fill="#2a48aa"/><circle cx="143.9" cy="340.7" r="0.38" fill="#2a48aa"/><circle cx="141.8" cy="337.1" r="0.38" fill="#2a48aa"/><circle cx="136.8" cy="354.1" r="0.38" fill="#2a48aa"/><circle cx="142.5" cy="344.3" r="0.38" fill="#2a48aa"/><circle cx="142.7" cy="340.3" r="0.38" fill="#2a48aa"/><circle cx="139.5" cy="327.7" r="0.38" fill="#2a48aa"/><circle cx="142.1" cy="343.1" r="0.38" fill="#2a48aa"/><circle cx="142.0" cy="348.3" r="0.38" fill="#2a48aa"/><circle cx="141.7" cy="332.4" r="0.38" fill="#2a48aa"/><circle cx="142.4" cy="336.3" r="0.38" fill="#2a48aa"/><circle cx="142.1" cy="342.1" r="0.38" fill="#2a48aa"/><circle cx="139.8" cy="345.4" r="0.38" fill="#2a48aa"/><circle cx="141.6" cy="342.5" r="0.38" fill="#2a48aa"/><circle cx="132.1" cy="356.6" r="0.38" fill="#2a48aa"/><circle cx="143.2" cy="342.9" r="0.38" fill="#2a48aa"/><circle cx="141.7" cy="331.2" r="0.38" fill="#2a48aa"/><circle cx="143.7" cy="341.0" r="0.38" fill="#2a48aa"/><circle cx="140.4" cy="327.7" r="0.38" fill="#2a48aa"/><circle cx="143.2" cy="343.5" r="0.38" fill="#2a48aa"/>
<path d="M112.6,320.6 C113.0,320.9 113.2,322.0 113.2,323.0 C113.2,324.0 112.8,325.2 112.3,326.5 C111.8,327.8 111.0,329.4 110.2,331.0 C109.5,332.6 108.5,334.5 107.8,336.0 C107.1,337.5 106.6,338.7 106.2,340.0 C105.8,341.3 105.4,342.8 105.6,344.0 C105.8,345.2 106.9,346.4 107.5,347.5 C108.1,348.6 108.8,349.5 109.0,350.5 C109.2,351.5 109.0,352.5 108.5,353.5 C108.0,354.5 107.1,355.6 106.0,356.5 C104.9,357.4 103.5,358.2 102.0,359.0 C100.5,359.8 98.7,360.8 97.0,361.2 C95.3,361.6 93.5,361.9 92.0,361.6 C90.5,361.3 89.1,360.6 88.0,359.6 C86.9,358.6 86.1,357.1 85.5,355.5 C84.9,353.9 84.6,351.7 84.4,350.0 C84.2,348.3 84.3,346.7 84.6,345.5 C84.9,344.3 85.2,343.8 86.0,343.0 C86.8,342.2 88.2,341.6 89.5,341.0 C90.8,340.4 92.6,339.8 94.0,339.3 C95.4,338.8 96.8,338.4 98.0,338.0 C99.2,337.6 100.1,337.3 101.0,336.6 C101.9,335.9 102.7,334.8 103.5,333.6 C104.3,332.4 105.2,330.9 106.0,329.5 C106.8,328.1 107.7,326.4 108.5,325.0 C109.3,323.6 110.1,322.0 110.8,321.3 C111.5,320.6 112.2,320.3 112.6,320.6Z" fill="#ec1f1f" />
<circle cx="105.5" cy="330.8" r="0.38" fill="#ec1f1f"/><circle cx="112.5" cy="323.9" r="0.38" fill="#ec1f1f"/><circle cx="103.9" cy="356.9" r="0.38" fill="#ec1f1f"/><circle cx="94.3" cy="362.4" r="0.38" fill="#ec1f1f"/><circle cx="87.5" cy="342.6" r="0.38" fill="#ec1f1f"/><circle cx="113.1" cy="320.6" r="0.38" fill="#ec1f1f"/><circle cx="91.4" cy="361.0" r="0.38" fill="#ec1f1f"/><circle cx="84.3" cy="351.9" r="0.38" fill="#ec1f1f"/><circle cx="92.1" cy="362.2" r="0.38" fill="#ec1f1f"/><circle cx="113.1" cy="319.8" r="0.38" fill="#ec1f1f"/><circle cx="111.1" cy="329.1" r="0.38" fill="#ec1f1f"/><circle cx="85.3" cy="355.1" r="0.38" fill="#ec1f1f"/><circle cx="106.5" cy="346.2" r="0.38" fill="#ec1f1f"/><circle cx="92.2" cy="339.1" r="0.38" fill="#ec1f1f"/><circle cx="83.7" cy="349.8" r="0.38" fill="#ec1f1f"/><circle cx="85.3" cy="346.2" r="0.38" fill="#ec1f1f"/><circle cx="90.9" cy="340.1" r="0.38" fill="#ec1f1f"/><circle cx="102.6" cy="359.3" r="0.38" fill="#ec1f1f"/><circle cx="97.7" cy="361.4" r="0.38" fill="#ec1f1f"/><circle cx="110.3" cy="329.6" r="0.38" fill="#ec1f1f"/><circle cx="97.1" cy="337.6" r="0.38" fill="#ec1f1f"/><circle cx="103.0" cy="358.2" r="0.38" fill="#ec1f1f"/><circle cx="107.6" cy="326.5" r="0.38" fill="#ec1f1f"/><circle cx="106.2" cy="355.6" r="0.38" fill="#ec1f1f"/><circle cx="100.8" cy="359.5" r="0.38" fill="#ec1f1f"/><circle cx="104.9" cy="332.8" r="0.38" fill="#ec1f1f"/><circle cx="102.5" cy="358.9" r="0.38" fill="#ec1f1f"/><circle cx="106.6" cy="339.1" r="0.38" fill="#ec1f1f"/><circle cx="105.9" cy="342.1" r="0.38" fill="#ec1f1f"/><circle cx="84.2" cy="346.2" r="0.38" fill="#ec1f1f"/><circle cx="84.6" cy="347.6" r="0.38" fill="#ec1f1f"/><circle cx="92.9" cy="361.8" r="0.38" fill="#ec1f1f"/><circle cx="104.5" cy="331.6" r="0.38" fill="#ec1f1f"/><circle cx="85.9" cy="355.1" r="0.38" fill="#ec1f1f"/><circle cx="107.9" cy="345.9" r="0.38" fill="#ec1f1f"/><circle cx="85.9" cy="342.8" r="0.38" fill="#ec1f1f"/><circle cx="94.8" cy="360.7" r="0.38" fill="#ec1f1f"/><circle cx="108.3" cy="323.0" r="0.38" fill="#ec1f1f"/><circle cx="92.0" cy="339.4" r="0.38" fill="#ec1f1f"/><circle cx="97.2" cy="338.0" r="0.38" fill="#ec1f1f"/><circle cx="88.7" cy="342.3" r="0.38" fill="#ec1f1f"/><circle cx="85.5" cy="352.1" r="0.38" fill="#ec1f1f"/><circle cx="108.4" cy="334.9" r="0.38" fill="#ec1f1f"/><circle cx="106.7" cy="337.6" r="0.38" fill="#ec1f1f"/><circle cx="107.7" cy="326.2" r="0.38" fill="#ec1f1f"/><circle cx="89.3" cy="342.2" r="0.38" fill="#ec1f1f"/><circle cx="89.6" cy="341.2" r="0.38" fill="#ec1f1f"/><circle cx="107.5" cy="325.9" r="0.38" fill="#ec1f1f"/><circle cx="108.8" cy="336.3" r="0.38" fill="#ec1f1f"/><circle cx="107.3" cy="325.1" r="0.38" fill="#ec1f1f"/><circle cx="86.4" cy="342.6" r="0.38" fill="#ec1f1f"/><circle cx="106.8" cy="345.8" r="0.38" fill="#ec1f1f"/><circle cx="90.7" cy="340.5" r="0.38" fill="#ec1f1f"/><circle cx="101.2" cy="359.0" r="0.38" fill="#ec1f1f"/><circle cx="94.3" cy="362.1" r="0.38" fill="#ec1f1f"/><circle cx="108.7" cy="335.5" r="0.38" fill="#ec1f1f"/><circle cx="106.9" cy="357.2" r="0.38" fill="#ec1f1f"/><circle cx="111.7" cy="328.0" r="0.38" fill="#ec1f1f"/><circle cx="93.7" cy="362.2" r="0.38" fill="#ec1f1f"/><circle cx="85.3" cy="347.4" r="0.38" fill="#ec1f1f"/><circle cx="98.2" cy="337.2" r="0.38" fill="#ec1f1f"/><circle cx="99.2" cy="337.0" r="0.38" fill="#ec1f1f"/><circle cx="105.7" cy="330.4" r="0.38" fill="#ec1f1f"/><circle cx="110.7" cy="321.3" r="0.38" fill="#ec1f1f"/><circle cx="86.0" cy="357.2" r="0.38" fill="#ec1f1f"/><circle cx="110.2" cy="322.5" r="0.38" fill="#ec1f1f"/><circle cx="86.8" cy="342.4" r="0.38" fill="#ec1f1f"/><circle cx="85.4" cy="344.2" r="0.38" fill="#ec1f1f"/><circle cx="102.7" cy="358.6" r="0.38" fill="#ec1f1f"/><circle cx="106.4" cy="337.9" r="0.38" fill="#ec1f1f"/><circle cx="105.6" cy="331.7" r="0.38" fill="#ec1f1f"/><circle cx="107.4" cy="346.7" r="0.38" fill="#ec1f1f"/><circle cx="106.5" cy="346.4" r="0.38" fill="#ec1f1f"/><circle cx="107.9" cy="334.3" r="0.38" fill="#ec1f1f"/><circle cx="108.4" cy="333.4" r="0.38" fill="#ec1f1f"/><circle cx="109.5" cy="353.1" r="0.38" fill="#ec1f1f"/><circle cx="85.1" cy="344.3" r="0.38" fill="#ec1f1f"/><circle cx="107.3" cy="355.7" r="0.38" fill="#ec1f1f"/><circle cx="87.9" cy="342.6" r="0.38" fill="#ec1f1f"/><circle cx="93.4" cy="338.7" r="0.38" fill="#ec1f1f"/><circle cx="104.8" cy="356.9" r="0.38" fill="#ec1f1f"/><circle cx="108.5" cy="350.1" r="0.38" fill="#ec1f1f"/><circle cx="103.7" cy="331.4" r="0.38" fill="#ec1f1f"/><circle cx="112.8" cy="323.0" r="0.38" fill="#ec1f1f"/><circle cx="95.5" cy="361.4" r="0.38" fill="#ec1f1f"/><circle cx="104.5" cy="356.4" r="0.38" fill="#ec1f1f"/><circle cx="109.4" cy="323.5" r="0.38" fill="#ec1f1f"/><circle cx="106.5" cy="342.1" r="0.38" fill="#ec1f1f"/><circle cx="93.8" cy="338.9" r="0.38" fill="#ec1f1f"/><circle cx="100.4" cy="335.8" r="0.38" fill="#ec1f1f"/>
<circle cx="93.4" cy="345.2" r="0.52" fill="#fff" opacity="0.85"/>
<circle cx="93.3" cy="346.1" r="0.60" fill="#fff" opacity="0.85"/>
<circle cx="92.4" cy="342.2" r="0.43" fill="#fff" opacity="0.85"/>
<circle cx="98.3" cy="352.5" r="0.45" fill="#fff" opacity="0.85"/>
<circle cx="103.4" cy="348.4" r="0.53" fill="#fff" opacity="0.85"/>
<circle cx="99.0" cy="351.0" r="0.46" fill="#fff" opacity="0.85"/>
<circle cx="91.9" cy="344.2" r="0.58" fill="#fff" opacity="0.85"/>
<circle cx="99.3" cy="346.9" r="0.44" fill="#fff" opacity="0.85"/>
<circle cx="99.4" cy="348.8" r="0.45" fill="#fff" opacity="0.85"/>
<circle cx="102.1" cy="350.6" r="0.52" fill="#fff" opacity="0.85"/>
<circle cx="91.6" cy="346.8" r="0.38" fill="#fff" opacity="0.85"/>
<circle cx="103.0" cy="345.5" r="0.31" fill="#fff" opacity="0.85"/>
<circle cx="91.2" cy="349.3" r="0.51" fill="#fff" opacity="0.85"/>
<circle cx="94.4" cy="348.6" r="0.35" fill="#fff" opacity="0.85"/>
<circle cx="99.8" cy="351.5" r="0.53" fill="#fff" opacity="0.85"/>
<circle cx="98.1" cy="348.2" r="0.30" fill="#fff" opacity="0.85"/>
<circle cx="92.8" cy="345.5" r="0.32" fill="#fff" opacity="0.85"/>
<circle cx="100.3" cy="348.0" r="0.51" fill="#fff" opacity="0.85"/>
<circle cx="103.6" cy="349.2" r="0.43" fill="#fff" opacity="0.85"/>
<circle cx="102.7" cy="349.3" r="0.40" fill="#fff" opacity="0.85"/>
<circle cx="100.5" cy="343.4" r="0.52" fill="#fff" opacity="0.85"/>
<circle cx="98.1" cy="348.4" r="0.32" fill="#fff" opacity="0.85"/>
<circle cx="101.7" cy="343.7" r="0.52" fill="#fff" opacity="0.85"/>
<circle cx="94.2" cy="346.5" r="0.39" fill="#fff" opacity="0.85"/>
<circle cx="94.0" cy="341.0" r="0.31" fill="#fff" opacity="0.85"/>
<circle cx="104.1" cy="345.7" r="0.34" fill="#fff" opacity="0.85"/>
<circle cx="95.7" cy="347.1" r="0.32" fill="#fff" opacity="0.85"/>
<circle cx="93.4" cy="350.4" r="0.55" fill="#fff" opacity="0.85"/>
<circle cx="91.2" cy="345.5" r="0.58" fill="#fff" opacity="0.85"/>
<circle cx="94.2" cy="349.6" r="0.58" fill="#fff" opacity="0.85"/>
<circle cx="99.2" cy="342.2" r="0.44" fill="#fff" opacity="0.85"/>
<circle cx="93.9" cy="346.7" r="0.48" fill="#fff" opacity="0.85"/>
<circle cx="97.2" cy="352.0" r="0.45" fill="#fff" opacity="0.85"/>
<circle cx="91.5" cy="349.7" r="0.38" fill="#fff" opacity="0.85"/>
<circle cx="91.8" cy="345.2" r="0.45" fill="#fff" opacity="0.85"/>
<circle cx="94.6" cy="346.3" r="0.51" fill="#fff" opacity="0.85"/>
<circle cx="97.1" cy="345.5" r="0.47" fill="#fff" opacity="0.85"/>
<circle cx="93.0" cy="349.9" r="0.43" fill="#fff" opacity="0.85"/>
<circle cx="100.7" cy="344.6" r="0.49" fill="#fff" opacity="0.85"/>
<circle cx="91.5" cy="346.8" r="0.45" fill="#fff" opacity="0.85"/>
<circle cx="96.3" cy="351.2" r="0.54" fill="#fff" opacity="0.85"/>
<circle cx="102.3" cy="342.0" r="0.40" fill="#fff" opacity="0.85"/>
<circle cx="91.8" cy="342.8" r="0.48" fill="#fff" opacity="0.85"/>
<circle cx="98.4" cy="347.5" r="0.47" fill="#fff" opacity="0.85"/>
<circle cx="97.3" cy="351.8" r="0.55" fill="#fff" opacity="0.85"/>
<circle cx="103.5" cy="344.3" r="0.31" fill="#fff" opacity="0.85"/>
<circle cx="99.5" cy="346.7" r="0.52" fill="#fff" opacity="0.85"/>
<circle cx="103.0" cy="350.7" r="0.51" fill="#fff" opacity="0.85"/>
<circle cx="94.0" cy="350.6" r="0.49" fill="#fff" opacity="0.85"/>
<circle cx="96.5" cy="347.5" r="0.36" fill="#fff" opacity="0.85"/>
<circle cx="103.0" cy="346.6" r="0.52" fill="#fff" opacity="0.85"/>
<circle cx="103.2" cy="347.3" r="0.48" fill="#fff" opacity="0.85"/>
<circle cx="96.3" cy="342.8" r="0.54" fill="#fff" opacity="0.85"/>
<circle cx="94.2" cy="342.9" r="0.53" fill="#fff" opacity="0.85"/>
<circle cx="91.5" cy="345.1" r="0.49" fill="#fff" opacity="0.85"/>
<circle cx="101.9" cy="345.8" r="0.36" fill="#fff" opacity="0.85"/>
<circle cx="94.9" cy="348.1" r="0.59" fill="#fff" opacity="0.85"/>
<circle cx="99.7" cy="352.5" r="0.55" fill="#fff" opacity="0.85"/>
<circle cx="95.7" cy="347.1" r="0.55" fill="#fff" opacity="0.85"/>
<circle cx="101.0" cy="345.4" r="0.36" fill="#fff" opacity="0.85"/>
<circle cx="101.2" cy="343.7" r="0.38" fill="#fff" opacity="0.85"/>
<circle cx="92.5" cy="350.0" r="0.49" fill="#fff" opacity="0.85"/>
<circle cx="90.5" cy="348.4" r="0.60" fill="#fff" opacity="0.85"/>
<circle cx="94.0" cy="341.4" r="0.33" fill="#fff" opacity="0.85"/>
<circle cx="95.4" cy="352.1" r="0.55" fill="#fff" opacity="0.85"/>
<circle cx="92.7" cy="343.2" r="0.31" fill="#fff" opacity="0.85"/>
<circle cx="92.6" cy="344.4" r="0.44" fill="#fff" opacity="0.85"/>
<circle cx="97.7" cy="343.9" r="0.57" fill="#fff" opacity="0.85"/>
<circle cx="100.7" cy="348.1" r="0.38" fill="#fff" opacity="0.85"/>
<circle cx="95.3" cy="352.2" r="0.42" fill="#fff" opacity="0.85"/>
<circle cx="96.4" cy="341.7" r="0.51" fill="#fff" opacity="0.85"/>
<circle cx="95.5" cy="345.2" r="0.53" fill="#fff" opacity="0.85"/>
<circle cx="99.6" cy="350.8" r="0.32" fill="#fff" opacity="0.85"/>
<circle cx="97.2" cy="345.5" r="0.34" fill="#fff" opacity="0.85"/>
<circle cx="93.2" cy="348.4" r="0.57" fill="#fff" opacity="0.85"/>
<circle cx="94.1" cy="344.9" r="0.32" fill="#fff" opacity="0.85"/>
<circle cx="91.0" cy="343.8" r="0.37" fill="#fff" opacity="0.85"/>
<circle cx="96.3" cy="351.4" r="0.32" fill="#fff" opacity="0.85"/>
<circle cx="96.8" cy="341.1" r="0.54" fill="#fff" opacity="0.85"/>
<circle cx="97.6" cy="341.3" r="0.52" fill="#fff" opacity="0.85"/>
<circle cx="93.1" cy="350.8" r="0.45" fill="#fff" opacity="0.85"/>
<circle cx="92.3" cy="346.9" r="0.43" fill="#fff" opacity="0.85"/>
<circle cx="90.8" cy="347.7" r="0.46" fill="#fff" opacity="0.85"/>
<circle cx="100.6" cy="344.4" r="0.48" fill="#fff" opacity="0.85"/>
<circle cx="91.6" cy="347.4" r="0.37" fill="#fff" opacity="0.85"/>
<circle cx="102.1" cy="342.1" r="0.39" fill="#fff" opacity="0.85"/>
<circle cx="97.7" cy="342.7" r="0.34" fill="#fff" opacity="0.85"/>
<circle cx="104.1" cy="344.0" r="0.36" fill="#fff" opacity="0.85"/>
<circle cx="95.2" cy="352.5" r="0.52" fill="#fff" opacity="0.85"/>
<circle cx="104.2" cy="347.7" r="0.40" fill="#fff" opacity="0.85"/>
<circle cx="100.3" cy="352.4" r="0.57" fill="#fff" opacity="0.85"/>
<circle cx="102.9" cy="349.4" r="0.54" fill="#fff" opacity="0.85"/>
<circle cx="93.2" cy="348.0" r="0.35" fill="#fff" opacity="0.85"/>
<circle cx="104.9" cy="347.2" r="0.35" fill="#fff" opacity="0.85"/>
<circle cx="99.3" cy="349.0" r="0.56" fill="#fff" opacity="0.85"/>
<circle cx="93.7" cy="343.4" r="0.47" fill="#fff" opacity="0.85"/>
<circle cx="91.7" cy="350.2" r="0.44" fill="#fff" opacity="0.85"/>
<circle cx="90.9" cy="348.2" r="0.57" fill="#fff" opacity="0.85"/>
<circle cx="98.2" cy="351.8" r="0.40" fill="#fff" opacity="0.85"/>
<circle cx="92.7" cy="349.0" r="0.47" fill="#fff" opacity="0.85"/>
<circle cx="100.3" cy="352.0" r="0.43" fill="#fff" opacity="0.85"/>
<circle cx="98.6" cy="352.2" r="0.37" fill="#fff" opacity="0.85"/>
<circle cx="97.8" cy="347.1" r="0.39" fill="#fff" opacity="0.85"/>
<circle cx="103.2" cy="343.5" r="0.53" fill="#fff" opacity="0.85"/>
<circle cx="95.4" cy="341.3" r="0.59" fill="#fff" opacity="0.85"/>
<circle cx="100.9" cy="342.4" r="0.30" fill="#fff" opacity="0.85"/>
<circle cx="99.5" cy="344.1" r="0.35" fill="#fff" opacity="0.85"/>
<circle cx="95.9" cy="350.4" r="0.40" fill="#fff" opacity="0.85"/>
<circle cx="98.1" cy="342.0" r="0.47" fill="#fff" opacity="0.85"/>
<circle cx="104.7" cy="348.2" r="0.44" fill="#fff" opacity="0.85"/>
<circle cx="95.1" cy="351.0" r="0.47" fill="#fff" opacity="0.85"/>
<circle cx="100.8" cy="346.1" r="0.42" fill="#fff" opacity="0.85"/>
<circle cx="101.0" cy="341.9" r="0.40" fill="#fff" opacity="0.85"/>
<circle cx="92.3" cy="342.3" r="0.56" fill="#fff" opacity="0.85"/>
<circle cx="93.6" cy="350.8" r="0.31" fill="#fff" opacity="0.85"/>
<circle cx="104.6" cy="346.5" r="0.52" fill="#fff" opacity="0.85"/>
<circle cx="102.6" cy="343.6" r="0.33" fill="#fff" opacity="0.85"/>
<circle cx="94.9" cy="351.3" r="0.53" fill="#fff" opacity="0.85"/>
<circle cx="102.8" cy="346.1" r="0.51" fill="#fff" opacity="0.85"/>
<circle cx="97.4" cy="345.3" r="0.59" fill="#fff" opacity="0.85"/>
<circle cx="103.7" cy="347.1" r="0.34" fill="#fff" opacity="0.85"/>
<circle cx="99.0" cy="341.2" r="0.40" fill="#fff" opacity="0.85"/>
<circle cx="98.2" cy="347.0" r="0.49" fill="#fff" opacity="0.85"/>
<circle cx="93.8" cy="344.6" r="0.53" fill="#fff" opacity="0.85"/>
<circle cx="93.7" cy="348.9" r="0.58" fill="#fff" opacity="0.85"/>
<circle cx="103.7" cy="348.1" r="0.43" fill="#fff" opacity="0.85"/>
<circle cx="102.3" cy="346.1" r="0.34" fill="#fff" opacity="0.85"/>
<circle cx="94.3" cy="351.2" r="0.49" fill="#fff" opacity="0.85"/>
<circle cx="93.0" cy="351.6" r="0.58" fill="#fff" opacity="0.85"/>
<circle cx="100.4" cy="345.1" r="0.52" fill="#fff" opacity="0.85"/>
<circle cx="100.0" cy="348.3" r="0.54" fill="#fff" opacity="0.85"/>
<circle cx="97.9" cy="347.6" r="0.38" fill="#fff" opacity="0.85"/>
<circle cx="91.5" cy="346.5" r="0.38" fill="#fff" opacity="0.85"/>
<circle cx="96.7" cy="348.9" r="0.36" fill="#fff" opacity="0.85"/>
<circle cx="103.0" cy="348.3" r="0.36" fill="#fff" opacity="0.85"/>
<circle cx="99.5" cy="349.8" r="0.51" fill="#fff" opacity="0.85"/>
<circle cx="99.4" cy="343.7" r="0.48" fill="#fff" opacity="0.85"/>
<circle cx="95.3" cy="348.2" r="0.40" fill="#fff" opacity="0.85"/>
<circle cx="96.0" cy="348.1" r="0.36" fill="#fff" opacity="0.85"/>
<circle cx="104.7" cy="347.6" r="0.42" fill="#fff" opacity="0.85"/>
<circle cx="92.6" cy="346.3" r="0.31" fill="#fff" opacity="0.85"/>
<circle cx="96.5" cy="352.9" r="0.55" fill="#fff" opacity="0.85"/>
<circle cx="104.7" cy="346.4" r="0.45" fill="#fff" opacity="0.85"/>
<circle cx="98.8" cy="341.8" r="0.41" fill="#fff" opacity="0.85"/>
<defs><linearGradient id="pg" gradientUnits="userSpaceOnUse" x1="30" y1="348" x2="44" y2="338"><stop offset="0" stop-color="#5a3fb8"/><stop offset="1" stop-color="#8a3eb3"/></linearGradient><linearGradient id="spg" gradientUnits="userSpaceOnUse" x1="0" y1="300" x2="0" y2="322"><stop offset="0" stop-color="#4a32b6"/><stop offset="1" stop-color="#4a32b6" stop-opacity="0"/></linearGradient></defs>
<path d="M46.9,292.8 C47.2,292.5 47.9,293.8 48.1,295.0 C48.3,296.2 47.8,298.3 47.9,300.0 C48.0,301.7 48.3,303.5 48.7,305.0 C49.1,306.5 49.7,307.4 50.5,309.0 C51.3,310.6 52.6,312.3 53.4,314.4 C54.2,316.5 55.0,318.8 55.4,321.8 C55.8,324.8 56.0,328.8 55.9,332.2 C55.8,335.6 55.7,339.6 55.0,342.5 C54.3,345.4 53.2,347.8 51.7,349.9 C50.2,352.0 48.0,353.6 45.8,355.0 C43.6,356.4 40.9,357.7 38.4,358.2 C35.9,358.7 33.2,358.7 31.0,358.2 C28.8,357.7 26.6,356.8 25.1,355.2 C23.6,353.6 22.5,350.8 21.9,348.4 C21.3,346.0 21.0,343.1 21.3,341.0 C21.6,338.9 22.2,337.4 23.6,335.8 C25.0,334.2 27.3,332.8 29.5,331.4 C31.7,330.0 34.7,328.8 36.9,327.7 C39.1,326.6 41.2,325.8 42.8,324.8 C44.4,323.8 45.8,323.3 46.5,321.8 C47.2,320.3 47.2,318.0 47.3,316.0 C47.4,314.0 47.3,312.2 47.2,310.0 C47.1,307.8 47.1,305.2 46.9,303.0 C46.7,300.8 46.0,298.7 46.0,297.0 C46.0,295.3 46.5,293.1 46.9,292.8Z" fill="url(#pg)" />
<circle cx="54.3" cy="340.7" r="0.38" fill="#8a3eb3"/><circle cx="49.2" cy="352.8" r="0.38" fill="#8a3eb3"/><circle cx="47.3" cy="300.9" r="0.38" fill="#8a3eb3"/><circle cx="21.9" cy="344.3" r="0.38" fill="#8a3eb3"/><circle cx="53.2" cy="314.8" r="0.38" fill="#8a3eb3"/><circle cx="55.4" cy="343.2" r="0.38" fill="#8a3eb3"/><circle cx="28.9" cy="332.0" r="0.38" fill="#8a3eb3"/><circle cx="46.9" cy="297.0" r="0.38" fill="#8a3eb3"/><circle cx="47.6" cy="319.6" r="0.38" fill="#8a3eb3"/><circle cx="49.0" cy="305.6" r="0.38" fill="#8a3eb3"/><circle cx="48.6" cy="297.9" r="0.38" fill="#8a3eb3"/><circle cx="34.2" cy="358.2" r="0.38" fill="#8a3eb3"/><circle cx="30.4" cy="358.9" r="0.38" fill="#8a3eb3"/><circle cx="33.9" cy="329.1" r="0.38" fill="#8a3eb3"/><circle cx="22.5" cy="346.8" r="0.38" fill="#8a3eb3"/><circle cx="46.4" cy="310.8" r="0.38" fill="#8a3eb3"/><circle cx="54.5" cy="316.0" r="0.38" fill="#8a3eb3"/><circle cx="46.8" cy="321.4" r="0.38" fill="#8a3eb3"/><circle cx="47.4" cy="302.2" r="0.38" fill="#8a3eb3"/><circle cx="21.4" cy="341.0" r="0.38" fill="#8a3eb3"/><circle cx="47.5" cy="297.6" r="0.38" fill="#8a3eb3"/><circle cx="44.3" cy="356.3" r="0.38" fill="#8a3eb3"/><circle cx="48.6" cy="353.5" r="0.38" fill="#8a3eb3"/><circle cx="46.2" cy="320.7" r="0.38" fill="#8a3eb3"/><circle cx="36.4" cy="357.5" r="0.38" fill="#8a3eb3"/><circle cx="55.0" cy="323.1" r="0.38" fill="#8a3eb3"/><circle cx="40.7" cy="325.9" r="0.38" fill="#8a3eb3"/><circle cx="40.5" cy="356.9" r="0.38" fill="#8a3eb3"/><circle cx="53.5" cy="348.4" r="0.38" fill="#8a3eb3"/><circle cx="51.3" cy="312.5" r="0.38" fill="#8a3eb3"/><circle cx="40.2" cy="357.7" r="0.38" fill="#8a3eb3"/><circle cx="22.3" cy="344.3" r="0.38" fill="#8a3eb3"/><circle cx="46.9" cy="315.0" r="0.38" fill="#8a3eb3"/><circle cx="55.2" cy="340.9" r="0.38" fill="#8a3eb3"/><circle cx="23.0" cy="348.3" r="0.38" fill="#8a3eb3"/><circle cx="49.2" cy="352.3" r="0.38" fill="#8a3eb3"/><circle cx="28.2" cy="331.7" r="0.38" fill="#8a3eb3"/><circle cx="41.3" cy="325.0" r="0.38" fill="#8a3eb3"/><circle cx="44.2" cy="323.3" r="0.38" fill="#8a3eb3"/><circle cx="21.0" cy="341.2" r="0.38" fill="#8a3eb3"/><circle cx="56.0" cy="333.9" r="0.38" fill="#8a3eb3"/><circle cx="44.5" cy="323.1" r="0.38" fill="#8a3eb3"/><circle cx="54.3" cy="340.9" r="0.38" fill="#8a3eb3"/><circle cx="50.6" cy="309.5" r="0.38" fill="#8a3eb3"/><circle cx="45.8" cy="297.2" r="0.38" fill="#8a3eb3"/><circle cx="43.2" cy="355.7" r="0.38" fill="#8a3eb3"/><circle cx="46.2" cy="302.7" r="0.38" fill="#8a3eb3"/><circle cx="41.1" cy="325.2" r="0.38" fill="#8a3eb3"/><circle cx="46.7" cy="295.1" r="0.38" fill="#8a3eb3"/><circle cx="22.9" cy="351.6" r="0.38" fill="#8a3eb3"/><circle cx="47.1" cy="295.2" r="0.38" fill="#8a3eb3"/><circle cx="26.7" cy="355.2" r="0.38" fill="#8a3eb3"/><circle cx="47.7" cy="310.1" r="0.38" fill="#8a3eb3"/><circle cx="55.5" cy="341.0" r="0.38" fill="#8a3eb3"/><circle cx="46.4" cy="293.7" r="0.38" fill="#8a3eb3"/><circle cx="21.6" cy="347.4" r="0.38" fill="#8a3eb3"/><circle cx="49.9" cy="309.4" r="0.38" fill="#8a3eb3"/><circle cx="51.5" cy="311.5" r="0.38" fill="#8a3eb3"/><circle cx="52.6" cy="313.5" r="0.38" fill="#8a3eb3"/><circle cx="45.9" cy="297.0" r="0.38" fill="#8a3eb3"/><circle cx="25.7" cy="355.4" r="0.38" fill="#8a3eb3"/><circle cx="47.6" cy="305.3" r="0.38" fill="#8a3eb3"/><circle cx="47.0" cy="313.4" r="0.38" fill="#8a3eb3"/><circle cx="54.3" cy="345.3" r="0.38" fill="#8a3eb3"/><circle cx="46.4" cy="292.6" r="0.38" fill="#8a3eb3"/><circle cx="35.0" cy="328.2" r="0.38" fill="#8a3eb3"/><circle cx="53.2" cy="312.2" r="0.38" fill="#8a3eb3"/><circle cx="29.9" cy="357.3" r="0.38" fill="#8a3eb3"/><circle cx="34.0" cy="359.0" r="0.38" fill="#8a3eb3"/><circle cx="22.0" cy="345.2" r="0.38" fill="#8a3eb3"/><circle cx="30.1" cy="330.4" r="0.38" fill="#8a3eb3"/><circle cx="52.3" cy="350.2" r="0.38" fill="#8a3eb3"/><circle cx="28.9" cy="357.8" r="0.38" fill="#8a3eb3"/><circle cx="23.6" cy="337.2" r="0.38" fill="#8a3eb3"/><circle cx="47.7" cy="314.0" r="0.38" fill="#8a3eb3"/><circle cx="21.2" cy="346.0" r="0.38" fill="#8a3eb3"/><circle cx="48.7" cy="297.5" r="0.38" fill="#8a3eb3"/><circle cx="21.5" cy="346.0" r="0.38" fill="#8a3eb3"/><circle cx="33.8" cy="329.4" r="0.38" fill="#8a3eb3"/><circle cx="56.4" cy="326.1" r="0.38" fill="#8a3eb3"/><circle cx="47.2" cy="306.7" r="0.38" fill="#8a3eb3"/><circle cx="45.8" cy="295.8" r="0.38" fill="#8a3eb3"/><circle cx="55.1" cy="334.8" r="0.38" fill="#8a3eb3"/><circle cx="47.9" cy="311.2" r="0.38" fill="#8a3eb3"/><circle cx="21.7" cy="339.7" r="0.38" fill="#8a3eb3"/><circle cx="54.0" cy="344.4" r="0.38" fill="#8a3eb3"/><circle cx="54.6" cy="343.5" r="0.38" fill="#8a3eb3"/><circle cx="44.4" cy="354.7" r="0.38" fill="#8a3eb3"/><circle cx="22.3" cy="337.5" r="0.38" fill="#8a3eb3"/><circle cx="50.8" cy="351.4" r="0.38" fill="#8a3eb3"/>
<path d="M46.9,292.8 C47.2,292.5 47.9,293.8 48.1,295.0 C48.3,296.2 47.8,298.3 47.9,300.0 C48.0,301.7 48.3,303.5 48.7,305.0 C49.1,306.5 49.7,307.4 50.5,309.0 C51.3,310.6 52.7,312.7 53.4,314.4 C54.1,316.1 55.5,317.9 54.5,319.0 C53.5,320.1 48.7,322.5 47.5,321.0 C46.3,319.5 47.3,313.0 47.2,310.0 C47.1,307.0 47.1,305.2 46.9,303.0 C46.7,300.8 46.0,298.7 46.0,297.0 C46.0,295.3 46.5,293.1 46.9,292.8Z" fill="url(#spg)" />
<circle cx="49.6" cy="300.8" r="0.8" fill="#c8c8c8"/>
<line x1="40.5" y1="315.6" x2="45.8" y2="320.8" stroke="#8a3eb3" stroke-width="0.9"/>
<circle cx="36.2" cy="337.4" r="0.35" fill="#d8c8f0"/>
<circle cx="41.9" cy="347.6" r="0.35" fill="#d8c8f0"/>
<circle cx="38.1" cy="355.4" r="0.35" fill="#d8c8f0"/>
<circle cx="34.9" cy="346.0" r="0.35" fill="#d8c8f0"/>
<circle cx="25.8" cy="337.8" r="0.35" fill="#d8c8f0"/>
<circle cx="30.2" cy="338.9" r="0.35" fill="#d8c8f0"/>
<circle cx="29.7" cy="337.3" r="0.35" fill="#d8c8f0"/>
<circle cx="49.8" cy="347.3" r="0.35" fill="#d8c8f0"/>
<circle cx="38.2" cy="346.8" r="0.35" fill="#d8c8f0"/>
<circle cx="32.6" cy="353.2" r="0.35" fill="#d8c8f0"/>
<circle cx="44.9" cy="344.0" r="0.35" fill="#d8c8f0"/>
<circle cx="25.6" cy="335.0" r="0.35" fill="#d8c8f0"/>
<circle cx="26.0" cy="350.2" r="0.35" fill="#d8c8f0"/>
<circle cx="25.8" cy="344.4" r="0.35" fill="#d8c8f0"/>
<path d="M54.6,386.3 C54.9,386.4 55.7,388.1 56.2,389.0 C56.8,389.9 57.3,390.4 57.9,391.7 C58.5,393.0 59.2,395.0 59.6,396.7 C60.0,398.4 60.4,400.5 60.0,401.7 C59.6,402.9 58.4,403.6 57.5,403.8 C56.6,403.9 55.3,403.1 54.5,402.5 C53.7,401.9 53.0,401.0 52.5,400.0 C52.0,399.0 51.6,397.9 51.7,396.7 C51.8,395.4 52.9,393.9 53.3,392.5 C53.7,391.1 54.0,389.3 54.2,388.3 C54.4,387.3 54.3,386.2 54.6,386.3Z" fill="#1b9a4c" />
<path d="M99.3,400.3 C99.9,399.8 102.7,399.7 104.5,399.9 C106.3,400.1 108.6,400.9 110.2,401.3 C111.8,401.7 113.6,401.4 114.2,402.2 C114.8,403.0 113.6,404.5 113.6,406.0 C113.6,407.5 114.0,409.2 114.2,411.0 C114.4,412.8 114.7,414.6 115.0,416.5 C115.3,418.4 115.9,421.0 115.9,422.2 C115.9,423.4 115.7,423.8 115.2,423.6 C114.7,423.4 113.8,422.4 113.0,421.2 C112.2,420.0 111.2,418.1 110.2,416.5 C109.2,414.9 108.2,413.3 107.3,411.7 C106.3,410.1 105.6,408.4 104.5,407.0 C103.4,405.6 101.6,404.3 100.7,403.2 C99.8,402.1 98.7,400.9 99.3,400.3Z" fill="#f29a30" />
<circle cx="107.8" cy="408.9" r="0.42" fill="#fff"/>
<circle cx="115.0" cy="422.9" r="0.60" fill="#fff"/>
<circle cx="110.9" cy="405.5" r="0.36" fill="#fff"/>
<circle cx="114.0" cy="421.4" r="0.63" fill="#fff"/>
<circle cx="108.1" cy="405.6" r="0.52" fill="#fff"/>
<circle cx="109.8" cy="406.1" r="0.50" fill="#fff"/>
<circle cx="103.9" cy="404.0" r="0.70" fill="#fff"/>
<circle cx="108.4" cy="411.9" r="0.36" fill="#fff"/>
<circle cx="113.1" cy="417.0" r="0.37" fill="#fff"/>
<circle cx="101.9" cy="402.7" r="0.50" fill="#fff"/>
<circle cx="113.5" cy="419.2" r="0.46" fill="#fff"/>
<circle cx="110.3" cy="410.3" r="0.70" fill="#fff"/>
<circle cx="111.1" cy="411.4" r="0.53" fill="#fff"/>
<circle cx="114.4" cy="414.9" r="0.58" fill="#fff"/>
<circle cx="114.0" cy="417.6" r="0.48" fill="#fff"/>
<circle cx="115.3" cy="422.7" r="0.33" fill="#fff"/>
<circle cx="114.0" cy="415.4" r="0.61" fill="#fff"/>
<circle cx="104.9" cy="406.9" r="0.37" fill="#fff"/>
<circle cx="101.1" cy="402.7" r="0.37" fill="#fff"/>
<circle cx="112.9" cy="412.9" r="0.64" fill="#fff"/>
<circle cx="113.4" cy="403.0" r="0.41" fill="#fff"/>
<circle cx="113.7" cy="417.9" r="0.52" fill="#fff"/>
<circle cx="112.2" cy="403.3" r="0.64" fill="#fff"/>
<circle cx="108.2" cy="409.2" r="0.63" fill="#fff"/>
<circle cx="108.6" cy="405.2" r="0.46" fill="#fff"/>
<circle cx="109.8" cy="408.4" r="0.39" fill="#fff"/>
<path d="M117.4,425.6 C118.0,425.1 119.7,425.1 121.0,425.0 C122.3,424.9 124.0,424.5 125.3,424.8 C126.5,425.1 127.5,426.4 128.5,426.6 C129.5,426.8 130.4,426.2 131.5,426.0 C132.6,425.8 133.7,425.8 134.8,425.6 C135.9,425.4 137.7,423.7 138.0,424.6 C138.3,425.5 136.8,428.6 136.6,431.1 C136.3,433.6 136.8,437.0 136.5,439.5 C136.2,442.0 135.8,444.3 134.8,445.9 C133.8,447.5 132.0,448.8 130.6,449.0 C129.2,449.2 127.8,448.3 126.4,446.9 C125.0,445.5 123.4,442.9 122.2,440.6 C121.0,438.3 119.8,435.3 119.0,433.2 C118.2,431.1 117.7,429.3 117.4,428.0 C117.1,426.7 116.8,426.1 117.4,425.6Z" fill="#3fab4b" />
<circle cx="130.0" cy="448.2" r="0.38" fill="#3fab4b"/><circle cx="130.3" cy="448.8" r="0.38" fill="#3fab4b"/><circle cx="117.7" cy="426.6" r="0.38" fill="#3fab4b"/><circle cx="117.2" cy="428.2" r="0.38" fill="#3fab4b"/><circle cx="135.8" cy="433.0" r="0.38" fill="#3fab4b"/><circle cx="134.9" cy="443.9" r="0.38" fill="#3fab4b"/><circle cx="136.8" cy="439.4" r="0.38" fill="#3fab4b"/><circle cx="122.3" cy="439.5" r="0.38" fill="#3fab4b"/><circle cx="134.4" cy="445.9" r="0.38" fill="#3fab4b"/><circle cx="136.6" cy="431.1" r="0.38" fill="#3fab4b"/><circle cx="123.3" cy="424.7" r="0.38" fill="#3fab4b"/><circle cx="123.8" cy="442.3" r="0.38" fill="#3fab4b"/><circle cx="119.9" cy="433.5" r="0.38" fill="#3fab4b"/><circle cx="130.6" cy="448.8" r="0.38" fill="#3fab4b"/><circle cx="120.6" cy="437.7" r="0.38" fill="#3fab4b"/><circle cx="125.4" cy="424.7" r="0.38" fill="#3fab4b"/><circle cx="136.1" cy="438.7" r="0.38" fill="#3fab4b"/><circle cx="117.6" cy="429.2" r="0.38" fill="#3fab4b"/><circle cx="138.2" cy="425.3" r="0.38" fill="#3fab4b"/><circle cx="119.8" cy="436.8" r="0.38" fill="#3fab4b"/><circle cx="116.6" cy="428.2" r="0.38" fill="#3fab4b"/><circle cx="136.0" cy="431.5" r="0.38" fill="#3fab4b"/><circle cx="117.1" cy="428.4" r="0.38" fill="#3fab4b"/><circle cx="119.3" cy="434.6" r="0.38" fill="#3fab4b"/><circle cx="132.5" cy="447.0" r="0.38" fill="#3fab4b"/><circle cx="121.2" cy="437.5" r="0.38" fill="#3fab4b"/><circle cx="136.0" cy="425.0" r="0.38" fill="#3fab4b"/><circle cx="117.5" cy="426.3" r="0.38" fill="#3fab4b"/><circle cx="135.3" cy="445.3" r="0.38" fill="#3fab4b"/><circle cx="136.2" cy="437.3" r="0.38" fill="#3fab4b"/><circle cx="116.8" cy="426.6" r="0.38" fill="#3fab4b"/><circle cx="123.0" cy="442.1" r="0.38" fill="#3fab4b"/><circle cx="122.3" cy="424.3" r="0.38" fill="#3fab4b"/><circle cx="121.3" cy="438.2" r="0.38" fill="#3fab4b"/><circle cx="126.3" cy="424.4" r="0.38" fill="#3fab4b"/><circle cx="126.3" cy="424.5" r="0.38" fill="#3fab4b"/><circle cx="125.3" cy="444.1" r="0.38" fill="#3fab4b"/><circle cx="137.2" cy="435.6" r="0.38" fill="#3fab4b"/><circle cx="117.7" cy="426.7" r="0.38" fill="#3fab4b"/><circle cx="121.5" cy="425.4" r="0.38" fill="#3fab4b"/>
<path d="M113.8,402.2 C114.5,401.2 116.3,400.2 117.8,399.4 C119.2,398.6 120.9,398.1 122.5,397.5 C124.1,396.9 125.9,396.1 127.3,395.6 C128.7,395.2 130.5,394.0 131.1,394.8 C131.7,395.6 131.6,398.9 131.1,400.3 C130.6,401.7 129.0,402.1 128.2,403.2 C127.4,404.3 126.8,405.6 126.3,407.0 C125.8,408.4 125.6,410.1 125.4,411.7 C125.2,413.3 125.2,415.1 125.4,416.5 C125.6,417.9 126.0,419.0 126.3,420.3 C126.6,421.6 127.3,423.2 127.3,424.1 C127.3,425.1 127.3,425.6 126.3,426.0 C125.2,426.4 122.6,426.3 121.0,426.3 C119.4,426.3 117.6,426.7 116.8,426.0 C116.0,425.3 116.2,423.8 115.9,422.2 C115.6,420.6 115.3,418.4 115.0,416.5 C114.7,414.6 114.2,412.7 114.0,410.8 C113.8,408.9 113.5,406.5 113.5,405.1 C113.5,403.7 113.1,403.1 113.8,402.2Z" fill="#ee5336" />
<circle cx="124.7" cy="396.3" r="0.38" fill="#ee5336"/><circle cx="124.7" cy="411.1" r="0.38" fill="#ee5336"/><circle cx="125.8" cy="414.7" r="0.38" fill="#ee5336"/><circle cx="115.6" cy="415.4" r="0.38" fill="#ee5336"/><circle cx="131.6" cy="397.7" r="0.38" fill="#ee5336"/><circle cx="121.5" cy="398.3" r="0.38" fill="#ee5336"/><circle cx="127.8" cy="396.6" r="0.38" fill="#ee5336"/><circle cx="125.7" cy="409.3" r="0.38" fill="#ee5336"/><circle cx="120.1" cy="399.0" r="0.38" fill="#ee5336"/><circle cx="130.5" cy="397.2" r="0.38" fill="#ee5336"/><circle cx="115.4" cy="421.3" r="0.38" fill="#ee5336"/><circle cx="114.7" cy="416.6" r="0.38" fill="#ee5336"/><circle cx="126.6" cy="422.6" r="0.38" fill="#ee5336"/><circle cx="125.5" cy="413.0" r="0.38" fill="#ee5336"/><circle cx="126.5" cy="416.6" r="0.38" fill="#ee5336"/><circle cx="125.6" cy="410.0" r="0.38" fill="#ee5336"/><circle cx="128.1" cy="404.8" r="0.38" fill="#ee5336"/><circle cx="125.1" cy="397.4" r="0.38" fill="#ee5336"/><circle cx="114.2" cy="401.9" r="0.38" fill="#ee5336"/><circle cx="126.1" cy="417.0" r="0.38" fill="#ee5336"/><circle cx="118.8" cy="400.1" r="0.38" fill="#ee5336"/><circle cx="126.3" cy="413.2" r="0.38" fill="#ee5336"/><circle cx="120.6" cy="426.8" r="0.38" fill="#ee5336"/><circle cx="123.1" cy="426.6" r="0.38" fill="#ee5336"/><circle cx="131.9" cy="397.7" r="0.38" fill="#ee5336"/><circle cx="125.8" cy="416.9" r="0.38" fill="#ee5336"/><circle cx="131.9" cy="395.9" r="0.38" fill="#ee5336"/><circle cx="127.4" cy="405.1" r="0.38" fill="#ee5336"/><circle cx="120.2" cy="398.8" r="0.38" fill="#ee5336"/><circle cx="124.2" cy="396.0" r="0.38" fill="#ee5336"/><circle cx="120.3" cy="398.6" r="0.38" fill="#ee5336"/><circle cx="124.5" cy="413.6" r="0.38" fill="#ee5336"/><circle cx="126.7" cy="419.3" r="0.38" fill="#ee5336"/><circle cx="126.0" cy="407.9" r="0.38" fill="#ee5336"/><circle cx="114.3" cy="416.0" r="0.38" fill="#ee5336"/><circle cx="129.1" cy="396.1" r="0.38" fill="#ee5336"/><circle cx="125.1" cy="412.8" r="0.38" fill="#ee5336"/><circle cx="121.7" cy="397.7" r="0.38" fill="#ee5336"/><circle cx="113.5" cy="410.8" r="0.38" fill="#ee5336"/><circle cx="114.3" cy="414.3" r="0.38" fill="#ee5336"/><circle cx="123.4" cy="426.3" r="0.38" fill="#ee5336"/><circle cx="130.0" cy="401.0" r="0.38" fill="#ee5336"/><circle cx="119.0" cy="426.3" r="0.38" fill="#ee5336"/><circle cx="116.1" cy="425.4" r="0.38" fill="#ee5336"/><circle cx="117.7" cy="426.8" r="0.38" fill="#ee5336"/><circle cx="115.6" cy="400.5" r="0.38" fill="#ee5336"/><circle cx="114.2" cy="411.8" r="0.38" fill="#ee5336"/><circle cx="125.9" cy="395.8" r="0.38" fill="#ee5336"/><circle cx="115.5" cy="401.9" r="0.38" fill="#ee5336"/><circle cx="125.8" cy="409.8" r="0.38" fill="#ee5336"/>
<path d="M137.2,397.8 C136.3,396.4 136.0,391.7 136.3,390.3 C136.6,388.9 137.8,389.5 138.9,389.4 C140.0,389.3 141.8,389.9 143.1,389.8 C144.4,389.7 145.4,389.2 146.5,388.6 C147.6,388.0 149.0,387.0 149.8,386.0 C150.6,385.0 151.5,383.7 151.5,382.7 C151.5,381.7 150.5,380.7 149.8,380.1 C149.1,379.5 147.3,379.5 147.3,379.1 C147.3,378.8 148.7,378.2 149.8,378.0 C150.9,377.8 153.0,377.6 154.1,377.8 C155.2,378.0 155.7,378.5 156.2,379.3 C156.7,380.1 156.8,381.4 157.0,382.7 C157.2,384.0 157.3,385.4 157.3,386.9 C157.3,388.4 157.2,390.3 157.0,391.9 C156.8,393.4 156.4,395.0 155.8,396.2 C155.2,397.4 154.2,398.6 153.2,399.1 C152.2,399.6 151.1,399.3 149.8,399.3 C148.5,399.3 147.0,399.0 145.6,398.9 C144.2,398.8 142.8,398.7 141.4,398.5 C140.0,398.3 138.0,399.2 137.2,397.8Z" fill="#e5229a" />
<circle cx="141.5" cy="398.8" r="0.38" fill="#e5229a"/><circle cx="142.7" cy="389.5" r="0.38" fill="#e5229a"/><circle cx="153.2" cy="399.7" r="0.38" fill="#e5229a"/><circle cx="140.2" cy="390.5" r="0.38" fill="#e5229a"/><circle cx="151.3" cy="382.0" r="0.38" fill="#e5229a"/><circle cx="155.5" cy="394.6" r="0.38" fill="#e5229a"/><circle cx="144.6" cy="398.5" r="0.38" fill="#e5229a"/><circle cx="156.4" cy="392.7" r="0.38" fill="#e5229a"/><circle cx="153.1" cy="399.6" r="0.38" fill="#e5229a"/><circle cx="157.4" cy="392.9" r="0.38" fill="#e5229a"/><circle cx="155.8" cy="397.4" r="0.38" fill="#e5229a"/><circle cx="135.9" cy="392.0" r="0.38" fill="#e5229a"/><circle cx="137.0" cy="391.3" r="0.38" fill="#e5229a"/><circle cx="140.3" cy="389.9" r="0.38" fill="#e5229a"/><circle cx="145.2" cy="389.3" r="0.38" fill="#e5229a"/><circle cx="157.4" cy="387.5" r="0.38" fill="#e5229a"/><circle cx="151.7" cy="384.4" r="0.38" fill="#e5229a"/><circle cx="148.7" cy="398.8" r="0.38" fill="#e5229a"/><circle cx="154.3" cy="378.4" r="0.38" fill="#e5229a"/><circle cx="136.0" cy="390.2" r="0.38" fill="#e5229a"/><circle cx="138.0" cy="389.7" r="0.38" fill="#e5229a"/><circle cx="153.2" cy="399.6" r="0.38" fill="#e5229a"/><circle cx="155.1" cy="377.6" r="0.38" fill="#e5229a"/><circle cx="150.6" cy="383.7" r="0.38" fill="#e5229a"/><circle cx="157.9" cy="384.3" r="0.38" fill="#e5229a"/><circle cx="154.2" cy="398.1" r="0.38" fill="#e5229a"/><circle cx="136.0" cy="393.0" r="0.38" fill="#e5229a"/><circle cx="137.4" cy="393.2" r="0.38" fill="#e5229a"/><circle cx="136.5" cy="393.3" r="0.38" fill="#e5229a"/><circle cx="139.6" cy="398.9" r="0.38" fill="#e5229a"/><circle cx="149.1" cy="377.7" r="0.38" fill="#e5229a"/><circle cx="156.6" cy="389.7" r="0.38" fill="#e5229a"/><circle cx="148.9" cy="386.0" r="0.38" fill="#e5229a"/><circle cx="146.5" cy="387.7" r="0.38" fill="#e5229a"/><circle cx="148.8" cy="378.0" r="0.38" fill="#e5229a"/><circle cx="157.6" cy="385.7" r="0.38" fill="#e5229a"/><circle cx="148.5" cy="378.6" r="0.38" fill="#e5229a"/><circle cx="155.4" cy="395.2" r="0.38" fill="#e5229a"/><circle cx="156.3" cy="393.5" r="0.38" fill="#e5229a"/><circle cx="156.0" cy="381.1" r="0.38" fill="#e5229a"/><circle cx="143.1" cy="398.9" r="0.38" fill="#e5229a"/><circle cx="138.4" cy="398.4" r="0.38" fill="#e5229a"/><circle cx="147.1" cy="399.8" r="0.38" fill="#e5229a"/><circle cx="150.7" cy="386.7" r="0.38" fill="#e5229a"/><circle cx="152.1" cy="399.5" r="0.38" fill="#e5229a"/><circle cx="156.3" cy="391.6" r="0.38" fill="#e5229a"/><circle cx="137.1" cy="391.5" r="0.38" fill="#e5229a"/><circle cx="147.3" cy="398.6" r="0.38" fill="#e5229a"/><circle cx="157.2" cy="385.8" r="0.38" fill="#e5229a"/><circle cx="157.0" cy="385.1" r="0.38" fill="#e5229a"/>
<path d="M140.1,375.1 C140.7,374.6 142.2,376.2 142.7,377.2 C143.2,378.2 143.3,379.5 143.1,381.0 C142.9,382.5 142.1,385.4 141.4,386.0 C140.7,386.6 139.2,385.8 138.9,384.8 C138.6,383.8 139.1,381.7 139.3,380.1 C139.5,378.5 139.5,375.6 140.1,375.1Z" fill="#ee3c50" />
<path d="M122.5,397.4 C122.5,396.3 125.9,395.9 127.3,395.4 C128.7,394.9 129.9,394.9 131.1,394.4 C132.3,393.9 133.5,393.2 134.5,392.6 C135.5,392.1 136.7,390.7 137.2,391.1 C137.7,391.5 137.6,393.7 137.6,395.0 C137.6,396.3 137.9,397.8 137.2,398.7 C136.5,399.6 134.6,400.2 133.5,400.6 C132.4,401.0 131.5,401.0 130.4,401.2 C129.3,401.4 128.3,402.6 127.0,402.0 C125.7,401.4 122.5,398.5 122.5,397.4Z" fill="#e9432f" />
<circle cx="150.7" cy="385.5" r="0.42" fill="#e5229a"/>
<circle cx="146.2" cy="380.7" r="0.41" fill="#e5229a"/>
<circle cx="143.7" cy="386.9" r="0.47" fill="#e5229a"/>
<circle cx="147.8" cy="379.9" r="0.48" fill="#e9432f"/>
<circle cx="150.2" cy="383.7" r="0.53" fill="#e5229a"/>
<circle cx="144.5" cy="379.7" r="0.43" fill="#ee3c50"/>
<circle cx="147.3" cy="385.2" r="0.53" fill="#e5229a"/>
<circle cx="149.0" cy="387.2" r="0.41" fill="#ee3c50"/>
<circle cx="149.1" cy="380.4" r="0.41" fill="#e9432f"/>
<circle cx="149.4" cy="383.4" r="0.45" fill="#e5229a"/>
<circle cx="148.4" cy="381.7" r="0.46" fill="#ee3c50"/>
<circle cx="152.4" cy="385.1" r="0.44" fill="#e5229a"/>
<circle cx="142.8" cy="379.3" r="0.47" fill="#ee3c50"/>
<circle cx="150.3" cy="385.1" r="0.40" fill="#e5229a"/>
<circle cx="144.2" cy="380.0" r="0.49" fill="#ee3c50"/>
<circle cx="151.8" cy="385.0" r="0.50" fill="#e5229a"/>
<circle cx="144.5" cy="383.9" r="0.51" fill="#e5229a"/>
<circle cx="146.9" cy="388.0" r="0.40" fill="#ee3c50"/>
<circle cx="147.2" cy="386.3" r="0.43" fill="#e9432f"/>
<circle cx="152.2" cy="381.8" r="0.36" fill="#e5229a"/>
<circle cx="151.7" cy="381.5" r="0.47" fill="#ee3c50"/>
<circle cx="142.5" cy="388.4" r="0.50" fill="#e9432f"/>
<circle cx="151.8" cy="387.5" r="0.35" fill="#e9432f"/>
<circle cx="145.7" cy="378.8" r="0.38" fill="#e5229a"/>
<circle cx="143.6" cy="386.9" r="0.55" fill="#e9432f"/>
<circle cx="147.6" cy="380.7" r="0.52" fill="#e5229a"/>
<circle cx="151.0" cy="388.7" r="0.51" fill="#ee3c50"/>
<circle cx="147.9" cy="378.9" r="0.44" fill="#ee3c50"/>
<circle cx="148.6" cy="383.6" r="0.44" fill="#e5229a"/>
<circle cx="151.5" cy="387.3" r="0.40" fill="#e5229a"/>
<circle cx="143.9" cy="386.7" r="0.38" fill="#e5229a"/>
<circle cx="146.6" cy="388.8" r="0.45" fill="#e5229a"/>
<circle cx="145.9" cy="384.2" r="0.46" fill="#e9432f"/>
<circle cx="150.1" cy="382.9" r="0.46" fill="#e5229a"/>
<circle cx="149.9" cy="379.7" r="0.36" fill="#ee3c50"/>
<circle cx="145.9" cy="381.9" r="0.52" fill="#e5229a"/>
<circle cx="152.5" cy="388.0" r="0.41" fill="#ee3c50"/>
<circle cx="147.8" cy="381.9" r="0.49" fill="#e5229a"/>
<circle cx="150.8" cy="383.4" r="0.52" fill="#e5229a"/>
<circle cx="152.7" cy="380.9" r="0.53" fill="#e5229a"/>
<circle cx="150.9" cy="380.3" r="0.46" fill="#e5229a"/>
<circle cx="152.3" cy="386.1" r="0.52" fill="#e5229a"/>
<circle cx="143.2" cy="386.7" r="0.44" fill="#e9432f"/>
<circle cx="147.5" cy="387.9" r="0.39" fill="#e5229a"/>
<circle cx="144.2" cy="378.9" r="0.36" fill="#ee3c50"/>
<circle cx="147.8" cy="379.4" r="0.54" fill="#ee3c50"/>
<circle cx="151.9" cy="384.4" r="0.45" fill="#e5229a"/>
<circle cx="144.3" cy="384.5" r="0.44" fill="#ee3c50"/>
<circle cx="142.7" cy="381.5" r="0.51" fill="#e9432f"/>
<circle cx="145.8" cy="380.2" r="0.55" fill="#e9432f"/>
<circle cx="147.5" cy="386.1" r="0.49" fill="#e9432f"/>
<circle cx="145.5" cy="380.7" r="0.35" fill="#e5229a"/>
<circle cx="143.3" cy="384.4" r="0.36" fill="#e5229a"/>
<circle cx="152.7" cy="379.1" r="0.46" fill="#e9432f"/>
<circle cx="145.5" cy="388.5" r="0.39" fill="#e5229a"/>
<circle cx="143.4" cy="387.6" r="0.47" fill="#e5229a"/>
<circle cx="145.8" cy="378.8" r="0.48" fill="#e9432f"/>
<circle cx="149.8" cy="383.1" r="0.42" fill="#e9432f"/>
<circle cx="143.5" cy="380.6" r="0.51" fill="#e5229a"/>
<circle cx="145.8" cy="381.3" r="0.37" fill="#e5229a"/>
<circle cx="144.9" cy="381.2" r="0.36" fill="#e5229a"/>
<circle cx="143.7" cy="384.3" r="0.53" fill="#e9432f"/>
<circle cx="143.7" cy="381.8" r="0.51" fill="#e9432f"/>
<circle cx="146.6" cy="386.6" r="0.51" fill="#e5229a"/>
<circle cx="148.1" cy="384.4" r="0.50" fill="#e5229a"/>
<circle cx="152.9" cy="379.9" r="0.54" fill="#ee3c50"/>
<circle cx="142.9" cy="379.4" r="0.35" fill="#e5229a"/>
<circle cx="148.8" cy="379.6" r="0.52" fill="#ee3c50"/>
<circle cx="152.2" cy="389.0" r="0.41" fill="#e5229a"/>
<circle cx="151.0" cy="383.6" r="0.45" fill="#e5229a"/>
<circle cx="145.0" cy="380.0" r="0.48" fill="#e9432f"/>
<circle cx="147.0" cy="380.2" r="0.35" fill="#ee3c50"/>
<circle cx="148.8" cy="379.2" r="0.48" fill="#e9432f"/>
<circle cx="144.6" cy="388.9" r="0.38" fill="#ee3c50"/>
<circle cx="146.8" cy="379.9" r="0.47" fill="#e5229a"/>
<circle cx="150.2" cy="386.4" r="0.41" fill="#ee3c50"/>
<circle cx="150.6" cy="386.9" r="0.54" fill="#e5229a"/>
<circle cx="150.1" cy="388.7" r="0.53" fill="#ee3c50"/>
<circle cx="152.9" cy="382.2" r="0.50" fill="#ee3c50"/>
<circle cx="151.5" cy="379.3" r="0.53" fill="#e9432f"/>
<circle cx="148.0" cy="381.3" r="0.53" fill="#e9432f"/>
<circle cx="144.0" cy="384.6" r="0.39" fill="#ee3c50"/>
<circle cx="144.8" cy="388.0" r="0.50" fill="#e5229a"/>
<circle cx="150.3" cy="381.1" r="0.55" fill="#e5229a"/>
<circle cx="145.5" cy="381.9" r="0.53" fill="#e9432f"/>
<circle cx="144.1" cy="381.7" r="0.46" fill="#e5229a"/>
<circle cx="143.8" cy="380.8" r="0.40" fill="#e9432f"/>
<circle cx="149.7" cy="388.3" r="0.39" fill="#e5229a"/>
<circle cx="146.5" cy="387.7" r="0.43" fill="#ee3c50"/>
<circle cx="142.6" cy="386.2" r="0.36" fill="#e5229a"/>
<circle cx="147.1" cy="385.8" r="0.46" fill="#ee3c50"/>
<circle cx="144.6" cy="388.3" r="0.53" fill="#ee3c50"/>
<circle cx="143.9" cy="381.7" r="0.47" fill="#ee3c50"/>
<circle cx="144.9" cy="385.1" r="0.51" fill="#e5229a"/>
<circle cx="148.0" cy="385.5" r="0.46" fill="#e9432f"/>
<circle cx="145.3" cy="383.2" r="0.49" fill="#e5229a"/>
<circle cx="148.7" cy="389.2" r="0.42" fill="#e5229a"/>
<circle cx="144.6" cy="380.8" r="0.42" fill="#e9432f"/>
<circle cx="147.3" cy="382.4" r="0.42" fill="#e5229a"/>
<circle cx="147.3" cy="389.4" r="0.49" fill="#e9432f"/>
<circle cx="147.0" cy="385.4" r="0.40" fill="#e5229a"/>
<circle cx="149.4" cy="387.0" r="0.39" fill="#e5229a"/>
<circle cx="142.9" cy="381.3" r="0.41" fill="#e9432f"/>
<circle cx="149.0" cy="379.7" r="0.44" fill="#ee3c50"/>
<circle cx="148.1" cy="384.9" r="0.38" fill="#e9432f"/>
<circle cx="147.1" cy="383.9" r="0.54" fill="#e5229a"/>
<circle cx="149.2" cy="381.4" r="0.43" fill="#ee3c50"/>
<circle cx="152.6" cy="385.0" r="0.53" fill="#e5229a"/>
<circle cx="143.1" cy="378.8" r="0.53" fill="#ee3c50"/>
<circle cx="143.6" cy="387.0" r="0.35" fill="#e5229a"/>
<circle cx="143.9" cy="380.7" r="0.50" fill="#e5229a"/>
<circle cx="148.7" cy="381.4" r="0.42" fill="#e9432f"/>
<circle cx="145.0" cy="387.2" r="0.53" fill="#e5229a"/>
<circle cx="152.4" cy="384.8" r="0.40" fill="#ee3c50"/>
<circle cx="143.1" cy="382.5" r="0.43" fill="#e5229a"/>
<circle cx="152.8" cy="388.4" r="0.55" fill="#e5229a"/>
<circle cx="150.5" cy="382.5" r="0.48" fill="#e5229a"/>
<circle cx="150.1" cy="385.0" r="0.46" fill="#e9432f"/>
<circle cx="149.6" cy="379.3" r="0.39" fill="#ee3c50"/>
<circle cx="145.2" cy="387.2" r="0.47" fill="#ee3c50"/>
<circle cx="146.2" cy="388.2" r="0.53" fill="#e5229a"/>
<circle cx="144.3" cy="386.3" r="0.39" fill="#e5229a"/>
<circle cx="149.9" cy="388.0" r="0.47" fill="#ee3c50"/>
<circle cx="148.0" cy="385.6" r="0.49" fill="#e5229a"/>
<circle cx="143.4" cy="379.9" r="0.49" fill="#ee3c50"/>
<circle cx="143.0" cy="379.2" r="0.38" fill="#ee3c50"/>
<circle cx="150.0" cy="383.2" r="0.53" fill="#e9432f"/>
<circle cx="147.6" cy="387.6" r="0.42" fill="#e9432f"/>
<circle cx="148.7" cy="388.4" r="0.50" fill="#e9432f"/>
<circle cx="149.9" cy="381.8" r="0.36" fill="#e5229a"/>
<circle cx="147.5" cy="382.4" r="0.42" fill="#ee3c50"/>
<circle cx="144.2" cy="383.8" r="0.38" fill="#e9432f"/>
<circle cx="147.7" cy="383.0" r="0.41" fill="#ee3c50"/>
<circle cx="145.0" cy="384.3" r="0.54" fill="#e9432f"/>
<circle cx="147.8" cy="387.7" r="0.42" fill="#e5229a"/>
<circle cx="151.8" cy="381.1" r="0.45" fill="#ee3c50"/>
<circle cx="144.8" cy="383.5" r="0.47" fill="#e5229a"/>
<circle cx="145.4" cy="381.2" r="0.44" fill="#e9432f"/>
<circle cx="146.7" cy="379.0" r="0.45" fill="#e9432f"/>
<circle cx="144.4" cy="384.8" r="0.36" fill="#e5229a"/>
<circle cx="148.5" cy="379.0" r="0.47" fill="#e5229a"/>
<circle cx="148.4" cy="385.9" r="0.42" fill="#ee3c50"/>
<circle cx="145.4" cy="379.1" r="0.49" fill="#ee3c50"/>
<circle cx="147.9" cy="381.7" r="0.54" fill="#e5229a"/>
<circle cx="152.7" cy="386.6" r="0.36" fill="#e5229a"/>
<circle cx="150.1" cy="380.8" r="0.55" fill="#ee3c50"/>
<circle cx="147.7" cy="384.1" r="0.50" fill="#e5229a"/>
<circle cx="149.8" cy="380.4" r="0.35" fill="#e9432f"/>
<circle cx="153.0" cy="384.9" r="0.37" fill="#e9432f"/>
<circle cx="148.7" cy="388.1" r="0.50" fill="#ee3c50"/>
<circle cx="130.3" cy="422.3" r="0.33" fill="#e5229a"/>
<circle cx="129.1" cy="419.6" r="0.43" fill="#e5229a"/>
<circle cx="129.3" cy="414.3" r="0.39" fill="#ee5336"/>
<circle cx="127.3" cy="404.7" r="0.43" fill="#ee5336"/>
<circle cx="125.8" cy="407.0" r="0.45" fill="#e5229a"/>
<circle cx="128.0" cy="400.8" r="0.50" fill="#ee5336"/>
<circle cx="129.7" cy="406.0" r="0.47" fill="#ee5336"/>
<circle cx="129.9" cy="414.2" r="0.40" fill="#e5229a"/>
<circle cx="126.7" cy="417.1" r="0.41" fill="#ee5336"/>
<circle cx="128.2" cy="415.7" r="0.47" fill="#e5229a"/>
<circle cx="125.8" cy="413.0" r="0.42" fill="#e5229a"/>
<circle cx="129.0" cy="409.6" r="0.32" fill="#ee5336"/>
<circle cx="128.7" cy="400.6" r="0.37" fill="#e5229a"/>
<circle cx="128.1" cy="404.8" r="0.44" fill="#ee5336"/>
<circle cx="129.0" cy="409.0" r="0.32" fill="#e5229a"/>
<circle cx="133.3" cy="409.7" r="0.40" fill="#e5229a"/>
<circle cx="126.1" cy="417.5" r="0.39" fill="#ee5336"/>
<circle cx="129.0" cy="423.7" r="0.37" fill="#ee5336"/>
<circle cx="125.6" cy="421.7" r="0.31" fill="#e5229a"/>
<circle cx="128.4" cy="423.3" r="0.37" fill="#ee5336"/>
<circle cx="127.0" cy="419.8" r="0.36" fill="#ee5336"/>
<circle cx="129.6" cy="405.6" r="0.37" fill="#e5229a"/>
<circle cx="126.8" cy="401.2" r="0.37" fill="#ee5336"/>
<circle cx="130.0" cy="409.2" r="0.43" fill="#ee5336"/>
<circle cx="131.9" cy="401.7" r="0.31" fill="#e5229a"/>
<circle cx="125.8" cy="411.3" r="0.45" fill="#ee5336"/>
<circle cx="126.6" cy="400.1" r="0.39" fill="#e5229a"/>
<circle cx="128.7" cy="401.4" r="0.37" fill="#e5229a"/>
<circle cx="126.3" cy="405.2" r="0.36" fill="#ee5336"/>
<circle cx="127.2" cy="410.0" r="0.41" fill="#e5229a"/>
<circle cx="130.2" cy="420.2" r="0.42" fill="#e5229a"/>
<circle cx="126.0" cy="420.9" r="0.39" fill="#ee5336"/>
<circle cx="131.8" cy="417.9" r="0.46" fill="#e5229a"/>
<circle cx="133.1" cy="415.5" r="0.34" fill="#ee5336"/>
<circle cx="128.5" cy="413.9" r="0.38" fill="#ee5336"/>
<circle cx="126.1" cy="414.6" r="0.48" fill="#ee5336"/>
<circle cx="126.6" cy="409.0" r="0.40" fill="#ee5336"/>
<circle cx="126.8" cy="413.2" r="0.37" fill="#ee5336"/>
<circle cx="128.8" cy="403.3" r="0.43" fill="#ee5336"/>
<circle cx="127.5" cy="420.6" r="0.33" fill="#e5229a"/>
<circle cx="126.8" cy="412.3" r="0.48" fill="#ee5336"/>
<circle cx="125.9" cy="420.1" r="0.42" fill="#ee5336"/>
<circle cx="129.9" cy="418.6" r="0.37" fill="#e5229a"/>
<circle cx="127.7" cy="408.1" r="0.50" fill="#ee5336"/>
<circle cx="129.8" cy="412.9" r="0.36" fill="#ee5336"/>
<circle cx="128.4" cy="408.7" r="0.41" fill="#e5229a"/>
<circle cx="134.4" cy="417.0" r="0.41" fill="#e5229a"/>
<circle cx="125.7" cy="404.0" r="0.41" fill="#ee5336"/>
<circle cx="126.9" cy="401.0" r="0.41" fill="#ee5336"/>
<circle cx="126.3" cy="413.5" r="0.33" fill="#e5229a"/>
<circle cx="128.2" cy="409.4" r="0.42" fill="#e5229a"/>
<circle cx="129.5" cy="404.5" r="0.47" fill="#e5229a"/>
<circle cx="128.2" cy="409.5" r="0.34" fill="#e5229a"/>
<circle cx="133.5" cy="414.4" r="0.37" fill="#ee5336"/>
<circle cx="128.7" cy="403.8" r="0.39" fill="#ee5336"/>
<circle cx="133.1" cy="403.0" r="0.49" fill="#e5229a"/>
<circle cx="126.6" cy="414.4" r="0.46" fill="#e5229a"/>
<circle cx="129.8" cy="414.0" r="0.38" fill="#ee5336"/>
<circle cx="129.9" cy="414.1" r="0.41" fill="#ee5336"/>
<circle cx="131.6" cy="407.6" r="0.40" fill="#ee5336"/>
<circle cx="127.3" cy="405.8" r="0.40" fill="#ee5336"/>
<circle cx="130.4" cy="401.6" r="0.46" fill="#e5229a"/>
<text x="108.2" y="275.2" font-size="5.2" font-weight="bold" fill="#222" text-anchor="middle" opacity="0.8">0</text>
<text x="127.2" y="289.4" font-size="5.2" font-weight="bold" fill="#222" text-anchor="middle" opacity="0.8">1</text>
<text x="149.9" y="298.7" font-size="5.2" font-weight="bold" fill="#222" text-anchor="middle" opacity="0.8">2</text>
<text x="170.9" y="306.5" font-size="5.2" font-weight="bold" fill="#222" text-anchor="middle" opacity="0.8">3</text>
<text x="109.9" y="310.2" font-size="5.2" font-weight="bold" fill="#222" text-anchor="middle" opacity="0.8">4</text>
<text x="120.6" y="325.5" font-size="5.2" font-weight="bold" fill="#222" text-anchor="middle" opacity="0.8">5</text>
<text x="29.5" y="347.4" font-size="5.2" font-weight="bold" fill="#222" text-anchor="middle" opacity="0.8">8</text>
<text x="46.5" y="337.7" font-size="5.2" font-weight="bold" fill="#222" text-anchor="middle" opacity="0.8">9</text>
<text x="55.8" y="400.2" font-size="5.2" font-weight="bold" fill="#222" text-anchor="middle" opacity="0.8">12</text>
<text x="153.2" y="395.5" font-size="5.2" font-weight="bold" fill="#222" text-anchor="middle" opacity="0.8">13</text>
<text x="119.2" y="412.2" font-size="5.2" font-weight="bold" fill="#222" text-anchor="middle" opacity="0.8">14</text>
<text x="132.1" y="398.9" font-size="5.2" font-weight="bold" fill="#222" text-anchor="middle" opacity="0.8">15</text>
<text x="105.9" y="404.1" font-size="5.2" font-weight="bold" fill="#222" text-anchor="middle" opacity="0.8">16</text>
<text x="130" y="438.8" font-size="5.2" font-weight="bold" fill="#222" text-anchor="middle" opacity="0.8">17</text>
<text x="98.3" y="354.2" font-size="5.2" font-weight="bold" fill="#222" text-anchor="middle" opacity="0.8">11</text>
<line x1="16.3" y1="448" x2="16.3" y2="424" stroke="#333" stroke-width="0.8"/>
<line x1="16" y1="448" x2="41" y2="448" stroke="#333" stroke-width="0.8"/>
<path d="M16.4,419.5 L19.4,425.4 L13.4,425.4 Z" fill="#222"/>
<path d="M45.4,448 L39.3,445.1 L39.3,450.9 Z" fill="#222"/>
<text x="27.8" y="456.3" font-size="5.5" fill="#333" text-anchor="middle">UMAP1</text>
<text transform="translate(12.4,436.3) rotate(-90)" font-size="5.5" fill="#333" text-anchor="middle">UMAP2</text>
<text transform="translate(201.4,295.4) scale(0.86,1)" font-size="6.4" fill="#3c3c3c" text-anchor="middle">0</text>
<circle cx="209.9" cy="293.1" r="1.65" fill="#c8c8c8"/>
<text transform="translate(201.4,303.2) scale(0.86,1)" font-size="6.4" fill="#3c3c3c" text-anchor="middle">1</text>
<circle cx="209.9" cy="300.9" r="1.65" fill="#1b72c3"/>
<text transform="translate(201.4,310.8) scale(0.86,1)" font-size="6.4" fill="#3c3c3c" text-anchor="middle">2</text>
<circle cx="209.9" cy="308.5" r="1.65" fill="#1b72c3"/>
<text transform="translate(201.4,318.6) scale(0.86,1)" font-size="6.4" fill="#3c3c3c" text-anchor="middle">3</text>
<circle cx="209.9" cy="316.3" r="1.65" fill="#1b6ec0"/>
<text transform="translate(201.4,326.2) scale(0.86,1)" font-size="6.4" fill="#3c3c3c" text-anchor="middle">4</text>
<circle cx="209.9" cy="323.9" r="1.65" fill="#2b48b0"/>
<text transform="translate(201.4,333.8) scale(0.86,1)" font-size="6.4" fill="#3c3c3c" text-anchor="middle">5</text>
<circle cx="209.9" cy="331.5" r="1.65" fill="#1db2b7"/>
<text transform="translate(201.4,341.6) scale(0.86,1)" font-size="6.4" fill="#3c3c3c" text-anchor="middle">6</text>
<circle cx="209.9" cy="339.3" r="1.65" fill="#1e6cc0"/>
<text transform="translate(201.4,349.4) scale(0.86,1)" font-size="6.4" fill="#3c3c3c" text-anchor="middle">7</text>
<circle cx="209.9" cy="347.1" r="1.65" fill="#1f3f98"/>
<text transform="translate(201.4,357.2) scale(0.86,1)" font-size="6.4" fill="#3c3c3c" text-anchor="middle">8</text>
<circle cx="209.9" cy="354.9" r="1.65" fill="#5a3db5"/>
<text transform="translate(201.4,364.6) scale(0.86,1)" font-size="6.4" fill="#3c3c3c" text-anchor="middle">9</text>
<circle cx="209.9" cy="362.3" r="1.65" fill="#7d3fb6"/>
<text transform="translate(201.4,372.2) scale(0.86,1)" font-size="6.4" fill="#3c3c3c" text-anchor="middle">10</text>
<circle cx="209.9" cy="369.9" r="1.65" fill="#5a2e9e"/>
<text transform="translate(201.4,380.0) scale(0.86,1)" font-size="6.4" fill="#3c3c3c" text-anchor="middle">11</text>
<circle cx="209.9" cy="377.7" r="1.65" fill="#e3282a"/>
<text transform="translate(201.4,388.0) scale(0.86,1)" font-size="6.4" fill="#3c3c3c" text-anchor="middle">12</text>
<circle cx="209.9" cy="385.7" r="1.65" fill="#1e9a4a"/>
<text transform="translate(201.4,395.6) scale(0.86,1)" font-size="6.4" fill="#3c3c3c" text-anchor="middle">13</text>
<circle cx="209.9" cy="393.3" r="1.65" fill="#e2208c"/>
<text transform="translate(201.4,403.0) scale(0.86,1)" font-size="6.4" fill="#3c3c3c" text-anchor="middle">14</text>
<circle cx="209.9" cy="400.7" r="1.65" fill="#ea5a32"/>
<text transform="translate(201.4,411.0) scale(0.86,1)" font-size="6.4" fill="#3c3c3c" text-anchor="middle">15</text>
<circle cx="209.9" cy="408.7" r="1.65" fill="#e83532"/>
<text transform="translate(201.4,418.8) scale(0.86,1)" font-size="6.4" fill="#3c3c3c" text-anchor="middle">16</text>
<circle cx="209.9" cy="416.5" r="1.65" fill="#f19030"/>
<text transform="translate(201.4,426.2) scale(0.86,1)" font-size="6.4" fill="#3c3c3c" text-anchor="middle">17</text>
<circle cx="209.9" cy="423.9" r="1.65" fill="#33a84c"/>
<line x1="213.2" y1="291.6" x2="213.2" y2="349.6" stroke="#222" stroke-width="0.9"/>
<line x1="213.2" y1="353.4" x2="213.2" y2="363.3" stroke="#222" stroke-width="0.9"/>
<line x1="213.2" y1="391.6" x2="213.2" y2="403.2" stroke="#222" stroke-width="0.9"/>
<line x1="198.4" y1="351.7" x2="266" y2="351.7" stroke="#555" stroke-width="0.9" stroke-dasharray="5.2,1.9"/>
<line x1="197.4" y1="381.1" x2="266" y2="381.1" stroke="#555" stroke-width="0.9" stroke-dasharray="5.2,1.9"/>
<text x="215.7" y="316.2" font-size="5.55" fill="#141414">Neutrophils</text>
<text x="215.7" y="360.5" font-size="5.55" fill="#141414">CD14+ Monocytes</text>
<text x="215.7" y="372.1" font-size="5.55" fill="#141414">CD16+ Monocytes</text>
<text x="215.7" y="379.5" font-size="5.55" fill="#141414">Megakaryocytes</text>
<text x="215.7" y="387.7" font-size="5.55" fill="#141414">B cells</text>
<text x="215.7" y="399.1" font-size="5.55" fill="#141414">CD4+T cells</text>
<text x="215.7" y="410.7" font-size="5.55" fill="#141414">CD8+T cells</text>
<text x="215.7" y="418.5" font-size="5.55" fill="#141414">gamma-delat T cells</text>
<text x="215.7" y="425.9" font-size="5.55" fill="#141414">NK cells</text>
</g></svg>
</body></html>
